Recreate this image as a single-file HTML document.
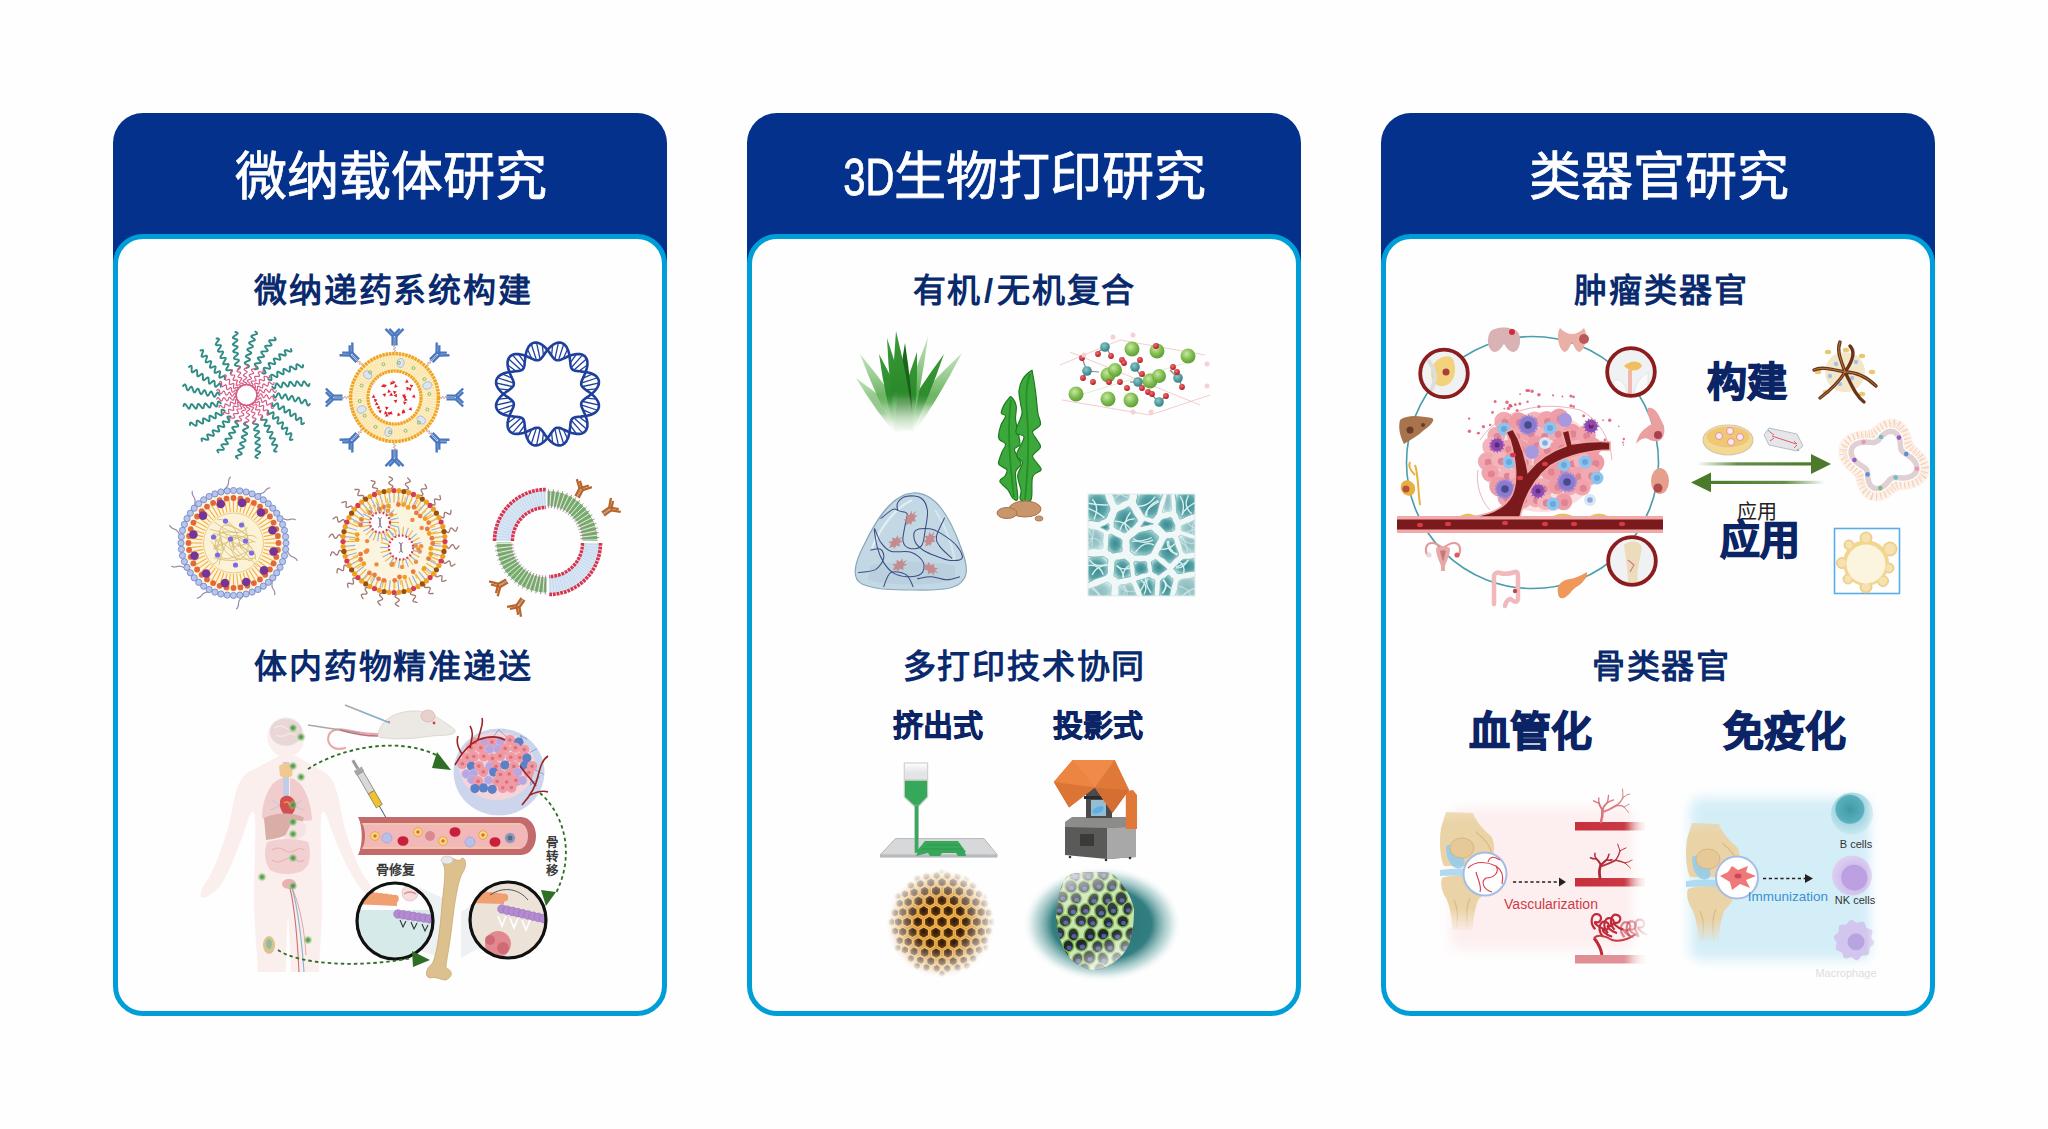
<!DOCTYPE html><html lang="zh-CN"><head><meta charset="utf-8"><style>
*{margin:0;padding:0;box-sizing:border-box}
html,body{width:2048px;height:1129px;background:#fefefe;overflow:hidden;font-family:"Liberation Sans",sans-serif}
.card{position:absolute;top:113px;width:554px;height:903px}
.hdr{position:absolute;left:0;top:0;width:554px;height:170px;background:#03318c;border-radius:30px 30px 0 0}
.panel{position:absolute;left:0;top:121px;width:554px;height:782px;background:#fefefe;border:5px solid #009ed8;border-radius:30px}
.t{position:absolute;white-space:nowrap;color:#0a2a6e;font-weight:700}
svg.ill{position:absolute;left:0;top:0}
</style></head><body><div class="card" style="left:113px"><div class="hdr"></div><div class="panel"></div></div>
<div class="card" style="left:747px"><div class="hdr"></div><div class="panel"></div></div>
<div class="card" style="left:1381px"><div class="hdr"></div><div class="panel"></div></div>
<svg class="ill" width="2048" height="1129" viewBox="0 0 2048 1129"><polyline points="273.5,395.0 274.1,396.4 274.7,397.3 275.3,397.6 275.9,397.1 276.6,396.0 277.2,394.7 277.8,393.6 278.5,393.2 279.1,393.5 279.7,394.6 280.3,396.0 280.8,397.4 281.4,398.3 282.0,398.5 282.7,398.0 283.3,396.9 284.0,395.6 284.6,394.7 285.3,394.3 285.9,394.8 286.5,395.9 287.0,397.3 287.5,398.7 288.1,399.6 288.7,399.8 289.4,399.2 290.0,398.1 290.7,396.9 291.4,396.0 292.1,395.8 292.6,396.3 293.2,397.5 293.7,399.0 294.2,400.4 294.7,401.3 295.3,401.4 296.0,400.8 296.7,399.7 297.4,398.6 298.1,397.7 298.8,397.6 299.3,398.2 299.8,399.5 300.3,401.0 300.8,402.4 301.3,403.3 301.9,403.4 302.6,402.7 303.3,401.7 304.1,400.5 304.8,399.8 305.4,399.8 306.0,400.5 306.4,401.8 306.8,403.4 307.3,404.8 307.8,405.6 308.4,405.6 309.1,405.0 309.9,403.9" fill="none" stroke="#2f8c85" stroke-width="1.9" stroke-linecap="round" stroke-linejoin="round"/>
<polyline points="272.2,403.3 272.3,404.8 272.6,405.9 273.1,406.4 273.9,406.1 274.8,405.2 275.8,404.2 276.7,403.4 277.5,403.2 277.9,403.7 278.2,404.8 278.3,406.4 278.4,407.9 278.7,408.9 279.2,409.3 280.0,409.0 280.9,408.2 282.0,407.2 282.9,406.5 283.6,406.3 284.0,406.9 284.2,408.2 284.3,409.7 284.4,411.2 284.6,412.2 285.2,412.6 286.0,412.2 286.9,411.4 288.0,410.5 288.9,409.9 289.6,409.8 290.0,410.5 290.1,411.8 290.1,413.4 290.2,414.9 290.4,415.9 291.0,416.2 291.8,415.8 292.8,415.0 293.8,414.1 294.8,413.6 295.4,413.6 295.7,414.4 295.8,415.8 295.8,417.4 295.8,418.8 296.1,419.8 296.6,420.1 297.5,419.7 298.5,418.9 299.5,418.1 300.4,417.6 301.1,417.8 301.3,418.6 301.4,420.0 301.3,421.6 301.3,423.1 301.5,424.0 302.1,424.2 303.0,423.8 304.0,423.1" fill="none" stroke="#2f8c85" stroke-width="1.9" stroke-linecap="round" stroke-linejoin="round"/>
<polyline points="268.3,410.9 268.0,412.3 268.0,413.5 268.3,414.0 269.1,414.0 270.3,413.5 271.5,412.8 272.7,412.3 273.4,412.3 273.7,413.0 273.6,414.2 273.2,415.7 272.9,417.1 272.8,418.2 273.2,418.7 274.0,418.7 275.2,418.2 276.5,417.5 277.6,417.1 278.3,417.2 278.5,418.0 278.3,419.2 277.9,420.7 277.5,422.1 277.4,423.2 277.8,423.7 278.7,423.6 279.9,423.1 281.2,422.6 282.2,422.2 282.9,422.4 283.1,423.2 282.8,424.5 282.3,426.0 281.9,427.4 281.8,428.4 282.2,428.9 283.1,428.8 284.4,428.3 285.6,427.8 286.7,427.6 287.3,427.8 287.3,428.7 287.0,430.0 286.5,431.5 286.0,432.9 286.0,433.9 286.4,434.3 287.3,434.2 288.6,433.8 289.8,433.3 290.8,433.2 291.4,433.5 291.4,434.4 291.0,435.8 290.4,437.3 289.9,438.6 289.9,439.6 290.3,440.0 291.3,439.9 292.5,439.5" fill="none" stroke="#2f8c85" stroke-width="1.9" stroke-linecap="round" stroke-linejoin="round"/>
<polyline points="262.4,416.8 261.6,418.1 261.2,419.2 261.4,419.8 262.1,420.0 263.4,419.9 264.8,419.7 266.0,419.6 266.7,419.8 266.8,420.5 266.4,421.6 265.5,422.9 264.8,424.2 264.4,425.2 264.5,425.8 265.4,426.0 266.6,425.9 268.0,425.7 269.2,425.7 269.8,426.0 269.8,426.7 269.3,427.8 268.4,429.1 267.6,430.4 267.2,431.4 267.4,432.0 268.3,432.1 269.6,432.1 271.0,431.9 272.1,431.9 272.6,432.3 272.5,433.1 271.9,434.2 271.0,435.5 270.2,436.8 269.8,437.7 270.0,438.3 270.9,438.5 272.2,438.4 273.6,438.3 274.6,438.4 275.1,438.8 274.9,439.7 274.2,440.8 273.2,442.1 272.4,443.3 272.0,444.2 272.3,444.7 273.2,444.9 274.5,444.9 275.9,444.8 276.9,445.0 277.3,445.5 277.0,446.3 276.2,447.5 275.2,448.8 274.3,449.9 274.0,450.8 274.3,451.3 275.2,451.5 276.5,451.5" fill="none" stroke="#2f8c85" stroke-width="1.9" stroke-linecap="round" stroke-linejoin="round"/>
<polyline points="254.8,420.7 253.7,421.7 253.0,422.6 253.0,423.2 253.6,423.6 254.9,423.9 256.3,424.1 257.5,424.4 258.1,424.9 258.0,425.5 257.2,426.4 256.0,427.4 254.9,428.4 254.2,429.2 254.1,429.9 254.9,430.3 256.1,430.6 257.5,430.8 258.6,431.2 259.1,431.7 258.9,432.4 258.0,433.3 256.8,434.2 255.6,435.2 255.0,436.0 255.0,436.6 255.7,437.1 257.0,437.4 258.3,437.7 259.4,438.0 259.8,438.6 259.5,439.3 258.5,440.2 257.3,441.1 256.1,442.0 255.4,442.8 255.5,443.4 256.3,443.9 257.5,444.2 258.9,444.5 259.8,445.0 260.2,445.5 259.7,446.3 258.7,447.1 257.4,448.0 256.2,448.9 255.6,449.7 255.7,450.3 256.5,450.7 257.7,451.1 259.0,451.5 259.9,451.9 260.2,452.5 259.6,453.3 258.5,454.1 257.1,455.0 256.0,455.8 255.4,456.6 255.5,457.2 256.3,457.6 257.6,458.0" fill="none" stroke="#2f8c85" stroke-width="1.9" stroke-linecap="round" stroke-linejoin="round"/>
<polyline points="246.5,422.0 245.1,422.6 244.2,423.2 243.9,423.8 244.4,424.4 245.5,425.1 246.8,425.7 247.9,426.3 248.3,427.0 248.0,427.6 246.9,428.2 245.5,428.8 244.1,429.3 243.2,429.9 243.0,430.5 243.5,431.2 244.6,431.8 245.9,432.5 246.8,433.1 247.2,433.8 246.7,434.4 245.6,435.0 244.2,435.5 242.8,436.0 241.9,436.6 241.7,437.2 242.3,437.9 243.4,438.5 244.6,439.2 245.5,439.9 245.7,440.6 245.2,441.1 244.0,441.7 242.5,442.2 241.1,442.7 240.2,443.2 240.1,443.8 240.7,444.5 241.8,445.2 242.9,445.9 243.8,446.6 243.9,447.3 243.3,447.8 242.0,448.3 240.5,448.8 239.1,449.3 238.2,449.8 238.1,450.4 238.8,451.1 239.8,451.8 241.0,452.6 241.7,453.3 241.7,453.9 241.0,454.5 239.7,454.9 238.1,455.3 236.7,455.8 235.9,456.3 235.9,456.9 236.5,457.6 237.6,458.4" fill="none" stroke="#2f8c85" stroke-width="1.9" stroke-linecap="round" stroke-linejoin="round"/>
<polyline points="238.2,420.7 236.7,420.8 235.6,421.1 235.1,421.6 235.4,422.4 236.3,423.3 237.3,424.3 238.1,425.2 238.3,426.0 237.8,426.4 236.7,426.7 235.1,426.8 233.6,426.9 232.6,427.2 232.2,427.7 232.5,428.5 233.3,429.4 234.3,430.5 235.0,431.4 235.2,432.1 234.6,432.5 233.3,432.7 231.8,432.8 230.3,432.9 229.3,433.1 228.9,433.7 229.3,434.5 230.1,435.4 231.0,436.5 231.6,437.4 231.7,438.1 231.0,438.5 229.7,438.6 228.1,438.6 226.6,438.7 225.6,438.9 225.3,439.5 225.7,440.3 226.5,441.3 227.4,442.3 227.9,443.3 227.9,443.9 227.1,444.2 225.7,444.3 224.1,444.3 222.7,444.3 221.7,444.6 221.4,445.1 221.8,446.0 222.6,447.0 223.4,448.0 223.9,448.9 223.7,449.6 222.9,449.8 221.5,449.9 219.9,449.8 218.4,449.8 217.5,450.0 217.3,450.6 217.7,451.5 218.4,452.5" fill="none" stroke="#2f8c85" stroke-width="1.9" stroke-linecap="round" stroke-linejoin="round"/>
<polyline points="230.6,416.8 229.2,416.5 228.0,416.5 227.5,416.8 227.5,417.6 228.0,418.8 228.7,420.0 229.2,421.2 229.2,421.9 228.5,422.2 227.3,422.1 225.8,421.7 224.4,421.4 223.3,421.3 222.8,421.7 222.8,422.5 223.3,423.7 224.0,425.0 224.4,426.1 224.3,426.8 223.5,427.0 222.3,426.8 220.8,426.4 219.4,426.0 218.3,425.9 217.8,426.3 217.9,427.2 218.4,428.4 218.9,429.7 219.3,430.7 219.1,431.4 218.3,431.6 217.0,431.3 215.5,430.8 214.1,430.4 213.1,430.3 212.6,430.7 212.7,431.6 213.2,432.9 213.7,434.1 213.9,435.2 213.7,435.8 212.8,435.8 211.5,435.5 210.0,435.0 208.6,434.5 207.6,434.5 207.2,434.9 207.3,435.8 207.7,437.1 208.2,438.3 208.3,439.3 208.0,439.9 207.1,439.9 205.7,439.5 204.2,438.9 202.9,438.4 201.9,438.4 201.5,438.8 201.6,439.8 202.0,441.0" fill="none" stroke="#2f8c85" stroke-width="1.9" stroke-linecap="round" stroke-linejoin="round"/>
<polyline points="224.7,410.9 223.4,410.1 222.3,409.7 221.7,409.9 221.5,410.6 221.6,411.9 221.8,413.3 221.9,414.5 221.7,415.2 221.0,415.3 219.9,414.9 218.6,414.0 217.3,413.3 216.3,412.9 215.7,413.0 215.5,413.9 215.6,415.1 215.8,416.5 215.8,417.7 215.5,418.3 214.8,418.3 213.7,417.8 212.4,416.9 211.1,416.1 210.1,415.7 209.5,415.9 209.4,416.8 209.4,418.1 209.6,419.5 209.6,420.6 209.2,421.1 208.4,421.0 207.3,420.4 206.0,419.5 204.7,418.7 203.8,418.3 203.2,418.5 203.0,419.4 203.1,420.7 203.2,422.1 203.1,423.1 202.7,423.6 201.8,423.4 200.7,422.7 199.4,421.7 198.2,420.9 197.3,420.5 196.8,420.8 196.6,421.7 196.6,423.0 196.7,424.4 196.5,425.4 196.0,425.8 195.2,425.5 194.0,424.7 192.7,423.7 191.6,422.8 190.7,422.5 190.2,422.8 190.0,423.7 190.0,425.0" fill="none" stroke="#2f8c85" stroke-width="1.9" stroke-linecap="round" stroke-linejoin="round"/>
<polyline points="220.8,403.3 219.8,402.2 218.9,401.5 218.3,401.5 217.9,402.1 217.6,403.4 217.4,404.8 217.1,406.0 216.6,406.6 216.0,406.5 215.1,405.7 214.1,404.5 213.1,403.4 212.3,402.7 211.6,402.6 211.2,403.4 210.9,404.6 210.7,406.0 210.3,407.1 209.8,407.6 209.1,407.4 208.2,406.5 207.3,405.3 206.3,404.1 205.5,403.5 204.9,403.5 204.4,404.2 204.1,405.5 203.8,406.8 203.5,407.9 202.9,408.3 202.2,408.0 201.3,407.0 200.4,405.8 199.5,404.6 198.7,403.9 198.1,404.0 197.6,404.8 197.3,406.0 197.0,407.4 196.5,408.3 196.0,408.7 195.2,408.2 194.4,407.2 193.5,405.9 192.6,404.7 191.8,404.1 191.2,404.2 190.8,405.0 190.4,406.2 190.0,407.5 189.6,408.4 189.0,408.7 188.2,408.1 187.4,407.0 186.5,405.6 185.7,404.5 184.9,403.9 184.3,404.0 183.9,404.8 183.5,406.1" fill="none" stroke="#2f8c85" stroke-width="1.9" stroke-linecap="round" stroke-linejoin="round"/>
<polyline points="219.5,395.0 218.9,393.6 218.3,392.7 217.7,392.4 217.1,392.9 216.4,394.0 215.8,395.3 215.2,396.4 214.5,396.8 213.9,396.5 213.3,395.4 212.7,394.0 212.2,392.6 211.6,391.7 211.0,391.5 210.3,392.0 209.7,393.1 209.0,394.4 208.4,395.3 207.7,395.7 207.1,395.2 206.5,394.1 206.0,392.7 205.5,391.3 204.9,390.4 204.3,390.2 203.6,390.8 203.0,391.9 202.3,393.1 201.6,394.0 200.9,394.2 200.4,393.7 199.8,392.5 199.3,391.0 198.8,389.6 198.3,388.7 197.7,388.6 197.0,389.2 196.3,390.3 195.6,391.4 194.9,392.3 194.2,392.4 193.7,391.8 193.2,390.5 192.7,389.0 192.2,387.6 191.7,386.7 191.1,386.6 190.4,387.3 189.7,388.3 188.9,389.5 188.2,390.2 187.6,390.2 187.0,389.5 186.6,388.2 186.2,386.6 185.7,385.2 185.2,384.4 184.6,384.4 183.9,385.0 183.1,386.1" fill="none" stroke="#2f8c85" stroke-width="1.9" stroke-linecap="round" stroke-linejoin="round"/>
<polyline points="220.8,386.7 220.7,385.2 220.4,384.1 219.9,383.6 219.1,383.9 218.2,384.8 217.2,385.8 216.3,386.6 215.5,386.8 215.1,386.3 214.8,385.2 214.7,383.6 214.6,382.1 214.3,381.1 213.8,380.7 213.0,381.0 212.1,381.8 211.0,382.8 210.1,383.5 209.4,383.7 209.0,383.1 208.8,381.8 208.7,380.3 208.6,378.8 208.4,377.8 207.8,377.4 207.0,377.8 206.1,378.6 205.0,379.5 204.1,380.1 203.4,380.2 203.0,379.5 202.9,378.2 202.9,376.6 202.8,375.1 202.6,374.1 202.0,373.8 201.2,374.2 200.2,375.0 199.2,375.9 198.2,376.4 197.6,376.4 197.3,375.6 197.2,374.2 197.2,372.6 197.2,371.2 196.9,370.2 196.4,369.9 195.5,370.3 194.5,371.1 193.5,371.9 192.6,372.4 191.9,372.2 191.7,371.4 191.6,370.0 191.7,368.4 191.7,366.9 191.5,366.0 190.9,365.8 190.0,366.2 189.0,366.9" fill="none" stroke="#2f8c85" stroke-width="1.9" stroke-linecap="round" stroke-linejoin="round"/>
<polyline points="224.7,379.1 225.0,377.7 225.0,376.5 224.7,376.0 223.9,376.0 222.7,376.5 221.5,377.2 220.3,377.7 219.6,377.7 219.3,377.0 219.4,375.8 219.8,374.3 220.1,372.9 220.2,371.8 219.8,371.3 219.0,371.3 217.8,371.8 216.5,372.5 215.4,372.9 214.7,372.8 214.5,372.0 214.7,370.8 215.1,369.3 215.5,367.9 215.6,366.8 215.2,366.3 214.3,366.4 213.1,366.9 211.8,367.4 210.8,367.8 210.1,367.6 209.9,366.8 210.2,365.5 210.7,364.0 211.1,362.6 211.2,361.6 210.8,361.1 209.9,361.2 208.6,361.7 207.4,362.2 206.3,362.4 205.7,362.2 205.7,361.3 206.0,360.0 206.5,358.5 207.0,357.1 207.0,356.1 206.6,355.7 205.7,355.8 204.4,356.2 203.2,356.7 202.2,356.8 201.6,356.5 201.6,355.6 202.0,354.2 202.6,352.7 203.1,351.4 203.1,350.4 202.7,350.0 201.7,350.1 200.5,350.5" fill="none" stroke="#2f8c85" stroke-width="1.9" stroke-linecap="round" stroke-linejoin="round"/>
<polyline points="230.6,373.2 231.4,371.9 231.8,370.8 231.6,370.2 230.9,370.0 229.6,370.1 228.2,370.3 227.0,370.4 226.3,370.2 226.2,369.5 226.6,368.4 227.5,367.1 228.2,365.8 228.6,364.8 228.5,364.2 227.6,364.0 226.4,364.1 225.0,364.3 223.8,364.3 223.2,364.0 223.2,363.3 223.7,362.2 224.6,360.9 225.4,359.6 225.8,358.6 225.6,358.0 224.7,357.9 223.4,357.9 222.0,358.1 220.9,358.1 220.4,357.7 220.5,356.9 221.1,355.8 222.0,354.5 222.8,353.2 223.2,352.3 223.0,351.7 222.1,351.5 220.8,351.6 219.4,351.7 218.4,351.6 217.9,351.2 218.1,350.3 218.8,349.2 219.8,347.9 220.6,346.7 221.0,345.8 220.7,345.3 219.8,345.1 218.5,345.1 217.1,345.2 216.1,345.0 215.7,344.5 216.0,343.7 216.8,342.5 217.8,341.2 218.7,340.1 219.0,339.2 218.7,338.7 217.8,338.5 216.5,338.5" fill="none" stroke="#2f8c85" stroke-width="1.9" stroke-linecap="round" stroke-linejoin="round"/>
<polyline points="238.2,369.3 239.3,368.3 240.0,367.4 240.0,366.8 239.4,366.4 238.1,366.1 236.7,365.9 235.5,365.6 234.9,365.1 235.0,364.5 235.8,363.6 237.0,362.6 238.1,361.6 238.8,360.8 238.9,360.1 238.1,359.7 236.9,359.4 235.5,359.2 234.4,358.8 233.9,358.3 234.1,357.6 235.0,356.7 236.2,355.8 237.4,354.8 238.0,354.0 238.0,353.4 237.3,352.9 236.0,352.6 234.7,352.3 233.6,352.0 233.2,351.4 233.5,350.7 234.5,349.8 235.7,348.9 236.9,348.0 237.6,347.2 237.5,346.6 236.7,346.1 235.5,345.8 234.1,345.5 233.2,345.0 232.8,344.5 233.3,343.7 234.3,342.9 235.6,342.0 236.8,341.1 237.4,340.3 237.3,339.7 236.5,339.3 235.3,338.9 234.0,338.5 233.1,338.1 232.8,337.5 233.4,336.7 234.5,335.9 235.9,335.0 237.0,334.2 237.6,333.4 237.5,332.8 236.7,332.4 235.4,332.0" fill="none" stroke="#2f8c85" stroke-width="1.9" stroke-linecap="round" stroke-linejoin="round"/>
<polyline points="246.5,368.0 247.9,367.4 248.8,366.8 249.1,366.2 248.6,365.6 247.5,364.9 246.2,364.3 245.1,363.7 244.7,363.0 245.0,362.4 246.1,361.8 247.5,361.2 248.9,360.7 249.8,360.1 250.0,359.5 249.5,358.8 248.4,358.2 247.1,357.5 246.2,356.9 245.8,356.2 246.3,355.6 247.4,355.0 248.8,354.5 250.2,354.0 251.1,353.4 251.3,352.8 250.7,352.1 249.6,351.5 248.4,350.8 247.5,350.1 247.3,349.4 247.8,348.9 249.0,348.3 250.5,347.8 251.9,347.3 252.8,346.8 252.9,346.2 252.3,345.5 251.2,344.8 250.1,344.1 249.2,343.4 249.1,342.7 249.7,342.2 251.0,341.7 252.5,341.2 253.9,340.7 254.8,340.2 254.9,339.6 254.2,338.9 253.2,338.2 252.0,337.4 251.3,336.7 251.3,336.1 252.0,335.5 253.3,335.1 254.9,334.7 256.3,334.2 257.1,333.7 257.1,333.1 256.5,332.4 255.4,331.6" fill="none" stroke="#2f8c85" stroke-width="1.9" stroke-linecap="round" stroke-linejoin="round"/>
<polyline points="254.8,369.3 256.3,369.2 257.4,368.9 257.9,368.4 257.6,367.6 256.7,366.7 255.7,365.7 254.9,364.8 254.7,364.0 255.2,363.6 256.3,363.3 257.9,363.2 259.4,363.1 260.4,362.8 260.8,362.3 260.5,361.5 259.7,360.6 258.7,359.5 258.0,358.6 257.8,357.9 258.4,357.5 259.7,357.3 261.2,357.2 262.7,357.1 263.7,356.9 264.1,356.3 263.7,355.5 262.9,354.6 262.0,353.5 261.4,352.6 261.3,351.9 262.0,351.5 263.3,351.4 264.9,351.4 266.4,351.3 267.4,351.1 267.7,350.5 267.3,349.7 266.5,348.7 265.6,347.7 265.1,346.7 265.1,346.1 265.9,345.8 267.3,345.7 268.9,345.7 270.3,345.7 271.3,345.4 271.6,344.9 271.2,344.0 270.4,343.0 269.6,342.0 269.1,341.1 269.3,340.4 270.1,340.2 271.5,340.1 273.1,340.2 274.6,340.2 275.5,340.0 275.7,339.4 275.3,338.5 274.6,337.5" fill="none" stroke="#2f8c85" stroke-width="1.9" stroke-linecap="round" stroke-linejoin="round"/>
<polyline points="262.4,373.2 263.8,373.5 265.0,373.5 265.5,373.2 265.5,372.4 265.0,371.2 264.3,370.0 263.8,368.8 263.8,368.1 264.5,367.8 265.7,367.9 267.2,368.3 268.6,368.6 269.7,368.7 270.2,368.3 270.2,367.5 269.7,366.3 269.0,365.0 268.6,363.9 268.7,363.2 269.5,363.0 270.7,363.2 272.2,363.6 273.6,364.0 274.7,364.1 275.2,363.7 275.1,362.8 274.6,361.6 274.1,360.3 273.7,359.3 273.9,358.6 274.7,358.4 276.0,358.7 277.5,359.2 278.9,359.6 279.9,359.7 280.4,359.3 280.3,358.4 279.8,357.1 279.3,355.9 279.1,354.8 279.3,354.2 280.2,354.2 281.5,354.5 283.0,355.0 284.4,355.5 285.4,355.5 285.8,355.1 285.7,354.2 285.3,352.9 284.8,351.7 284.7,350.7 285.0,350.1 285.9,350.1 287.3,350.5 288.8,351.1 290.1,351.6 291.1,351.6 291.5,351.2 291.4,350.2 291.0,349.0" fill="none" stroke="#2f8c85" stroke-width="1.9" stroke-linecap="round" stroke-linejoin="round"/>
<polyline points="268.3,379.1 269.6,379.9 270.7,380.3 271.3,380.1 271.5,379.4 271.4,378.1 271.2,376.7 271.1,375.5 271.3,374.8 272.0,374.7 273.1,375.1 274.4,376.0 275.7,376.7 276.7,377.1 277.3,377.0 277.5,376.1 277.4,374.9 277.2,373.5 277.2,372.3 277.5,371.7 278.2,371.7 279.3,372.2 280.6,373.1 281.9,373.9 282.9,374.3 283.5,374.1 283.6,373.2 283.6,371.9 283.4,370.5 283.4,369.4 283.8,368.9 284.6,369.0 285.7,369.6 287.0,370.5 288.3,371.3 289.2,371.7 289.8,371.5 290.0,370.6 289.9,369.3 289.8,367.9 289.9,366.9 290.3,366.4 291.2,366.6 292.3,367.3 293.6,368.3 294.8,369.1 295.7,369.5 296.2,369.2 296.4,368.3 296.4,367.0 296.3,365.6 296.5,364.6 297.0,364.2 297.8,364.5 299.0,365.3 300.3,366.3 301.4,367.2 302.3,367.5 302.8,367.2 303.0,366.3 303.0,365.0" fill="none" stroke="#2f8c85" stroke-width="1.9" stroke-linecap="round" stroke-linejoin="round"/>
<polyline points="272.2,386.7 273.2,387.8 274.1,388.5 274.7,388.5 275.1,387.9 275.4,386.6 275.6,385.2 275.9,384.0 276.4,383.4 277.0,383.5 277.9,384.3 278.9,385.5 279.9,386.6 280.7,387.3 281.4,387.4 281.8,386.6 282.1,385.4 282.3,384.0 282.7,382.9 283.2,382.4 283.9,382.6 284.8,383.5 285.7,384.7 286.7,385.9 287.5,386.5 288.1,386.5 288.6,385.8 288.9,384.5 289.2,383.2 289.5,382.1 290.1,381.7 290.8,382.0 291.7,383.0 292.6,384.2 293.5,385.4 294.3,386.1 294.9,386.0 295.4,385.2 295.7,384.0 296.0,382.6 296.5,381.7 297.0,381.3 297.8,381.8 298.6,382.8 299.5,384.1 300.4,385.3 301.2,385.9 301.8,385.8 302.2,385.0 302.6,383.8 303.0,382.5 303.4,381.6 304.0,381.3 304.8,381.9 305.6,383.0 306.5,384.4 307.3,385.5 308.1,386.1 308.7,386.0 309.1,385.2 309.5,383.9" fill="none" stroke="#2f8c85" stroke-width="1.9" stroke-linecap="round" stroke-linejoin="round"/>
<polyline points="256.5,395.0 256.8,395.6 257.2,396.2 257.5,396.6 257.8,396.8 258.1,396.8 258.5,396.6 258.8,396.1 259.2,395.6 259.5,395.0 259.9,394.5 260.2,394.1 260.5,393.8 260.9,393.8 261.2,394.0 261.5,394.4 261.8,394.9 262.2,395.6 262.5,396.2 262.8,396.8 263.1,397.3 263.4,397.6 263.7,397.6 264.1,397.4 264.4,397.1 264.8,396.6 265.1,396.0 265.5,395.5 265.9,395.1 266.2,394.8 266.6,394.8 266.9,395.0 267.2,395.4 267.5,396.0 267.8,396.6 268.0,397.3 268.3,398.0 268.6,398.5 268.9,398.8 269.2,398.9 269.6,398.8 269.9,398.5 270.3,398.0 270.7,397.5 271.1,397.0 271.5,396.6 271.8,396.4 272.2,396.3 272.5,396.5 272.8,396.9 273.1,397.5 273.3,398.2 273.6,398.9 273.8,399.6 274.1,400.1 274.3,400.5 274.7,400.7 275.0,400.6 275.4,400.4 275.8,400.0 276.2,399.5" fill="none" stroke="#d65a86" stroke-width="1.2" stroke-linecap="round" stroke-linejoin="round"/>
<polyline points="256.1,397.8 256.2,398.5 256.4,399.1 256.6,399.6 256.8,399.9 257.2,400.0 257.6,399.9 258.0,399.6 258.5,399.1 259.0,398.7 259.5,398.3 259.9,398.0 260.3,397.8 260.6,397.9 260.9,398.1 261.1,398.6 261.2,399.2 261.4,400.0 261.5,400.7 261.6,401.4 261.8,401.9 262.0,402.2 262.3,402.4 262.7,402.3 263.1,402.0 263.6,401.7 264.1,401.2 264.6,400.8 265.1,400.5 265.5,400.4 265.8,400.5 266.1,400.7 266.3,401.2 266.4,401.8 266.4,402.6 266.5,403.3 266.6,404.0 266.7,404.6 266.9,405.0 267.2,405.2 267.6,405.1 268.0,404.9 268.5,404.6 269.0,404.2 269.5,403.9 270.0,403.6 270.4,403.4 270.8,403.5 271.0,403.8 271.2,404.2 271.3,404.9 271.3,405.6 271.4,406.4 271.4,407.1 271.5,407.7 271.7,408.1 271.9,408.4 272.3,408.4 272.7,408.3 273.2,408.0 273.7,407.7" fill="none" stroke="#d65a86" stroke-width="1.2" stroke-linecap="round" stroke-linejoin="round"/>
<polyline points="254.9,400.4 254.8,401.1 254.8,401.8 254.9,402.3 255.0,402.6 255.3,402.8 255.7,402.8 256.2,402.6 256.8,402.4 257.4,402.1 258.0,401.8 258.5,401.6 259.0,401.6 259.3,401.7 259.4,402.1 259.5,402.6 259.5,403.2 259.4,403.9 259.3,404.7 259.2,405.3 259.2,405.9 259.3,406.3 259.6,406.5 260.0,406.5 260.4,406.4 261.0,406.2 261.6,405.9 262.2,405.7 262.7,405.6 263.2,405.5 263.5,405.7 263.7,406.0 263.7,406.5 263.6,407.2 263.5,407.9 263.4,408.6 263.3,409.3 263.2,409.9 263.3,410.3 263.5,410.6 263.9,410.7 264.3,410.6 264.9,410.4 265.5,410.2 266.1,410.0 266.6,409.9 267.1,409.8 267.4,410.0 267.6,410.3 267.6,410.8 267.5,411.4 267.3,412.2 267.2,412.9 267.0,413.6 266.9,414.2 266.9,414.7 267.1,415.0 267.4,415.1 267.9,415.1 268.4,415.0 269.0,414.8" fill="none" stroke="#d65a86" stroke-width="1.2" stroke-linecap="round" stroke-linejoin="round"/>
<polyline points="253.0,402.6 252.8,403.2 252.6,403.8 252.5,404.4 252.5,404.7 252.8,405.0 253.2,405.1 253.7,405.1 254.3,405.0 255.0,404.8 255.6,404.8 256.2,404.7 256.6,404.8 256.8,405.1 256.9,405.4 256.8,405.9 256.6,406.5 256.3,407.2 256.0,407.9 255.8,408.5 255.6,409.0 255.6,409.4 255.8,409.7 256.2,409.9 256.7,409.9 257.3,409.8 257.9,409.8 258.6,409.7 259.1,409.7 259.5,409.8 259.8,410.0 259.9,410.4 259.8,410.9 259.5,411.5 259.2,412.1 258.8,412.8 258.5,413.4 258.3,414.0 258.3,414.4 258.4,414.7 258.7,414.9 259.2,415.0 259.8,415.0 260.4,414.9 261.1,414.9 261.6,414.9 262.1,415.0 262.3,415.3 262.4,415.6 262.3,416.1 262.0,416.7 261.7,417.3 261.3,418.0 260.9,418.6 260.7,419.2 260.6,419.6 260.6,420.0 260.9,420.2 261.3,420.3 261.9,420.4 262.5,420.4" fill="none" stroke="#d65a86" stroke-width="1.2" stroke-linecap="round" stroke-linejoin="round"/>
<polyline points="250.7,404.1 250.2,404.7 249.8,405.2 249.6,405.7 249.6,406.0 249.7,406.3 250.1,406.5 250.6,406.7 251.2,406.8 251.9,406.8 252.5,406.9 253.0,407.1 253.4,407.3 253.6,407.6 253.6,408.0 253.3,408.4 252.9,408.9 252.5,409.5 252.0,410.0 251.6,410.6 251.3,411.0 251.2,411.4 251.3,411.7 251.6,412.0 252.1,412.2 252.6,412.3 253.3,412.4 253.9,412.5 254.5,412.7 254.8,412.9 255.0,413.2 255.0,413.5 254.7,414.0 254.3,414.5 253.9,415.0 253.3,415.6 252.9,416.1 252.5,416.6 252.3,417.0 252.4,417.3 252.6,417.6 253.1,417.8 253.6,417.9 254.3,418.1 254.9,418.2 255.4,418.4 255.8,418.6 256.0,418.9 255.9,419.3 255.7,419.7 255.3,420.2 254.8,420.7 254.2,421.2 253.7,421.7 253.3,422.2 253.1,422.6 253.0,423.0 253.2,423.3 253.6,423.5 254.1,423.7 254.7,423.8" fill="none" stroke="#d65a86" stroke-width="1.2" stroke-linecap="round" stroke-linejoin="round"/>
<polyline points="247.9,404.9 247.3,405.3 246.8,405.7 246.5,406.1 246.3,406.5 246.4,406.8 246.7,407.1 247.1,407.4 247.7,407.6 248.3,407.9 248.9,408.1 249.4,408.4 249.7,408.7 249.8,409.1 249.6,409.4 249.3,409.8 248.8,410.2 248.2,410.6 247.5,411.0 247.0,411.4 246.6,411.7 246.4,412.1 246.4,412.4 246.6,412.7 247.0,413.0 247.5,413.3 248.1,413.6 248.7,413.9 249.2,414.2 249.5,414.5 249.6,414.8 249.4,415.2 249.1,415.5 248.5,415.9 247.9,416.3 247.3,416.7 246.7,417.0 246.2,417.4 245.9,417.7 245.9,418.1 246.0,418.4 246.4,418.7 246.9,419.0 247.4,419.3 248.0,419.6 248.5,420.0 248.8,420.3 248.8,420.6 248.7,421.0 248.4,421.3 247.8,421.6 247.2,422.0 246.5,422.3 245.9,422.7 245.3,423.0 245.0,423.3 244.9,423.7 245.0,424.0 245.3,424.3 245.8,424.7 246.3,425.0" fill="none" stroke="#d65a86" stroke-width="1.2" stroke-linecap="round" stroke-linejoin="round"/>
<polyline points="245.1,404.9 244.4,405.1 243.8,405.4 243.4,405.6 243.1,405.9 243.1,406.3 243.3,406.6 243.6,407.0 244.1,407.4 244.6,407.9 245.1,408.3 245.5,408.7 245.7,409.1 245.7,409.4 245.4,409.7 245.0,410.0 244.4,410.2 243.7,410.4 243.0,410.6 242.4,410.8 241.9,411.1 241.6,411.4 241.5,411.7 241.6,412.0 241.9,412.4 242.3,412.9 242.8,413.3 243.3,413.7 243.7,414.2 243.8,414.6 243.8,414.9 243.6,415.2 243.2,415.4 242.6,415.6 241.9,415.8 241.1,416.0 240.5,416.2 239.9,416.4 239.5,416.6 239.4,416.9 239.5,417.3 239.7,417.7 240.1,418.1 240.6,418.6 241.0,419.1 241.3,419.5 241.5,419.9 241.5,420.2 241.3,420.5 240.9,420.8 240.3,420.9 239.5,421.1 238.8,421.2 238.1,421.4 237.5,421.5 237.1,421.8 236.9,422.1 236.9,422.4 237.1,422.8 237.4,423.3 237.8,423.7" fill="none" stroke="#d65a86" stroke-width="1.2" stroke-linecap="round" stroke-linejoin="round"/>
<polyline points="242.3,404.1 241.6,404.1 241.0,404.2 240.5,404.3 240.2,404.5 240.0,404.9 240.1,405.2 240.3,405.7 240.7,406.3 241.1,406.8 241.4,407.4 241.7,407.9 241.8,408.3 241.6,408.6 241.3,408.8 240.8,408.9 240.2,409.0 239.5,409.0 238.7,409.0 238.1,409.0 237.5,409.1 237.1,409.3 237.0,409.6 237.0,410.0 237.2,410.4 237.5,411.0 237.8,411.5 238.1,412.1 238.4,412.6 238.4,413.0 238.3,413.3 238.0,413.6 237.5,413.7 236.9,413.7 236.2,413.7 235.4,413.6 234.7,413.6 234.1,413.7 233.7,413.8 233.5,414.0 233.5,414.4 233.6,414.9 233.8,415.4 234.2,416.0 234.4,416.5 234.7,417.1 234.7,417.5 234.6,417.8 234.3,418.0 233.8,418.1 233.2,418.1 232.5,418.1 231.7,418.0 231.0,417.9 230.4,417.9 229.9,418.0 229.6,418.2 229.6,418.6 229.6,419.0 229.8,419.5 230.1,420.1" fill="none" stroke="#d65a86" stroke-width="1.2" stroke-linecap="round" stroke-linejoin="round"/>
<polyline points="240.0,402.6 239.3,402.4 238.6,402.3 238.1,402.3 237.7,402.4 237.5,402.6 237.5,403.0 237.6,403.6 237.8,404.2 238.0,404.8 238.1,405.4 238.2,406.0 238.2,406.4 238.0,406.7 237.7,406.8 237.1,406.8 236.5,406.7 235.8,406.5 235.1,406.2 234.5,406.1 233.9,406.0 233.5,406.1 233.3,406.3 233.2,406.7 233.2,407.2 233.3,407.8 233.5,408.4 233.7,409.0 233.7,409.6 233.7,410.0 233.5,410.3 233.2,410.4 232.6,410.4 232.0,410.2 231.3,410.0 230.6,409.8 230.0,409.5 229.4,409.4 229.0,409.4 228.7,409.6 228.5,410.0 228.5,410.4 228.6,411.0 228.7,411.6 228.9,412.3 228.9,412.8 228.9,413.3 228.7,413.5 228.3,413.7 227.8,413.6 227.2,413.5 226.5,413.2 225.8,412.9 225.2,412.6 224.6,412.5 224.1,412.4 223.8,412.6 223.6,412.9 223.5,413.3 223.6,413.9 223.7,414.5" fill="none" stroke="#d65a86" stroke-width="1.2" stroke-linecap="round" stroke-linejoin="round"/>
<polyline points="238.1,400.4 237.5,400.1 236.9,399.8 236.4,399.6 236.0,399.6 235.7,399.8 235.6,400.2 235.5,400.7 235.5,401.3 235.5,402.0 235.5,402.7 235.5,403.2 235.3,403.6 235.1,403.8 234.7,403.8 234.2,403.7 233.6,403.4 233.0,403.0 232.4,402.6 231.8,402.2 231.3,402.0 230.9,402.0 230.6,402.1 230.4,402.4 230.3,402.9 230.3,403.5 230.3,404.2 230.2,404.8 230.2,405.4 230.0,405.8 229.7,406.0 229.3,406.0 228.9,405.9 228.3,405.5 227.7,405.1 227.1,404.7 226.5,404.3 226.0,404.0 225.6,403.9 225.3,404.0 225.0,404.3 224.9,404.7 224.8,405.3 224.8,406.0 224.7,406.6 224.6,407.1 224.4,407.6 224.2,407.8 223.8,407.8 223.3,407.6 222.8,407.3 222.2,406.8 221.6,406.4 221.1,405.9 220.5,405.6 220.1,405.4 219.8,405.4 219.5,405.7 219.3,406.1 219.2,406.6 219.1,407.3" fill="none" stroke="#d65a86" stroke-width="1.2" stroke-linecap="round" stroke-linejoin="round"/>
<polyline points="236.9,397.8 236.4,397.3 235.9,396.9 235.5,396.6 235.1,396.5 234.8,396.6 234.6,396.9 234.4,397.4 234.2,398.0 234.0,398.6 233.8,399.3 233.6,399.8 233.4,400.1 233.0,400.2 232.7,400.1 232.3,399.8 231.8,399.4 231.3,398.9 230.8,398.3 230.4,397.8 230.0,397.5 229.6,397.3 229.2,397.3 229.0,397.6 228.7,398.1 228.5,398.6 228.3,399.3 228.1,399.9 227.9,400.4 227.6,400.7 227.3,400.8 226.9,400.8 226.5,400.5 226.1,400.0 225.6,399.4 225.2,398.8 224.7,398.3 224.3,397.9 223.9,397.7 223.6,397.7 223.3,397.9 223.0,398.3 222.8,398.8 222.6,399.4 222.3,400.0 222.1,400.5 221.8,400.8 221.5,401.0 221.1,400.9 220.7,400.6 220.3,400.1 219.9,399.5 219.4,398.9 219.0,398.3 218.6,397.8 218.2,397.6 217.9,397.5 217.6,397.6 217.3,398.0 217.0,398.5 216.8,399.1" fill="none" stroke="#d65a86" stroke-width="1.2" stroke-linecap="round" stroke-linejoin="round"/>
<polyline points="236.5,395.0 236.2,394.4 235.8,393.8 235.5,393.4 235.2,393.2 234.9,393.2 234.5,393.4 234.2,393.9 233.8,394.4 233.5,395.0 233.1,395.5 232.8,395.9 232.5,396.2 232.1,396.2 231.8,396.0 231.5,395.6 231.2,395.1 230.8,394.4 230.5,393.8 230.2,393.2 229.9,392.7 229.6,392.4 229.3,392.4 228.9,392.6 228.6,392.9 228.2,393.4 227.9,394.0 227.5,394.5 227.1,394.9 226.8,395.2 226.4,395.2 226.1,395.0 225.8,394.6 225.5,394.0 225.2,393.4 225.0,392.7 224.7,392.0 224.4,391.5 224.1,391.2 223.8,391.1 223.4,391.2 223.1,391.5 222.7,392.0 222.3,392.5 221.9,393.0 221.5,393.4 221.2,393.6 220.8,393.7 220.5,393.5 220.2,393.1 219.9,392.5 219.7,391.8 219.4,391.1 219.2,390.4 218.9,389.9 218.7,389.5 218.3,389.3 218.0,389.4 217.6,389.6 217.2,390.0 216.8,390.5" fill="none" stroke="#d65a86" stroke-width="1.2" stroke-linecap="round" stroke-linejoin="round"/>
<polyline points="236.9,392.2 236.8,391.5 236.6,390.9 236.4,390.4 236.2,390.1 235.8,390.0 235.4,390.1 235.0,390.4 234.5,390.9 234.0,391.3 233.5,391.7 233.1,392.0 232.7,392.2 232.4,392.1 232.1,391.9 231.9,391.4 231.8,390.8 231.6,390.0 231.5,389.3 231.4,388.6 231.2,388.1 231.0,387.8 230.7,387.6 230.3,387.7 229.9,388.0 229.4,388.3 228.9,388.8 228.4,389.2 227.9,389.5 227.5,389.6 227.2,389.5 226.9,389.3 226.7,388.8 226.6,388.2 226.6,387.4 226.5,386.7 226.4,386.0 226.3,385.4 226.1,385.0 225.8,384.8 225.4,384.9 225.0,385.1 224.5,385.4 224.0,385.8 223.5,386.1 223.0,386.4 222.6,386.6 222.2,386.5 222.0,386.2 221.8,385.8 221.7,385.1 221.7,384.4 221.6,383.6 221.6,382.9 221.5,382.3 221.3,381.9 221.1,381.6 220.7,381.6 220.3,381.7 219.8,382.0 219.3,382.3" fill="none" stroke="#d65a86" stroke-width="1.2" stroke-linecap="round" stroke-linejoin="round"/>
<polyline points="238.1,389.6 238.2,388.9 238.2,388.2 238.1,387.7 238.0,387.4 237.7,387.2 237.3,387.2 236.8,387.4 236.2,387.6 235.6,387.9 235.0,388.2 234.5,388.4 234.0,388.4 233.7,388.3 233.6,387.9 233.5,387.4 233.5,386.8 233.6,386.1 233.7,385.3 233.8,384.7 233.8,384.1 233.7,383.7 233.4,383.5 233.0,383.5 232.6,383.6 232.0,383.8 231.4,384.1 230.8,384.3 230.3,384.4 229.8,384.5 229.5,384.3 229.3,384.0 229.3,383.5 229.4,382.8 229.5,382.1 229.6,381.4 229.7,380.7 229.8,380.1 229.7,379.7 229.5,379.4 229.1,379.3 228.7,379.4 228.1,379.6 227.5,379.8 226.9,380.0 226.4,380.1 225.9,380.2 225.6,380.0 225.4,379.7 225.4,379.2 225.5,378.6 225.7,377.8 225.8,377.1 226.0,376.4 226.1,375.8 226.1,375.3 225.9,375.0 225.6,374.9 225.1,374.9 224.6,375.0 224.0,375.2" fill="none" stroke="#d65a86" stroke-width="1.2" stroke-linecap="round" stroke-linejoin="round"/>
<polyline points="240.0,387.4 240.2,386.8 240.4,386.2 240.5,385.6 240.5,385.3 240.2,385.0 239.8,384.9 239.3,384.9 238.7,385.0 238.0,385.2 237.4,385.2 236.8,385.3 236.4,385.2 236.2,384.9 236.1,384.6 236.2,384.1 236.4,383.5 236.7,382.8 237.0,382.1 237.2,381.5 237.4,381.0 237.4,380.6 237.2,380.3 236.8,380.1 236.3,380.1 235.7,380.2 235.1,380.2 234.4,380.3 233.9,380.3 233.5,380.2 233.2,380.0 233.1,379.6 233.2,379.1 233.5,378.5 233.8,377.9 234.2,377.2 234.5,376.6 234.7,376.0 234.7,375.6 234.6,375.3 234.3,375.1 233.8,375.0 233.2,375.0 232.6,375.1 231.9,375.1 231.4,375.1 230.9,375.0 230.7,374.7 230.6,374.4 230.7,373.9 231.0,373.3 231.3,372.7 231.7,372.0 232.1,371.4 232.3,370.8 232.4,370.4 232.4,370.0 232.1,369.8 231.7,369.7 231.1,369.6 230.5,369.6" fill="none" stroke="#d65a86" stroke-width="1.2" stroke-linecap="round" stroke-linejoin="round"/>
<polyline points="242.3,385.9 242.8,385.3 243.2,384.8 243.4,384.3 243.4,384.0 243.3,383.7 242.9,383.5 242.4,383.3 241.8,383.2 241.1,383.2 240.5,383.1 240.0,382.9 239.6,382.7 239.4,382.4 239.4,382.0 239.7,381.6 240.1,381.1 240.5,380.5 241.0,380.0 241.4,379.4 241.7,379.0 241.8,378.6 241.7,378.3 241.4,378.0 240.9,377.8 240.4,377.7 239.7,377.6 239.1,377.5 238.5,377.3 238.2,377.1 238.0,376.8 238.0,376.5 238.3,376.0 238.7,375.5 239.1,375.0 239.7,374.4 240.1,373.9 240.5,373.4 240.7,373.0 240.6,372.7 240.4,372.4 239.9,372.2 239.4,372.1 238.7,371.9 238.1,371.8 237.6,371.6 237.2,371.4 237.0,371.1 237.1,370.7 237.3,370.3 237.7,369.8 238.2,369.3 238.8,368.8 239.3,368.3 239.7,367.8 239.9,367.4 240.0,367.0 239.8,366.7 239.4,366.5 238.9,366.3 238.3,366.2" fill="none" stroke="#d65a86" stroke-width="1.2" stroke-linecap="round" stroke-linejoin="round"/>
<polyline points="245.1,385.1 245.7,384.7 246.2,384.3 246.5,383.9 246.7,383.5 246.6,383.2 246.3,382.9 245.9,382.6 245.3,382.4 244.7,382.1 244.1,381.9 243.6,381.6 243.3,381.3 243.2,380.9 243.4,380.6 243.7,380.2 244.2,379.8 244.8,379.4 245.5,379.0 246.0,378.6 246.4,378.3 246.6,377.9 246.6,377.6 246.4,377.3 246.0,377.0 245.5,376.7 244.9,376.4 244.3,376.1 243.8,375.8 243.5,375.5 243.4,375.2 243.6,374.8 243.9,374.5 244.5,374.1 245.1,373.7 245.7,373.3 246.3,373.0 246.8,372.6 247.1,372.3 247.1,371.9 247.0,371.6 246.6,371.3 246.1,371.0 245.6,370.7 245.0,370.4 244.5,370.0 244.2,369.7 244.2,369.4 244.3,369.0 244.6,368.7 245.2,368.4 245.8,368.0 246.5,367.7 247.1,367.3 247.7,367.0 248.0,366.7 248.1,366.3 248.0,366.0 247.7,365.7 247.2,365.3 246.7,365.0" fill="none" stroke="#d65a86" stroke-width="1.2" stroke-linecap="round" stroke-linejoin="round"/>
<polyline points="247.9,385.1 248.6,384.9 249.2,384.6 249.6,384.4 249.9,384.1 249.9,383.7 249.7,383.4 249.4,383.0 248.9,382.6 248.4,382.1 247.9,381.7 247.5,381.3 247.3,380.9 247.3,380.6 247.6,380.3 248.0,380.0 248.6,379.8 249.3,379.6 250.0,379.4 250.6,379.2 251.1,378.9 251.4,378.6 251.5,378.3 251.4,378.0 251.1,377.6 250.7,377.1 250.2,376.7 249.7,376.3 249.3,375.8 249.2,375.4 249.2,375.1 249.4,374.8 249.8,374.6 250.4,374.4 251.1,374.2 251.9,374.0 252.5,373.8 253.1,373.6 253.5,373.4 253.6,373.1 253.5,372.7 253.3,372.3 252.9,371.9 252.4,371.4 252.0,370.9 251.7,370.5 251.5,370.1 251.5,369.8 251.7,369.5 252.1,369.2 252.7,369.1 253.5,368.9 254.2,368.8 254.9,368.6 255.5,368.5 255.9,368.2 256.1,367.9 256.1,367.6 255.9,367.2 255.6,366.7 255.2,366.3" fill="none" stroke="#d65a86" stroke-width="1.2" stroke-linecap="round" stroke-linejoin="round"/>
<polyline points="250.7,385.9 251.4,385.9 252.0,385.8 252.5,385.7 252.8,385.5 253.0,385.1 252.9,384.8 252.7,384.3 252.3,383.7 251.9,383.2 251.6,382.6 251.3,382.1 251.2,381.7 251.4,381.4 251.7,381.2 252.2,381.1 252.8,381.0 253.5,381.0 254.3,381.0 254.9,381.0 255.5,380.9 255.9,380.7 256.0,380.4 256.0,380.0 255.8,379.6 255.5,379.0 255.2,378.5 254.9,377.9 254.6,377.4 254.6,377.0 254.7,376.7 255.0,376.4 255.5,376.3 256.1,376.3 256.8,376.3 257.6,376.4 258.3,376.4 258.9,376.3 259.3,376.2 259.5,376.0 259.5,375.6 259.4,375.1 259.2,374.6 258.8,374.0 258.6,373.5 258.3,372.9 258.3,372.5 258.4,372.2 258.7,372.0 259.2,371.9 259.8,371.9 260.5,371.9 261.3,372.0 262.0,372.1 262.6,372.1 263.1,372.0 263.4,371.8 263.4,371.4 263.4,371.0 263.2,370.5 262.9,369.9" fill="none" stroke="#d65a86" stroke-width="1.2" stroke-linecap="round" stroke-linejoin="round"/>
<polyline points="253.0,387.4 253.7,387.6 254.4,387.7 254.9,387.7 255.3,387.6 255.5,387.4 255.5,387.0 255.4,386.4 255.2,385.8 255.0,385.2 254.9,384.6 254.8,384.0 254.8,383.6 255.0,383.3 255.3,383.2 255.9,383.2 256.5,383.3 257.2,383.5 257.9,383.8 258.5,383.9 259.1,384.0 259.5,383.9 259.7,383.7 259.8,383.3 259.8,382.8 259.7,382.2 259.5,381.6 259.3,381.0 259.3,380.4 259.3,380.0 259.5,379.7 259.8,379.6 260.4,379.6 261.0,379.8 261.7,380.0 262.4,380.2 263.0,380.5 263.6,380.6 264.0,380.6 264.3,380.4 264.5,380.0 264.5,379.6 264.4,379.0 264.3,378.4 264.1,377.7 264.1,377.2 264.1,376.7 264.3,376.5 264.7,376.3 265.2,376.4 265.8,376.5 266.5,376.8 267.2,377.1 267.8,377.4 268.4,377.5 268.9,377.6 269.2,377.4 269.4,377.1 269.5,376.7 269.4,376.1 269.3,375.5" fill="none" stroke="#d65a86" stroke-width="1.2" stroke-linecap="round" stroke-linejoin="round"/>
<polyline points="254.9,389.6 255.5,389.9 256.1,390.2 256.6,390.4 257.0,390.4 257.3,390.2 257.4,389.8 257.5,389.3 257.5,388.7 257.5,388.0 257.5,387.3 257.5,386.8 257.7,386.4 257.9,386.2 258.3,386.2 258.8,386.3 259.4,386.6 260.0,387.0 260.6,387.4 261.2,387.8 261.7,388.0 262.1,388.0 262.4,387.9 262.6,387.6 262.7,387.1 262.7,386.5 262.7,385.8 262.8,385.2 262.8,384.6 263.0,384.2 263.3,384.0 263.7,384.0 264.1,384.1 264.7,384.5 265.3,384.9 265.9,385.3 266.5,385.7 267.0,386.0 267.4,386.1 267.7,386.0 268.0,385.7 268.1,385.3 268.2,384.7 268.2,384.0 268.3,383.4 268.4,382.9 268.6,382.4 268.8,382.2 269.2,382.2 269.7,382.4 270.2,382.7 270.8,383.2 271.4,383.6 271.9,384.1 272.5,384.4 272.9,384.6 273.2,384.6 273.5,384.3 273.7,383.9 273.8,383.4 273.9,382.7" fill="none" stroke="#d65a86" stroke-width="1.2" stroke-linecap="round" stroke-linejoin="round"/>
<polyline points="256.1,392.2 256.6,392.7 257.1,393.1 257.5,393.4 257.9,393.5 258.2,393.4 258.4,393.1 258.6,392.6 258.8,392.0 259.0,391.4 259.2,390.7 259.4,390.2 259.6,389.9 260.0,389.8 260.3,389.9 260.7,390.2 261.2,390.6 261.7,391.1 262.2,391.7 262.6,392.2 263.0,392.5 263.4,392.7 263.8,392.7 264.0,392.4 264.3,391.9 264.5,391.4 264.7,390.7 264.9,390.1 265.1,389.6 265.4,389.3 265.7,389.2 266.1,389.2 266.5,389.5 266.9,390.0 267.4,390.6 267.8,391.2 268.3,391.7 268.7,392.1 269.1,392.3 269.4,392.3 269.7,392.1 270.0,391.7 270.2,391.2 270.4,390.6 270.7,390.0 270.9,389.5 271.2,389.2 271.5,389.0 271.9,389.1 272.3,389.4 272.7,389.9 273.1,390.5 273.6,391.1 274.0,391.7 274.4,392.2 274.8,392.4 275.1,392.5 275.4,392.4 275.7,392.0 276.0,391.5 276.2,390.9" fill="none" stroke="#d65a86" stroke-width="1.2" stroke-linecap="round" stroke-linejoin="round"/>
<circle cx="246.5" cy="395" r="10.5" fill="none" stroke="#d65a86" stroke-width="1.6"/>
<circle cx="246.5" cy="395" r="8.5" fill="#fefefe"/>
<circle cx="394.5" cy="397.5" r="44" fill="#fbe4a8"/>
<line x1="422.5" y1="397.5" x2="436.5" y2="397.5" stroke="#fff4d8" stroke-width="0.9"/>
<line x1="422.4" y1="399.5" x2="436.4" y2="400.4" stroke="#fff4d8" stroke-width="0.9"/>
<line x1="422.2" y1="401.4" x2="436.1" y2="403.3" stroke="#fff4d8" stroke-width="0.9"/>
<line x1="421.9" y1="403.3" x2="435.6" y2="406.2" stroke="#fff4d8" stroke-width="0.9"/>
<line x1="421.4" y1="405.2" x2="434.9" y2="409.1" stroke="#fff4d8" stroke-width="0.9"/>
<line x1="420.8" y1="407.1" x2="434.0" y2="411.9" stroke="#fff4d8" stroke-width="0.9"/>
<line x1="420.1" y1="408.9" x2="432.9" y2="414.6" stroke="#fff4d8" stroke-width="0.9"/>
<line x1="419.2" y1="410.6" x2="431.6" y2="417.2" stroke="#fff4d8" stroke-width="0.9"/>
<line x1="418.2" y1="412.3" x2="430.1" y2="419.8" stroke="#fff4d8" stroke-width="0.9"/>
<line x1="417.2" y1="414.0" x2="428.5" y2="422.2" stroke="#fff4d8" stroke-width="0.9"/>
<line x1="415.9" y1="415.5" x2="426.7" y2="424.5" stroke="#fff4d8" stroke-width="0.9"/>
<line x1="414.6" y1="417.0" x2="424.7" y2="426.7" stroke="#fff4d8" stroke-width="0.9"/>
<line x1="413.2" y1="418.3" x2="422.6" y2="428.7" stroke="#fff4d8" stroke-width="0.9"/>
<line x1="411.7" y1="419.6" x2="420.4" y2="430.6" stroke="#fff4d8" stroke-width="0.9"/>
<line x1="410.2" y1="420.7" x2="418.0" y2="432.3" stroke="#fff4d8" stroke-width="0.9"/>
<line x1="408.5" y1="421.7" x2="415.5" y2="433.9" stroke="#fff4d8" stroke-width="0.9"/>
<line x1="406.8" y1="422.7" x2="412.9" y2="435.2" stroke="#fff4d8" stroke-width="0.9"/>
<line x1="405.0" y1="423.5" x2="410.2" y2="436.4" stroke="#fff4d8" stroke-width="0.9"/>
<line x1="403.2" y1="424.1" x2="407.5" y2="437.4" stroke="#fff4d8" stroke-width="0.9"/>
<line x1="401.3" y1="424.7" x2="404.7" y2="438.3" stroke="#fff4d8" stroke-width="0.9"/>
<line x1="399.4" y1="425.1" x2="401.8" y2="438.9" stroke="#fff4d8" stroke-width="0.9"/>
<line x1="397.4" y1="425.3" x2="398.9" y2="439.3" stroke="#fff4d8" stroke-width="0.9"/>
<line x1="395.5" y1="425.5" x2="396.0" y2="439.5" stroke="#fff4d8" stroke-width="0.9"/>
<line x1="393.5" y1="425.5" x2="393.0" y2="439.5" stroke="#fff4d8" stroke-width="0.9"/>
<line x1="391.6" y1="425.3" x2="390.1" y2="439.3" stroke="#fff4d8" stroke-width="0.9"/>
<line x1="389.6" y1="425.1" x2="387.2" y2="438.9" stroke="#fff4d8" stroke-width="0.9"/>
<line x1="387.7" y1="424.7" x2="384.3" y2="438.3" stroke="#fff4d8" stroke-width="0.9"/>
<line x1="385.8" y1="424.1" x2="381.5" y2="437.4" stroke="#fff4d8" stroke-width="0.9"/>
<line x1="384.0" y1="423.5" x2="378.8" y2="436.4" stroke="#fff4d8" stroke-width="0.9"/>
<line x1="382.2" y1="422.7" x2="376.1" y2="435.2" stroke="#fff4d8" stroke-width="0.9"/>
<line x1="380.5" y1="421.7" x2="373.5" y2="433.9" stroke="#fff4d8" stroke-width="0.9"/>
<line x1="378.8" y1="420.7" x2="371.0" y2="432.3" stroke="#fff4d8" stroke-width="0.9"/>
<line x1="377.3" y1="419.6" x2="368.6" y2="430.6" stroke="#fff4d8" stroke-width="0.9"/>
<line x1="375.8" y1="418.3" x2="366.4" y2="428.7" stroke="#fff4d8" stroke-width="0.9"/>
<line x1="374.4" y1="417.0" x2="364.3" y2="426.7" stroke="#fff4d8" stroke-width="0.9"/>
<line x1="373.1" y1="415.5" x2="362.3" y2="424.5" stroke="#fff4d8" stroke-width="0.9"/>
<line x1="371.8" y1="414.0" x2="360.5" y2="422.2" stroke="#fff4d8" stroke-width="0.9"/>
<line x1="370.8" y1="412.3" x2="358.9" y2="419.8" stroke="#fff4d8" stroke-width="0.9"/>
<line x1="369.8" y1="410.6" x2="357.4" y2="417.2" stroke="#fff4d8" stroke-width="0.9"/>
<line x1="368.9" y1="408.9" x2="356.1" y2="414.6" stroke="#fff4d8" stroke-width="0.9"/>
<line x1="368.2" y1="407.1" x2="355.0" y2="411.9" stroke="#fff4d8" stroke-width="0.9"/>
<line x1="367.6" y1="405.2" x2="354.1" y2="409.1" stroke="#fff4d8" stroke-width="0.9"/>
<line x1="367.1" y1="403.3" x2="353.4" y2="406.2" stroke="#fff4d8" stroke-width="0.9"/>
<line x1="366.8" y1="401.4" x2="352.9" y2="403.3" stroke="#fff4d8" stroke-width="0.9"/>
<line x1="366.6" y1="399.5" x2="352.6" y2="400.4" stroke="#fff4d8" stroke-width="0.9"/>
<line x1="366.5" y1="397.5" x2="352.5" y2="397.5" stroke="#fff4d8" stroke-width="0.9"/>
<line x1="366.6" y1="395.5" x2="352.6" y2="394.6" stroke="#fff4d8" stroke-width="0.9"/>
<line x1="366.8" y1="393.6" x2="352.9" y2="391.7" stroke="#fff4d8" stroke-width="0.9"/>
<line x1="367.1" y1="391.7" x2="353.4" y2="388.8" stroke="#fff4d8" stroke-width="0.9"/>
<line x1="367.6" y1="389.8" x2="354.1" y2="385.9" stroke="#fff4d8" stroke-width="0.9"/>
<line x1="368.2" y1="387.9" x2="355.0" y2="383.1" stroke="#fff4d8" stroke-width="0.9"/>
<line x1="368.9" y1="386.1" x2="356.1" y2="380.4" stroke="#fff4d8" stroke-width="0.9"/>
<line x1="369.8" y1="384.4" x2="357.4" y2="377.8" stroke="#fff4d8" stroke-width="0.9"/>
<line x1="370.8" y1="382.7" x2="358.9" y2="375.2" stroke="#fff4d8" stroke-width="0.9"/>
<line x1="371.8" y1="381.0" x2="360.5" y2="372.8" stroke="#fff4d8" stroke-width="0.9"/>
<line x1="373.1" y1="379.5" x2="362.3" y2="370.5" stroke="#fff4d8" stroke-width="0.9"/>
<line x1="374.4" y1="378.0" x2="364.3" y2="368.3" stroke="#fff4d8" stroke-width="0.9"/>
<line x1="375.8" y1="376.7" x2="366.4" y2="366.3" stroke="#fff4d8" stroke-width="0.9"/>
<line x1="377.3" y1="375.4" x2="368.6" y2="364.4" stroke="#fff4d8" stroke-width="0.9"/>
<line x1="378.8" y1="374.3" x2="371.0" y2="362.7" stroke="#fff4d8" stroke-width="0.9"/>
<line x1="380.5" y1="373.3" x2="373.5" y2="361.1" stroke="#fff4d8" stroke-width="0.9"/>
<line x1="382.2" y1="372.3" x2="376.1" y2="359.8" stroke="#fff4d8" stroke-width="0.9"/>
<line x1="384.0" y1="371.5" x2="378.8" y2="358.6" stroke="#fff4d8" stroke-width="0.9"/>
<line x1="385.8" y1="370.9" x2="381.5" y2="357.6" stroke="#fff4d8" stroke-width="0.9"/>
<line x1="387.7" y1="370.3" x2="384.3" y2="356.7" stroke="#fff4d8" stroke-width="0.9"/>
<line x1="389.6" y1="369.9" x2="387.2" y2="356.1" stroke="#fff4d8" stroke-width="0.9"/>
<line x1="391.6" y1="369.7" x2="390.1" y2="355.7" stroke="#fff4d8" stroke-width="0.9"/>
<line x1="393.5" y1="369.5" x2="393.0" y2="355.5" stroke="#fff4d8" stroke-width="0.9"/>
<line x1="395.5" y1="369.5" x2="396.0" y2="355.5" stroke="#fff4d8" stroke-width="0.9"/>
<line x1="397.4" y1="369.7" x2="398.9" y2="355.7" stroke="#fff4d8" stroke-width="0.9"/>
<line x1="399.4" y1="369.9" x2="401.8" y2="356.1" stroke="#fff4d8" stroke-width="0.9"/>
<line x1="401.3" y1="370.3" x2="404.7" y2="356.7" stroke="#fff4d8" stroke-width="0.9"/>
<line x1="403.2" y1="370.9" x2="407.5" y2="357.6" stroke="#fff4d8" stroke-width="0.9"/>
<line x1="405.0" y1="371.5" x2="410.2" y2="358.6" stroke="#fff4d8" stroke-width="0.9"/>
<line x1="406.8" y1="372.3" x2="412.9" y2="359.8" stroke="#fff4d8" stroke-width="0.9"/>
<line x1="408.5" y1="373.3" x2="415.5" y2="361.1" stroke="#fff4d8" stroke-width="0.9"/>
<line x1="410.2" y1="374.3" x2="418.0" y2="362.7" stroke="#fff4d8" stroke-width="0.9"/>
<line x1="411.7" y1="375.4" x2="420.4" y2="364.4" stroke="#fff4d8" stroke-width="0.9"/>
<line x1="413.2" y1="376.7" x2="422.6" y2="366.3" stroke="#fff4d8" stroke-width="0.9"/>
<line x1="414.6" y1="378.0" x2="424.7" y2="368.3" stroke="#fff4d8" stroke-width="0.9"/>
<line x1="415.9" y1="379.5" x2="426.7" y2="370.5" stroke="#fff4d8" stroke-width="0.9"/>
<line x1="417.2" y1="381.0" x2="428.5" y2="372.8" stroke="#fff4d8" stroke-width="0.9"/>
<line x1="418.2" y1="382.7" x2="430.1" y2="375.2" stroke="#fff4d8" stroke-width="0.9"/>
<line x1="419.2" y1="384.4" x2="431.6" y2="377.8" stroke="#fff4d8" stroke-width="0.9"/>
<line x1="420.1" y1="386.1" x2="432.9" y2="380.4" stroke="#fff4d8" stroke-width="0.9"/>
<line x1="420.8" y1="387.9" x2="434.0" y2="383.1" stroke="#fff4d8" stroke-width="0.9"/>
<line x1="421.4" y1="389.8" x2="434.9" y2="385.9" stroke="#fff4d8" stroke-width="0.9"/>
<line x1="421.9" y1="391.7" x2="435.6" y2="388.8" stroke="#fff4d8" stroke-width="0.9"/>
<line x1="422.2" y1="393.6" x2="436.1" y2="391.7" stroke="#fff4d8" stroke-width="0.9"/>
<line x1="422.4" y1="395.5" x2="436.4" y2="394.6" stroke="#fff4d8" stroke-width="0.9"/>
<circle cx="394.5" cy="397.5" r="44" fill="none" stroke="#f0a424" stroke-width="3.4" stroke-dasharray="2.6 0.7"/>
<circle cx="394.5" cy="397.5" r="26.5" fill="#fefefe" stroke="#f0a424" stroke-width="3.2" stroke-dasharray="2.4 0.6"/>
<path d="M384.6,392.7 l1.9,3.2 l-3.8,0 z" fill="#e0202a" transform="rotate(44.4 384.6 394.7)"/>
<path d="M383.0,383.9 l1.9,3.2 l-3.8,0 z" fill="#e0202a" transform="rotate(7.9 383.0 385.9)"/>
<path d="M395.8,393.4 l1.9,3.2 l-3.8,0 z" fill="#e0202a" transform="rotate(31.1 395.8 395.4)"/>
<path d="M404.7,395.2 l1.9,3.2 l-3.8,0 z" fill="#e0202a" transform="rotate(56.4 404.7 397.2)"/>
<path d="M375.5,398.3 l1.9,3.2 l-3.8,0 z" fill="#e0202a" transform="rotate(76.7 375.5 400.3)"/>
<path d="M389.1,389.4 l1.9,3.2 l-3.8,0 z" fill="#e0202a" transform="rotate(104.2 389.1 391.4)"/>
<path d="M393.7,380.3 l1.9,3.2 l-3.8,0 z" fill="#e0202a" transform="rotate(80.6 393.7 382.3)"/>
<path d="M394.8,390.2 l1.9,3.2 l-3.8,0 z" fill="#e0202a" transform="rotate(70.9 394.8 392.2)"/>
<path d="M405.8,397.7 l1.9,3.2 l-3.8,0 z" fill="#e0202a" transform="rotate(103.9 405.8 399.7)"/>
<path d="M391.7,381.3 l1.9,3.2 l-3.8,0 z" fill="#e0202a" transform="rotate(105.5 391.7 383.3)"/>
<path d="M410.1,387.1 l1.9,3.2 l-3.8,0 z" fill="#e0202a" transform="rotate(47.4 410.1 389.1)"/>
<path d="M376.8,401.9 l1.9,3.2 l-3.8,0 z" fill="#e0202a" transform="rotate(112.3 376.8 403.9)"/>
<path d="M410.6,406.8 l1.9,3.2 l-3.8,0 z" fill="#e0202a" transform="rotate(16.3 410.6 408.8)"/>
<path d="M404.1,393.4 l1.9,3.2 l-3.8,0 z" fill="#e0202a" transform="rotate(52.3 404.1 395.4)"/>
<path d="M389.3,411.3 l1.9,3.2 l-3.8,0 z" fill="#e0202a" transform="rotate(60.9 389.3 413.3)"/>
<path d="M386.8,406.0 l1.9,3.2 l-3.8,0 z" fill="#e0202a" transform="rotate(70.2 386.8 408.0)"/>
<path d="M407.7,386.4 l1.9,3.2 l-3.8,0 z" fill="#e0202a" transform="rotate(81.8 407.7 388.4)"/>
<path d="M407.0,379.6 l1.9,3.2 l-3.8,0 z" fill="#e0202a" transform="rotate(118.9 407.0 381.6)"/>
<path d="M403.4,410.2 l1.9,3.2 l-3.8,0 z" fill="#e0202a" transform="rotate(103.3 403.4 412.2)"/>
<path d="M411.5,383.9 l1.9,3.2 l-3.8,0 z" fill="#e0202a" transform="rotate(68.3 411.5 385.9)"/>
<path d="M398.8,412.7 l1.9,3.2 l-3.8,0 z" fill="#e0202a" transform="rotate(99.8 398.8 414.7)"/>
<path d="M391.0,411.0 l1.9,3.2 l-3.8,0 z" fill="#e0202a" transform="rotate(7.6 391.0 413.0)"/>
<path d="M413.9,394.3 l1.9,3.2 l-3.8,0 z" fill="#e0202a" transform="rotate(10.6 413.9 396.3)"/>
<path d="M378.6,405.5 l1.9,3.2 l-3.8,0 z" fill="#e0202a" transform="rotate(18.1 378.6 407.5)"/>
<path d="M395.8,384.2 l1.9,3.2 l-3.8,0 z" fill="#e0202a" transform="rotate(104.7 395.8 386.2)"/>
<path d="M391.2,392.6 l1.9,3.2 l-3.8,0 z" fill="#e0202a" transform="rotate(5.4 391.2 394.6)"/>
<path d="M385.8,411.0 l1.9,3.2 l-3.8,0 z" fill="#e0202a" transform="rotate(105.7 385.8 413.0)"/>
<path d="M373.7,394.8 l1.9,3.2 l-3.8,0 z" fill="#e0202a" transform="rotate(119.8 373.7 396.8)"/>
<path d="M404.8,400.9 l1.9,3.2 l-3.8,0 z" fill="#e0202a" transform="rotate(72.0 404.8 402.9)"/>
<path d="M395.7,399.0 l1.9,3.2 l-3.8,0 z" fill="#e0202a" transform="rotate(49.0 395.7 401.0)"/>
<path d="M403.6,409.1 l1.9,3.2 l-3.8,0 z" fill="#e0202a" transform="rotate(5.1 403.6 411.1)"/>
<path d="M386.9,413.5 l1.9,3.2 l-3.8,0 z" fill="#e0202a" transform="rotate(115.0 386.9 415.5)"/>
<path d="M380.2,409.3 l1.9,3.2 l-3.8,0 z" fill="#e0202a" transform="rotate(55.2 380.2 411.3)"/>
<path d="M385.1,383.6 l1.9,3.2 l-3.8,0 z" fill="#e0202a" transform="rotate(71.5 385.1 385.6)"/>
<ellipse cx="400.6" cy="363.0" rx="3.6" ry="4.6" fill="#dde4f2" stroke="#9aa8c8" stroke-width="0.6" transform="rotate(10.0 400.6 363.0)"/>
<ellipse cx="427.4" cy="385.5" rx="3.6" ry="4.6" fill="#dde4f2" stroke="#9aa8c8" stroke-width="0.6" transform="rotate(70.0 427.4 385.5)"/>
<ellipse cx="421.3" cy="420.0" rx="3.6" ry="4.6" fill="#dde4f2" stroke="#9aa8c8" stroke-width="0.6" transform="rotate(130.0 421.3 420.0)"/>
<ellipse cx="388.4" cy="432.0" rx="3.6" ry="4.6" fill="#dde4f2" stroke="#9aa8c8" stroke-width="0.6" transform="rotate(190.0 388.4 432.0)"/>
<ellipse cx="361.6" cy="409.5" rx="3.6" ry="4.6" fill="#dde4f2" stroke="#9aa8c8" stroke-width="0.6" transform="rotate(250.0 361.6 409.5)"/>
<ellipse cx="367.7" cy="375.0" rx="3.6" ry="4.6" fill="#dde4f2" stroke="#9aa8c8" stroke-width="0.6" transform="rotate(310.0 367.7 375.0)"/>
<circle cx="427.4" cy="409.5" r="1.5" fill="none" stroke="#7ab86a" stroke-width="0.9"/>
<circle cx="418.9" cy="422.6" r="1.5" fill="none" stroke="#7ab86a" stroke-width="0.9"/>
<circle cx="405.6" cy="430.7" r="1.5" fill="none" stroke="#7ab86a" stroke-width="0.9"/>
<circle cx="390.1" cy="432.2" r="1.5" fill="none" stroke="#7ab86a" stroke-width="0.9"/>
<circle cx="375.5" cy="426.9" r="1.5" fill="none" stroke="#7ab86a" stroke-width="0.9"/>
<circle cx="364.6" cy="415.8" r="1.5" fill="none" stroke="#7ab86a" stroke-width="0.9"/>
<circle cx="359.7" cy="401.0" r="1.5" fill="none" stroke="#7ab86a" stroke-width="0.9"/>
<circle cx="361.6" cy="385.5" r="1.5" fill="none" stroke="#7ab86a" stroke-width="0.9"/>
<circle cx="370.1" cy="372.4" r="1.5" fill="none" stroke="#7ab86a" stroke-width="0.9"/>
<circle cx="383.4" cy="364.3" r="1.5" fill="none" stroke="#7ab86a" stroke-width="0.9"/>
<circle cx="398.9" cy="362.8" r="1.5" fill="none" stroke="#7ab86a" stroke-width="0.9"/>
<circle cx="413.5" cy="368.1" r="1.5" fill="none" stroke="#7ab86a" stroke-width="0.9"/>
<circle cx="424.4" cy="379.2" r="1.5" fill="none" stroke="#7ab86a" stroke-width="0.9"/>
<circle cx="429.3" cy="394.0" r="1.5" fill="none" stroke="#7ab86a" stroke-width="0.9"/>
<polyline points="394.5,351.5 394.7,351.4 395.0,351.3 395.2,351.2 395.4,351.1 395.5,351.0 395.6,350.9 395.7,350.8 395.7,350.7 395.6,350.6 395.5,350.5 395.4,350.4 395.2,350.3 395.0,350.2 394.7,350.1 394.5,350.0 394.3,349.9 394.0,349.8 393.8,349.7 393.6,349.6 393.5,349.5 393.4,349.4 393.3,349.3 393.3,349.2 393.4,349.1 393.5,349.0 393.6,348.9 393.8,348.8 394.0,348.7 394.3,348.6 394.5,348.5 394.7,348.4 395.0,348.3 395.2,348.2 395.4,348.1 395.5,348.0 395.6,347.9 395.7,347.8 395.7,347.7 395.6,347.6 395.5,347.5 395.4,347.4 395.2,347.3 395.0,347.2 394.7,347.1 394.5,347.0 394.3,346.9 394.0,346.8 393.8,346.7 393.6,346.6 393.5,346.5 393.4,346.4 393.3,346.3 393.3,346.2 393.4,346.1 393.5,346.0 393.6,345.9 393.8,345.8 394.0,345.7 394.3,345.6 394.5,345.5" fill="none" stroke="#b08070" stroke-width="0.8" stroke-linecap="round" stroke-linejoin="round"/>
<g transform="translate(394.5,345.5) rotate(0.0)"><path d="M-1.9,0 L-1.9,-9.350000000000001 L-9.0,-16.66" stroke="#4a78c0" stroke-width="2.4" fill="none"/><path d="M-1.9,-9.350000000000001 L5.3,-16.66" stroke="#4a78c0" stroke-width="2.4" fill="none"/><path d="M1.9,0 L1.9,-9.350000000000001 L-5.3,-16.66" stroke="#4a78c0" stroke-width="2.4" fill="none"/><path d="M1.9,-9.350000000000001 L9.0,-16.66" stroke="#4a78c0" stroke-width="2.4" fill="none"/><path d="M0,0 L0,-8.5" stroke="#2a4a90" stroke-width="0.6" fill="none"/></g>
<polyline points="427.0,365.0 427.3,365.1 427.5,365.2 427.7,365.3 427.9,365.3 428.1,365.4 428.3,365.4 428.4,365.3 428.4,365.3 428.5,365.1 428.5,365.0 428.4,364.8 428.4,364.6 428.3,364.4 428.2,364.2 428.1,363.9 428.0,363.7 427.9,363.4 427.8,363.2 427.7,363.0 427.7,362.8 427.7,362.7 427.7,362.6 427.8,362.5 427.9,362.5 428.1,362.5 428.2,362.5 428.4,362.6 428.7,362.6 428.9,362.7 429.1,362.9 429.4,363.0 429.6,363.1 429.9,363.1 430.1,363.2 430.2,363.2 430.4,363.2 430.5,363.2 430.6,363.1 430.6,363.0 430.6,362.9 430.6,362.7 430.5,362.5 430.4,362.3 430.3,362.0 430.2,361.8 430.1,361.5 430.0,361.3 429.9,361.1 429.9,360.9 429.8,360.7 429.8,360.6 429.9,360.5 429.9,360.4 430.0,360.3 430.2,360.3 430.4,360.4 430.6,360.4 430.8,360.5 431.0,360.6 431.3,360.7" fill="none" stroke="#b08070" stroke-width="0.8" stroke-linecap="round" stroke-linejoin="round"/>
<g transform="translate(431.3,360.7) rotate(45.0)"><path d="M-1.9,0 L-1.9,-9.350000000000001 L-9.0,-16.66" stroke="#4a78c0" stroke-width="2.4" fill="none"/><path d="M-1.9,-9.350000000000001 L5.3,-16.66" stroke="#4a78c0" stroke-width="2.4" fill="none"/><path d="M1.9,0 L1.9,-9.350000000000001 L-5.3,-16.66" stroke="#4a78c0" stroke-width="2.4" fill="none"/><path d="M1.9,-9.350000000000001 L9.0,-16.66" stroke="#4a78c0" stroke-width="2.4" fill="none"/><path d="M0,0 L0,-8.5" stroke="#2a4a90" stroke-width="0.6" fill="none"/></g>
<polyline points="440.5,397.5 440.6,397.7 440.7,398.0 440.8,398.2 440.9,398.4 441.0,398.5 441.1,398.6 441.2,398.7 441.3,398.7 441.4,398.6 441.5,398.5 441.6,398.4 441.7,398.2 441.8,398.0 441.9,397.7 442.0,397.5 442.1,397.3 442.2,397.0 442.3,396.8 442.4,396.6 442.5,396.5 442.6,396.4 442.7,396.3 442.8,396.3 442.9,396.4 443.0,396.5 443.1,396.6 443.2,396.8 443.3,397.0 443.4,397.3 443.5,397.5 443.6,397.7 443.7,398.0 443.8,398.2 443.9,398.4 444.0,398.5 444.1,398.6 444.2,398.7 444.3,398.7 444.4,398.6 444.5,398.5 444.6,398.4 444.7,398.2 444.8,398.0 444.9,397.7 445.0,397.5 445.1,397.3 445.2,397.0 445.3,396.8 445.4,396.6 445.5,396.5 445.6,396.4 445.7,396.3 445.8,396.3 445.9,396.4 446.0,396.5 446.1,396.6 446.2,396.8 446.3,397.0 446.4,397.3 446.5,397.5" fill="none" stroke="#b08070" stroke-width="0.8" stroke-linecap="round" stroke-linejoin="round"/>
<g transform="translate(446.5,397.5) rotate(90.0)"><path d="M-1.9,0 L-1.9,-9.350000000000001 L-9.0,-16.66" stroke="#4a78c0" stroke-width="2.4" fill="none"/><path d="M-1.9,-9.350000000000001 L5.3,-16.66" stroke="#4a78c0" stroke-width="2.4" fill="none"/><path d="M1.9,0 L1.9,-9.350000000000001 L-5.3,-16.66" stroke="#4a78c0" stroke-width="2.4" fill="none"/><path d="M1.9,-9.350000000000001 L9.0,-16.66" stroke="#4a78c0" stroke-width="2.4" fill="none"/><path d="M0,0 L0,-8.5" stroke="#2a4a90" stroke-width="0.6" fill="none"/></g>
<polyline points="427.0,430.0 426.9,430.3 426.8,430.5 426.7,430.7 426.7,430.9 426.6,431.1 426.6,431.3 426.7,431.4 426.7,431.4 426.9,431.5 427.0,431.5 427.2,431.4 427.4,431.4 427.6,431.3 427.8,431.2 428.1,431.1 428.3,431.0 428.6,430.9 428.8,430.8 429.0,430.7 429.2,430.7 429.3,430.7 429.4,430.7 429.5,430.8 429.5,430.9 429.5,431.1 429.5,431.2 429.4,431.4 429.4,431.7 429.3,431.9 429.1,432.1 429.0,432.4 428.9,432.6 428.9,432.9 428.8,433.1 428.8,433.2 428.8,433.4 428.8,433.5 428.9,433.6 429.0,433.6 429.1,433.6 429.3,433.6 429.5,433.5 429.7,433.4 430.0,433.3 430.2,433.2 430.5,433.1 430.7,433.0 430.9,432.9 431.1,432.9 431.3,432.8 431.4,432.8 431.5,432.9 431.6,432.9 431.7,433.0 431.7,433.2 431.6,433.4 431.6,433.6 431.5,433.8 431.4,434.0 431.3,434.3" fill="none" stroke="#b08070" stroke-width="0.8" stroke-linecap="round" stroke-linejoin="round"/>
<g transform="translate(431.3,434.3) rotate(135.0)"><path d="M-1.9,0 L-1.9,-9.350000000000001 L-9.0,-16.66" stroke="#4a78c0" stroke-width="2.4" fill="none"/><path d="M-1.9,-9.350000000000001 L5.3,-16.66" stroke="#4a78c0" stroke-width="2.4" fill="none"/><path d="M1.9,0 L1.9,-9.350000000000001 L-5.3,-16.66" stroke="#4a78c0" stroke-width="2.4" fill="none"/><path d="M1.9,-9.350000000000001 L9.0,-16.66" stroke="#4a78c0" stroke-width="2.4" fill="none"/><path d="M0,0 L0,-8.5" stroke="#2a4a90" stroke-width="0.6" fill="none"/></g>
<polyline points="394.5,443.5 394.3,443.6 394.0,443.7 393.8,443.8 393.6,443.9 393.5,444.0 393.4,444.1 393.3,444.2 393.3,444.3 393.4,444.4 393.5,444.5 393.6,444.6 393.8,444.7 394.0,444.8 394.3,444.9 394.5,445.0 394.7,445.1 395.0,445.2 395.2,445.3 395.4,445.4 395.5,445.5 395.6,445.6 395.7,445.7 395.7,445.8 395.6,445.9 395.5,446.0 395.4,446.1 395.2,446.2 395.0,446.3 394.7,446.4 394.5,446.5 394.3,446.6 394.0,446.7 393.8,446.8 393.6,446.9 393.5,447.0 393.4,447.1 393.3,447.2 393.3,447.3 393.4,447.4 393.5,447.5 393.6,447.6 393.8,447.7 394.0,447.8 394.3,447.9 394.5,448.0 394.7,448.1 395.0,448.2 395.2,448.3 395.4,448.4 395.5,448.5 395.6,448.6 395.7,448.7 395.7,448.8 395.6,448.9 395.5,449.0 395.4,449.1 395.2,449.2 395.0,449.3 394.7,449.4 394.5,449.5" fill="none" stroke="#b08070" stroke-width="0.8" stroke-linecap="round" stroke-linejoin="round"/>
<g transform="translate(394.5,449.5) rotate(180.0)"><path d="M-1.9,0 L-1.9,-9.350000000000001 L-9.0,-16.66" stroke="#4a78c0" stroke-width="2.4" fill="none"/><path d="M-1.9,-9.350000000000001 L5.3,-16.66" stroke="#4a78c0" stroke-width="2.4" fill="none"/><path d="M1.9,0 L1.9,-9.350000000000001 L-5.3,-16.66" stroke="#4a78c0" stroke-width="2.4" fill="none"/><path d="M1.9,-9.350000000000001 L9.0,-16.66" stroke="#4a78c0" stroke-width="2.4" fill="none"/><path d="M0,0 L0,-8.5" stroke="#2a4a90" stroke-width="0.6" fill="none"/></g>
<polyline points="362.0,430.0 361.7,429.9 361.5,429.8 361.3,429.7 361.1,429.7 360.9,429.6 360.7,429.6 360.6,429.7 360.6,429.7 360.5,429.9 360.5,430.0 360.6,430.2 360.6,430.4 360.7,430.6 360.8,430.8 360.9,431.1 361.0,431.3 361.1,431.6 361.2,431.8 361.3,432.0 361.3,432.2 361.3,432.3 361.3,432.4 361.2,432.5 361.1,432.5 360.9,432.5 360.8,432.5 360.6,432.4 360.3,432.4 360.1,432.3 359.9,432.1 359.6,432.0 359.4,431.9 359.1,431.9 358.9,431.8 358.8,431.8 358.6,431.8 358.5,431.8 358.4,431.9 358.4,432.0 358.4,432.1 358.4,432.3 358.5,432.5 358.6,432.7 358.7,433.0 358.8,433.2 358.9,433.5 359.0,433.7 359.1,433.9 359.1,434.1 359.2,434.3 359.2,434.4 359.1,434.5 359.1,434.6 359.0,434.7 358.8,434.7 358.6,434.6 358.4,434.6 358.2,434.5 358.0,434.4 357.7,434.3" fill="none" stroke="#b08070" stroke-width="0.8" stroke-linecap="round" stroke-linejoin="round"/>
<g transform="translate(357.7,434.3) rotate(225.0)"><path d="M-1.9,0 L-1.9,-9.350000000000001 L-9.0,-16.66" stroke="#4a78c0" stroke-width="2.4" fill="none"/><path d="M-1.9,-9.350000000000001 L5.3,-16.66" stroke="#4a78c0" stroke-width="2.4" fill="none"/><path d="M1.9,0 L1.9,-9.350000000000001 L-5.3,-16.66" stroke="#4a78c0" stroke-width="2.4" fill="none"/><path d="M1.9,-9.350000000000001 L9.0,-16.66" stroke="#4a78c0" stroke-width="2.4" fill="none"/><path d="M0,0 L0,-8.5" stroke="#2a4a90" stroke-width="0.6" fill="none"/></g>
<polyline points="348.5,397.5 348.4,397.3 348.3,397.0 348.2,396.8 348.1,396.6 348.0,396.5 347.9,396.4 347.8,396.3 347.7,396.3 347.6,396.4 347.5,396.5 347.4,396.6 347.3,396.8 347.2,397.0 347.1,397.3 347.0,397.5 346.9,397.7 346.8,398.0 346.7,398.2 346.6,398.4 346.5,398.5 346.4,398.6 346.3,398.7 346.2,398.7 346.1,398.6 346.0,398.5 345.9,398.4 345.8,398.2 345.7,398.0 345.6,397.7 345.5,397.5 345.4,397.3 345.3,397.0 345.2,396.8 345.1,396.6 345.0,396.5 344.9,396.4 344.8,396.3 344.7,396.3 344.6,396.4 344.5,396.5 344.4,396.6 344.3,396.8 344.2,397.0 344.1,397.3 344.0,397.5 343.9,397.7 343.8,398.0 343.7,398.2 343.6,398.4 343.5,398.5 343.4,398.6 343.3,398.7 343.2,398.7 343.1,398.6 343.0,398.5 342.9,398.4 342.8,398.2 342.7,398.0 342.6,397.7 342.5,397.5" fill="none" stroke="#b08070" stroke-width="0.8" stroke-linecap="round" stroke-linejoin="round"/>
<g transform="translate(342.5,397.5) rotate(270.0)"><path d="M-1.9,0 L-1.9,-9.350000000000001 L-9.0,-16.66" stroke="#4a78c0" stroke-width="2.4" fill="none"/><path d="M-1.9,-9.350000000000001 L5.3,-16.66" stroke="#4a78c0" stroke-width="2.4" fill="none"/><path d="M1.9,0 L1.9,-9.350000000000001 L-5.3,-16.66" stroke="#4a78c0" stroke-width="2.4" fill="none"/><path d="M1.9,-9.350000000000001 L9.0,-16.66" stroke="#4a78c0" stroke-width="2.4" fill="none"/><path d="M0,0 L0,-8.5" stroke="#2a4a90" stroke-width="0.6" fill="none"/></g>
<polyline points="362.0,365.0 362.1,364.7 362.2,364.5 362.3,364.3 362.3,364.1 362.4,363.9 362.4,363.7 362.3,363.6 362.3,363.6 362.1,363.5 362.0,363.5 361.8,363.6 361.6,363.6 361.4,363.7 361.2,363.8 360.9,363.9 360.7,364.0 360.4,364.1 360.2,364.2 360.0,364.3 359.8,364.3 359.7,364.3 359.6,364.3 359.5,364.2 359.5,364.1 359.5,363.9 359.5,363.8 359.6,363.6 359.6,363.3 359.7,363.1 359.9,362.9 360.0,362.6 360.1,362.4 360.1,362.1 360.2,361.9 360.2,361.8 360.2,361.6 360.2,361.5 360.1,361.4 360.0,361.4 359.9,361.4 359.7,361.4 359.5,361.5 359.3,361.6 359.0,361.7 358.8,361.8 358.5,361.9 358.3,362.0 358.1,362.1 357.9,362.1 357.7,362.2 357.6,362.2 357.5,362.1 357.4,362.1 357.3,362.0 357.3,361.8 357.4,361.6 357.4,361.4 357.5,361.2 357.6,361.0 357.7,360.7" fill="none" stroke="#b08070" stroke-width="0.8" stroke-linecap="round" stroke-linejoin="round"/>
<g transform="translate(357.7,360.7) rotate(315.0)"><path d="M-1.9,0 L-1.9,-9.350000000000001 L-9.0,-16.66" stroke="#4a78c0" stroke-width="2.4" fill="none"/><path d="M-1.9,-9.350000000000001 L5.3,-16.66" stroke="#4a78c0" stroke-width="2.4" fill="none"/><path d="M1.9,0 L1.9,-9.350000000000001 L-5.3,-16.66" stroke="#4a78c0" stroke-width="2.4" fill="none"/><path d="M1.9,-9.350000000000001 L9.0,-16.66" stroke="#4a78c0" stroke-width="2.4" fill="none"/><path d="M0,0 L0,-8.5" stroke="#2a4a90" stroke-width="0.6" fill="none"/></g>
<polygon points="591.5,394.0 592.4,394.8 593.3,395.6 594.2,396.4 595.0,397.3 595.8,398.2 596.5,399.2 597.1,400.1 597.7,401.1 598.1,402.0 598.5,403.0 598.8,404.0 598.9,404.9 598.9,405.9 598.9,406.8 598.7,407.7 598.4,408.6 598.0,409.4 597.5,410.2 596.9,411.0 596.2,411.7 595.4,412.4 594.5,413.0 593.5,413.5 592.5,414.0 591.5,414.5 590.3,414.9 589.2,415.2 588.0,415.5 586.8,415.8 585.6,416.0 584.4,416.2 583.2,416.3 582.1,416.4 580.9,416.6 579.9,416.7 578.8,416.8 577.8,416.9 576.9,417.0 576.0,417.1 575.2,417.3 574.5,417.5 573.8,417.7 573.2,418.0 572.7,418.3 572.2,418.7 571.8,419.2 571.5,419.7 571.2,420.3 571.0,421.0 570.8,421.7 570.6,422.5 570.5,423.4 570.4,424.3 570.3,425.3 570.2,426.4 570.1,427.4 569.9,428.6 569.8,429.7 569.7,430.9 569.5,432.1 569.3,433.3 569.0,434.5 568.7,435.7 568.4,436.8 568.0,438.0 567.5,439.0 567.0,440.0 566.5,441.0 565.9,441.9 565.2,442.7 564.5,443.4 563.7,444.0 562.9,444.5 562.1,444.9 561.2,445.2 560.3,445.4 559.4,445.4 558.4,445.4 557.5,445.3 556.5,445.0 555.5,444.6 554.6,444.2 553.6,443.6 552.7,443.0 551.7,442.3 550.8,441.5 549.9,440.7 549.1,439.8 548.3,438.9 547.5,438.0 546.7,437.1 546.0,436.1 545.3,435.2 544.7,434.2 544.1,433.3 543.5,432.5 542.9,431.7 542.3,430.9 541.8,430.3 541.2,429.7 540.7,429.1 540.1,428.7 539.6,428.3 539.0,428.0 538.4,427.8 537.8,427.7 537.2,427.7 536.5,427.7 535.9,427.8 535.1,428.0 534.3,428.3 533.5,428.6 532.7,429.0 531.8,429.4 530.8,429.8 529.8,430.3 528.8,430.7 527.7,431.2 526.6,431.7 525.5,432.1 524.4,432.5 523.2,432.9 522.0,433.2 520.8,433.5 519.7,433.7 518.5,433.9 517.4,433.9 516.3,433.9 515.2,433.9 514.2,433.7 513.2,433.4 512.3,433.1 511.5,432.6 510.7,432.1 510.0,431.5 509.4,430.8 508.9,430.0 508.4,429.2 508.1,428.3 507.8,427.3 507.6,426.3 507.6,425.2 507.6,424.1 507.6,423.0 507.8,421.8 508.0,420.7 508.3,419.5 508.6,418.3 509.0,417.1 509.4,416.0 509.8,414.9 510.3,413.8 510.8,412.7 511.2,411.7 511.7,410.7 512.1,409.7 512.5,408.8 512.9,408.0 513.2,407.2 513.5,406.4 513.7,405.6 513.8,405.0 513.8,404.3 513.8,403.7 513.7,403.1 513.5,402.5 513.2,401.9 512.8,401.4 512.4,400.8 511.8,400.3 511.2,399.7 510.6,399.2 509.8,398.6 509.0,398.0 508.2,397.4 507.3,396.8 506.3,396.2 505.4,395.5 504.4,394.8 503.5,394.0 502.6,393.2 501.7,392.4 500.8,391.6 500.0,390.7 499.2,389.8 498.5,388.8 497.9,387.9 497.3,386.9 496.9,386.0 496.5,385.0 496.2,384.0 496.1,383.1 496.1,382.1 496.1,381.2 496.3,380.3 496.6,379.4 497.0,378.6 497.5,377.8 498.1,377.0 498.8,376.3 499.6,375.6 500.5,375.0 501.5,374.5 502.5,374.0 503.5,373.5 504.7,373.1 505.8,372.8 507.0,372.5 508.2,372.2 509.4,372.0 510.6,371.8 511.8,371.7 512.9,371.6 514.1,371.4 515.1,371.3 516.2,371.2 517.2,371.1 518.1,371.0 519.0,370.9 519.8,370.7 520.5,370.5 521.2,370.3 521.8,370.0 522.3,369.7 522.8,369.3 523.2,368.8 523.5,368.3 523.8,367.7 524.0,367.0 524.2,366.3 524.4,365.5 524.5,364.6 524.6,363.7 524.7,362.7 524.8,361.6 524.9,360.6 525.1,359.4 525.2,358.3 525.3,357.1 525.5,355.9 525.7,354.7 526.0,353.5 526.3,352.3 526.6,351.2 527.0,350.0 527.5,349.0 528.0,348.0 528.5,347.0 529.1,346.1 529.8,345.3 530.5,344.6 531.3,344.0 532.1,343.5 532.9,343.1 533.8,342.8 534.7,342.6 535.6,342.6 536.6,342.6 537.5,342.7 538.5,343.0 539.5,343.4 540.4,343.8 541.4,344.4 542.3,345.0 543.3,345.7 544.2,346.5 545.1,347.3 545.9,348.2 546.7,349.1 547.5,350.0 548.3,350.9 549.0,351.9 549.7,352.8 550.3,353.8 550.9,354.7 551.5,355.5 552.1,356.3 552.7,357.1 553.2,357.7 553.8,358.3 554.3,358.9 554.9,359.3 555.4,359.7 556.0,360.0 556.6,360.2 557.2,360.3 557.8,360.3 558.5,360.3 559.1,360.2 559.9,360.0 560.7,359.7 561.5,359.4 562.3,359.0 563.2,358.6 564.2,358.2 565.2,357.7 566.2,357.3 567.3,356.8 568.4,356.3 569.5,355.9 570.6,355.5 571.8,355.1 573.0,354.8 574.2,354.5 575.3,354.3 576.5,354.1 577.6,354.1 578.7,354.1 579.8,354.1 580.8,354.3 581.8,354.6 582.7,354.9 583.5,355.4 584.3,355.9 585.0,356.5 585.6,357.2 586.1,358.0 586.6,358.8 586.9,359.7 587.2,360.7 587.4,361.7 587.4,362.8 587.4,363.9 587.4,365.0 587.2,366.2 587.0,367.3 586.7,368.5 586.4,369.7 586.0,370.9 585.6,372.0 585.2,373.1 584.7,374.2 584.2,375.3 583.8,376.3 583.3,377.3 582.9,378.3 582.5,379.2 582.1,380.0 581.8,380.8 581.5,381.6 581.3,382.4 581.2,383.0 581.2,383.7 581.2,384.3 581.3,384.9 581.5,385.5 581.8,386.1 582.2,386.6 582.6,387.2 583.2,387.7 583.8,388.3 584.4,388.8 585.2,389.4 586.0,390.0 586.8,390.6 587.7,391.2 588.7,391.8 589.6,392.5 590.6,393.2 591.5,394.0" fill="none" stroke="#1f3f9c" stroke-width="2.6"/>
<polygon points="591.5,394.0 590.6,394.8 589.6,395.5 588.7,396.2 587.7,396.8 586.8,397.4 586.0,398.0 585.2,398.6 584.4,399.2 583.8,399.7 583.2,400.3 582.6,400.8 582.2,401.4 581.8,401.9 581.5,402.5 581.3,403.1 581.2,403.7 581.2,404.3 581.2,405.0 581.3,405.6 581.5,406.4 581.8,407.2 582.1,408.0 582.5,408.8 582.9,409.7 583.3,410.7 583.8,411.7 584.2,412.7 584.7,413.8 585.2,414.9 585.6,416.0 586.0,417.1 586.4,418.3 586.7,419.5 587.0,420.7 587.2,421.8 587.4,423.0 587.4,424.1 587.4,425.2 587.4,426.3 587.2,427.3 586.9,428.3 586.6,429.2 586.1,430.0 585.6,430.8 585.0,431.5 584.3,432.1 583.5,432.6 582.7,433.1 581.8,433.4 580.8,433.7 579.8,433.9 578.7,433.9 577.6,433.9 576.5,433.9 575.3,433.7 574.2,433.5 573.0,433.2 571.8,432.9 570.6,432.5 569.5,432.1 568.4,431.7 567.3,431.2 566.2,430.7 565.2,430.3 564.2,429.8 563.2,429.4 562.3,429.0 561.5,428.6 560.7,428.3 559.9,428.0 559.1,427.8 558.5,427.7 557.8,427.7 557.2,427.7 556.6,427.8 556.0,428.0 555.4,428.3 554.9,428.7 554.3,429.1 553.8,429.7 553.2,430.3 552.7,430.9 552.1,431.7 551.5,432.5 550.9,433.3 550.3,434.2 549.7,435.2 549.0,436.1 548.3,437.1 547.5,438.0 546.7,438.9 545.9,439.8 545.1,440.7 544.2,441.5 543.3,442.3 542.3,443.0 541.4,443.6 540.4,444.2 539.5,444.6 538.5,445.0 537.5,445.3 536.6,445.4 535.6,445.4 534.7,445.4 533.8,445.2 532.9,444.9 532.1,444.5 531.3,444.0 530.5,443.4 529.8,442.7 529.1,441.9 528.5,441.0 528.0,440.0 527.5,439.0 527.0,438.0 526.6,436.8 526.3,435.7 526.0,434.5 525.7,433.3 525.5,432.1 525.3,430.9 525.2,429.7 525.1,428.6 524.9,427.4 524.8,426.4 524.7,425.3 524.6,424.3 524.5,423.4 524.4,422.5 524.2,421.7 524.0,421.0 523.8,420.3 523.5,419.7 523.2,419.2 522.8,418.7 522.3,418.3 521.8,418.0 521.2,417.7 520.5,417.5 519.8,417.3 519.0,417.1 518.1,417.0 517.2,416.9 516.2,416.8 515.1,416.7 514.1,416.6 512.9,416.4 511.8,416.3 510.6,416.2 509.4,416.0 508.2,415.8 507.0,415.5 505.8,415.2 504.7,414.9 503.5,414.5 502.5,414.0 501.5,413.5 500.5,413.0 499.6,412.4 498.8,411.7 498.1,411.0 497.5,410.2 497.0,409.4 496.6,408.6 496.3,407.7 496.1,406.8 496.1,405.9 496.1,404.9 496.2,404.0 496.5,403.0 496.9,402.0 497.3,401.1 497.9,400.1 498.5,399.2 499.2,398.2 500.0,397.3 500.8,396.4 501.7,395.6 502.6,394.8 503.5,394.0 504.4,393.2 505.4,392.5 506.3,391.8 507.3,391.2 508.2,390.6 509.0,390.0 509.8,389.4 510.6,388.8 511.2,388.3 511.8,387.7 512.4,387.2 512.8,386.6 513.2,386.1 513.5,385.5 513.7,384.9 513.8,384.3 513.8,383.7 513.8,383.0 513.7,382.4 513.5,381.6 513.2,380.8 512.9,380.0 512.5,379.2 512.1,378.3 511.7,377.3 511.2,376.3 510.8,375.3 510.3,374.2 509.8,373.1 509.4,372.0 509.0,370.9 508.6,369.7 508.3,368.5 508.0,367.3 507.8,366.2 507.6,365.0 507.6,363.9 507.6,362.8 507.6,361.7 507.8,360.7 508.1,359.7 508.4,358.8 508.9,358.0 509.4,357.2 510.0,356.5 510.7,355.9 511.5,355.4 512.3,354.9 513.2,354.6 514.2,354.3 515.2,354.1 516.3,354.1 517.4,354.1 518.5,354.1 519.7,354.3 520.8,354.5 522.0,354.8 523.2,355.1 524.4,355.5 525.5,355.9 526.6,356.3 527.7,356.8 528.8,357.3 529.8,357.7 530.8,358.2 531.8,358.6 532.7,359.0 533.5,359.4 534.3,359.7 535.1,360.0 535.9,360.2 536.5,360.3 537.2,360.3 537.8,360.3 538.4,360.2 539.0,360.0 539.6,359.7 540.1,359.3 540.7,358.9 541.2,358.3 541.8,357.7 542.3,357.1 542.9,356.3 543.5,355.5 544.1,354.7 544.7,353.8 545.3,352.8 546.0,351.9 546.7,350.9 547.5,350.0 548.3,349.1 549.1,348.2 549.9,347.3 550.8,346.5 551.7,345.7 552.7,345.0 553.6,344.4 554.6,343.8 555.5,343.4 556.5,343.0 557.5,342.7 558.4,342.6 559.4,342.6 560.3,342.6 561.2,342.8 562.1,343.1 562.9,343.5 563.7,344.0 564.5,344.6 565.2,345.3 565.9,346.1 566.5,347.0 567.0,348.0 567.5,349.0 568.0,350.0 568.4,351.2 568.7,352.3 569.0,353.5 569.3,354.7 569.5,355.9 569.7,357.1 569.8,358.3 569.9,359.4 570.1,360.6 570.2,361.6 570.3,362.7 570.4,363.7 570.5,364.6 570.6,365.5 570.8,366.3 571.0,367.0 571.2,367.7 571.5,368.3 571.8,368.8 572.2,369.3 572.7,369.7 573.2,370.0 573.8,370.3 574.5,370.5 575.2,370.7 576.0,370.9 576.9,371.0 577.8,371.1 578.8,371.2 579.9,371.3 580.9,371.4 582.1,371.6 583.2,371.7 584.4,371.8 585.6,372.0 586.8,372.2 588.0,372.5 589.2,372.8 590.3,373.1 591.5,373.5 592.5,374.0 593.5,374.5 594.5,375.0 595.4,375.6 596.2,376.3 596.9,377.0 597.5,377.8 598.0,378.6 598.4,379.4 598.7,380.3 598.9,381.2 598.9,382.1 598.9,383.1 598.8,384.0 598.5,385.0 598.1,386.0 597.7,386.9 597.1,387.9 596.5,388.8 595.8,389.8 595.0,390.7 594.2,391.6 593.3,392.4 592.4,393.2 591.5,394.0" fill="none" stroke="#1f3f9c" stroke-width="2.6"/>
<line x1="596.1" y1="399.1" x2="586.4" y2="398.1" stroke="#1f3f9c" stroke-width="1.3"/>
<line x1="598.2" y1="404.8" x2="582.8" y2="401.5" stroke="#1f3f9c" stroke-width="1.3"/>
<line x1="596.8" y1="410.0" x2="581.9" y2="405.2" stroke="#1f3f9c" stroke-width="1.3"/>
<line x1="592.1" y1="413.9" x2="583.2" y2="409.9" stroke="#1f3f9c" stroke-width="1.3"/>
<line x1="579.2" y1="417.0" x2="587.0" y2="422.7" stroke="#1f3f9c" stroke-width="1.3"/>
<line x1="574.3" y1="418.2" x2="586.1" y2="428.7" stroke="#1f3f9c" stroke-width="1.3"/>
<line x1="571.7" y1="420.8" x2="582.2" y2="432.6" stroke="#1f3f9c" stroke-width="1.3"/>
<line x1="570.5" y1="425.7" x2="576.2" y2="433.5" stroke="#1f3f9c" stroke-width="1.3"/>
<line x1="567.4" y1="438.6" x2="563.4" y2="429.7" stroke="#1f3f9c" stroke-width="1.3"/>
<line x1="563.5" y1="443.3" x2="558.7" y2="428.4" stroke="#1f3f9c" stroke-width="1.3"/>
<line x1="558.3" y1="444.7" x2="555.0" y2="429.3" stroke="#1f3f9c" stroke-width="1.3"/>
<line x1="552.6" y1="442.6" x2="551.6" y2="432.9" stroke="#1f3f9c" stroke-width="1.3"/>
<line x1="543.4" y1="432.9" x2="542.4" y2="442.6" stroke="#1f3f9c" stroke-width="1.3"/>
<line x1="540.0" y1="429.3" x2="536.7" y2="444.7" stroke="#1f3f9c" stroke-width="1.3"/>
<line x1="536.3" y1="428.4" x2="531.5" y2="443.3" stroke="#1f3f9c" stroke-width="1.3"/>
<line x1="531.6" y1="429.7" x2="527.6" y2="438.6" stroke="#1f3f9c" stroke-width="1.3"/>
<line x1="518.8" y1="433.5" x2="524.5" y2="425.7" stroke="#1f3f9c" stroke-width="1.3"/>
<line x1="512.8" y1="432.6" x2="523.3" y2="420.8" stroke="#1f3f9c" stroke-width="1.3"/>
<line x1="508.9" y1="428.7" x2="520.7" y2="418.2" stroke="#1f3f9c" stroke-width="1.3"/>
<line x1="508.0" y1="422.7" x2="515.8" y2="417.0" stroke="#1f3f9c" stroke-width="1.3"/>
<line x1="511.8" y1="409.9" x2="502.9" y2="413.9" stroke="#1f3f9c" stroke-width="1.3"/>
<line x1="513.1" y1="405.2" x2="498.2" y2="410.0" stroke="#1f3f9c" stroke-width="1.3"/>
<line x1="512.2" y1="401.5" x2="496.8" y2="404.8" stroke="#1f3f9c" stroke-width="1.3"/>
<line x1="508.6" y1="398.1" x2="498.9" y2="399.1" stroke="#1f3f9c" stroke-width="1.3"/>
<line x1="498.9" y1="388.9" x2="508.6" y2="389.9" stroke="#1f3f9c" stroke-width="1.3"/>
<line x1="496.8" y1="383.2" x2="512.2" y2="386.5" stroke="#1f3f9c" stroke-width="1.3"/>
<line x1="498.2" y1="378.0" x2="513.1" y2="382.8" stroke="#1f3f9c" stroke-width="1.3"/>
<line x1="502.9" y1="374.1" x2="511.8" y2="378.1" stroke="#1f3f9c" stroke-width="1.3"/>
<line x1="515.8" y1="371.0" x2="508.0" y2="365.3" stroke="#1f3f9c" stroke-width="1.3"/>
<line x1="520.7" y1="369.8" x2="508.9" y2="359.3" stroke="#1f3f9c" stroke-width="1.3"/>
<line x1="523.3" y1="367.2" x2="512.8" y2="355.4" stroke="#1f3f9c" stroke-width="1.3"/>
<line x1="524.5" y1="362.3" x2="518.8" y2="354.5" stroke="#1f3f9c" stroke-width="1.3"/>
<line x1="527.6" y1="349.4" x2="531.6" y2="358.3" stroke="#1f3f9c" stroke-width="1.3"/>
<line x1="531.5" y1="344.7" x2="536.3" y2="359.6" stroke="#1f3f9c" stroke-width="1.3"/>
<line x1="536.7" y1="343.3" x2="540.0" y2="358.7" stroke="#1f3f9c" stroke-width="1.3"/>
<line x1="542.4" y1="345.4" x2="543.4" y2="355.1" stroke="#1f3f9c" stroke-width="1.3"/>
<line x1="551.6" y1="355.1" x2="552.6" y2="345.4" stroke="#1f3f9c" stroke-width="1.3"/>
<line x1="555.0" y1="358.7" x2="558.3" y2="343.3" stroke="#1f3f9c" stroke-width="1.3"/>
<line x1="558.7" y1="359.6" x2="563.5" y2="344.7" stroke="#1f3f9c" stroke-width="1.3"/>
<line x1="563.4" y1="358.3" x2="567.4" y2="349.4" stroke="#1f3f9c" stroke-width="1.3"/>
<line x1="576.2" y1="354.5" x2="570.5" y2="362.3" stroke="#1f3f9c" stroke-width="1.3"/>
<line x1="582.2" y1="355.4" x2="571.7" y2="367.2" stroke="#1f3f9c" stroke-width="1.3"/>
<line x1="586.1" y1="359.3" x2="574.3" y2="369.8" stroke="#1f3f9c" stroke-width="1.3"/>
<line x1="587.0" y1="365.3" x2="579.2" y2="371.0" stroke="#1f3f9c" stroke-width="1.3"/>
<line x1="583.2" y1="378.1" x2="592.1" y2="374.1" stroke="#1f3f9c" stroke-width="1.3"/>
<line x1="581.9" y1="382.8" x2="596.8" y2="378.0" stroke="#1f3f9c" stroke-width="1.3"/>
<line x1="582.8" y1="386.5" x2="598.2" y2="383.2" stroke="#1f3f9c" stroke-width="1.3"/>
<line x1="586.4" y1="389.9" x2="596.1" y2="388.9" stroke="#1f3f9c" stroke-width="1.3"/>
<polyline points="287.0,550.5 287.1,550.8 287.3,551.1 287.5,551.4 287.6,551.7 287.8,551.9 287.9,552.2 288.1,552.5 288.2,552.8 288.4,553.0 288.6,553.3 288.7,553.5 288.9,553.8 289.0,554.0 289.2,554.2 289.4,554.4 289.5,554.7 289.7,554.9 289.8,555.0 290.0,555.2 290.2,555.4 290.3,555.6 290.5,555.7 290.7,555.9 290.9,556.0 291.0,556.1 291.2,556.2 291.4,556.3 291.6,556.5 291.8,556.5 291.9,556.6 292.1,556.7 292.3,556.8 292.5,556.9 292.7,557.0 292.9,557.0 293.1,557.1 293.2,557.2 293.4,557.3 293.6,557.3 293.8,557.4 294.0,557.5 294.2,557.6 294.4,557.7 294.5,557.8 294.7,557.9 294.9,558.0 295.1,558.1 295.3,558.2 295.4,558.3 295.6,558.5 295.8,558.6 295.9,558.8 296.1,559.0 296.3,559.2 296.4,559.3 296.6,559.6 296.7,559.8 296.9,560.0 297.0,560.2 297.2,560.5" fill="none" stroke="#9a8aa8" stroke-width="1.2" stroke-linecap="round" stroke-linejoin="round"/>
<polyline points="272.3,580.5 272.3,580.8 272.3,581.2 272.2,581.5 272.2,581.8 272.2,582.1 272.1,582.4 272.1,582.8 272.1,583.1 272.0,583.4 272.0,583.7 272.0,584.0 272.0,584.3 272.0,584.5 272.0,584.8 272.0,585.1 272.0,585.4 272.0,585.6 272.0,585.9 272.0,586.1 272.1,586.3 272.1,586.6 272.2,586.8 272.2,587.0 272.3,587.2 272.3,587.4 272.4,587.6 272.5,587.8 272.6,588.0 272.7,588.2 272.8,588.4 272.9,588.6 273.0,588.7 273.1,588.9 273.2,589.1 273.3,589.3 273.4,589.4 273.5,589.6 273.6,589.8 273.7,589.9 273.8,590.1 273.9,590.3 274.0,590.5 274.1,590.6 274.2,590.8 274.3,591.0 274.4,591.2 274.5,591.4 274.5,591.6 274.6,591.8 274.6,592.0 274.7,592.3 274.7,592.5 274.8,592.7 274.8,593.0 274.8,593.2 274.8,593.5 274.8,593.7 274.8,594.0 274.8,594.3 274.7,594.6" fill="none" stroke="#9a8aa8" stroke-width="1.2" stroke-linecap="round" stroke-linejoin="round"/>
<polyline points="242.9,596.2 242.7,596.4 242.4,596.7 242.2,596.9 242.0,597.1 241.8,597.4 241.6,597.6 241.3,597.8 241.1,598.1 240.9,598.3 240.7,598.5 240.6,598.8 240.4,599.0 240.2,599.2 240.0,599.4 239.9,599.7 239.7,599.9 239.6,600.1 239.5,600.3 239.3,600.5 239.2,600.7 239.1,600.9 239.0,601.2 238.9,601.4 238.9,601.6 238.8,601.8 238.7,602.0 238.7,602.2 238.7,602.4 238.6,602.6 238.6,602.8 238.6,603.0 238.5,603.2 238.5,603.4 238.5,603.6 238.5,603.8 238.5,604.0 238.5,604.2 238.5,604.4 238.4,604.6 238.4,604.8 238.4,605.0 238.4,605.2 238.4,605.4 238.3,605.6 238.3,605.8 238.2,606.0 238.2,606.2 238.1,606.4 238.0,606.6 238.0,606.9 237.9,607.1 237.8,607.3 237.7,607.5 237.5,607.7 237.4,607.9 237.2,608.1 237.1,608.3 236.9,608.5 236.7,608.7 236.5,608.9" fill="none" stroke="#9a8aa8" stroke-width="1.2" stroke-linecap="round" stroke-linejoin="round"/>
<polyline points="209.8,591.5 209.5,591.6 209.2,591.7 208.9,591.7 208.5,591.8 208.2,591.9 207.9,591.9 207.6,592.0 207.3,592.1 207.0,592.1 206.7,592.2 206.4,592.3 206.1,592.3 205.9,592.4 205.6,592.5 205.4,592.6 205.1,592.7 204.9,592.8 204.6,592.9 204.4,593.0 204.2,593.1 204.0,593.2 203.8,593.3 203.6,593.4 203.4,593.5 203.2,593.7 203.1,593.8 202.9,593.9 202.8,594.1 202.6,594.2 202.5,594.4 202.3,594.5 202.2,594.7 202.1,594.8 201.9,595.0 201.8,595.1 201.7,595.3 201.5,595.4 201.4,595.6 201.3,595.7 201.2,595.9 201.0,596.1 200.9,596.2 200.7,596.4 200.6,596.5 200.4,596.6 200.3,596.8 200.1,596.9 199.9,597.0 199.8,597.2 199.6,597.3 199.4,597.4 199.2,597.5 199.0,597.6 198.7,597.7 198.5,597.8 198.3,597.9 198.0,598.0 197.8,598.0 197.5,598.1 197.2,598.1" fill="none" stroke="#9a8aa8" stroke-width="1.2" stroke-linecap="round" stroke-linejoin="round"/>
<polyline points="185.8,568.4 185.5,568.2 185.2,568.1 184.9,567.9 184.6,567.8 184.3,567.7 184.0,567.5 183.8,567.4 183.5,567.3 183.2,567.2 182.9,567.0 182.6,566.9 182.4,566.8 182.1,566.7 181.8,566.7 181.6,566.6 181.3,566.5 181.1,566.4 180.8,566.4 180.6,566.3 180.4,566.3 180.1,566.3 179.9,566.2 179.7,566.2 179.5,566.2 179.2,566.2 179.0,566.2 178.8,566.2 178.6,566.3 178.4,566.3 178.2,566.3 178.0,566.3 177.8,566.4 177.6,566.4 177.4,566.5 177.2,566.5 177.0,566.6 176.8,566.6 176.6,566.7 176.4,566.7 176.2,566.8 176.0,566.8 175.8,566.9 175.6,566.9 175.4,566.9 175.2,567.0 175.0,567.0 174.8,567.0 174.6,567.0 174.4,567.0 174.1,567.0 173.9,567.0 173.7,566.9 173.5,566.9 173.2,566.8 173.0,566.8 172.7,566.7 172.5,566.6 172.2,566.5 172.0,566.4 171.7,566.3" fill="none" stroke="#9a8aa8" stroke-width="1.2" stroke-linecap="round" stroke-linejoin="round"/>
<polyline points="180.0,535.5 179.9,535.2 179.7,534.9 179.5,534.6 179.4,534.3 179.2,534.1 179.1,533.8 178.9,533.5 178.8,533.2 178.6,533.0 178.4,532.7 178.3,532.5 178.1,532.2 178.0,532.0 177.8,531.8 177.6,531.6 177.5,531.3 177.3,531.1 177.2,531.0 177.0,530.8 176.8,530.6 176.7,530.4 176.5,530.3 176.3,530.1 176.1,530.0 176.0,529.9 175.8,529.8 175.6,529.7 175.4,529.5 175.2,529.5 175.1,529.4 174.9,529.3 174.7,529.2 174.5,529.1 174.3,529.0 174.1,529.0 173.9,528.9 173.8,528.8 173.6,528.7 173.4,528.7 173.2,528.6 173.0,528.5 172.8,528.4 172.6,528.3 172.5,528.2 172.3,528.1 172.1,528.0 171.9,527.9 171.7,527.8 171.6,527.7 171.4,527.5 171.2,527.4 171.1,527.2 170.9,527.0 170.7,526.8 170.6,526.7 170.4,526.4 170.3,526.2 170.1,526.0 170.0,525.8 169.8,525.5" fill="none" stroke="#9a8aa8" stroke-width="1.2" stroke-linecap="round" stroke-linejoin="round"/>
<polyline points="194.7,505.5 194.7,505.2 194.7,504.8 194.8,504.5 194.8,504.2 194.8,503.9 194.9,503.6 194.9,503.2 194.9,502.9 195.0,502.6 195.0,502.3 195.0,502.0 195.0,501.7 195.0,501.5 195.0,501.2 195.0,500.9 195.0,500.6 195.0,500.4 195.0,500.1 195.0,499.9 194.9,499.7 194.9,499.4 194.8,499.2 194.8,499.0 194.7,498.8 194.7,498.6 194.6,498.4 194.5,498.2 194.4,498.0 194.3,497.8 194.2,497.6 194.1,497.4 194.0,497.3 193.9,497.1 193.8,496.9 193.7,496.7 193.6,496.6 193.5,496.4 193.4,496.2 193.3,496.1 193.2,495.9 193.1,495.7 193.0,495.5 192.9,495.4 192.8,495.2 192.7,495.0 192.6,494.8 192.5,494.6 192.5,494.4 192.4,494.2 192.4,494.0 192.3,493.7 192.3,493.5 192.2,493.3 192.2,493.0 192.2,492.8 192.2,492.5 192.2,492.3 192.2,492.0 192.2,491.7 192.3,491.4" fill="none" stroke="#9a8aa8" stroke-width="1.2" stroke-linecap="round" stroke-linejoin="round"/>
<polyline points="224.1,489.8 224.3,489.6 224.6,489.3 224.8,489.1 225.0,488.9 225.2,488.6 225.4,488.4 225.7,488.2 225.9,487.9 226.1,487.7 226.3,487.5 226.4,487.2 226.6,487.0 226.8,486.8 227.0,486.6 227.1,486.3 227.3,486.1 227.4,485.9 227.5,485.7 227.7,485.5 227.8,485.3 227.9,485.1 228.0,484.8 228.1,484.6 228.1,484.4 228.2,484.2 228.3,484.0 228.3,483.8 228.3,483.6 228.4,483.4 228.4,483.2 228.4,483.0 228.5,482.8 228.5,482.6 228.5,482.4 228.5,482.2 228.5,482.0 228.5,481.8 228.5,481.6 228.6,481.4 228.6,481.2 228.6,481.0 228.6,480.8 228.6,480.6 228.7,480.4 228.7,480.2 228.8,480.0 228.8,479.8 228.9,479.6 229.0,479.4 229.0,479.1 229.1,478.9 229.2,478.7 229.3,478.5 229.5,478.3 229.6,478.1 229.8,477.9 229.9,477.7 230.1,477.5 230.3,477.3 230.5,477.1" fill="none" stroke="#9a8aa8" stroke-width="1.2" stroke-linecap="round" stroke-linejoin="round"/>
<polyline points="257.2,494.5 257.5,494.4 257.8,494.3 258.1,494.3 258.5,494.2 258.8,494.1 259.1,494.1 259.4,494.0 259.7,493.9 260.0,493.9 260.3,493.8 260.6,493.7 260.9,493.7 261.1,493.6 261.4,493.5 261.6,493.4 261.9,493.3 262.1,493.2 262.4,493.1 262.6,493.0 262.8,492.9 263.0,492.8 263.2,492.7 263.4,492.6 263.6,492.5 263.8,492.3 263.9,492.2 264.1,492.1 264.2,491.9 264.4,491.8 264.5,491.6 264.7,491.5 264.8,491.3 264.9,491.2 265.1,491.0 265.2,490.9 265.3,490.7 265.5,490.6 265.6,490.4 265.7,490.3 265.8,490.1 266.0,489.9 266.1,489.8 266.3,489.6 266.4,489.5 266.6,489.4 266.7,489.2 266.9,489.1 267.1,489.0 267.2,488.8 267.4,488.7 267.6,488.6 267.8,488.5 268.0,488.4 268.3,488.3 268.5,488.2 268.7,488.1 269.0,488.0 269.2,488.0 269.5,487.9 269.8,487.9" fill="none" stroke="#9a8aa8" stroke-width="1.2" stroke-linecap="round" stroke-linejoin="round"/>
<polyline points="281.2,517.6 281.5,517.8 281.8,517.9 282.1,518.1 282.4,518.2 282.7,518.3 283.0,518.5 283.2,518.6 283.5,518.7 283.8,518.8 284.1,519.0 284.4,519.1 284.6,519.2 284.9,519.3 285.2,519.3 285.4,519.4 285.7,519.5 285.9,519.6 286.2,519.6 286.4,519.7 286.6,519.7 286.9,519.7 287.1,519.8 287.3,519.8 287.5,519.8 287.8,519.8 288.0,519.8 288.2,519.8 288.4,519.7 288.6,519.7 288.8,519.7 289.0,519.7 289.2,519.6 289.4,519.6 289.6,519.5 289.8,519.5 290.0,519.4 290.2,519.4 290.4,519.3 290.6,519.3 290.8,519.2 291.0,519.2 291.2,519.1 291.4,519.1 291.6,519.1 291.8,519.0 292.0,519.0 292.2,519.0 292.4,519.0 292.6,519.0 292.9,519.0 293.1,519.0 293.3,519.1 293.5,519.1 293.8,519.2 294.0,519.2 294.3,519.3 294.5,519.4 294.8,519.5 295.0,519.6 295.3,519.7" fill="none" stroke="#9a8aa8" stroke-width="1.2" stroke-linecap="round" stroke-linejoin="round"/>
<circle cx="233.5" cy="543" r="50" fill="#fff4dc"/>
<line x1="264.5" y1="543.0" x2="277.5" y2="543.0" stroke="#f4b040" stroke-width="1.1"/>
<line x1="264.3" y1="546.2" x2="277.3" y2="547.6" stroke="#f4b040" stroke-width="1.1"/>
<line x1="263.8" y1="549.4" x2="276.5" y2="552.1" stroke="#f4b040" stroke-width="1.1"/>
<line x1="263.0" y1="552.6" x2="275.3" y2="556.6" stroke="#f4b040" stroke-width="1.1"/>
<line x1="261.8" y1="555.6" x2="273.7" y2="560.9" stroke="#f4b040" stroke-width="1.1"/>
<line x1="260.3" y1="558.5" x2="271.6" y2="565.0" stroke="#f4b040" stroke-width="1.1"/>
<line x1="258.6" y1="561.2" x2="269.1" y2="568.9" stroke="#f4b040" stroke-width="1.1"/>
<line x1="256.5" y1="563.7" x2="266.2" y2="572.4" stroke="#f4b040" stroke-width="1.1"/>
<line x1="254.2" y1="566.0" x2="262.9" y2="575.7" stroke="#f4b040" stroke-width="1.1"/>
<line x1="251.7" y1="568.1" x2="259.4" y2="578.6" stroke="#f4b040" stroke-width="1.1"/>
<line x1="249.0" y1="569.8" x2="255.5" y2="581.1" stroke="#f4b040" stroke-width="1.1"/>
<line x1="246.1" y1="571.3" x2="251.4" y2="583.2" stroke="#f4b040" stroke-width="1.1"/>
<line x1="243.1" y1="572.5" x2="247.1" y2="584.8" stroke="#f4b040" stroke-width="1.1"/>
<line x1="239.9" y1="573.3" x2="242.6" y2="586.0" stroke="#f4b040" stroke-width="1.1"/>
<line x1="236.7" y1="573.8" x2="238.1" y2="586.8" stroke="#f4b040" stroke-width="1.1"/>
<line x1="233.5" y1="574.0" x2="233.5" y2="587.0" stroke="#f4b040" stroke-width="1.1"/>
<line x1="230.3" y1="573.8" x2="228.9" y2="586.8" stroke="#f4b040" stroke-width="1.1"/>
<line x1="227.1" y1="573.3" x2="224.4" y2="586.0" stroke="#f4b040" stroke-width="1.1"/>
<line x1="223.9" y1="572.5" x2="219.9" y2="584.8" stroke="#f4b040" stroke-width="1.1"/>
<line x1="220.9" y1="571.3" x2="215.6" y2="583.2" stroke="#f4b040" stroke-width="1.1"/>
<line x1="218.0" y1="569.8" x2="211.5" y2="581.1" stroke="#f4b040" stroke-width="1.1"/>
<line x1="215.3" y1="568.1" x2="207.6" y2="578.6" stroke="#f4b040" stroke-width="1.1"/>
<line x1="212.8" y1="566.0" x2="204.1" y2="575.7" stroke="#f4b040" stroke-width="1.1"/>
<line x1="210.5" y1="563.7" x2="200.8" y2="572.4" stroke="#f4b040" stroke-width="1.1"/>
<line x1="208.4" y1="561.2" x2="197.9" y2="568.9" stroke="#f4b040" stroke-width="1.1"/>
<line x1="206.7" y1="558.5" x2="195.4" y2="565.0" stroke="#f4b040" stroke-width="1.1"/>
<line x1="205.2" y1="555.6" x2="193.3" y2="560.9" stroke="#f4b040" stroke-width="1.1"/>
<line x1="204.0" y1="552.6" x2="191.7" y2="556.6" stroke="#f4b040" stroke-width="1.1"/>
<line x1="203.2" y1="549.4" x2="190.5" y2="552.1" stroke="#f4b040" stroke-width="1.1"/>
<line x1="202.7" y1="546.2" x2="189.7" y2="547.6" stroke="#f4b040" stroke-width="1.1"/>
<line x1="202.5" y1="543.0" x2="189.5" y2="543.0" stroke="#f4b040" stroke-width="1.1"/>
<line x1="202.7" y1="539.8" x2="189.7" y2="538.4" stroke="#f4b040" stroke-width="1.1"/>
<line x1="203.2" y1="536.6" x2="190.5" y2="533.9" stroke="#f4b040" stroke-width="1.1"/>
<line x1="204.0" y1="533.4" x2="191.7" y2="529.4" stroke="#f4b040" stroke-width="1.1"/>
<line x1="205.2" y1="530.4" x2="193.3" y2="525.1" stroke="#f4b040" stroke-width="1.1"/>
<line x1="206.7" y1="527.5" x2="195.4" y2="521.0" stroke="#f4b040" stroke-width="1.1"/>
<line x1="208.4" y1="524.8" x2="197.9" y2="517.1" stroke="#f4b040" stroke-width="1.1"/>
<line x1="210.5" y1="522.3" x2="200.8" y2="513.6" stroke="#f4b040" stroke-width="1.1"/>
<line x1="212.8" y1="520.0" x2="204.1" y2="510.3" stroke="#f4b040" stroke-width="1.1"/>
<line x1="215.3" y1="517.9" x2="207.6" y2="507.4" stroke="#f4b040" stroke-width="1.1"/>
<line x1="218.0" y1="516.2" x2="211.5" y2="504.9" stroke="#f4b040" stroke-width="1.1"/>
<line x1="220.9" y1="514.7" x2="215.6" y2="502.8" stroke="#f4b040" stroke-width="1.1"/>
<line x1="223.9" y1="513.5" x2="219.9" y2="501.2" stroke="#f4b040" stroke-width="1.1"/>
<line x1="227.1" y1="512.7" x2="224.4" y2="500.0" stroke="#f4b040" stroke-width="1.1"/>
<line x1="230.3" y1="512.2" x2="228.9" y2="499.2" stroke="#f4b040" stroke-width="1.1"/>
<line x1="233.5" y1="512.0" x2="233.5" y2="499.0" stroke="#f4b040" stroke-width="1.1"/>
<line x1="236.7" y1="512.2" x2="238.1" y2="499.2" stroke="#f4b040" stroke-width="1.1"/>
<line x1="239.9" y1="512.7" x2="242.6" y2="500.0" stroke="#f4b040" stroke-width="1.1"/>
<line x1="243.1" y1="513.5" x2="247.1" y2="501.2" stroke="#f4b040" stroke-width="1.1"/>
<line x1="246.1" y1="514.7" x2="251.4" y2="502.8" stroke="#f4b040" stroke-width="1.1"/>
<line x1="249.0" y1="516.2" x2="255.5" y2="504.9" stroke="#f4b040" stroke-width="1.1"/>
<line x1="251.7" y1="517.9" x2="259.4" y2="507.4" stroke="#f4b040" stroke-width="1.1"/>
<line x1="254.2" y1="520.0" x2="262.9" y2="510.3" stroke="#f4b040" stroke-width="1.1"/>
<line x1="256.5" y1="522.3" x2="266.2" y2="513.6" stroke="#f4b040" stroke-width="1.1"/>
<line x1="258.6" y1="524.8" x2="269.1" y2="517.1" stroke="#f4b040" stroke-width="1.1"/>
<line x1="260.3" y1="527.5" x2="271.6" y2="521.0" stroke="#f4b040" stroke-width="1.1"/>
<line x1="261.8" y1="530.4" x2="273.7" y2="525.1" stroke="#f4b040" stroke-width="1.1"/>
<line x1="263.0" y1="533.4" x2="275.3" y2="529.4" stroke="#f4b040" stroke-width="1.1"/>
<line x1="263.8" y1="536.6" x2="276.5" y2="533.9" stroke="#f4b040" stroke-width="1.1"/>
<line x1="264.3" y1="539.8" x2="277.3" y2="538.4" stroke="#f4b040" stroke-width="1.1"/>
<circle cx="233.5" cy="543" r="30" fill="#fcf3d6" stroke="#e4cf90" stroke-width="1"/>
<path d="M231.2,545.9 Q234.0,548.2 253.9,541.4" fill="none" stroke="#d8bf78" stroke-width="0.9"/>
<path d="M218.4,543.6 Q209.1,531.2 239.7,557.1" fill="none" stroke="#d8bf78" stroke-width="0.9"/>
<path d="M213.9,557.9 Q262.4,570.9 242.8,521.0" fill="none" stroke="#d8bf78" stroke-width="0.9"/>
<path d="M240.9,548.5 Q235.2,516.6 217.1,519.7" fill="none" stroke="#d8bf78" stroke-width="0.9"/>
<path d="M218.6,530.6 Q229.9,563.5 210.9,541.3" fill="none" stroke="#d8bf78" stroke-width="0.9"/>
<path d="M234.4,549.7 Q230.9,529.7 233.5,550.8" fill="none" stroke="#d8bf78" stroke-width="0.9"/>
<path d="M257.4,566.8 Q222.4,526.8 249.8,553.0" fill="none" stroke="#d8bf78" stroke-width="0.9"/>
<path d="M223.4,522.4 Q254.3,536.2 246.3,538.2" fill="none" stroke="#d8bf78" stroke-width="0.9"/>
<path d="M255.5,559.7 Q258.1,541.2 209.5,529.1" fill="none" stroke="#d8bf78" stroke-width="0.9"/>
<path d="M256.6,538.1 Q250.2,529.2 213.0,549.2" fill="none" stroke="#d8bf78" stroke-width="0.9"/>
<path d="M213.7,535.0 Q210.6,527.8 255.8,555.4" fill="none" stroke="#d8bf78" stroke-width="0.9"/>
<path d="M214.4,521.9 Q237.1,539.8 247.8,527.5" fill="none" stroke="#d8bf78" stroke-width="0.9"/>
<path d="M218.7,554.1 Q210.5,538.2 215.8,549.9" fill="none" stroke="#d8bf78" stroke-width="0.9"/>
<path d="M219.7,532.0 Q221.7,566.1 256.1,557.6" fill="none" stroke="#d8bf78" stroke-width="0.9"/>
<path d="M219.6,537.9 Q209.5,572.4 250.5,549.8" fill="none" stroke="#d8bf78" stroke-width="0.9"/>
<path d="M219.7,531.4 Q221.3,517.4 246.6,534.8" fill="none" stroke="#d8bf78" stroke-width="0.9"/>
<path d="M213.8,547.0 Q225.8,540.2 221.2,547.9" fill="none" stroke="#d8bf78" stroke-width="0.9"/>
<path d="M255.5,542.2 Q214.5,522.2 237.1,560.6" fill="none" stroke="#d8bf78" stroke-width="0.9"/>
<path d="M253.1,558.3 Q247.9,569.4 221.5,528.1" fill="none" stroke="#d8bf78" stroke-width="0.9"/>
<path d="M218.9,564.6 Q228.8,519.2 251.8,548.0" fill="none" stroke="#d8bf78" stroke-width="0.9"/>
<path d="M211.4,565.2 Q218.9,562.4 220.9,552.8" fill="none" stroke="#d8bf78" stroke-width="0.9"/>
<path d="M238.1,533.1 Q207.6,526.7 217.9,553.6" fill="none" stroke="#d8bf78" stroke-width="0.9"/>
<circle cx="225.5" cy="521.0" r="2.6" fill="#7a6ae8"/>
<circle cx="241.5" cy="525.0" r="2.6" fill="#7a6ae8"/>
<circle cx="213.5" cy="537.0" r="2.6" fill="#7a6ae8"/>
<circle cx="230.5" cy="539.0" r="2.6" fill="#7a6ae8"/>
<circle cx="245.5" cy="541.0" r="2.6" fill="#7a6ae8"/>
<circle cx="251.5" cy="553.0" r="2.6" fill="#7a6ae8"/>
<circle cx="217.5" cy="555.0" r="2.6" fill="#7a6ae8"/>
<circle cx="235.5" cy="565.0" r="2.6" fill="#7a6ae8"/>
<circle cx="278.5" cy="543.0" r="2.9" fill="#e0683a"/>
<circle cx="277.9" cy="550.0" r="2.9" fill="#e0683a"/>
<circle cx="276.3" cy="556.9" r="2.9" fill="#e0683a"/>
<circle cx="273.6" cy="563.4" r="2.9" fill="#e0683a"/>
<circle cx="269.9" cy="569.5" r="2.9" fill="#e0683a"/>
<circle cx="265.3" cy="574.8" r="2.9" fill="#e0683a"/>
<circle cx="260.0" cy="579.4" r="2.9" fill="#e0683a"/>
<circle cx="253.9" cy="583.1" r="2.9" fill="#e0683a"/>
<circle cx="247.4" cy="585.8" r="2.9" fill="#e0683a"/>
<circle cx="240.5" cy="587.4" r="2.9" fill="#e0683a"/>
<circle cx="233.5" cy="588.0" r="2.9" fill="#e0683a"/>
<circle cx="226.5" cy="587.4" r="2.9" fill="#e0683a"/>
<circle cx="219.6" cy="585.8" r="2.9" fill="#e0683a"/>
<circle cx="213.1" cy="583.1" r="2.9" fill="#e0683a"/>
<circle cx="207.0" cy="579.4" r="2.9" fill="#e0683a"/>
<circle cx="201.7" cy="574.8" r="2.9" fill="#e0683a"/>
<circle cx="197.1" cy="569.5" r="2.9" fill="#e0683a"/>
<circle cx="193.4" cy="563.4" r="2.9" fill="#e0683a"/>
<circle cx="190.7" cy="556.9" r="2.9" fill="#e0683a"/>
<circle cx="189.1" cy="550.0" r="2.9" fill="#e0683a"/>
<circle cx="188.5" cy="543.0" r="2.9" fill="#e0683a"/>
<circle cx="189.1" cy="536.0" r="2.9" fill="#e0683a"/>
<circle cx="190.7" cy="529.1" r="2.9" fill="#e0683a"/>
<circle cx="193.4" cy="522.6" r="2.9" fill="#e0683a"/>
<circle cx="197.1" cy="516.5" r="2.9" fill="#e0683a"/>
<circle cx="201.7" cy="511.2" r="2.9" fill="#e0683a"/>
<circle cx="207.0" cy="506.6" r="2.9" fill="#e0683a"/>
<circle cx="213.1" cy="502.9" r="2.9" fill="#e0683a"/>
<circle cx="219.6" cy="500.2" r="2.9" fill="#e0683a"/>
<circle cx="226.5" cy="498.6" r="2.9" fill="#e0683a"/>
<circle cx="233.5" cy="498.0" r="2.9" fill="#e0683a"/>
<circle cx="240.5" cy="498.6" r="2.9" fill="#e0683a"/>
<circle cx="247.4" cy="500.2" r="2.9" fill="#e0683a"/>
<circle cx="253.9" cy="502.9" r="2.9" fill="#e0683a"/>
<circle cx="260.0" cy="506.6" r="2.9" fill="#e0683a"/>
<circle cx="265.3" cy="511.2" r="2.9" fill="#e0683a"/>
<circle cx="269.9" cy="516.5" r="2.9" fill="#e0683a"/>
<circle cx="273.6" cy="522.6" r="2.9" fill="#e0683a"/>
<circle cx="276.3" cy="529.1" r="2.9" fill="#e0683a"/>
<circle cx="277.9" cy="536.0" r="2.9" fill="#e0683a"/>
<circle cx="273.6" cy="551.5" r="4.3" fill="#74349a"/>
<circle cx="264.0" cy="570.4" r="4.3" fill="#74349a"/>
<circle cx="246.2" cy="582.0" r="4.3" fill="#74349a"/>
<circle cx="225.0" cy="583.1" r="4.3" fill="#74349a"/>
<circle cx="206.1" cy="573.5" r="4.3" fill="#74349a"/>
<circle cx="194.5" cy="555.7" r="4.3" fill="#74349a"/>
<circle cx="193.4" cy="534.5" r="4.3" fill="#74349a"/>
<circle cx="203.0" cy="515.6" r="4.3" fill="#74349a"/>
<circle cx="220.8" cy="504.0" r="4.3" fill="#74349a"/>
<circle cx="242.0" cy="502.9" r="4.3" fill="#74349a"/>
<circle cx="260.9" cy="512.5" r="4.3" fill="#74349a"/>
<circle cx="272.5" cy="530.3" r="4.3" fill="#74349a"/>
<circle cx="286.0" cy="543.0" r="3.1" fill="#b8c6ec" stroke="#6a82c8" stroke-width="0.8"/>
<circle cx="285.6" cy="549.3" r="3.1" fill="#b8c6ec" stroke="#6a82c8" stroke-width="0.8"/>
<circle cx="284.5" cy="555.6" r="3.1" fill="#b8c6ec" stroke="#6a82c8" stroke-width="0.8"/>
<circle cx="282.6" cy="561.6" r="3.1" fill="#b8c6ec" stroke="#6a82c8" stroke-width="0.8"/>
<circle cx="280.0" cy="567.4" r="3.1" fill="#b8c6ec" stroke="#6a82c8" stroke-width="0.8"/>
<circle cx="276.7" cy="572.8" r="3.1" fill="#b8c6ec" stroke="#6a82c8" stroke-width="0.8"/>
<circle cx="272.8" cy="577.8" r="3.1" fill="#b8c6ec" stroke="#6a82c8" stroke-width="0.8"/>
<circle cx="268.3" cy="582.3" r="3.1" fill="#b8c6ec" stroke="#6a82c8" stroke-width="0.8"/>
<circle cx="263.3" cy="586.2" r="3.1" fill="#b8c6ec" stroke="#6a82c8" stroke-width="0.8"/>
<circle cx="257.9" cy="589.5" r="3.1" fill="#b8c6ec" stroke="#6a82c8" stroke-width="0.8"/>
<circle cx="252.1" cy="592.1" r="3.1" fill="#b8c6ec" stroke="#6a82c8" stroke-width="0.8"/>
<circle cx="246.1" cy="594.0" r="3.1" fill="#b8c6ec" stroke="#6a82c8" stroke-width="0.8"/>
<circle cx="239.8" cy="595.1" r="3.1" fill="#b8c6ec" stroke="#6a82c8" stroke-width="0.8"/>
<circle cx="233.5" cy="595.5" r="3.1" fill="#b8c6ec" stroke="#6a82c8" stroke-width="0.8"/>
<circle cx="227.2" cy="595.1" r="3.1" fill="#b8c6ec" stroke="#6a82c8" stroke-width="0.8"/>
<circle cx="220.9" cy="594.0" r="3.1" fill="#b8c6ec" stroke="#6a82c8" stroke-width="0.8"/>
<circle cx="214.9" cy="592.1" r="3.1" fill="#b8c6ec" stroke="#6a82c8" stroke-width="0.8"/>
<circle cx="209.1" cy="589.5" r="3.1" fill="#b8c6ec" stroke="#6a82c8" stroke-width="0.8"/>
<circle cx="203.7" cy="586.2" r="3.1" fill="#b8c6ec" stroke="#6a82c8" stroke-width="0.8"/>
<circle cx="198.7" cy="582.3" r="3.1" fill="#b8c6ec" stroke="#6a82c8" stroke-width="0.8"/>
<circle cx="194.2" cy="577.8" r="3.1" fill="#b8c6ec" stroke="#6a82c8" stroke-width="0.8"/>
<circle cx="190.3" cy="572.8" r="3.1" fill="#b8c6ec" stroke="#6a82c8" stroke-width="0.8"/>
<circle cx="187.0" cy="567.4" r="3.1" fill="#b8c6ec" stroke="#6a82c8" stroke-width="0.8"/>
<circle cx="184.4" cy="561.6" r="3.1" fill="#b8c6ec" stroke="#6a82c8" stroke-width="0.8"/>
<circle cx="182.5" cy="555.6" r="3.1" fill="#b8c6ec" stroke="#6a82c8" stroke-width="0.8"/>
<circle cx="181.4" cy="549.3" r="3.1" fill="#b8c6ec" stroke="#6a82c8" stroke-width="0.8"/>
<circle cx="181.0" cy="543.0" r="3.1" fill="#b8c6ec" stroke="#6a82c8" stroke-width="0.8"/>
<circle cx="181.4" cy="536.7" r="3.1" fill="#b8c6ec" stroke="#6a82c8" stroke-width="0.8"/>
<circle cx="182.5" cy="530.4" r="3.1" fill="#b8c6ec" stroke="#6a82c8" stroke-width="0.8"/>
<circle cx="184.4" cy="524.4" r="3.1" fill="#b8c6ec" stroke="#6a82c8" stroke-width="0.8"/>
<circle cx="187.0" cy="518.6" r="3.1" fill="#b8c6ec" stroke="#6a82c8" stroke-width="0.8"/>
<circle cx="190.3" cy="513.2" r="3.1" fill="#b8c6ec" stroke="#6a82c8" stroke-width="0.8"/>
<circle cx="194.2" cy="508.2" r="3.1" fill="#b8c6ec" stroke="#6a82c8" stroke-width="0.8"/>
<circle cx="198.7" cy="503.7" r="3.1" fill="#b8c6ec" stroke="#6a82c8" stroke-width="0.8"/>
<circle cx="203.7" cy="499.8" r="3.1" fill="#b8c6ec" stroke="#6a82c8" stroke-width="0.8"/>
<circle cx="209.1" cy="496.5" r="3.1" fill="#b8c6ec" stroke="#6a82c8" stroke-width="0.8"/>
<circle cx="214.9" cy="493.9" r="3.1" fill="#b8c6ec" stroke="#6a82c8" stroke-width="0.8"/>
<circle cx="220.9" cy="492.0" r="3.1" fill="#b8c6ec" stroke="#6a82c8" stroke-width="0.8"/>
<circle cx="227.2" cy="490.9" r="3.1" fill="#b8c6ec" stroke="#6a82c8" stroke-width="0.8"/>
<circle cx="233.5" cy="490.5" r="3.1" fill="#b8c6ec" stroke="#6a82c8" stroke-width="0.8"/>
<circle cx="239.8" cy="490.9" r="3.1" fill="#b8c6ec" stroke="#6a82c8" stroke-width="0.8"/>
<circle cx="246.1" cy="492.0" r="3.1" fill="#b8c6ec" stroke="#6a82c8" stroke-width="0.8"/>
<circle cx="252.1" cy="493.9" r="3.1" fill="#b8c6ec" stroke="#6a82c8" stroke-width="0.8"/>
<circle cx="257.9" cy="496.5" r="3.1" fill="#b8c6ec" stroke="#6a82c8" stroke-width="0.8"/>
<circle cx="263.3" cy="499.8" r="3.1" fill="#b8c6ec" stroke="#6a82c8" stroke-width="0.8"/>
<circle cx="268.3" cy="503.7" r="3.1" fill="#b8c6ec" stroke="#6a82c8" stroke-width="0.8"/>
<circle cx="272.8" cy="508.2" r="3.1" fill="#b8c6ec" stroke="#6a82c8" stroke-width="0.8"/>
<circle cx="276.7" cy="513.2" r="3.1" fill="#b8c6ec" stroke="#6a82c8" stroke-width="0.8"/>
<circle cx="280.0" cy="518.6" r="3.1" fill="#b8c6ec" stroke="#6a82c8" stroke-width="0.8"/>
<circle cx="282.6" cy="524.4" r="3.1" fill="#b8c6ec" stroke="#6a82c8" stroke-width="0.8"/>
<circle cx="284.5" cy="530.4" r="3.1" fill="#b8c6ec" stroke="#6a82c8" stroke-width="0.8"/>
<circle cx="285.6" cy="536.7" r="3.1" fill="#b8c6ec" stroke="#6a82c8" stroke-width="0.8"/>
<polyline points="446.8,546.1 447.0,546.5 447.1,546.8 447.3,547.1 447.5,547.4 447.7,547.7 447.8,547.9 448.0,548.1 448.2,548.2 448.4,548.3 448.6,548.3 448.8,548.2 449.0,548.1 449.2,548.0 449.5,547.8 449.7,547.6 449.9,547.3 450.1,547.0 450.4,546.7 450.6,546.4 450.8,546.1 451.0,545.8 451.3,545.5 451.5,545.2 451.7,545.0 451.9,544.8 452.1,544.7 452.3,544.6 452.6,544.6 452.7,544.7 452.9,544.7 453.1,544.9 453.3,545.1 453.5,545.3 453.7,545.6 453.8,545.9 454.0,546.3 454.2,546.6 454.4,546.9 454.5,547.3 454.7,547.6 454.9,547.9 455.0,548.2 455.2,548.5 455.4,548.7 455.6,548.8 455.8,548.9 456.0,548.9 456.2,548.9 456.4,548.8 456.6,548.7 456.8,548.5 457.0,548.3 457.3,548.1 457.5,547.8 457.7,547.5 457.9,547.2 458.2,546.9 458.4,546.6 458.6,546.3 458.9,546.0" fill="none" stroke="#a07870" stroke-width="1.3" stroke-linecap="round" stroke-linejoin="round"/>
<polyline points="443.4,560.8 443.4,561.2 443.5,561.6 443.6,561.9 443.7,562.3 443.7,562.6 443.9,562.8 444.0,563.0 444.1,563.2 444.3,563.3 444.5,563.4 444.7,563.4 444.9,563.4 445.2,563.3 445.4,563.2 445.7,563.0 446.0,562.8 446.3,562.6 446.6,562.4 446.9,562.1 447.2,561.9 447.5,561.7 447.8,561.4 448.1,561.3 448.4,561.1 448.6,561.0 448.9,561.0 449.1,560.9 449.3,561.0 449.5,561.1 449.6,561.2 449.8,561.4 449.9,561.7 450.0,561.9 450.1,562.3 450.2,562.6 450.2,563.0 450.3,563.3 450.4,563.7 450.4,564.1 450.5,564.5 450.6,564.8 450.7,565.1 450.8,565.4 450.9,565.7 451.0,565.9 451.2,566.0 451.4,566.1 451.6,566.1 451.8,566.1 452.0,566.1 452.3,566.0 452.6,565.8 452.9,565.6 453.1,565.4 453.5,565.2 453.8,565.0 454.1,564.7 454.4,564.5 454.7,564.3 455.0,564.1" fill="none" stroke="#a07870" stroke-width="1.3" stroke-linecap="round" stroke-linejoin="round"/>
<polyline points="435.9,573.9 435.9,574.3 435.8,574.7 435.8,575.1 435.8,575.4 435.8,575.7 435.8,576.0 435.9,576.2 436.0,576.5 436.1,576.6 436.3,576.7 436.5,576.8 436.7,576.8 437.0,576.8 437.3,576.8 437.6,576.7 437.9,576.6 438.3,576.5 438.6,576.3 439.0,576.2 439.3,576.0 439.7,575.9 440.0,575.8 440.4,575.7 440.7,575.6 440.9,575.6 441.2,575.6 441.4,575.7 441.6,575.8 441.7,575.9 441.8,576.1 441.9,576.3 442.0,576.6 442.0,576.9 442.0,577.2 442.0,577.6 441.9,577.9 441.9,578.3 441.8,578.7 441.8,579.1 441.7,579.5 441.7,579.8 441.7,580.2 441.7,580.5 441.8,580.7 441.9,580.9 442.0,581.1 442.1,581.3 442.3,581.4 442.5,581.4 442.8,581.4 443.0,581.4 443.3,581.3 443.7,581.2 444.0,581.1 444.4,581.0 444.7,580.9 445.1,580.7 445.4,580.6 445.8,580.4 446.1,580.3" fill="none" stroke="#a07870" stroke-width="1.3" stroke-linecap="round" stroke-linejoin="round"/>
<polyline points="425.1,584.4 424.9,584.8 424.8,585.1 424.7,585.5 424.5,585.8 424.5,586.1 424.4,586.4 424.4,586.6 424.4,586.9 424.5,587.1 424.6,587.2 424.8,587.3 425.0,587.4 425.3,587.5 425.6,587.5 425.9,587.5 426.2,587.5 426.6,587.5 427.0,587.5 427.4,587.5 427.8,587.4 428.1,587.4 428.5,587.4 428.8,587.4 429.1,587.4 429.4,587.5 429.7,587.5 429.8,587.6 430.0,587.8 430.1,588.0 430.1,588.2 430.2,588.4 430.1,588.7 430.1,589.0 430.0,589.3 429.8,589.6 429.7,590.0 429.6,590.3 429.4,590.7 429.3,591.0 429.1,591.4 429.0,591.7 428.9,592.0 428.8,592.3 428.8,592.6 428.8,592.8 428.9,593.0 429.0,593.2 429.1,593.4 429.3,593.5 429.5,593.5 429.8,593.6 430.1,593.6 430.5,593.6 430.8,593.6 431.2,593.6 431.6,593.5 432.0,593.5 432.4,593.5 432.7,593.5 433.1,593.5" fill="none" stroke="#a07870" stroke-width="1.3" stroke-linecap="round" stroke-linejoin="round"/>
<polyline points="411.7,591.4 411.5,591.7 411.2,592.0 411.0,592.3 410.8,592.6 410.7,592.9 410.5,593.1 410.5,593.4 410.4,593.6 410.5,593.8 410.5,594.0 410.7,594.2 410.8,594.3 411.1,594.4 411.3,594.6 411.6,594.7 412.0,594.8 412.3,594.8 412.7,594.9 413.1,595.0 413.5,595.1 413.8,595.2 414.2,595.2 414.5,595.3 414.8,595.5 415.0,595.6 415.2,595.7 415.4,595.9 415.5,596.1 415.5,596.2 415.5,596.5 415.5,596.7 415.4,596.9 415.2,597.2 415.0,597.5 414.8,597.8 414.6,598.1 414.4,598.4 414.1,598.7 413.9,599.0 413.6,599.3 413.4,599.5 413.3,599.8 413.1,600.1 413.0,600.3 412.9,600.6 412.9,600.8 413.0,601.0 413.1,601.2 413.2,601.3 413.4,601.4 413.7,601.6 414.0,601.7 414.3,601.8 414.7,601.9 415.0,602.0 415.4,602.0 415.8,602.1 416.2,602.2 416.5,602.3 416.9,602.4" fill="none" stroke="#a07870" stroke-width="1.3" stroke-linecap="round" stroke-linejoin="round"/>
<polyline points="396.9,594.4 396.6,594.6 396.3,594.9 396.0,595.1 395.7,595.3 395.5,595.5 395.3,595.7 395.2,595.9 395.1,596.1 395.0,596.3 395.1,596.5 395.1,596.7 395.3,596.9 395.4,597.1 395.7,597.3 395.9,597.5 396.2,597.7 396.6,597.8 396.9,598.0 397.2,598.2 397.6,598.4 397.9,598.6 398.2,598.8 398.5,598.9 398.7,599.1 398.9,599.3 399.1,599.5 399.2,599.7 399.2,599.9 399.2,600.1 399.2,600.3 399.1,600.5 398.9,600.7 398.7,600.9 398.4,601.1 398.1,601.4 397.8,601.6 397.5,601.8 397.2,602.0 396.9,602.2 396.6,602.5 396.3,602.7 396.0,602.9 395.8,603.1 395.7,603.3 395.5,603.5 395.5,603.7 395.5,603.9 395.5,604.1 395.6,604.3 395.8,604.5 396.0,604.7 396.2,604.9 396.5,605.1 396.8,605.2 397.1,605.4 397.5,605.6 397.8,605.8 398.2,606.0 398.5,606.2 398.8,606.3" fill="none" stroke="#a07870" stroke-width="1.3" stroke-linecap="round" stroke-linejoin="round"/>
<polyline points="381.9,593.1 381.5,593.2 381.2,593.3 380.8,593.5 380.5,593.6 380.2,593.7 380.0,593.9 379.8,594.0 379.7,594.2 379.6,594.4 379.5,594.6 379.5,594.8 379.6,595.0 379.7,595.3 379.9,595.5 380.1,595.8 380.3,596.0 380.6,596.3 380.8,596.6 381.1,596.8 381.4,597.1 381.7,597.4 381.9,597.6 382.1,597.9 382.3,598.1 382.5,598.4 382.6,598.6 382.6,598.8 382.6,599.0 382.5,599.2 382.4,599.4 382.2,599.5 382.0,599.7 381.7,599.8 381.4,600.0 381.1,600.1 380.8,600.2 380.4,600.3 380.0,600.5 379.7,600.6 379.3,600.7 379.0,600.8 378.7,601.0 378.4,601.1 378.2,601.3 378.0,601.4 377.9,601.6 377.8,601.8 377.8,602.0 377.9,602.2 377.9,602.4 378.1,602.7 378.3,602.9 378.5,603.2 378.7,603.5 379.0,603.7 379.3,604.0 379.6,604.3 379.8,604.5 380.1,604.8 380.3,605.1" fill="none" stroke="#a07870" stroke-width="1.3" stroke-linecap="round" stroke-linejoin="round"/>
<polyline points="367.9,587.6 367.5,587.6 367.1,587.6 366.7,587.7 366.4,587.7 366.1,587.7 365.8,587.8 365.6,587.9 365.4,588.0 365.2,588.2 365.1,588.4 365.1,588.6 365.1,588.8 365.2,589.1 365.2,589.3 365.4,589.6 365.5,590.0 365.7,590.3 365.9,590.6 366.1,591.0 366.3,591.3 366.4,591.6 366.6,591.9 366.7,592.3 366.8,592.5 366.9,592.8 366.9,593.1 366.9,593.3 366.8,593.5 366.7,593.6 366.6,593.8 366.3,593.9 366.1,594.0 365.8,594.0 365.5,594.1 365.1,594.1 364.7,594.1 364.4,594.1 364.0,594.1 363.6,594.1 363.2,594.2 362.9,594.2 362.5,594.2 362.2,594.3 362.0,594.4 361.8,594.5 361.6,594.6 361.5,594.8 361.4,595.0 361.4,595.2 361.4,595.5 361.5,595.7 361.6,596.0 361.7,596.3 361.9,596.6 362.1,597.0 362.3,597.3 362.5,597.6 362.6,598.0 362.8,598.3 363.0,598.6" fill="none" stroke="#a07870" stroke-width="1.3" stroke-linecap="round" stroke-linejoin="round"/>
<polyline points="355.9,578.4 355.6,578.3 355.2,578.2 354.8,578.1 354.5,578.0 354.2,578.0 353.9,578.0 353.6,578.0 353.4,578.1 353.3,578.2 353.1,578.3 353.0,578.5 353.0,578.7 352.9,579.0 352.9,579.3 353.0,579.6 353.0,580.0 353.1,580.3 353.2,580.7 353.3,581.1 353.3,581.5 353.4,581.8 353.5,582.2 353.5,582.5 353.6,582.8 353.5,583.1 353.5,583.3 353.4,583.5 353.3,583.7 353.1,583.8 352.9,583.9 352.7,584.0 352.4,584.0 352.1,584.0 351.8,583.9 351.5,583.8 351.1,583.7 350.7,583.6 350.4,583.5 350.0,583.4 349.6,583.4 349.3,583.3 348.9,583.2 348.6,583.2 348.4,583.2 348.1,583.3 347.9,583.4 347.8,583.5 347.7,583.6 347.6,583.8 347.5,584.1 347.5,584.4 347.6,584.7 347.6,585.0 347.7,585.4 347.7,585.7 347.8,586.1 347.9,586.5 348.0,586.9 348.1,587.2 348.1,587.6" fill="none" stroke="#a07870" stroke-width="1.3" stroke-linecap="round" stroke-linejoin="round"/>
<polyline points="347.1,566.2 346.8,566.0 346.4,565.8 346.1,565.6 345.8,565.4 345.5,565.3 345.2,565.2 345.0,565.2 344.8,565.2 344.6,565.2 344.4,565.3 344.2,565.5 344.1,565.7 344.0,565.9 343.9,566.2 343.9,566.5 343.8,566.9 343.8,567.2 343.8,567.6 343.8,568.0 343.7,568.4 343.7,568.8 343.7,569.1 343.6,569.5 343.6,569.8 343.5,570.0 343.4,570.2 343.2,570.4 343.1,570.5 342.9,570.6 342.7,570.6 342.4,570.6 342.2,570.5 341.9,570.4 341.6,570.3 341.3,570.1 340.9,569.9 340.6,569.8 340.3,569.5 340.0,569.3 339.6,569.2 339.3,569.0 339.0,568.9 338.7,568.8 338.5,568.7 338.2,568.7 338.0,568.7 337.8,568.8 337.7,568.9 337.5,569.1 337.4,569.3 337.3,569.5 337.3,569.8 337.2,570.2 337.2,570.5 337.2,570.9 337.1,571.3 337.1,571.7 337.1,572.1 337.1,572.4 337.0,572.8" fill="none" stroke="#a07870" stroke-width="1.3" stroke-linecap="round" stroke-linejoin="round"/>
<polyline points="342.0,551.9 341.8,551.7 341.5,551.4 341.3,551.1 341.0,550.9 340.8,550.7 340.5,550.5 340.3,550.4 340.1,550.3 339.9,550.3 339.7,550.4 339.5,550.5 339.3,550.6 339.2,550.8 339.0,551.1 338.9,551.4 338.7,551.7 338.6,552.0 338.5,552.4 338.3,552.8 338.2,553.1 338.1,553.5 337.9,553.8 337.8,554.1 337.6,554.4 337.5,554.6 337.3,554.8 337.1,554.9 336.9,555.0 336.7,555.0 336.5,555.0 336.3,554.9 336.1,554.8 335.8,554.6 335.6,554.4 335.3,554.1 335.1,553.8 334.8,553.6 334.6,553.3 334.3,553.0 334.0,552.7 333.8,552.5 333.5,552.3 333.3,552.1 333.1,551.9 332.8,551.9 332.6,551.8 332.4,551.8 332.2,551.9 332.1,552.0 331.9,552.2 331.7,552.4 331.6,552.7 331.4,553.0 331.3,553.3 331.2,553.7 331.0,554.1 330.9,554.4 330.8,554.8 330.6,555.1 330.5,555.5" fill="none" stroke="#a07870" stroke-width="1.3" stroke-linecap="round" stroke-linejoin="round"/>
<polyline points="341.2,536.9 341.0,536.5 340.9,536.2 340.7,535.9 340.5,535.6 340.3,535.3 340.2,535.1 340.0,534.9 339.8,534.8 339.6,534.7 339.4,534.7 339.2,534.8 339.0,534.9 338.8,535.0 338.5,535.2 338.3,535.4 338.1,535.7 337.9,536.0 337.6,536.3 337.4,536.6 337.2,536.9 337.0,537.2 336.7,537.5 336.5,537.8 336.3,538.0 336.1,538.2 335.9,538.3 335.7,538.4 335.4,538.4 335.3,538.3 335.1,538.3 334.9,538.1 334.7,537.9 334.5,537.7 334.3,537.4 334.2,537.1 334.0,536.7 333.8,536.4 333.6,536.1 333.5,535.7 333.3,535.4 333.1,535.1 333.0,534.8 332.8,534.5 332.6,534.3 332.4,534.2 332.2,534.1 332.0,534.1 331.8,534.1 331.6,534.2 331.4,534.3 331.2,534.5 331.0,534.7 330.7,534.9 330.5,535.2 330.3,535.5 330.1,535.8 329.8,536.1 329.6,536.4 329.4,536.7 329.1,537.0" fill="none" stroke="#a07870" stroke-width="1.3" stroke-linecap="round" stroke-linejoin="round"/>
<polyline points="344.6,522.2 344.6,521.8 344.5,521.4 344.4,521.1 344.3,520.7 344.3,520.4 344.1,520.2 344.0,520.0 343.9,519.8 343.7,519.7 343.5,519.6 343.3,519.6 343.1,519.6 342.8,519.7 342.6,519.8 342.3,520.0 342.0,520.2 341.7,520.4 341.4,520.6 341.1,520.9 340.8,521.1 340.5,521.3 340.2,521.6 339.9,521.7 339.6,521.9 339.4,522.0 339.1,522.0 338.9,522.1 338.7,522.0 338.5,521.9 338.4,521.8 338.2,521.6 338.1,521.3 338.0,521.1 337.9,520.7 337.8,520.4 337.8,520.0 337.7,519.7 337.6,519.3 337.6,518.9 337.5,518.5 337.4,518.2 337.3,517.9 337.2,517.6 337.1,517.3 337.0,517.1 336.8,517.0 336.6,516.9 336.4,516.9 336.2,516.9 336.0,516.9 335.7,517.0 335.4,517.2 335.1,517.4 334.9,517.6 334.5,517.8 334.2,518.0 333.9,518.3 333.6,518.5 333.3,518.7 333.0,518.9" fill="none" stroke="#a07870" stroke-width="1.3" stroke-linecap="round" stroke-linejoin="round"/>
<polyline points="352.1,509.1 352.1,508.7 352.2,508.3 352.2,507.9 352.2,507.6 352.2,507.3 352.2,507.0 352.1,506.8 352.0,506.5 351.9,506.4 351.7,506.3 351.5,506.2 351.3,506.2 351.0,506.2 350.7,506.2 350.4,506.3 350.1,506.4 349.7,506.5 349.4,506.7 349.0,506.8 348.7,507.0 348.3,507.1 348.0,507.2 347.6,507.3 347.3,507.4 347.1,507.4 346.8,507.4 346.6,507.3 346.4,507.2 346.3,507.1 346.2,506.9 346.1,506.7 346.0,506.4 346.0,506.1 346.0,505.8 346.0,505.4 346.1,505.1 346.1,504.7 346.2,504.3 346.2,503.9 346.3,503.5 346.3,503.2 346.3,502.8 346.3,502.5 346.2,502.3 346.1,502.1 346.0,501.9 345.9,501.7 345.7,501.6 345.5,501.6 345.2,501.6 345.0,501.6 344.7,501.7 344.3,501.8 344.0,501.9 343.6,502.0 343.3,502.1 342.9,502.3 342.6,502.4 342.2,502.6 341.9,502.7" fill="none" stroke="#a07870" stroke-width="1.3" stroke-linecap="round" stroke-linejoin="round"/>
<polyline points="362.9,498.6 363.1,498.2 363.2,497.9 363.3,497.5 363.5,497.2 363.5,496.9 363.6,496.6 363.6,496.4 363.6,496.1 363.5,495.9 363.4,495.8 363.2,495.7 363.0,495.6 362.7,495.5 362.4,495.5 362.1,495.5 361.8,495.5 361.4,495.5 361.0,495.5 360.6,495.5 360.2,495.6 359.9,495.6 359.5,495.6 359.2,495.6 358.9,495.6 358.6,495.5 358.3,495.5 358.2,495.4 358.0,495.2 357.9,495.0 357.9,494.8 357.8,494.6 357.9,494.3 357.9,494.0 358.0,493.7 358.2,493.4 358.3,493.0 358.4,492.7 358.6,492.3 358.7,492.0 358.9,491.6 359.0,491.3 359.1,491.0 359.2,490.7 359.2,490.4 359.2,490.2 359.1,490.0 359.0,489.8 358.9,489.6 358.7,489.5 358.5,489.5 358.2,489.4 357.9,489.4 357.5,489.4 357.2,489.4 356.8,489.4 356.4,489.5 356.0,489.5 355.6,489.5 355.3,489.5 354.9,489.5" fill="none" stroke="#a07870" stroke-width="1.3" stroke-linecap="round" stroke-linejoin="round"/>
<polyline points="376.3,491.6 376.5,491.3 376.8,491.0 377.0,490.7 377.2,490.4 377.3,490.1 377.5,489.9 377.5,489.6 377.6,489.4 377.5,489.2 377.5,489.0 377.3,488.8 377.2,488.7 376.9,488.6 376.7,488.4 376.4,488.3 376.0,488.2 375.7,488.2 375.3,488.1 374.9,488.0 374.5,487.9 374.2,487.8 373.8,487.8 373.5,487.7 373.2,487.5 373.0,487.4 372.8,487.3 372.6,487.1 372.5,486.9 372.5,486.8 372.5,486.5 372.5,486.3 372.6,486.1 372.8,485.8 373.0,485.5 373.2,485.2 373.4,484.9 373.6,484.6 373.9,484.3 374.1,484.0 374.4,483.7 374.6,483.5 374.7,483.2 374.9,482.9 375.0,482.7 375.1,482.4 375.1,482.2 375.0,482.0 374.9,481.8 374.8,481.7 374.6,481.6 374.3,481.4 374.0,481.3 373.7,481.2 373.3,481.1 373.0,481.0 372.6,481.0 372.2,480.9 371.8,480.8 371.5,480.7 371.1,480.6" fill="none" stroke="#a07870" stroke-width="1.3" stroke-linecap="round" stroke-linejoin="round"/>
<polyline points="391.1,488.6 391.4,488.4 391.7,488.1 392.0,487.9 392.3,487.7 392.5,487.5 392.7,487.3 392.8,487.1 392.9,486.9 393.0,486.7 392.9,486.5 392.9,486.3 392.7,486.1 392.6,485.9 392.3,485.7 392.1,485.5 391.8,485.3 391.4,485.2 391.1,485.0 390.8,484.8 390.4,484.6 390.1,484.4 389.8,484.2 389.5,484.1 389.3,483.9 389.1,483.7 388.9,483.5 388.8,483.3 388.8,483.1 388.8,482.9 388.8,482.7 388.9,482.5 389.1,482.3 389.3,482.1 389.6,481.9 389.9,481.6 390.2,481.4 390.5,481.2 390.8,481.0 391.1,480.8 391.4,480.5 391.7,480.3 392.0,480.1 392.2,479.9 392.3,479.7 392.5,479.5 392.5,479.3 392.5,479.1 392.5,478.9 392.4,478.7 392.2,478.5 392.0,478.3 391.8,478.1 391.5,477.9 391.2,477.8 390.9,477.6 390.5,477.4 390.2,477.2 389.8,477.0 389.5,476.8 389.2,476.7" fill="none" stroke="#a07870" stroke-width="1.3" stroke-linecap="round" stroke-linejoin="round"/>
<polyline points="406.1,489.9 406.5,489.8 406.8,489.7 407.2,489.5 407.5,489.4 407.8,489.3 408.0,489.1 408.2,489.0 408.3,488.8 408.4,488.6 408.5,488.4 408.5,488.2 408.4,488.0 408.3,487.7 408.1,487.5 407.9,487.2 407.7,487.0 407.4,486.7 407.2,486.4 406.9,486.2 406.6,485.9 406.3,485.6 406.1,485.4 405.9,485.1 405.7,484.9 405.5,484.6 405.4,484.4 405.4,484.2 405.4,484.0 405.5,483.8 405.6,483.6 405.8,483.5 406.0,483.3 406.3,483.2 406.6,483.0 406.9,482.9 407.2,482.8 407.6,482.7 408.0,482.5 408.3,482.4 408.7,482.3 409.0,482.2 409.3,482.0 409.6,481.9 409.8,481.7 410.0,481.6 410.1,481.4 410.2,481.2 410.2,481.0 410.1,480.8 410.1,480.6 409.9,480.3 409.7,480.1 409.5,479.8 409.3,479.5 409.0,479.3 408.7,479.0 408.4,478.7 408.2,478.5 407.9,478.2 407.7,477.9" fill="none" stroke="#a07870" stroke-width="1.3" stroke-linecap="round" stroke-linejoin="round"/>
<polyline points="420.1,495.4 420.5,495.4 420.9,495.4 421.3,495.3 421.6,495.3 421.9,495.3 422.2,495.2 422.4,495.1 422.6,495.0 422.8,494.8 422.9,494.6 422.9,494.4 422.9,494.2 422.8,493.9 422.8,493.7 422.6,493.4 422.5,493.0 422.3,492.7 422.1,492.4 421.9,492.0 421.7,491.7 421.6,491.4 421.4,491.1 421.3,490.7 421.2,490.5 421.1,490.2 421.1,489.9 421.1,489.7 421.2,489.5 421.3,489.4 421.4,489.2 421.7,489.1 421.9,489.0 422.2,489.0 422.5,488.9 422.9,488.9 423.3,488.9 423.6,488.9 424.0,488.9 424.4,488.9 424.8,488.8 425.1,488.8 425.5,488.8 425.8,488.7 426.0,488.6 426.2,488.5 426.4,488.4 426.5,488.2 426.6,488.0 426.6,487.8 426.6,487.5 426.5,487.3 426.4,487.0 426.3,486.7 426.1,486.4 425.9,486.0 425.7,485.7 425.5,485.4 425.4,485.0 425.2,484.7 425.0,484.4" fill="none" stroke="#a07870" stroke-width="1.3" stroke-linecap="round" stroke-linejoin="round"/>
<polyline points="432.1,504.6 432.4,504.7 432.8,504.8 433.2,504.9 433.5,505.0 433.8,505.0 434.1,505.0 434.4,505.0 434.6,504.9 434.7,504.8 434.9,504.7 435.0,504.5 435.0,504.3 435.1,504.0 435.1,503.7 435.0,503.4 435.0,503.0 434.9,502.7 434.8,502.3 434.7,501.9 434.7,501.5 434.6,501.2 434.5,500.8 434.5,500.5 434.4,500.2 434.5,499.9 434.5,499.7 434.6,499.5 434.7,499.3 434.9,499.2 435.1,499.1 435.3,499.0 435.6,499.0 435.9,499.0 436.2,499.1 436.5,499.2 436.9,499.3 437.3,499.4 437.6,499.5 438.0,499.6 438.4,499.6 438.7,499.7 439.1,499.8 439.4,499.8 439.6,499.8 439.9,499.7 440.1,499.6 440.2,499.5 440.3,499.4 440.4,499.2 440.5,498.9 440.5,498.6 440.4,498.3 440.4,498.0 440.3,497.6 440.3,497.3 440.2,496.9 440.1,496.5 440.0,496.1 439.9,495.8 439.9,495.4" fill="none" stroke="#a07870" stroke-width="1.3" stroke-linecap="round" stroke-linejoin="round"/>
<polyline points="440.9,516.8 441.2,517.0 441.6,517.2 441.9,517.4 442.2,517.6 442.5,517.7 442.8,517.8 443.0,517.8 443.2,517.8 443.4,517.8 443.6,517.7 443.8,517.5 443.9,517.3 444.0,517.1 444.1,516.8 444.1,516.5 444.2,516.1 444.2,515.8 444.2,515.4 444.2,515.0 444.3,514.6 444.3,514.2 444.3,513.9 444.4,513.5 444.4,513.2 444.5,513.0 444.6,512.8 444.8,512.6 444.9,512.5 445.1,512.4 445.3,512.4 445.6,512.4 445.8,512.5 446.1,512.6 446.4,512.7 446.7,512.9 447.1,513.1 447.4,513.2 447.7,513.5 448.0,513.7 448.4,513.8 448.7,514.0 449.0,514.1 449.3,514.2 449.5,514.3 449.8,514.3 450.0,514.3 450.2,514.2 450.3,514.1 450.5,513.9 450.6,513.7 450.7,513.5 450.7,513.2 450.8,512.8 450.8,512.5 450.8,512.1 450.9,511.7 450.9,511.3 450.9,510.9 450.9,510.6 451.0,510.2" fill="none" stroke="#a07870" stroke-width="1.3" stroke-linecap="round" stroke-linejoin="round"/>
<polyline points="446.0,531.1 446.2,531.3 446.5,531.6 446.7,531.9 447.0,532.1 447.2,532.3 447.5,532.5 447.7,532.6 447.9,532.7 448.1,532.7 448.3,532.6 448.5,532.5 448.7,532.4 448.8,532.2 449.0,531.9 449.1,531.6 449.3,531.3 449.4,531.0 449.5,530.6 449.7,530.2 449.8,529.9 449.9,529.5 450.1,529.2 450.2,528.9 450.4,528.6 450.5,528.4 450.7,528.2 450.9,528.1 451.1,528.0 451.3,528.0 451.5,528.0 451.7,528.1 451.9,528.2 452.2,528.4 452.4,528.6 452.7,528.9 452.9,529.2 453.2,529.4 453.4,529.7 453.7,530.0 454.0,530.3 454.2,530.5 454.5,530.7 454.7,530.9 454.9,531.1 455.2,531.1 455.4,531.2 455.6,531.2 455.8,531.1 455.9,531.0 456.1,530.8 456.3,530.6 456.4,530.3 456.6,530.0 456.7,529.7 456.8,529.3 457.0,528.9 457.1,528.6 457.2,528.2 457.4,527.9 457.5,527.5" fill="none" stroke="#a07870" stroke-width="1.3" stroke-linecap="round" stroke-linejoin="round"/>
<circle cx="394" cy="541.5" r="51" fill="#fbf5df"/>
<line x1="445.0" y1="541.5" x2="433.0" y2="541.5" stroke="#f0b040" stroke-width="1.2"/>
<circle cx="445.0" cy="541.5" r="2.6" fill="#d43a5a"/>
<line x1="444.8" y1="546.5" x2="432.8" y2="545.3" stroke="#9ab0d8" stroke-width="1.2"/>
<circle cx="444.8" cy="546.5" r="2.6" fill="#f0a020"/>
<line x1="444.0" y1="551.4" x2="432.3" y2="549.1" stroke="#f0b040" stroke-width="1.2"/>
<circle cx="444.0" cy="551.4" r="2.6" fill="#9a5010"/>
<line x1="442.8" y1="556.3" x2="431.3" y2="552.8" stroke="#9ab0d8" stroke-width="1.2"/>
<circle cx="442.8" cy="556.3" r="2.6" fill="#f0a020"/>
<line x1="441.1" y1="561.0" x2="430.0" y2="556.4" stroke="#f0b040" stroke-width="1.2"/>
<circle cx="441.1" cy="561.0" r="2.6" fill="#d43a5a"/>
<line x1="439.0" y1="565.5" x2="428.4" y2="559.9" stroke="#9ab0d8" stroke-width="1.2"/>
<circle cx="439.0" cy="565.5" r="2.6" fill="#f0a020"/>
<line x1="436.4" y1="569.8" x2="426.4" y2="563.2" stroke="#f0b040" stroke-width="1.2"/>
<circle cx="436.4" cy="569.8" r="2.6" fill="#9a5010"/>
<line x1="433.4" y1="573.9" x2="424.1" y2="566.2" stroke="#9ab0d8" stroke-width="1.2"/>
<circle cx="433.4" cy="573.9" r="2.6" fill="#f0a020"/>
<line x1="430.1" y1="577.6" x2="421.6" y2="569.1" stroke="#f0b040" stroke-width="1.2"/>
<circle cx="430.1" cy="577.6" r="2.6" fill="#d43a5a"/>
<line x1="426.4" y1="580.9" x2="418.7" y2="571.6" stroke="#9ab0d8" stroke-width="1.2"/>
<circle cx="426.4" cy="580.9" r="2.6" fill="#f0a020"/>
<line x1="422.3" y1="583.9" x2="415.7" y2="573.9" stroke="#f0b040" stroke-width="1.2"/>
<circle cx="422.3" cy="583.9" r="2.6" fill="#9a5010"/>
<line x1="418.0" y1="586.5" x2="412.4" y2="575.9" stroke="#9ab0d8" stroke-width="1.2"/>
<circle cx="418.0" cy="586.5" r="2.6" fill="#f0a020"/>
<line x1="413.5" y1="588.6" x2="408.9" y2="577.5" stroke="#f0b040" stroke-width="1.2"/>
<circle cx="413.5" cy="588.6" r="2.6" fill="#d43a5a"/>
<line x1="408.8" y1="590.3" x2="405.3" y2="578.8" stroke="#9ab0d8" stroke-width="1.2"/>
<circle cx="408.8" cy="590.3" r="2.6" fill="#f0a020"/>
<line x1="403.9" y1="591.5" x2="401.6" y2="579.8" stroke="#f0b040" stroke-width="1.2"/>
<circle cx="403.9" cy="591.5" r="2.6" fill="#9a5010"/>
<line x1="399.0" y1="592.3" x2="397.8" y2="580.3" stroke="#9ab0d8" stroke-width="1.2"/>
<circle cx="399.0" cy="592.3" r="2.6" fill="#f0a020"/>
<line x1="394.0" y1="592.5" x2="394.0" y2="580.5" stroke="#f0b040" stroke-width="1.2"/>
<circle cx="394.0" cy="592.5" r="2.6" fill="#d43a5a"/>
<line x1="389.0" y1="592.3" x2="390.2" y2="580.3" stroke="#9ab0d8" stroke-width="1.2"/>
<circle cx="389.0" cy="592.3" r="2.6" fill="#f0a020"/>
<line x1="384.1" y1="591.5" x2="386.4" y2="579.8" stroke="#f0b040" stroke-width="1.2"/>
<circle cx="384.1" cy="591.5" r="2.6" fill="#9a5010"/>
<line x1="379.2" y1="590.3" x2="382.7" y2="578.8" stroke="#9ab0d8" stroke-width="1.2"/>
<circle cx="379.2" cy="590.3" r="2.6" fill="#f0a020"/>
<line x1="374.5" y1="588.6" x2="379.1" y2="577.5" stroke="#f0b040" stroke-width="1.2"/>
<circle cx="374.5" cy="588.6" r="2.6" fill="#d43a5a"/>
<line x1="370.0" y1="586.5" x2="375.6" y2="575.9" stroke="#9ab0d8" stroke-width="1.2"/>
<circle cx="370.0" cy="586.5" r="2.6" fill="#f0a020"/>
<line x1="365.7" y1="583.9" x2="372.3" y2="573.9" stroke="#f0b040" stroke-width="1.2"/>
<circle cx="365.7" cy="583.9" r="2.6" fill="#9a5010"/>
<line x1="361.6" y1="580.9" x2="369.3" y2="571.6" stroke="#9ab0d8" stroke-width="1.2"/>
<circle cx="361.6" cy="580.9" r="2.6" fill="#f0a020"/>
<line x1="357.9" y1="577.6" x2="366.4" y2="569.1" stroke="#f0b040" stroke-width="1.2"/>
<circle cx="357.9" cy="577.6" r="2.6" fill="#d43a5a"/>
<line x1="354.6" y1="573.9" x2="363.9" y2="566.2" stroke="#9ab0d8" stroke-width="1.2"/>
<circle cx="354.6" cy="573.9" r="2.6" fill="#f0a020"/>
<line x1="351.6" y1="569.8" x2="361.6" y2="563.2" stroke="#f0b040" stroke-width="1.2"/>
<circle cx="351.6" cy="569.8" r="2.6" fill="#9a5010"/>
<line x1="349.0" y1="565.5" x2="359.6" y2="559.9" stroke="#9ab0d8" stroke-width="1.2"/>
<circle cx="349.0" cy="565.5" r="2.6" fill="#f0a020"/>
<line x1="346.9" y1="561.0" x2="358.0" y2="556.4" stroke="#f0b040" stroke-width="1.2"/>
<circle cx="346.9" cy="561.0" r="2.6" fill="#d43a5a"/>
<line x1="345.2" y1="556.3" x2="356.7" y2="552.8" stroke="#9ab0d8" stroke-width="1.2"/>
<circle cx="345.2" cy="556.3" r="2.6" fill="#f0a020"/>
<line x1="344.0" y1="551.4" x2="355.7" y2="549.1" stroke="#f0b040" stroke-width="1.2"/>
<circle cx="344.0" cy="551.4" r="2.6" fill="#9a5010"/>
<line x1="343.2" y1="546.5" x2="355.2" y2="545.3" stroke="#9ab0d8" stroke-width="1.2"/>
<circle cx="343.2" cy="546.5" r="2.6" fill="#f0a020"/>
<line x1="343.0" y1="541.5" x2="355.0" y2="541.5" stroke="#f0b040" stroke-width="1.2"/>
<circle cx="343.0" cy="541.5" r="2.6" fill="#d43a5a"/>
<line x1="343.2" y1="536.5" x2="355.2" y2="537.7" stroke="#9ab0d8" stroke-width="1.2"/>
<circle cx="343.2" cy="536.5" r="2.6" fill="#f0a020"/>
<line x1="344.0" y1="531.6" x2="355.7" y2="533.9" stroke="#f0b040" stroke-width="1.2"/>
<circle cx="344.0" cy="531.6" r="2.6" fill="#9a5010"/>
<line x1="345.2" y1="526.7" x2="356.7" y2="530.2" stroke="#9ab0d8" stroke-width="1.2"/>
<circle cx="345.2" cy="526.7" r="2.6" fill="#f0a020"/>
<line x1="346.9" y1="522.0" x2="358.0" y2="526.6" stroke="#f0b040" stroke-width="1.2"/>
<circle cx="346.9" cy="522.0" r="2.6" fill="#d43a5a"/>
<line x1="349.0" y1="517.5" x2="359.6" y2="523.1" stroke="#9ab0d8" stroke-width="1.2"/>
<circle cx="349.0" cy="517.5" r="2.6" fill="#f0a020"/>
<line x1="351.6" y1="513.2" x2="361.6" y2="519.8" stroke="#f0b040" stroke-width="1.2"/>
<circle cx="351.6" cy="513.2" r="2.6" fill="#9a5010"/>
<line x1="354.6" y1="509.1" x2="363.9" y2="516.8" stroke="#9ab0d8" stroke-width="1.2"/>
<circle cx="354.6" cy="509.1" r="2.6" fill="#f0a020"/>
<line x1="357.9" y1="505.4" x2="366.4" y2="513.9" stroke="#f0b040" stroke-width="1.2"/>
<circle cx="357.9" cy="505.4" r="2.6" fill="#d43a5a"/>
<line x1="361.6" y1="502.1" x2="369.3" y2="511.4" stroke="#9ab0d8" stroke-width="1.2"/>
<circle cx="361.6" cy="502.1" r="2.6" fill="#f0a020"/>
<line x1="365.7" y1="499.1" x2="372.3" y2="509.1" stroke="#f0b040" stroke-width="1.2"/>
<circle cx="365.7" cy="499.1" r="2.6" fill="#9a5010"/>
<line x1="370.0" y1="496.5" x2="375.6" y2="507.1" stroke="#9ab0d8" stroke-width="1.2"/>
<circle cx="370.0" cy="496.5" r="2.6" fill="#f0a020"/>
<line x1="374.5" y1="494.4" x2="379.1" y2="505.5" stroke="#f0b040" stroke-width="1.2"/>
<circle cx="374.5" cy="494.4" r="2.6" fill="#d43a5a"/>
<line x1="379.2" y1="492.7" x2="382.7" y2="504.2" stroke="#9ab0d8" stroke-width="1.2"/>
<circle cx="379.2" cy="492.7" r="2.6" fill="#f0a020"/>
<line x1="384.1" y1="491.5" x2="386.4" y2="503.2" stroke="#f0b040" stroke-width="1.2"/>
<circle cx="384.1" cy="491.5" r="2.6" fill="#9a5010"/>
<line x1="389.0" y1="490.7" x2="390.2" y2="502.7" stroke="#9ab0d8" stroke-width="1.2"/>
<circle cx="389.0" cy="490.7" r="2.6" fill="#f0a020"/>
<line x1="394.0" y1="490.5" x2="394.0" y2="502.5" stroke="#f0b040" stroke-width="1.2"/>
<circle cx="394.0" cy="490.5" r="2.6" fill="#d43a5a"/>
<line x1="399.0" y1="490.7" x2="397.8" y2="502.7" stroke="#9ab0d8" stroke-width="1.2"/>
<circle cx="399.0" cy="490.7" r="2.6" fill="#f0a020"/>
<line x1="403.9" y1="491.5" x2="401.6" y2="503.2" stroke="#f0b040" stroke-width="1.2"/>
<circle cx="403.9" cy="491.5" r="2.6" fill="#9a5010"/>
<line x1="408.8" y1="492.7" x2="405.3" y2="504.2" stroke="#9ab0d8" stroke-width="1.2"/>
<circle cx="408.8" cy="492.7" r="2.6" fill="#f0a020"/>
<line x1="413.5" y1="494.4" x2="408.9" y2="505.5" stroke="#f0b040" stroke-width="1.2"/>
<circle cx="413.5" cy="494.4" r="2.6" fill="#d43a5a"/>
<line x1="418.0" y1="496.5" x2="412.4" y2="507.1" stroke="#9ab0d8" stroke-width="1.2"/>
<circle cx="418.0" cy="496.5" r="2.6" fill="#f0a020"/>
<line x1="422.3" y1="499.1" x2="415.7" y2="509.1" stroke="#f0b040" stroke-width="1.2"/>
<circle cx="422.3" cy="499.1" r="2.6" fill="#9a5010"/>
<line x1="426.4" y1="502.1" x2="418.7" y2="511.4" stroke="#9ab0d8" stroke-width="1.2"/>
<circle cx="426.4" cy="502.1" r="2.6" fill="#f0a020"/>
<line x1="430.1" y1="505.4" x2="421.6" y2="513.9" stroke="#f0b040" stroke-width="1.2"/>
<circle cx="430.1" cy="505.4" r="2.6" fill="#d43a5a"/>
<line x1="433.4" y1="509.1" x2="424.1" y2="516.8" stroke="#9ab0d8" stroke-width="1.2"/>
<circle cx="433.4" cy="509.1" r="2.6" fill="#f0a020"/>
<line x1="436.4" y1="513.2" x2="426.4" y2="519.8" stroke="#f0b040" stroke-width="1.2"/>
<circle cx="436.4" cy="513.2" r="2.6" fill="#9a5010"/>
<line x1="439.0" y1="517.5" x2="428.4" y2="523.1" stroke="#9ab0d8" stroke-width="1.2"/>
<circle cx="439.0" cy="517.5" r="2.6" fill="#f0a020"/>
<line x1="441.1" y1="522.0" x2="430.0" y2="526.6" stroke="#f0b040" stroke-width="1.2"/>
<circle cx="441.1" cy="522.0" r="2.6" fill="#d43a5a"/>
<line x1="442.8" y1="526.7" x2="431.3" y2="530.2" stroke="#9ab0d8" stroke-width="1.2"/>
<circle cx="442.8" cy="526.7" r="2.6" fill="#f0a020"/>
<line x1="444.0" y1="531.6" x2="432.3" y2="533.9" stroke="#f0b040" stroke-width="1.2"/>
<circle cx="444.0" cy="531.6" r="2.6" fill="#9a5010"/>
<line x1="444.8" y1="536.5" x2="432.8" y2="537.7" stroke="#9ab0d8" stroke-width="1.2"/>
<circle cx="444.8" cy="536.5" r="2.6" fill="#f0a020"/>
<line x1="432.7" y1="543.4" x2="440.7" y2="543.8" stroke="#f4c050" stroke-width="1.2"/>
<circle cx="432.7" cy="543.4" r="2.4" fill="#ec7a40"/>
<line x1="430.8" y1="548.4" x2="438.6" y2="549.9" stroke="#f4c050" stroke-width="1.2"/>
<circle cx="430.8" cy="548.4" r="2.4" fill="#f0a020"/>
<line x1="430.7" y1="553.8" x2="438.3" y2="556.3" stroke="#f4c050" stroke-width="1.2"/>
<circle cx="430.7" cy="553.8" r="2.4" fill="#f0a020"/>
<line x1="428.5" y1="558.6" x2="435.7" y2="562.1" stroke="#f4c050" stroke-width="1.2"/>
<circle cx="428.5" cy="558.6" r="2.4" fill="#ec7a40"/>
<line x1="424.0" y1="568.5" x2="430.0" y2="573.9" stroke="#f4c050" stroke-width="1.2"/>
<circle cx="424.0" cy="568.5" r="2.4" fill="#f0a020"/>
<line x1="413.2" y1="571.7" x2="417.4" y2="578.5" stroke="#f4c050" stroke-width="1.2"/>
<circle cx="413.2" cy="571.7" r="2.4" fill="#ec7a40"/>
<line x1="404.7" y1="577.1" x2="407.0" y2="584.8" stroke="#f4c050" stroke-width="1.2"/>
<circle cx="404.7" cy="577.1" r="2.4" fill="#f0a020"/>
<line x1="399.5" y1="577.0" x2="400.8" y2="584.9" stroke="#f4c050" stroke-width="1.2"/>
<circle cx="399.5" cy="577.0" r="2.4" fill="#ec7a40"/>
<line x1="394.7" y1="580.3" x2="394.9" y2="588.3" stroke="#f4c050" stroke-width="1.2"/>
<circle cx="394.7" cy="580.3" r="2.4" fill="#ec7a40"/>
<line x1="383.9" y1="580.4" x2="381.8" y2="588.2" stroke="#f4c050" stroke-width="1.2"/>
<circle cx="383.9" cy="580.4" r="2.4" fill="#ec7a40"/>
<line x1="378.6" y1="578.8" x2="375.5" y2="586.2" stroke="#f4c050" stroke-width="1.2"/>
<circle cx="378.6" cy="578.8" r="2.4" fill="#ec7a40"/>
<line x1="374.5" y1="574.8" x2="370.5" y2="581.8" stroke="#f4c050" stroke-width="1.2"/>
<circle cx="374.5" cy="574.8" r="2.4" fill="#ec7a40"/>
<line x1="369.4" y1="572.9" x2="364.4" y2="579.2" stroke="#f4c050" stroke-width="1.2"/>
<circle cx="369.4" cy="572.9" r="2.4" fill="#ec7a40"/>
<line x1="363.8" y1="563.7" x2="357.3" y2="568.4" stroke="#f4c050" stroke-width="1.2"/>
<circle cx="363.8" cy="563.7" r="2.4" fill="#f0a020"/>
<line x1="360.7" y1="559.5" x2="353.7" y2="563.3" stroke="#f4c050" stroke-width="1.2"/>
<circle cx="360.7" cy="559.5" r="2.4" fill="#ec7a40"/>
<line x1="360.6" y1="554.1" x2="353.1" y2="556.9" stroke="#f4c050" stroke-width="1.2"/>
<circle cx="360.6" cy="554.1" r="2.4" fill="#ec7a40"/>
<line x1="357.2" y1="539.7" x2="349.2" y2="539.3" stroke="#f4c050" stroke-width="1.2"/>
<circle cx="357.2" cy="539.7" r="2.4" fill="#f0a020"/>
<line x1="357.2" y1="534.6" x2="349.4" y2="533.1" stroke="#f4c050" stroke-width="1.2"/>
<circle cx="357.2" cy="534.6" r="2.4" fill="#f0a020"/>
<line x1="360.6" y1="524.9" x2="353.4" y2="521.4" stroke="#f4c050" stroke-width="1.2"/>
<circle cx="360.6" cy="524.9" r="2.4" fill="#ec7a40"/>
<line x1="361.5" y1="519.4" x2="354.8" y2="514.9" stroke="#f4c050" stroke-width="1.2"/>
<circle cx="361.5" cy="519.4" r="2.4" fill="#ec7a40"/>
<line x1="369.7" y1="512.7" x2="364.5" y2="506.6" stroke="#f4c050" stroke-width="1.2"/>
<circle cx="369.7" cy="512.7" r="2.4" fill="#ec7a40"/>
<line x1="379.2" y1="509.0" x2="375.9" y2="501.7" stroke="#f4c050" stroke-width="1.2"/>
<circle cx="379.2" cy="509.0" r="2.4" fill="#ec7a40"/>
<line x1="383.7" y1="507.0" x2="381.4" y2="499.3" stroke="#f4c050" stroke-width="1.2"/>
<circle cx="383.7" cy="507.0" r="2.4" fill="#ec7a40"/>
<line x1="388.5" y1="506.0" x2="387.2" y2="498.1" stroke="#f4c050" stroke-width="1.2"/>
<circle cx="388.5" cy="506.0" r="2.4" fill="#f0a020"/>
<line x1="398.4" y1="504.5" x2="399.3" y2="496.6" stroke="#f4c050" stroke-width="1.2"/>
<circle cx="398.4" cy="504.5" r="2.4" fill="#ec7a40"/>
<line x1="403.6" y1="504.7" x2="405.6" y2="496.9" stroke="#f4c050" stroke-width="1.2"/>
<circle cx="403.6" cy="504.7" r="2.4" fill="#f0a020"/>
<line x1="408.1" y1="507.4" x2="411.1" y2="500.0" stroke="#f4c050" stroke-width="1.2"/>
<circle cx="408.1" cy="507.4" r="2.4" fill="#f0a020"/>
<line x1="414.0" y1="507.1" x2="418.1" y2="500.2" stroke="#f4c050" stroke-width="1.2"/>
<circle cx="414.0" cy="507.1" r="2.4" fill="#ec7a40"/>
<line x1="416.4" y1="512.9" x2="421.3" y2="506.6" stroke="#f4c050" stroke-width="1.2"/>
<circle cx="416.4" cy="512.9" r="2.4" fill="#ec7a40"/>
<line x1="420.2" y1="516.1" x2="425.9" y2="510.6" stroke="#f4c050" stroke-width="1.2"/>
<circle cx="420.2" cy="516.1" r="2.4" fill="#ec7a40"/>
<line x1="425.1" y1="518.7" x2="431.5" y2="514.0" stroke="#f4c050" stroke-width="1.2"/>
<circle cx="425.1" cy="518.7" r="2.4" fill="#f0a020"/>
<line x1="428.7" y1="522.7" x2="435.8" y2="518.9" stroke="#f4c050" stroke-width="1.2"/>
<circle cx="428.7" cy="522.7" r="2.4" fill="#ec7a40"/>
<line x1="427.3" y1="529.0" x2="434.8" y2="526.2" stroke="#f4c050" stroke-width="1.2"/>
<circle cx="427.3" cy="529.0" r="2.4" fill="#ec7a40"/>
<line x1="429.2" y1="533.5" x2="437.0" y2="531.7" stroke="#f4c050" stroke-width="1.2"/>
<circle cx="429.2" cy="533.5" r="2.4" fill="#f0a020"/>
<line x1="431.9" y1="538.2" x2="439.8" y2="537.5" stroke="#f4c050" stroke-width="1.2"/>
<circle cx="431.9" cy="538.2" r="2.4" fill="#ec7a40"/>
<circle cx="421.7" cy="527.9" r="2.2" fill="#ec8a40"/>
<circle cx="381.9" cy="519.9" r="2.2" fill="#ec8a40"/>
<circle cx="416.0" cy="561.7" r="2.2" fill="#ec8a40"/>
<circle cx="367.1" cy="541.1" r="2.2" fill="#ec8a40"/>
<circle cx="376.5" cy="564.4" r="2.2" fill="#ec8a40"/>
<circle cx="366.4" cy="551.5" r="2.2" fill="#ec8a40"/>
<circle cx="367.3" cy="550.4" r="2.2" fill="#ec8a40"/>
<circle cx="418.3" cy="548.7" r="2.2" fill="#ec8a40"/>
<circle cx="412.4" cy="519.9" r="2.2" fill="#ec8a40"/>
<circle cx="365.8" cy="551.6" r="2.2" fill="#ec8a40"/>
<circle cx="391.3" cy="514.4" r="2.2" fill="#ec8a40"/>
<circle cx="415.7" cy="545.4" r="2.2" fill="#ec8a40"/>
<circle cx="421.2" cy="546.2" r="2.2" fill="#ec8a40"/>
<circle cx="391.7" cy="564.8" r="2.2" fill="#ec8a40"/>
<circle cx="402.2" cy="566.9" r="2.2" fill="#ec8a40"/>
<circle cx="419.8" cy="551.5" r="2.2" fill="#ec8a40"/>
<circle cx="387.9" cy="510.7" r="2.2" fill="#ec8a40"/>
<circle cx="392.9" cy="563.9" r="2.2" fill="#ec8a40"/>
<line x1="390.0" y1="522.5" x2="399.0" y2="522.5" stroke="#f0b040" stroke-width="1.1"/>
<line x1="389.7" y1="524.9" x2="398.4" y2="527.0" stroke="#9ab0d8" stroke-width="1.1"/>
<line x1="388.9" y1="527.1" x2="396.8" y2="531.3" stroke="#f0b040" stroke-width="1.1"/>
<line x1="387.5" y1="529.1" x2="394.2" y2="535.1" stroke="#9ab0d8" stroke-width="1.1"/>
<line x1="385.7" y1="530.7" x2="390.8" y2="538.1" stroke="#f0b040" stroke-width="1.1"/>
<line x1="383.5" y1="531.9" x2="386.7" y2="540.3" stroke="#9ab0d8" stroke-width="1.1"/>
<line x1="381.2" y1="532.4" x2="382.3" y2="541.4" stroke="#f0b040" stroke-width="1.1"/>
<line x1="378.8" y1="532.4" x2="377.7" y2="541.4" stroke="#9ab0d8" stroke-width="1.1"/>
<line x1="376.5" y1="531.9" x2="373.3" y2="540.3" stroke="#f0b040" stroke-width="1.1"/>
<line x1="374.3" y1="530.7" x2="369.2" y2="538.1" stroke="#9ab0d8" stroke-width="1.1"/>
<line x1="372.5" y1="529.1" x2="365.8" y2="535.1" stroke="#f0b040" stroke-width="1.1"/>
<line x1="371.1" y1="527.1" x2="363.2" y2="531.3" stroke="#9ab0d8" stroke-width="1.1"/>
<line x1="370.3" y1="524.9" x2="361.6" y2="527.0" stroke="#f0b040" stroke-width="1.1"/>
<line x1="370.0" y1="522.5" x2="361.0" y2="522.5" stroke="#9ab0d8" stroke-width="1.1"/>
<line x1="370.3" y1="520.1" x2="361.6" y2="518.0" stroke="#f0b040" stroke-width="1.1"/>
<line x1="371.1" y1="517.9" x2="363.2" y2="513.7" stroke="#9ab0d8" stroke-width="1.1"/>
<line x1="372.5" y1="515.9" x2="365.8" y2="509.9" stroke="#f0b040" stroke-width="1.1"/>
<line x1="374.3" y1="514.3" x2="369.2" y2="506.9" stroke="#9ab0d8" stroke-width="1.1"/>
<line x1="376.5" y1="513.1" x2="373.3" y2="504.7" stroke="#f0b040" stroke-width="1.1"/>
<line x1="378.8" y1="512.6" x2="377.7" y2="503.6" stroke="#9ab0d8" stroke-width="1.1"/>
<line x1="381.2" y1="512.6" x2="382.3" y2="503.6" stroke="#f0b040" stroke-width="1.1"/>
<line x1="383.5" y1="513.1" x2="386.7" y2="504.7" stroke="#9ab0d8" stroke-width="1.1"/>
<line x1="385.7" y1="514.3" x2="390.8" y2="506.9" stroke="#f0b040" stroke-width="1.1"/>
<line x1="387.5" y1="515.9" x2="394.2" y2="509.9" stroke="#9ab0d8" stroke-width="1.1"/>
<line x1="388.9" y1="517.9" x2="396.8" y2="513.7" stroke="#f0b040" stroke-width="1.1"/>
<line x1="389.7" y1="520.1" x2="398.4" y2="518.0" stroke="#9ab0d8" stroke-width="1.1"/>
<circle cx="380.0" cy="522.5" r="10" fill="#fefefe" stroke="#d43a5a" stroke-width="2.2" stroke-dasharray="1.8 2"/>
<path d="M378.0,517.5 C384.0,520.5 376.0,524.5 382.0,527.5" fill="none" stroke="#4a9ab8" stroke-width="1.2"/>
<path d="M382.0,517.5 C376.0,520.5 384.0,524.5 378.0,527.5" fill="none" stroke="#d05a6a" stroke-width="1.0"/>
<line x1="413.0" y1="547.5" x2="422.0" y2="547.5" stroke="#f0b040" stroke-width="1.1"/>
<line x1="412.7" y1="550.4" x2="421.4" y2="552.5" stroke="#9ab0d8" stroke-width="1.1"/>
<line x1="411.6" y1="553.1" x2="419.6" y2="557.3" stroke="#f0b040" stroke-width="1.1"/>
<line x1="410.0" y1="555.5" x2="416.7" y2="561.4" stroke="#9ab0d8" stroke-width="1.1"/>
<line x1="407.8" y1="557.4" x2="412.9" y2="564.8" stroke="#f0b040" stroke-width="1.1"/>
<line x1="405.3" y1="558.7" x2="408.4" y2="567.1" stroke="#9ab0d8" stroke-width="1.1"/>
<line x1="402.4" y1="559.4" x2="403.5" y2="568.3" stroke="#f0b040" stroke-width="1.1"/>
<line x1="399.6" y1="559.4" x2="398.5" y2="568.3" stroke="#9ab0d8" stroke-width="1.1"/>
<line x1="396.7" y1="558.7" x2="393.6" y2="567.1" stroke="#f0b040" stroke-width="1.1"/>
<line x1="394.2" y1="557.4" x2="389.1" y2="564.8" stroke="#9ab0d8" stroke-width="1.1"/>
<line x1="392.0" y1="555.5" x2="385.3" y2="561.4" stroke="#f0b040" stroke-width="1.1"/>
<line x1="390.4" y1="553.1" x2="382.4" y2="557.3" stroke="#9ab0d8" stroke-width="1.1"/>
<line x1="389.3" y1="550.4" x2="380.6" y2="552.5" stroke="#f0b040" stroke-width="1.1"/>
<line x1="389.0" y1="547.5" x2="380.0" y2="547.5" stroke="#9ab0d8" stroke-width="1.1"/>
<line x1="389.3" y1="544.6" x2="380.6" y2="542.5" stroke="#f0b040" stroke-width="1.1"/>
<line x1="390.4" y1="541.9" x2="382.4" y2="537.7" stroke="#9ab0d8" stroke-width="1.1"/>
<line x1="392.0" y1="539.5" x2="385.3" y2="533.6" stroke="#f0b040" stroke-width="1.1"/>
<line x1="394.2" y1="537.6" x2="389.1" y2="530.2" stroke="#9ab0d8" stroke-width="1.1"/>
<line x1="396.7" y1="536.3" x2="393.6" y2="527.9" stroke="#f0b040" stroke-width="1.1"/>
<line x1="399.6" y1="535.6" x2="398.5" y2="526.7" stroke="#9ab0d8" stroke-width="1.1"/>
<line x1="402.4" y1="535.6" x2="403.5" y2="526.7" stroke="#f0b040" stroke-width="1.1"/>
<line x1="405.3" y1="536.3" x2="408.4" y2="527.9" stroke="#9ab0d8" stroke-width="1.1"/>
<line x1="407.8" y1="537.6" x2="412.9" y2="530.2" stroke="#f0b040" stroke-width="1.1"/>
<line x1="410.0" y1="539.5" x2="416.7" y2="533.6" stroke="#9ab0d8" stroke-width="1.1"/>
<line x1="411.6" y1="541.9" x2="419.6" y2="537.7" stroke="#f0b040" stroke-width="1.1"/>
<line x1="412.7" y1="544.6" x2="421.4" y2="542.5" stroke="#9ab0d8" stroke-width="1.1"/>
<circle cx="401.0" cy="547.5" r="12" fill="#fefefe" stroke="#d43a5a" stroke-width="2.2" stroke-dasharray="1.8 2"/>
<path d="M399.0,542.5 C405.0,545.5 397.0,549.5 403.0,552.5" fill="none" stroke="#4a9ab8" stroke-width="1.2"/>
<path d="M403.0,542.5 C397.0,545.5 405.0,549.5 399.0,552.5" fill="none" stroke="#d05a6a" stroke-width="1.0"/>
<path d="M503.5,541.0 A42.5,42.5 0 0 1 546.0,498.5" fill="none" stroke="#d8e6f4" stroke-width="17"/>
<line x1="511.0" y1="539.9" x2="496.0" y2="539.4" stroke="#c2d6f0" stroke-width="0.8"/>
<line x1="511.2" y1="537.6" x2="496.2" y2="536.1" stroke="#c2d6f0" stroke-width="0.8"/>
<line x1="511.5" y1="535.3" x2="496.7" y2="532.9" stroke="#c2d6f0" stroke-width="0.8"/>
<line x1="511.9" y1="533.1" x2="497.3" y2="529.6" stroke="#c2d6f0" stroke-width="0.8"/>
<line x1="512.5" y1="530.8" x2="498.2" y2="526.5" stroke="#c2d6f0" stroke-width="0.8"/>
<line x1="513.2" y1="528.7" x2="499.2" y2="523.4" stroke="#c2d6f0" stroke-width="0.8"/>
<line x1="514.1" y1="526.6" x2="500.5" y2="520.4" stroke="#c2d6f0" stroke-width="0.8"/>
<line x1="515.1" y1="524.5" x2="501.9" y2="517.4" stroke="#c2d6f0" stroke-width="0.8"/>
<line x1="516.3" y1="522.5" x2="503.5" y2="514.6" stroke="#c2d6f0" stroke-width="0.8"/>
<line x1="517.6" y1="520.6" x2="505.4" y2="511.9" stroke="#c2d6f0" stroke-width="0.8"/>
<line x1="518.9" y1="518.8" x2="507.3" y2="509.3" stroke="#c2d6f0" stroke-width="0.8"/>
<line x1="520.5" y1="517.1" x2="509.5" y2="506.8" stroke="#c2d6f0" stroke-width="0.8"/>
<line x1="522.1" y1="515.5" x2="511.8" y2="504.5" stroke="#c2d6f0" stroke-width="0.8"/>
<line x1="523.8" y1="513.9" x2="514.3" y2="502.3" stroke="#c2d6f0" stroke-width="0.8"/>
<line x1="525.6" y1="512.6" x2="516.9" y2="500.4" stroke="#c2d6f0" stroke-width="0.8"/>
<line x1="527.5" y1="511.3" x2="519.6" y2="498.5" stroke="#c2d6f0" stroke-width="0.8"/>
<line x1="529.5" y1="510.1" x2="522.4" y2="496.9" stroke="#c2d6f0" stroke-width="0.8"/>
<line x1="531.6" y1="509.1" x2="525.4" y2="495.5" stroke="#c2d6f0" stroke-width="0.8"/>
<line x1="533.7" y1="508.2" x2="528.4" y2="494.2" stroke="#c2d6f0" stroke-width="0.8"/>
<line x1="535.8" y1="507.5" x2="531.5" y2="493.2" stroke="#c2d6f0" stroke-width="0.8"/>
<line x1="538.1" y1="506.9" x2="534.6" y2="492.3" stroke="#c2d6f0" stroke-width="0.8"/>
<line x1="540.3" y1="506.5" x2="537.9" y2="491.7" stroke="#c2d6f0" stroke-width="0.8"/>
<line x1="542.6" y1="506.2" x2="541.1" y2="491.2" stroke="#c2d6f0" stroke-width="0.8"/>
<line x1="544.9" y1="506.0" x2="544.4" y2="491.0" stroke="#c2d6f0" stroke-width="0.8"/>
<path d="M494.5,541.0 A51.5,51.5 0 0 1 546.0,489.5" fill="none" stroke="#d8344e" stroke-width="3.6" stroke-dasharray="2.8 0.9"/>
<path d="M512.5,541.0 A33.5,33.5 0 0 1 546.0,507.5" fill="none" stroke="#d8344e" stroke-width="3.4" stroke-dasharray="2.8 0.9"/>
<path d="M547.5,498.5 A42.5,42.5 0 0 1 590.0,541.0" fill="none" stroke="#6cba62" stroke-width="15"/>
<line x1="548.3" y1="508.0" x2="548.7" y2="489.0" stroke="#a87aa0" stroke-width="0.9"/>
<line x1="549.8" y1="508.1" x2="551.1" y2="489.1" stroke="#eaf4e6" stroke-width="0.9"/>
<line x1="551.3" y1="508.2" x2="553.5" y2="489.3" stroke="#a87aa0" stroke-width="0.9"/>
<line x1="552.8" y1="508.4" x2="555.9" y2="489.7" stroke="#eaf4e6" stroke-width="0.9"/>
<line x1="554.3" y1="508.7" x2="558.2" y2="490.1" stroke="#a87aa0" stroke-width="0.9"/>
<line x1="555.8" y1="509.1" x2="560.6" y2="490.7" stroke="#eaf4e6" stroke-width="0.9"/>
<line x1="557.3" y1="509.5" x2="562.9" y2="491.3" stroke="#a87aa0" stroke-width="0.9"/>
<line x1="558.7" y1="510.0" x2="565.2" y2="492.1" stroke="#eaf4e6" stroke-width="0.9"/>
<line x1="560.1" y1="510.5" x2="567.4" y2="493.0" stroke="#a87aa0" stroke-width="0.9"/>
<line x1="561.5" y1="511.1" x2="569.6" y2="493.9" stroke="#eaf4e6" stroke-width="0.9"/>
<line x1="562.9" y1="511.8" x2="571.7" y2="495.0" stroke="#a87aa0" stroke-width="0.9"/>
<line x1="564.2" y1="512.5" x2="573.8" y2="496.2" stroke="#eaf4e6" stroke-width="0.9"/>
<line x1="565.5" y1="513.4" x2="575.9" y2="497.4" stroke="#a87aa0" stroke-width="0.9"/>
<line x1="566.8" y1="514.2" x2="577.9" y2="498.8" stroke="#eaf4e6" stroke-width="0.9"/>
<line x1="568.0" y1="515.1" x2="579.8" y2="500.2" stroke="#a87aa0" stroke-width="0.9"/>
<line x1="569.2" y1="516.1" x2="581.6" y2="501.8" stroke="#eaf4e6" stroke-width="0.9"/>
<line x1="570.3" y1="517.1" x2="583.4" y2="503.4" stroke="#a87aa0" stroke-width="0.9"/>
<line x1="571.4" y1="518.2" x2="585.1" y2="505.1" stroke="#eaf4e6" stroke-width="0.9"/>
<line x1="572.4" y1="519.3" x2="586.7" y2="506.9" stroke="#a87aa0" stroke-width="0.9"/>
<line x1="573.4" y1="520.5" x2="588.3" y2="508.7" stroke="#eaf4e6" stroke-width="0.9"/>
<line x1="574.3" y1="521.7" x2="589.7" y2="510.6" stroke="#a87aa0" stroke-width="0.9"/>
<line x1="575.1" y1="523.0" x2="591.1" y2="512.6" stroke="#eaf4e6" stroke-width="0.9"/>
<line x1="576.0" y1="524.3" x2="592.3" y2="514.7" stroke="#a87aa0" stroke-width="0.9"/>
<line x1="576.7" y1="525.6" x2="593.5" y2="516.8" stroke="#eaf4e6" stroke-width="0.9"/>
<line x1="577.4" y1="527.0" x2="594.6" y2="518.9" stroke="#a87aa0" stroke-width="0.9"/>
<line x1="578.0" y1="528.4" x2="595.5" y2="521.1" stroke="#eaf4e6" stroke-width="0.9"/>
<line x1="578.5" y1="529.8" x2="596.4" y2="523.3" stroke="#a87aa0" stroke-width="0.9"/>
<line x1="579.0" y1="531.2" x2="597.2" y2="525.6" stroke="#eaf4e6" stroke-width="0.9"/>
<line x1="579.4" y1="532.7" x2="597.8" y2="527.9" stroke="#a87aa0" stroke-width="0.9"/>
<line x1="579.8" y1="534.2" x2="598.4" y2="530.3" stroke="#eaf4e6" stroke-width="0.9"/>
<line x1="580.1" y1="535.7" x2="598.8" y2="532.6" stroke="#a87aa0" stroke-width="0.9"/>
<line x1="580.3" y1="537.2" x2="599.2" y2="535.0" stroke="#eaf4e6" stroke-width="0.9"/>
<line x1="580.4" y1="538.7" x2="599.4" y2="537.4" stroke="#a87aa0" stroke-width="0.9"/>
<line x1="580.5" y1="540.2" x2="599.5" y2="539.8" stroke="#eaf4e6" stroke-width="0.9"/>
<path d="M591.5,543.0 A42.5,42.5 0 0 1 549.0,585.5" fill="none" stroke="#d8e6f4" stroke-width="17"/>
<line x1="584.0" y1="544.1" x2="599.0" y2="544.6" stroke="#c2d6f0" stroke-width="0.8"/>
<line x1="583.8" y1="546.4" x2="598.8" y2="547.9" stroke="#c2d6f0" stroke-width="0.8"/>
<line x1="583.5" y1="548.7" x2="598.3" y2="551.1" stroke="#c2d6f0" stroke-width="0.8"/>
<line x1="583.1" y1="550.9" x2="597.7" y2="554.4" stroke="#c2d6f0" stroke-width="0.8"/>
<line x1="582.5" y1="553.2" x2="596.8" y2="557.5" stroke="#c2d6f0" stroke-width="0.8"/>
<line x1="581.8" y1="555.3" x2="595.8" y2="560.6" stroke="#c2d6f0" stroke-width="0.8"/>
<line x1="580.9" y1="557.4" x2="594.5" y2="563.6" stroke="#c2d6f0" stroke-width="0.8"/>
<line x1="579.9" y1="559.5" x2="593.1" y2="566.6" stroke="#c2d6f0" stroke-width="0.8"/>
<line x1="578.7" y1="561.5" x2="591.5" y2="569.4" stroke="#c2d6f0" stroke-width="0.8"/>
<line x1="577.4" y1="563.4" x2="589.6" y2="572.1" stroke="#c2d6f0" stroke-width="0.8"/>
<line x1="576.1" y1="565.2" x2="587.7" y2="574.7" stroke="#c2d6f0" stroke-width="0.8"/>
<line x1="574.5" y1="566.9" x2="585.5" y2="577.2" stroke="#c2d6f0" stroke-width="0.8"/>
<line x1="572.9" y1="568.5" x2="583.2" y2="579.5" stroke="#c2d6f0" stroke-width="0.8"/>
<line x1="571.2" y1="570.1" x2="580.7" y2="581.7" stroke="#c2d6f0" stroke-width="0.8"/>
<line x1="569.4" y1="571.4" x2="578.1" y2="583.6" stroke="#c2d6f0" stroke-width="0.8"/>
<line x1="567.5" y1="572.7" x2="575.4" y2="585.5" stroke="#c2d6f0" stroke-width="0.8"/>
<line x1="565.5" y1="573.9" x2="572.6" y2="587.1" stroke="#c2d6f0" stroke-width="0.8"/>
<line x1="563.4" y1="574.9" x2="569.6" y2="588.5" stroke="#c2d6f0" stroke-width="0.8"/>
<line x1="561.3" y1="575.8" x2="566.6" y2="589.8" stroke="#c2d6f0" stroke-width="0.8"/>
<line x1="559.2" y1="576.5" x2="563.5" y2="590.8" stroke="#c2d6f0" stroke-width="0.8"/>
<line x1="556.9" y1="577.1" x2="560.4" y2="591.7" stroke="#c2d6f0" stroke-width="0.8"/>
<line x1="554.7" y1="577.5" x2="557.1" y2="592.3" stroke="#c2d6f0" stroke-width="0.8"/>
<line x1="552.4" y1="577.8" x2="553.9" y2="592.8" stroke="#c2d6f0" stroke-width="0.8"/>
<line x1="550.1" y1="578.0" x2="550.6" y2="593.0" stroke="#c2d6f0" stroke-width="0.8"/>
<path d="M600.5,543.0 A51.5,51.5 0 0 1 549.0,594.5" fill="none" stroke="#d8344e" stroke-width="3.6" stroke-dasharray="2.8 0.9"/>
<path d="M582.5,543.0 A33.5,33.5 0 0 1 549.0,576.5" fill="none" stroke="#d8344e" stroke-width="3.4" stroke-dasharray="2.8 0.9"/>
<path d="M546.5,585.0 A42.5,42.5 0 0 1 504.0,542.5" fill="none" stroke="#6cba62" stroke-width="15"/>
<line x1="545.7" y1="575.5" x2="545.3" y2="594.5" stroke="#a87aa0" stroke-width="0.9"/>
<line x1="544.2" y1="575.4" x2="542.9" y2="594.4" stroke="#eaf4e6" stroke-width="0.9"/>
<line x1="542.7" y1="575.3" x2="540.5" y2="594.2" stroke="#a87aa0" stroke-width="0.9"/>
<line x1="541.2" y1="575.1" x2="538.1" y2="593.8" stroke="#eaf4e6" stroke-width="0.9"/>
<line x1="539.7" y1="574.8" x2="535.8" y2="593.4" stroke="#a87aa0" stroke-width="0.9"/>
<line x1="538.2" y1="574.4" x2="533.4" y2="592.8" stroke="#eaf4e6" stroke-width="0.9"/>
<line x1="536.7" y1="574.0" x2="531.1" y2="592.2" stroke="#a87aa0" stroke-width="0.9"/>
<line x1="535.3" y1="573.5" x2="528.8" y2="591.4" stroke="#eaf4e6" stroke-width="0.9"/>
<line x1="533.9" y1="573.0" x2="526.6" y2="590.5" stroke="#a87aa0" stroke-width="0.9"/>
<line x1="532.5" y1="572.4" x2="524.4" y2="589.6" stroke="#eaf4e6" stroke-width="0.9"/>
<line x1="531.1" y1="571.7" x2="522.3" y2="588.5" stroke="#a87aa0" stroke-width="0.9"/>
<line x1="529.8" y1="571.0" x2="520.2" y2="587.3" stroke="#eaf4e6" stroke-width="0.9"/>
<line x1="528.5" y1="570.1" x2="518.1" y2="586.1" stroke="#a87aa0" stroke-width="0.9"/>
<line x1="527.2" y1="569.3" x2="516.1" y2="584.7" stroke="#eaf4e6" stroke-width="0.9"/>
<line x1="526.0" y1="568.4" x2="514.2" y2="583.3" stroke="#a87aa0" stroke-width="0.9"/>
<line x1="524.8" y1="567.4" x2="512.4" y2="581.7" stroke="#eaf4e6" stroke-width="0.9"/>
<line x1="523.7" y1="566.4" x2="510.6" y2="580.1" stroke="#a87aa0" stroke-width="0.9"/>
<line x1="522.6" y1="565.3" x2="508.9" y2="578.4" stroke="#eaf4e6" stroke-width="0.9"/>
<line x1="521.6" y1="564.2" x2="507.3" y2="576.6" stroke="#a87aa0" stroke-width="0.9"/>
<line x1="520.6" y1="563.0" x2="505.7" y2="574.8" stroke="#eaf4e6" stroke-width="0.9"/>
<line x1="519.7" y1="561.8" x2="504.3" y2="572.9" stroke="#a87aa0" stroke-width="0.9"/>
<line x1="518.9" y1="560.5" x2="502.9" y2="570.9" stroke="#eaf4e6" stroke-width="0.9"/>
<line x1="518.0" y1="559.2" x2="501.7" y2="568.8" stroke="#a87aa0" stroke-width="0.9"/>
<line x1="517.3" y1="557.9" x2="500.5" y2="566.7" stroke="#eaf4e6" stroke-width="0.9"/>
<line x1="516.6" y1="556.5" x2="499.4" y2="564.6" stroke="#a87aa0" stroke-width="0.9"/>
<line x1="516.0" y1="555.1" x2="498.5" y2="562.4" stroke="#eaf4e6" stroke-width="0.9"/>
<line x1="515.5" y1="553.7" x2="497.6" y2="560.2" stroke="#a87aa0" stroke-width="0.9"/>
<line x1="515.0" y1="552.3" x2="496.8" y2="557.9" stroke="#eaf4e6" stroke-width="0.9"/>
<line x1="514.6" y1="550.8" x2="496.2" y2="555.6" stroke="#a87aa0" stroke-width="0.9"/>
<line x1="514.2" y1="549.3" x2="495.6" y2="553.2" stroke="#eaf4e6" stroke-width="0.9"/>
<line x1="513.9" y1="547.8" x2="495.2" y2="550.9" stroke="#a87aa0" stroke-width="0.9"/>
<line x1="513.7" y1="546.3" x2="494.8" y2="548.5" stroke="#eaf4e6" stroke-width="0.9"/>
<line x1="513.6" y1="544.8" x2="494.6" y2="546.1" stroke="#a87aa0" stroke-width="0.9"/>
<line x1="513.5" y1="543.3" x2="494.5" y2="543.7" stroke="#eaf4e6" stroke-width="0.9"/>
<g transform="translate(577.0,497.0) rotate(28.0)"><path d="M-1.8,0 L-1.8,-8.8 L-8.5,-15.68" stroke="#b8642a" stroke-width="2.3" fill="none"/><path d="M-1.8,-8.8 L5.0,-15.68" stroke="#b8642a" stroke-width="2.3" fill="none"/><path d="M1.8,0 L1.8,-8.8 L-5.0,-15.68" stroke="#b8642a" stroke-width="2.3" fill="none"/><path d="M1.8,-8.8 L8.5,-15.68" stroke="#b8642a" stroke-width="2.3" fill="none"/><path d="M0,0 L0,-8.0" stroke="#7a3a10" stroke-width="0.6" fill="none"/></g>
<g transform="translate(603.0,514.0) rotate(55.0)"><path d="M-1.8,0 L-1.8,-8.8 L-8.5,-15.68" stroke="#b8642a" stroke-width="2.3" fill="none"/><path d="M-1.8,-8.8 L5.0,-15.68" stroke="#b8642a" stroke-width="2.3" fill="none"/><path d="M1.8,0 L1.8,-8.8 L-5.0,-15.68" stroke="#b8642a" stroke-width="2.3" fill="none"/><path d="M1.8,-8.8 L8.5,-15.68" stroke="#b8642a" stroke-width="2.3" fill="none"/><path d="M0,0 L0,-8.0" stroke="#7a3a10" stroke-width="0.6" fill="none"/></g>
<g transform="translate(507.0,581.0) rotate(240.0)"><path d="M-1.8,0 L-1.8,-8.8 L-8.5,-15.68" stroke="#b8642a" stroke-width="2.3" fill="none"/><path d="M-1.8,-8.8 L5.0,-15.68" stroke="#b8642a" stroke-width="2.3" fill="none"/><path d="M1.8,0 L1.8,-8.8 L-5.0,-15.68" stroke="#b8642a" stroke-width="2.3" fill="none"/><path d="M1.8,-8.8 L8.5,-15.68" stroke="#b8642a" stroke-width="2.3" fill="none"/><path d="M0,0 L0,-8.0" stroke="#7a3a10" stroke-width="0.6" fill="none"/></g>
<g transform="translate(523.0,599.0) rotate(215.0)"><path d="M-1.8,0 L-1.8,-8.8 L-8.5,-15.68" stroke="#b8642a" stroke-width="2.3" fill="none"/><path d="M-1.8,-8.8 L5.0,-15.68" stroke="#b8642a" stroke-width="2.3" fill="none"/><path d="M1.8,0 L1.8,-8.8 L-5.0,-15.68" stroke="#b8642a" stroke-width="2.3" fill="none"/><path d="M1.8,-8.8 L8.5,-15.68" stroke="#b8642a" stroke-width="2.3" fill="none"/><path d="M0,0 L0,-8.0" stroke="#7a3a10" stroke-width="0.6" fill="none"/></g>
<defs><radialGradient id="gspot"><stop offset="0" stop-color="#3a8a3a"/><stop offset="0.45" stop-color="#6aaa5a" stop-opacity="0.8"/><stop offset="1" stop-color="#c8e6c0" stop-opacity="0"/></radialGradient><marker id="ahead" viewBox="0 0 10 10" refX="6" refY="5" markerWidth="5" markerHeight="5" orient="auto"><path d="M0,0 L10,5 L0,10 z" fill="#2f6e25"/></marker><clipPath id="clipL"><circle cx="395" cy="921" r="37"/></clipPath><clipPath id="clipR"><circle cx="508" cy="920" r="37"/></clipPath><clipPath id="clipT"><ellipse cx="499" cy="772" rx="45" ry="43"/></clipPath></defs>
<path d="M279,756 C270,760 262,766 250,771 C240,776 236,790 233,805 C229,830 220,855 210,876 C205,884 199,890 201,897 C205,900 214,893 221,885 C230,870 240,845 248,820 C250,812 253,808 255,815 C256,840 254,870 254,900 C254,925 257,950 258,972 L286,972 C286,950 287,925 288,915 C289,925 290,950 291,972 L319,972 C320,950 322,925 322,900 C322,870 320,840 321,815 C323,808 326,812 328,820 C336,845 348,870 358,885 C364,893 372,900 374,896 C375,890 368,882 364,876 C352,855 344,830 340,805 C337,790 333,776 323,771 C312,766 304,760 295,756 Z" fill="#faefec"/>
<ellipse cx="286" cy="737" rx="18.5" ry="20" fill="#faefec"/>
<ellipse cx="286" cy="732" rx="15.5" ry="13" fill="#ebd6d6" stroke="#e0d8e0" stroke-width="1.2"/>
<path d="M274,728 q6,-4 12,0 q6,4 12,0 M276,735 q5,3 10,0 q5,-3 10,0" fill="none" stroke="#f4e4e4" stroke-width="1.5"/>
<rect x="283" y="762" width="6" height="48" fill="#c0cce8"/>
<path d="M279,766 q7,-6 14,0 l-1,10 q-6,3 -12,0 z" fill="#f0c890"/>
<path d="M283,778 C270,780 262,800 262,818 C268,822 278,820 284,815 Z" fill="#f0cccc"/>
<path d="M290,778 C303,780 311,800 312,820 C306,822 296,820 290,815 Z" fill="#f0cccc"/>
<path d="M272,800 l8,6 M270,810 l10,-4 M302,800 l-8,6 M304,810 l-10,-4" stroke="#b8c4dc" stroke-width="0.8"/>
<path d="M280,802 C280,795 290,793 294,800 C298,806 294,815 287,818 C282,812 279,808 280,802 Z" fill="#d05050"/>
<path d="M284,803 q4,-3 6,2" stroke="#f0a040" stroke-width="1.4" fill="none"/>
<path d="M264,818 C275,812 295,812 304,818 C300,830 285,838 266,840 Z" fill="#d9aea6"/>
<path d="M292,822 C300,818 308,822 306,832 C302,840 290,842 284,838 Z" fill="#f6e2e2"/>
<path d="M267,842 C280,838 296,838 308,842 C312,855 310,868 300,872 C290,875 278,875 270,870 C264,862 264,850 267,842 Z" fill="#f2cfd0"/>
<path d="M272,850 q6,-4 12,0 q6,4 12,0 q4,-3 8,0 M272,860 q6,4 12,0 q6,-4 12,0 q4,3 8,0" fill="none" stroke="#e6b4b8" stroke-width="1.1"/>
<ellipse cx="289" cy="884" rx="7" ry="5" fill="#e8b0b0"/>
<path d="M290,888 C294,905 297,930 299,972" stroke="#d07070" stroke-width="1.1" fill="none"/>
<path d="M292,888 C297,905 301,930 304,972" stroke="#8ab0d8" stroke-width="1.1" fill="none"/>
<path d="M293,890 C299,905 304,925 306,955" stroke="#e09090" stroke-width="0.8" fill="none"/>
<ellipse cx="269" cy="945" rx="6" ry="9" fill="#d8c490"/>
<ellipse cx="269" cy="944" rx="3" ry="5" fill="#7ab8a0" opacity="0.7"/>
<circle cx="293" cy="728" r="5" fill="url(#gspot)"/>
<circle cx="301" cy="737" r="5" fill="url(#gspot)"/>
<circle cx="293" cy="766" r="5" fill="url(#gspot)"/>
<circle cx="301" cy="777" r="5" fill="url(#gspot)"/>
<circle cx="293" cy="805" r="5" fill="url(#gspot)"/>
<circle cx="293" cy="822" r="5" fill="url(#gspot)"/>
<circle cx="293" cy="834" r="5" fill="url(#gspot)"/>
<circle cx="293" cy="858" r="5" fill="url(#gspot)"/>
<circle cx="262" cy="877" r="5" fill="url(#gspot)"/>
<circle cx="293" cy="886" r="5" fill="url(#gspot)"/>
<circle cx="308" cy="940" r="5" fill="url(#gspot)"/>
<path d="M345,748 C330,752 325,740 330,733 C336,727 345,730 356,732 C368,734 378,735 386,733" fill="none" stroke="#e7a8a8" stroke-width="2.2" stroke-linecap="round"/>
<path d="M378,735 C380,722 392,712 412,711 C425,710 436,716 444,722 C450,726 456,729 455,732 C452,736 442,735 432,736 C418,738 400,740 386,738 C380,738 378,737 378,735 Z" fill="#ece8e4" stroke="#d8d0cc" stroke-width="0.8"/>
<ellipse cx="428" cy="716" rx="7" ry="6" fill="#e8d0cc" stroke="#d8b8b8" stroke-width="0.8"/>
<circle cx="434" cy="723" r="1.4" fill="#d04050"/>
<circle cx="389" cy="722" r="1.1" fill="#e05060"/>
<line x1="345" y1="705" x2="390" y2="723" stroke="#a8a8a8" stroke-width="1.6"/>
<line x1="360" y1="711" x2="388" y2="722" stroke="#7ab8d8" stroke-width="1.2"/>
<line x1="308" y1="725" x2="360" y2="733" stroke="#a8a8a8" stroke-width="1.6"/>
<path d="M340,730 C350,733 365,736 378,736" stroke="#c07080" stroke-width="1.6" fill="none"/>
<ellipse cx="499" cy="772" rx="45.5" ry="43.5" fill="#cdd5ec"/>
<g clip-path="url(#clipT)">
<ellipse cx="497" cy="766" rx="38" ry="34" fill="#f4d6da"/>
<path d="M493.6,736.5 l5.1,-6.8 l9.0,8.3" stroke="#6a8ed0" stroke-width="0.9" fill="none" opacity="0.8"/>
<path d="M529.8,752.6 l9.2,-5.1 l2.1,-3.1" stroke="#6a8ed0" stroke-width="0.9" fill="none" opacity="0.8"/>
<path d="M516.0,780.0 l-7.9,5.1 l5.3,-9.9" stroke="#6a8ed0" stroke-width="0.9" fill="none" opacity="0.8"/>
<path d="M543.6,751.7 l1.2,-4.0 l1.1,11.0" stroke="#6a8ed0" stroke-width="0.9" fill="none" opacity="0.8"/>
<path d="M508.2,767.3 l8.0,7.4 l3.8,-1.6" stroke="#6a8ed0" stroke-width="0.9" fill="none" opacity="0.8"/>
<path d="M507.6,748.1 l-3.5,7.7 l6.6,-6.9" stroke="#6a8ed0" stroke-width="0.9" fill="none" opacity="0.8"/>
<path d="M503.6,729.4 l12.1,-8.8 l-2.2,-7.6" stroke="#6a8ed0" stroke-width="0.9" fill="none" opacity="0.8"/>
<path d="M499.8,778.8 l-1.8,2.7 l6.6,0.6" stroke="#6a8ed0" stroke-width="0.9" fill="none" opacity="0.8"/>
<path d="M534.1,769.4 l2.9,1.3 l7.7,4.2" stroke="#6a8ed0" stroke-width="0.9" fill="none" opacity="0.8"/>
<path d="M507.8,776.5 l9.0,9.0 l3.3,-1.3" stroke="#6a8ed0" stroke-width="0.9" fill="none" opacity="0.8"/>
<path d="M508.4,761.3 l-9.0,4.6 l4.2,9.1" stroke="#6a8ed0" stroke-width="0.9" fill="none" opacity="0.8"/>
<path d="M501.0,758.9 l1.4,2.0 l-1.8,-11.8" stroke="#6a8ed0" stroke-width="0.9" fill="none" opacity="0.8"/>
<path d="M540.0,776.7 l-9.5,8.3 l1.9,-11.8" stroke="#6a8ed0" stroke-width="0.9" fill="none" opacity="0.8"/>
<path d="M524.0,743.5 l-3.6,-7.9 l6.7,3.6" stroke="#6a8ed0" stroke-width="0.9" fill="none" opacity="0.8"/>
<circle cx="474.8" cy="742.5" r="5.2" fill="#f09aa4"/><circle cx="474.8" cy="742.5" r="1.8" fill="#d8707e"/>
<circle cx="484.4" cy="741.9" r="4.4" fill="#b8a6e0" stroke="#c8b8ea" stroke-width="1.2" stroke-dasharray="1 1"/>
<circle cx="491.9" cy="742.1" r="5.2" fill="#f09aa4"/><circle cx="491.9" cy="742.1" r="1.8" fill="#d8707e"/>
<circle cx="500.4" cy="741.4" r="4.4" fill="#b8a6e0" stroke="#c8b8ea" stroke-width="1.2" stroke-dasharray="1 1"/>
<circle cx="509.9" cy="740.0" r="5.2" fill="#f09aa4"/><circle cx="509.9" cy="740.0" r="1.8" fill="#d8707e"/>
<circle cx="518.7" cy="742.1" r="4.6" fill="#5a80c8"/>
<circle cx="471.1" cy="747.7" r="5.2" fill="#f09aa4"/><circle cx="471.1" cy="747.7" r="1.8" fill="#d8707e"/>
<circle cx="480.8" cy="747.7" r="5.2" fill="#f09aa4"/><circle cx="480.8" cy="747.7" r="1.8" fill="#d8707e"/>
<circle cx="489.6" cy="749.1" r="4.4" fill="#b8a6e0" stroke="#c8b8ea" stroke-width="1.2" stroke-dasharray="1 1"/>
<circle cx="498.0" cy="748.9" r="4.4" fill="#b8a6e0" stroke="#c8b8ea" stroke-width="1.2" stroke-dasharray="1 1"/>
<circle cx="505.1" cy="748.4" r="5.2" fill="#f09aa4"/><circle cx="505.1" cy="748.4" r="1.8" fill="#d8707e"/>
<circle cx="515.4" cy="747.8" r="5.2" fill="#f09aa4"/><circle cx="515.4" cy="747.8" r="1.8" fill="#d8707e"/>
<circle cx="524.2" cy="749.6" r="5.2" fill="#f09aa4"/><circle cx="524.2" cy="749.6" r="1.8" fill="#d8707e"/>
<circle cx="467.2" cy="757.4" r="5.2" fill="#f09aa4"/><circle cx="467.2" cy="757.4" r="1.8" fill="#d8707e"/>
<circle cx="473.8" cy="756.5" r="5.2" fill="#f09aa4"/><circle cx="473.8" cy="756.5" r="1.8" fill="#d8707e"/>
<circle cx="483.8" cy="756.3" r="5.2" fill="#f09aa4"/><circle cx="483.8" cy="756.3" r="1.8" fill="#d8707e"/>
<circle cx="492.5" cy="758.4" r="5.2" fill="#f09aa4"/><circle cx="492.5" cy="758.4" r="1.8" fill="#d8707e"/>
<circle cx="500.0" cy="755.9" r="5.2" fill="#f09aa4"/><circle cx="500.0" cy="755.9" r="1.8" fill="#d8707e"/>
<circle cx="510.8" cy="757.2" r="5.2" fill="#f09aa4"/><circle cx="510.8" cy="757.2" r="1.8" fill="#d8707e"/>
<circle cx="519.7" cy="757.6" r="5.2" fill="#f09aa4"/><circle cx="519.7" cy="757.6" r="1.8" fill="#d8707e"/>
<circle cx="526.9" cy="758.1" r="4.6" fill="#5a80c8"/>
<circle cx="462.4" cy="763.8" r="5.2" fill="#f09aa4"/><circle cx="462.4" cy="763.8" r="1.8" fill="#d8707e"/>
<circle cx="471.4" cy="766.0" r="4.6" fill="#5a80c8"/>
<circle cx="478.9" cy="766.1" r="5.2" fill="#f09aa4"/><circle cx="478.9" cy="766.1" r="1.8" fill="#d8707e"/>
<circle cx="489.7" cy="766.4" r="4.4" fill="#b8a6e0" stroke="#c8b8ea" stroke-width="1.2" stroke-dasharray="1 1"/>
<circle cx="496.1" cy="766.3" r="5.2" fill="#f09aa4"/><circle cx="496.1" cy="766.3" r="1.8" fill="#d8707e"/>
<circle cx="504.9" cy="765.1" r="4.6" fill="#5a80c8"/>
<circle cx="513.9" cy="766.4" r="5.2" fill="#f09aa4"/><circle cx="513.9" cy="766.4" r="1.8" fill="#d8707e"/>
<circle cx="524.4" cy="765.7" r="4.6" fill="#5a80c8"/>
<circle cx="532.1" cy="766.2" r="5.2" fill="#f09aa4"/><circle cx="532.1" cy="766.2" r="1.8" fill="#d8707e"/>
<circle cx="466.2" cy="774.0" r="4.4" fill="#b8a6e0" stroke="#c8b8ea" stroke-width="1.2" stroke-dasharray="1 1"/>
<circle cx="473.7" cy="773.3" r="4.4" fill="#b8a6e0" stroke="#c8b8ea" stroke-width="1.2" stroke-dasharray="1 1"/>
<circle cx="483.3" cy="771.9" r="5.2" fill="#f09aa4"/><circle cx="483.3" cy="771.9" r="1.8" fill="#d8707e"/>
<circle cx="493.6" cy="772.1" r="4.6" fill="#5a80c8"/>
<circle cx="500.4" cy="774.5" r="5.2" fill="#f09aa4"/><circle cx="500.4" cy="774.5" r="1.8" fill="#d8707e"/>
<circle cx="509.1" cy="774.0" r="5.2" fill="#f09aa4"/><circle cx="509.1" cy="774.0" r="1.8" fill="#d8707e"/>
<circle cx="517.7" cy="772.3" r="4.4" fill="#b8a6e0" stroke="#c8b8ea" stroke-width="1.2" stroke-dasharray="1 1"/>
<circle cx="528.9" cy="772.5" r="5.2" fill="#f09aa4"/><circle cx="528.9" cy="772.5" r="1.8" fill="#d8707e"/>
<circle cx="471.8" cy="779.7" r="4.4" fill="#b8a6e0" stroke="#c8b8ea" stroke-width="1.2" stroke-dasharray="1 1"/>
<circle cx="478.1" cy="781.3" r="5.2" fill="#f09aa4"/><circle cx="478.1" cy="781.3" r="1.8" fill="#d8707e"/>
<circle cx="488.4" cy="780.2" r="4.4" fill="#b8a6e0" stroke="#c8b8ea" stroke-width="1.2" stroke-dasharray="1 1"/>
<circle cx="497.1" cy="781.5" r="5.2" fill="#f09aa4"/><circle cx="497.1" cy="781.5" r="1.8" fill="#d8707e"/>
<circle cx="506.6" cy="782.1" r="5.2" fill="#f09aa4"/><circle cx="506.6" cy="782.1" r="1.8" fill="#d8707e"/>
<circle cx="516.0" cy="780.3" r="5.2" fill="#f09aa4"/><circle cx="516.0" cy="780.3" r="1.8" fill="#d8707e"/>
<circle cx="522.5" cy="780.5" r="4.4" fill="#b8a6e0" stroke="#c8b8ea" stroke-width="1.2" stroke-dasharray="1 1"/>
<circle cx="474.9" cy="788.6" r="4.6" fill="#5a80c8"/>
<circle cx="483.5" cy="787.9" r="4.6" fill="#5a80c8"/>
<circle cx="492.2" cy="789.3" r="4.6" fill="#5a80c8"/>
<circle cx="502.8" cy="787.8" r="5.2" fill="#f09aa4"/><circle cx="502.8" cy="787.8" r="1.8" fill="#d8707e"/>
<circle cx="511.4" cy="787.6" r="5.2" fill="#f09aa4"/><circle cx="511.4" cy="787.6" r="1.8" fill="#d8707e"/>
</g>
<path d="M455,765 C462,752 470,744 478,740 C488,736 498,736 505,740 M470,748 C472,738 474,732 470,726 M478,740 C480,730 484,724 482,718 M462,754 C458,748 456,742 458,736" stroke="#9a2424" stroke-width="1.6" fill="none"/>
<path d="M522,805 C530,796 536,786 538,776 C540,768 542,760 548,756 M530,795 C536,792 542,790 548,792 M536,786 C530,778 524,772 520,766" stroke="#9a2424" stroke-width="1.6" fill="none"/>
<g transform="rotate(60 370 793)">
<rect x="333" y="790" width="10" height="3" fill="#9a9a9a"/>
<rect x="343" y="787" width="5" height="9" fill="#a8a8a8"/>
<rect x="348" y="788" width="22" height="7" fill="#d8d8d8" stroke="#888" stroke-width="0.8"/>
<rect x="370" y="788" width="16" height="7" fill="#f0c030" stroke="#885" stroke-width="0.8"/>
<line x1="386" y1="791.5" x2="408" y2="791.5" stroke="#4a6a7a" stroke-width="1"/>
</g>
<path d="M358,817 L521,817 C530,817 536,826 536,836 C536,846 530,855 521,855 L358,855 C363,845 363,827 358,817 Z" fill="#c26a6c"/>
<path d="M362,823 L519,823 C525,823 528,830 528,836 C528,842 525,849 519,849 L362,849 C366,841 366,831 362,823 Z" fill="#f2b8b8"/>
<path d="M362,824 L520,824 M362,848 L520,848" stroke="#f4d89a" stroke-width="0.8"/>
<circle cx="375" cy="836" r="4.3" fill="#f6e070" stroke="#e8a050" stroke-width="1"/><circle cx="375" cy="836" r="1.8" fill="#e86060"/>
<circle cx="387" cy="838" r="5" fill="#b8c0ea" stroke="#9aa6dc" stroke-width="0.8"/>
<ellipse cx="403" cy="841" rx="5.5" ry="4.8" fill="#c8203a"/>
<circle cx="418" cy="832" r="4.3" fill="#f6e070" stroke="#e8a050" stroke-width="1"/><circle cx="418" cy="832" r="1.8" fill="#e86060"/>
<circle cx="430" cy="836" r="5" fill="#d88a90"/>
<circle cx="443" cy="841" r="4.3" fill="#f6e070" stroke="#e8a050" stroke-width="1"/><circle cx="443" cy="841" r="1.8" fill="#e86060"/>
<ellipse cx="455" cy="832" rx="5.5" ry="4.8" fill="#c8203a"/>
<circle cx="470" cy="842" r="5" fill="#b8c0ea" stroke="#9aa6dc" stroke-width="0.8"/>
<circle cx="483" cy="835" r="4.3" fill="#f6e070" stroke="#e8a050" stroke-width="1"/><circle cx="483" cy="835" r="1.8" fill="#e86060"/>
<ellipse cx="495" cy="842" rx="5.5" ry="4.8" fill="#c8203a"/>
<circle cx="510" cy="838" r="5.2" fill="#8a9ab8"/><circle cx="510" cy="838" r="2.5" fill="#5a6a88"/>
<path d="M419,887 L447,900 L442,958 L418,950 Z" fill="#eceff2" opacity="0.9"/>
<path d="M461,912 L485,895 L486,944 L461,958 Z" fill="#eceff2" opacity="0.9"/>
<path d="M444,866 C440,860 446,856 452,858 C456,860 460,862 462,858 C466,858 467,866 463,872 C458,880 455,900 452,925 C449,950 446,962 446,968 C452,970 454,976 446,980 C440,980 436,976 430,978 C424,977 426,968 432,964 C437,955 440,930 442,905 C444,885 446,872 444,866 Z" fill="#dcc08e" stroke="#c8a870" stroke-width="0.8"/>
<ellipse cx="447" cy="860" rx="6" ry="4" fill="#e8e8e8" stroke="#bbb" stroke-width="0.6"/>
<circle cx="395" cy="921" r="38" fill="#d6eaea"/>
<g clip-path="url(#clipL)">
<rect x="355" y="880" width="80" height="30" fill="#fefefe"/>
<circle cx="358.0" cy="894.0" r="4" fill="#f0a070"/>
<circle cx="362.6" cy="894.6" r="4" fill="#f0a070"/>
<circle cx="367.2" cy="895.2" r="4" fill="#f0a070"/>
<circle cx="371.8" cy="895.8" r="4" fill="#f0a070"/>
<circle cx="376.4" cy="896.4" r="4" fill="#f0a070"/>
<circle cx="381.0" cy="897.0" r="4" fill="#f0a070"/>
<circle cx="385.6" cy="897.6" r="4" fill="#f0a070"/>
<circle cx="390.2" cy="898.2" r="4" fill="#f0a070"/>
<circle cx="394.8" cy="898.8" r="4" fill="#f0a070"/>
<path d="M355,897 L397,902 L397,906 L355,904 Z" fill="#f0a070"/>
<circle cx="398.0" cy="914.0" r="4.3" fill="#b48ad0" stroke="#9a70c0" stroke-width="0.6"/>
<circle cx="403.2" cy="914.8" r="4.3" fill="#b48ad0" stroke="#9a70c0" stroke-width="0.6"/>
<circle cx="408.4" cy="915.6" r="4.3" fill="#b48ad0" stroke="#9a70c0" stroke-width="0.6"/>
<circle cx="413.6" cy="916.4" r="4.3" fill="#b48ad0" stroke="#9a70c0" stroke-width="0.6"/>
<circle cx="418.8" cy="917.2" r="4.3" fill="#b48ad0" stroke="#9a70c0" stroke-width="0.6"/>
<circle cx="424.0" cy="918.0" r="4.3" fill="#b48ad0" stroke="#9a70c0" stroke-width="0.6"/>
<circle cx="429.2" cy="918.8" r="4.3" fill="#b48ad0" stroke="#9a70c0" stroke-width="0.6"/>
<circle cx="434.4" cy="919.6" r="4.3" fill="#b48ad0" stroke="#9a70c0" stroke-width="0.6"/>
<path d="M400,920 l3,7 l3,-6 M411,922 l3,7 l3,-6 M422,924 l3,7 l3,-6" stroke="#333" stroke-width="1.1" fill="none"/>
<circle cx="410" cy="893" r="8" fill="#f4dede" stroke="#e8c8c8" stroke-width="1"/>
<path d="M404,894 q6,-4 12,0" stroke="#e09090" stroke-width="1.5" fill="none"/>
</g>
<circle cx="395" cy="921" r="38" fill="none" stroke="#111" stroke-width="3.2"/>
<circle cx="508" cy="920" r="38" fill="#ece2d8"/>
<g clip-path="url(#clipR)">
<circle cx="472.0" cy="894.0" r="4" fill="#f0a070"/>
<circle cx="476.6" cy="894.5" r="4" fill="#f0a070"/>
<circle cx="481.2" cy="895.0" r="4" fill="#f0a070"/>
<circle cx="485.8" cy="895.5" r="4" fill="#f0a070"/>
<circle cx="490.4" cy="896.0" r="4" fill="#f0a070"/>
<circle cx="495.0" cy="896.5" r="4" fill="#f0a070"/>
<circle cx="499.6" cy="897.0" r="4" fill="#f0a070"/>
<circle cx="504.2" cy="897.5" r="4" fill="#f0a070"/>
<path d="M468,896 L504,900 L504,904 L468,903 Z" fill="#f0a070"/>
<circle cx="502.0" cy="909.0" r="4.3" fill="#b48ad0" stroke="#9a70c0" stroke-width="0.6"/>
<circle cx="507.2" cy="910.2" r="4.3" fill="#b48ad0" stroke="#9a70c0" stroke-width="0.6"/>
<circle cx="512.4" cy="911.4" r="4.3" fill="#b48ad0" stroke="#9a70c0" stroke-width="0.6"/>
<circle cx="517.6" cy="912.6" r="4.3" fill="#b48ad0" stroke="#9a70c0" stroke-width="0.6"/>
<circle cx="522.8" cy="913.8" r="4.3" fill="#b48ad0" stroke="#9a70c0" stroke-width="0.6"/>
<circle cx="528.0" cy="915.0" r="4.3" fill="#b48ad0" stroke="#9a70c0" stroke-width="0.6"/>
<circle cx="533.2" cy="916.2" r="4.3" fill="#b48ad0" stroke="#9a70c0" stroke-width="0.6"/>
<circle cx="538.4" cy="917.4" r="4.3" fill="#b48ad0" stroke="#9a70c0" stroke-width="0.6"/>
<circle cx="543.6" cy="918.6" r="4.3" fill="#b48ad0" stroke="#9a70c0" stroke-width="0.6"/>
<circle cx="548.8" cy="919.8" r="4.3" fill="#b48ad0" stroke="#9a70c0" stroke-width="0.6"/>
<path d="M498,916 l4,10 l4,-10 M510,918 l4,10 l4,-10 M522,920 l4,10 l4,-10" stroke="#fff" stroke-width="1.6" fill="none"/>
<circle cx="498" cy="944" r="13" fill="#e08a90"/><circle cx="490" cy="940" r="5" fill="#d06a74"/><circle cx="503" cy="948" r="6" fill="#d06a74"/>
<path d="M490,895 C505,885 520,890 528,900" stroke="#333" stroke-width="0.8" fill="none"/>
</g>
<circle cx="508" cy="920" r="38" fill="none" stroke="#111" stroke-width="3.2"/>
<path d="M308,769 C340,748 400,735 440,757" fill="none" stroke="#2f6e25" stroke-width="1.9" stroke-dasharray="3.5 3"/>
<path d="M437,752 L451,770 L432,768 Z" fill="#2f6e25"/>
<path d="M540,793 C565,815 575,855 556,893" fill="none" stroke="#2f6e25" stroke-width="1.8" stroke-dasharray="3.5 3"/>
<path d="M556,892 L546,906 L541,890 Z" fill="#2f6e25"/>
<path d="M278,950 C300,965 360,968 412,958" fill="none" stroke="#2f6e25" stroke-width="1.8" stroke-dasharray="3.5 3"/>
<path d="M412,951 L430,960 L413,967 Z" fill="#2f6e25"/>
<defs><linearGradient id="aloeG" x1="0" y1="0" x2="0" y2="1"><stop offset="0" stop-color="#3a9a3a"/><stop offset="0.6" stop-color="#2a8a2a"/><stop offset="1" stop-color="#a8d898" stop-opacity="0.2"/></linearGradient><linearGradient id="aloeD" x1="0" y1="0" x2="0" y2="1"><stop offset="0" stop-color="#1a6a1a"/><stop offset="0.7" stop-color="#1a5a1a"/><stop offset="1" stop-color="#9ac890" stop-opacity="0.2"/></linearGradient><linearGradient id="aloeL" x1="0" y1="0" x2="0" y2="1"><stop offset="0" stop-color="#9ad090" stop-opacity="0.6"/><stop offset="0.6" stop-color="#5aaa50"/><stop offset="1" stop-color="#c8e8c0" stop-opacity="0.1"/></linearGradient><linearGradient id="fadeB" x1="0" y1="0" x2="0" y2="1"><stop offset="0" stop-color="#fefefe" stop-opacity="0"/><stop offset="1" stop-color="#fefefe" stop-opacity="1"/></linearGradient><radialGradient id="sphG" cx="0.4" cy="0.35" r="0.7"><stop offset="0" stop-color="#c8e8a0"/><stop offset="0.6" stop-color="#7ab848"/><stop offset="1" stop-color="#5a9a38"/></radialGradient><radialGradient id="sphT" cx="0.4" cy="0.35" r="0.7"><stop offset="0" stop-color="#8ac8c8"/><stop offset="1" stop-color="#2a7a80"/></radialGradient><radialGradient id="sphR" cx="0.4" cy="0.35" r="0.7"><stop offset="0" stop-color="#f07070"/><stop offset="1" stop-color="#b0101a"/></radialGradient></defs>
<path d="M910.6,423.9 Q888.4,401.1 856,378 Q876.4,412.1 897.4,436.1 Z" fill="url(#aloeL)"/>
<path d="M911.8,425.5 Q891.2,391.7 860,354 Q877.2,399.9 896.2,434.5 Z" fill="url(#aloeL)"/>
<path d="M912.0,436.0 Q937.3,400.8 962,353 Q922.9,389.9 896.0,424.0 Z" fill="url(#aloeL)"/>
<path d="M911.1,433.7 Q928.4,399.2 944,354 Q915.6,392.4 896.9,426.3 Z" fill="url(#aloeG)"/>
<path d="M912.5,427.2 Q900.4,393.3 879,354 Q885.1,398.3 895.5,432.8 Z" fill="url(#aloeG)"/>
<path d="M910.8,431.7 Q920.9,389.7 928,337 Q908.7,386.6 897.2,428.3 Z" fill="url(#aloeL)"/>
<path d="M911.9,428.5 Q903.4,387.3 887,338 Q889.3,389.9 896.1,431.5 Z" fill="url(#aloeG)"/>
<path d="M912.9,431.5 Q917.8,396.2 917,352 Q901.9,393.6 895.1,428.5 Z" fill="url(#aloeG)"/>
<path d="M913.0,430.1 Q912.5,390.9 905,343 Q896.4,390.8 895.0,429.9 Z" fill="url(#aloeD)"/>
<path d="M914.0,429.2 Q909.4,384.7 896,331 Q891.4,386.2 894.0,430.8 Z" fill="url(#aloeG)"/>
<rect x="850" y="395" width="120" height="42" fill="url(#fadeB)"/>
<path d="M1011.3,396.9 C1012.6,398.1 1015.5,402.3 1016.2,406.0 C1016.9,409.7 1015.2,414.7 1015.5,419.0 C1015.8,423.3 1017.3,427.8 1018.0,432.0 C1018.7,436.2 1020.4,441.6 1019.8,444.4 C1019.2,447.2 1015.0,447.1 1014.5,449.0 C1014.0,450.9 1015.9,453.4 1017.0,456.0 C1018.1,458.6 1021.2,461.5 1021.0,464.3 C1020.8,467.1 1016.0,467.1 1015.5,472.8 C1015.0,478.5 1018.2,494.1 1017.7,498.3 C1017.2,502.5 1014.3,499.4 1012.7,498.0 C1011.1,496.6 1010.1,492.8 1008.0,490.0 C1005.9,487.2 1000.4,483.6 999.9,481.3 C999.4,479.0 1003.8,477.9 1005.0,476.0 C1006.2,474.1 1007.7,471.7 1007.0,470.0 C1006.3,468.3 1002.4,467.2 1001.0,466.0 C999.6,464.8 998.3,465.2 998.5,462.9 C998.7,460.6 1000.8,455.1 1002.0,452.0 C1003.2,448.9 1005.9,446.4 1005.6,444.4 C1005.3,442.4 1001.2,441.4 1000.0,440.0 C998.8,438.6 998.3,438.4 998.5,435.9 C998.7,433.4 999.8,428.3 1001.0,425.0 C1002.2,421.7 1005.6,418.0 1005.6,416.0 C1005.6,414.0 1001.6,415.0 1001.3,413.2 C1001.0,411.4 1002.8,407.4 1004.0,405.0 C1005.2,402.6 1007.2,400.4 1008.4,399.0 C1009.6,397.6 1010.0,395.7 1011.3,396.9 Z" fill="#3ca83c" stroke="#1f7a1f" stroke-width="1.2"/>
<path d="M1011,400 C1008,420 1008,450 1014,497" fill="none" stroke="#258f25" stroke-width="1.8"/>
<path d="M1031.1,370.7 C1032.8,369.8 1031.9,370.2 1032.6,373.5 C1033.3,376.8 1034.7,385.5 1035.4,390.5 C1036.1,395.5 1036.4,399.4 1036.8,403.3 C1037.2,407.2 1037.4,410.4 1038.0,414.0 C1038.6,417.6 1041.3,421.7 1040.4,424.6 C1039.5,427.6 1033.2,429.1 1032.6,431.7 C1032.0,434.3 1035.7,437.4 1037.0,440.0 C1038.3,442.6 1041.1,444.7 1040.4,447.3 C1039.7,449.9 1033.2,453.2 1032.6,455.8 C1032.0,458.4 1035.6,460.6 1037.0,463.0 C1038.4,465.4 1041.7,467.7 1041.0,470.0 C1040.3,472.3 1034.3,472.0 1032.6,477.0 C1030.9,482.0 1033.0,496.0 1031.0,499.8 C1029.0,503.6 1022.2,501.4 1020.5,499.8 C1018.8,498.2 1021.5,494.0 1021.0,490.0 C1020.5,486.0 1017.4,480.1 1017.7,475.6 C1018.0,471.1 1022.6,465.8 1022.6,462.9 C1022.6,460.0 1018.9,459.6 1018.0,458.0 C1017.1,456.4 1016.0,456.4 1017.0,453.0 C1018.0,449.6 1024.0,440.5 1024.0,437.3 C1024.0,434.1 1018.3,435.3 1017.0,434.0 C1015.7,432.7 1015.4,432.9 1016.2,429.5 C1017.0,426.1 1021.2,418.3 1021.9,413.9 C1022.6,409.5 1021.0,407.2 1020.5,403.3 C1020.0,399.4 1018.6,394.5 1019.0,390.5 C1019.4,386.5 1020.6,382.5 1022.6,379.2 C1024.6,375.9 1029.4,371.6 1031.1,370.7 Z" fill="#3ca83c" stroke="#1f7a1f" stroke-width="1.2"/>
<path d="M1030,374 C1024,390 1027,410 1028,430 C1029,460 1027,480 1025,500" fill="none" stroke="#258f25" stroke-width="1.8"/>
<ellipse cx="1025" cy="509" rx="16" ry="8" fill="#c9956a" stroke="#a87450" stroke-width="1"/>
<ellipse cx="1007" cy="513" rx="10" ry="5.5" fill="#c9956a" stroke="#a87450" stroke-width="1"/>
<ellipse cx="1039" cy="518.5" rx="4" ry="2.6" fill="#c9956a" stroke="#a87450" stroke-width="0.8"/>
<path d="M1060,365 L1120,340 L1205,355 M1062,400 L1150,415 L1210,395 M1070,352 L1200,405" stroke="#f0c0c0" stroke-width="0.8" fill="none"/>
<path d="M1080,395 L1195,360" stroke="#d8e8c0" stroke-width="0.8" fill="none"/>
<line x1="1105" y1="347" x2="1098" y2="352" stroke="#888" stroke-width="1.2"/>
<line x1="1105" y1="347" x2="1111" y2="355" stroke="#888" stroke-width="1.2"/>
<line x1="1087" y1="371" x2="1082" y2="358" stroke="#888" stroke-width="1.2"/>
<line x1="1087" y1="371" x2="1099" y2="372" stroke="#888" stroke-width="1.2"/>
<line x1="1087" y1="371" x2="1083" y2="378" stroke="#888" stroke-width="1.2"/>
<line x1="1135" y1="367" x2="1140" y2="360" stroke="#888" stroke-width="1.2"/>
<line x1="1135" y1="367" x2="1140" y2="375" stroke="#888" stroke-width="1.2"/>
<line x1="1138" y1="382" x2="1130" y2="382" stroke="#888" stroke-width="1.2"/>
<line x1="1138" y1="382" x2="1142" y2="388" stroke="#888" stroke-width="1.2"/>
<line x1="1178" y1="378" x2="1170" y2="370" stroke="#888" stroke-width="1.2"/>
<line x1="1178" y1="378" x2="1182" y2="386" stroke="#888" stroke-width="1.2"/>
<line x1="1159" y1="402" x2="1152" y2="395" stroke="#888" stroke-width="1.2"/>
<line x1="1159" y1="402" x2="1166" y2="396" stroke="#888" stroke-width="1.2"/>
<circle cx="1132" cy="349" r="7.5" fill="url(#sphG)"/>
<circle cx="1157" cy="351" r="7.5" fill="url(#sphG)"/>
<circle cx="1188" cy="356" r="7.5" fill="url(#sphG)"/>
<circle cx="1076" cy="394" r="7.5" fill="url(#sphG)"/>
<circle cx="1108" cy="399" r="7.5" fill="url(#sphG)"/>
<circle cx="1131" cy="400" r="7.5" fill="url(#sphG)"/>
<circle cx="1108" cy="375" r="7.5" fill="url(#sphG)"/>
<circle cx="1115" cy="370" r="7" fill="url(#sphG)"/>
<circle cx="1150" cy="381" r="7.5" fill="url(#sphG)"/>
<circle cx="1159" cy="376" r="7" fill="url(#sphG)"/>
<circle cx="1105" cy="347" r="4.8" fill="url(#sphT)"/>
<circle cx="1087" cy="371" r="4.8" fill="url(#sphT)"/>
<circle cx="1135" cy="367" r="4.8" fill="url(#sphT)"/>
<circle cx="1138" cy="382" r="4.8" fill="url(#sphT)"/>
<circle cx="1178" cy="378" r="4.8" fill="url(#sphT)"/>
<circle cx="1159" cy="402" r="4.8" fill="url(#sphT)"/>
<circle cx="1098" cy="354" r="2.9" fill="url(#sphR)"/>
<circle cx="1111" cy="356" r="2.9" fill="url(#sphR)"/>
<circle cx="1082" cy="358" r="2.9" fill="url(#sphR)"/>
<circle cx="1083" cy="378" r="2.9" fill="url(#sphR)"/>
<circle cx="1093" cy="382" r="2.9" fill="url(#sphR)"/>
<circle cx="1122" cy="360" r="2.9" fill="url(#sphR)"/>
<circle cx="1124" cy="363" r="2.9" fill="url(#sphR)"/>
<circle cx="1140" cy="360" r="2.9" fill="url(#sphR)"/>
<circle cx="1142" cy="374" r="2.9" fill="url(#sphR)"/>
<circle cx="1120" cy="382" r="2.9" fill="url(#sphR)"/>
<circle cx="1127" cy="388" r="2.9" fill="url(#sphR)"/>
<circle cx="1142" cy="388" r="2.9" fill="url(#sphR)"/>
<circle cx="1148" cy="392" r="2.9" fill="url(#sphR)"/>
<circle cx="1173" cy="367" r="2.9" fill="url(#sphR)"/>
<circle cx="1182" cy="387" r="2.9" fill="url(#sphR)"/>
<circle cx="1152" cy="394" r="2.9" fill="url(#sphR)"/>
<circle cx="1166" cy="396" r="2.9" fill="url(#sphR)"/>
<circle cx="1177" cy="372" r="2.9" fill="url(#sphR)"/>
<circle cx="1156" cy="346" r="2.9" fill="url(#sphR)"/>
<circle cx="1109" cy="382" r="2.9" fill="url(#sphR)"/>
<circle cx="1113" cy="337" r="2.5" fill="#f6d0d4"/>
<circle cx="1133" cy="335" r="2.5" fill="#f6d0d4"/>
<circle cx="1084" cy="355" r="2.5" fill="#f6d0d4"/>
<circle cx="1133" cy="412" r="2.5" fill="#f6d0d4"/>
<circle cx="1151" cy="412" r="2.5" fill="#f6d0d4"/>
<circle cx="1207" cy="364" r="2.5" fill="#f6d0d4"/>
<circle cx="1207" cy="386" r="2.5" fill="#f6d0d4"/>
<path d="M913,493 C936,492 950,518 960,545 C968,565 972,582 950,588 C935,591 925,590 913,590 C895,590 875,590 862,584 C850,578 856,560 864,545 C876,520 892,494 913,493 Z" fill="#c2d8e4" stroke="#8aa6ba" stroke-width="1.2"/>
<path d="M872,548 C880,528 895,508 912,500" stroke="#e8f2f6" stroke-width="2.2" fill="none" opacity="0.85"/>
<path d="M935,510 C945,525 952,545 955,560" stroke="#e0eef4" stroke-width="2" fill="none" opacity="0.7"/>
<path d="M870,566 C890,560 930,560 955,566 L955,580 C930,586 890,586 868,580 Z" fill="#b4ccda" opacity="0.6"/>
<path d="M898.4,510.5 C899.9,512.3 905.9,511.0 907.0,513.5 C908.2,516.1 905.7,521.2 905.0,525.7 C904.3,530.3 902.3,537.3 903.0,541.0 C903.7,544.8 906.0,547.3 909.1,548.2 C912.1,549.0 918.6,549.4 921.3,546.1 C924.0,542.9 924.4,534.7 925.4,528.8 C926.4,522.9 928.1,515.6 927.4,510.5 C926.7,505.4 924.7,500.6 921.3,498.2 C917.9,495.9 911.0,495.5 907.0,496.2 C903.1,496.9 899.3,499.9 897.9,502.3 C896.4,504.7 896.9,508.6 898.4,510.5 Z" fill="none" stroke="#3e4c80" stroke-width="1.05"/>
<path d="M874.4,528.8 C875.0,527.8 877.8,538.3 880.6,542.0 C883.3,545.8 885.7,549.5 890.7,551.2 C895.8,552.9 905.7,550.4 911.1,552.2 C916.6,554.1 921.7,558.9 923.3,562.4 C925.0,566.0 924.0,571.3 921.3,573.6 C918.6,576.0 911.8,576.9 907.0,576.7 C902.3,576.5 896.7,575.0 892.8,572.6 C888.9,570.2 886.2,566.5 883.6,562.4 C881.1,558.3 879.0,553.8 877.5,548.2 C876.0,542.6 873.9,529.8 874.4,528.8 Z" fill="none" stroke="#3e4c80" stroke-width="1.05"/>
<path d="M915.2,530.8 C917.6,528.6 925.0,528.3 929.5,528.8 C933.9,529.3 937.1,531.0 941.7,533.9 C946.3,536.8 953.6,542.0 957.0,546.1 C960.4,550.2 963.3,556.0 962.1,558.3 C960.9,560.7 954.1,560.7 949.8,560.4 C945.6,560.0 941.0,558.0 936.6,556.3 C932.2,554.6 926.9,552.6 923.3,550.2 C919.8,547.8 916.6,545.3 915.2,542.0 C913.8,538.8 912.8,533.1 915.2,530.8 Z" fill="none" stroke="#3e4c80" stroke-width="1.05"/>
<path d="M858.1,572.6 C861.0,572.1 871.2,571.9 875.5,569.6 C879.7,567.2 882.8,561.7 883.6,558.3 C884.5,555.0 882.8,550.5 880.6,549.2 C878.4,547.8 872.1,550.0 870.4,550.2 " fill="none" stroke="#3e4c80" stroke-width="1.05"/>
<path d="M883.6,586.9 C884.8,584.5 887.0,574.6 890.7,572.6 C894.5,570.6 902.3,572.3 906.0,574.6 C909.8,577.0 912.0,584.8 913.2,586.9 " fill="none" stroke="#3e4c80" stroke-width="1.05"/>
<path d="M917.2,578.7 C919.6,578.4 926.6,576.5 931.5,576.7 C936.4,576.9 942.0,579.7 946.8,579.7 C951.5,579.7 957.8,577.2 960.0,576.7 " fill="none" stroke="#3e4c80" stroke-width="1.05"/>
<path d="M944.7,517.6 C943.4,520.7 937.4,531.2 936.6,535.9 C935.7,540.7 937.1,542.4 939.6,546.1 C942.2,549.9 949.8,556.3 951.9,558.3 " fill="none" stroke="#3e4c80" stroke-width="1.05"/>
<path d="M880.6,518.6 C882.6,517.1 889.9,510.8 892.8,509.4 C895.7,508.1 897.0,510.3 897.9,510.5 " fill="none" stroke="#3e4c80" stroke-width="1.05"/>
<g transform="translate(911,518) rotate(-55)"><path d="M-9,0 L-5,-2 L-6,-5 L-2,-3 L0,-6 L2,-3 L6,-4 L4,-1 L9,0 L4,1 L6,4 L2,3 L0,6 L-2,3 L-6,4 L-5,2 Z" fill="#c48486" opacity="0.9"/></g>
<g transform="translate(896,542) rotate(-40)"><path d="M-9,0 L-5,-2 L-6,-5 L-2,-3 L0,-6 L2,-3 L6,-4 L4,-1 L9,0 L4,1 L6,4 L2,3 L0,6 L-2,3 L-6,4 L-5,2 Z" fill="#c48486" opacity="0.9"/></g>
<g transform="translate(930,539) rotate(-60)"><path d="M-9,0 L-5,-2 L-6,-5 L-2,-3 L0,-6 L2,-3 L6,-4 L4,-1 L9,0 L4,1 L6,4 L2,3 L0,6 L-2,3 L-6,4 L-5,2 Z" fill="#c48486" opacity="0.9"/></g>
<g transform="translate(900,565) rotate(-35)"><path d="M-9,0 L-5,-2 L-6,-5 L-2,-3 L0,-6 L2,-3 L6,-4 L4,-1 L9,0 L4,1 L6,4 L2,3 L0,6 L-2,3 L-6,4 L-5,2 Z" fill="#c48486" opacity="0.9"/></g>
<g transform="translate(931,569) rotate(30)"><path d="M-9,0 L-5,-2 L-6,-5 L-2,-3 L0,-6 L2,-3 L6,-4 L4,-1 L9,0 L4,1 L6,4 L2,3 L0,6 L-2,3 L-6,4 L-5,2 Z" fill="#c48486" opacity="0.9"/></g>
<defs><clipPath id="clipSq"><rect x="1088" y="494" width="107" height="102"/></clipPath><radialGradient id="holeG" cx="0.5" cy="0.5" r="0.55"><stop offset="0" stop-color="#3a8a90"/><stop offset="0.6" stop-color="#5aa4a8"/><stop offset="0.92" stop-color="#9ccccc"/><stop offset="1" stop-color="#d0e8e8"/></radialGradient></defs>
<rect x="1088" y="494" width="107" height="102" fill="#f0f7f7"/>
<g clip-path="url(#clipSq)">
<path d="M1085.4,492.9 C1086.9,490.7 1091.2,492.9 1094.1,492.9 C1097.0,492.9 1100.8,491.6 1102.9,492.9 C1104.9,494.2 1105.2,498.1 1106.4,500.7 C1107.6,503.3 1109.6,506.5 1109.9,508.5 C1110.2,510.6 1108.7,511.7 1108.1,513.3 C1107.4,514.9 1107.2,516.9 1106.2,518.0 C1105.2,519.1 1103.5,519.2 1102.2,519.8 C1100.9,520.4 1100.0,521.5 1098.2,521.6 C1096.5,521.7 1094.0,520.9 1091.8,520.6 C1089.7,520.2 1086.5,521.9 1085.4,519.5 C1084.3,517.1 1085.4,510.6 1085.4,506.2 C1085.4,501.7 1083.9,495.1 1085.4,492.9 Z" fill="url(#holeG)" stroke="#7ab8bc" stroke-width="1" opacity="1.0"/>
<path d="M1086.8,508.1 Q1097.7,511.5 1104.4,518.1" stroke="#d8eeee" stroke-width="1.4" fill="none" opacity="1.0"/>
<path d="M1092.3,499.2 Q1100.0,507.2 1094.0,519.4" stroke="#d8eeee" stroke-width="1.4" fill="none" opacity="1.0"/>
<path d="M1108.5,504.9 Q1097.2,505.3 1088.3,503.2" stroke="#d8eeee" stroke-width="1.4" fill="none" opacity="1.0"/>
<path d="M1109.9,488.8 C1111.0,487.5 1116.7,488.8 1120.1,488.8 C1123.5,488.8 1128.8,487.9 1130.3,488.8 C1131.8,489.7 1129.6,492.3 1129.3,494.1 C1129.0,495.8 1129.4,498.0 1128.3,499.3 C1127.2,500.6 1124.5,501.0 1122.6,501.9 C1120.7,502.8 1118.4,505.4 1116.9,504.5 C1115.4,503.6 1114.6,499.3 1113.4,496.6 C1112.2,494.0 1108.8,490.1 1109.9,488.8 Z" fill="url(#holeG)" stroke="#7ab8bc" stroke-width="1" opacity="0.55"/>
<path d="M1127.2,490.5 Q1121.5,496.3 1113.9,493.8" stroke="#d8eeee" stroke-width="1.4" fill="none" opacity="0.55"/>
<path d="M1128.7,497.2 Q1118.7,496.2 1118.2,488.5" stroke="#d8eeee" stroke-width="1.4" fill="none" opacity="0.55"/>
<path d="M1123.2,488.0 Q1124.5,492.1 1114.4,498.4" stroke="#d8eeee" stroke-width="1.4" fill="none" opacity="0.55"/>
<path d="M1138.5,491.9 C1140.6,491.0 1146.5,491.9 1150.5,491.9 C1154.5,491.9 1160.9,490.1 1162.4,491.9 C1164.0,493.7 1160.5,499.1 1159.5,502.8 C1158.5,506.4 1157.4,511.4 1156.6,513.6 C1155.8,515.8 1155.4,515.2 1154.8,515.9 C1154.2,516.7 1153.9,518.0 1153.0,518.2 C1152.0,518.4 1150.2,517.4 1148.8,517.0 C1147.4,516.6 1146.1,517.2 1144.7,515.9 C1143.3,514.6 1142.0,511.4 1140.6,509.1 C1139.2,506.9 1137.0,504.4 1136.5,502.4 C1136.0,500.4 1137.1,498.9 1137.5,497.2 C1137.8,495.4 1136.3,492.8 1138.5,491.9 Z" fill="url(#holeG)" stroke="#7ab8bc" stroke-width="1" opacity="1.0"/>
<path d="M1146.8,516.6 Q1145.3,506.2 1158.3,500.3" stroke="#d8eeee" stroke-width="1.4" fill="none" opacity="1.0"/>
<path d="M1155.2,496.7 Q1148.3,507.1 1137.6,506.1" stroke="#d8eeee" stroke-width="1.4" fill="none" opacity="1.0"/>
<path d="M1145.3,516.2 Q1144.6,508.7 1158.9,501.6" stroke="#d8eeee" stroke-width="1.4" fill="none" opacity="1.0"/>
<path d="M1168.3,490.4 C1169.0,488.6 1169.1,490.4 1169.5,490.4 C1169.9,490.4 1170.4,488.8 1170.7,490.4 C1170.9,492.1 1170.9,497.0 1171.0,500.4 C1171.1,503.7 1172.0,508.4 1171.3,510.3 C1170.7,512.1 1168.4,510.9 1166.9,511.2 C1165.4,511.5 1162.7,513.8 1162.5,512.2 C1162.2,510.5 1164.4,504.9 1165.4,501.3 C1166.4,497.7 1167.6,492.3 1168.3,490.4 Z" fill="url(#holeG)" stroke="#7ab8bc" stroke-width="1" opacity="0.55"/>
<path d="M1175.9,491.7 C1177.7,490.1 1183.2,491.7 1186.9,491.7 C1190.5,491.7 1196.0,490.1 1197.8,491.7 C1199.6,493.4 1197.8,498.4 1197.8,501.7 C1197.8,505.0 1199.3,509.4 1197.8,511.6 C1196.3,513.9 1192.0,514.1 1189.0,515.3 C1186.1,516.6 1182.0,519.0 1180.3,519.0 C1178.5,519.0 1179.0,516.5 1178.4,515.3 C1177.8,514.0 1176.9,513.8 1176.6,511.5 C1176.2,509.3 1176.4,504.9 1176.2,501.6 C1176.1,498.3 1174.1,493.4 1175.9,491.7 Z" fill="url(#holeG)" stroke="#7ab8bc" stroke-width="1" opacity="1.0"/>
<path d="M1191.7,513.6 Q1182.5,506.7 1188.5,495.2" stroke="#d8eeee" stroke-width="1.4" fill="none" opacity="1.0"/>
<path d="M1181.9,514.8 Q1184.7,508.2 1195.6,502.1" stroke="#d8eeee" stroke-width="1.4" fill="none" opacity="1.0"/>
<path d="M1180.2,496.3 Q1185.3,503.1 1182.2,514.9" stroke="#d8eeee" stroke-width="1.4" fill="none" opacity="1.0"/>
<path d="M1100.7,527.2 C1100.9,526.7 1103.4,526.1 1104.7,525.5 C1106.0,524.9 1108.0,523.5 1108.7,523.7 C1109.4,523.8 1108.8,525.6 1108.8,526.5 C1108.9,527.5 1109.2,528.9 1109.0,529.4 C1108.8,530.0 1108.3,529.7 1107.9,529.9 C1107.5,530.1 1107.5,530.6 1106.8,530.4 C1106.1,530.2 1104.8,529.3 1103.8,528.8 C1102.7,528.3 1100.6,527.8 1100.7,527.2 Z" fill="url(#holeG)" stroke="#7ab8bc" stroke-width="1" opacity="1.0"/>
<path d="M1114.5,527.4 C1113.6,526.5 1114.4,525.5 1114.3,524.5 C1114.3,523.6 1113.9,522.9 1114.2,521.7 C1114.5,520.4 1115.4,518.5 1116.0,516.9 C1116.6,515.3 1116.6,513.4 1117.9,512.2 C1119.1,511.0 1121.7,510.5 1123.6,509.6 C1125.5,508.8 1127.6,506.3 1129.3,507.0 C1130.9,507.7 1132.0,511.5 1133.4,513.8 C1134.7,516.0 1137.1,518.9 1137.5,520.5 C1137.9,522.0 1136.3,522.2 1135.8,523.1 C1135.2,523.9 1135.1,524.6 1134.0,525.6 C1133.0,526.7 1130.9,528.0 1129.4,529.2 C1127.8,530.4 1126.4,532.7 1124.7,532.8 C1123.1,533.0 1121.3,531.0 1119.6,530.1 C1117.9,529.2 1115.4,528.4 1114.5,527.4 Z" fill="url(#holeG)" stroke="#7ab8bc" stroke-width="1" opacity="1.0"/>
<path d="M1120.0,530.3 Q1123.0,519.0 1134.7,518.9" stroke="#d8eeee" stroke-width="1.4" fill="none" opacity="1.0"/>
<path d="M1114.2,521.1 Q1123.9,520.8 1131.1,529.1" stroke="#d8eeee" stroke-width="1.4" fill="none" opacity="1.0"/>
<path d="M1127.7,530.9 Q1122.0,523.5 1130.4,512.4" stroke="#d8eeee" stroke-width="1.4" fill="none" opacity="1.0"/>
<path d="M1141.0,526.5 C1140.3,526.3 1142.1,524.8 1142.7,523.9 C1143.3,523.1 1143.5,521.6 1144.4,521.3 C1145.4,521.1 1147.2,522.1 1148.6,522.5 C1149.9,522.9 1152.0,523.5 1152.7,523.7 C1153.4,523.9 1152.8,523.8 1152.8,523.9 C1152.8,524.0 1153.8,523.9 1152.9,524.1 C1151.9,524.4 1148.9,524.9 1146.9,525.3 C1145.0,525.7 1141.7,526.7 1141.0,526.5 Z" fill="url(#holeG)" stroke="#7ab8bc" stroke-width="1" opacity="1.0"/>
<path d="M1158.7,524.6 C1158.1,524.0 1158.7,524.5 1158.6,524.4 C1158.6,524.3 1158.3,524.6 1158.6,524.2 C1158.8,523.7 1159.8,522.6 1160.4,521.9 C1161.0,521.1 1161.1,520.1 1162.2,519.6 C1163.2,519.0 1165.1,518.9 1166.6,518.6 C1168.1,518.3 1170.0,517.2 1171.1,517.6 C1172.1,518.1 1172.3,520.1 1172.9,521.4 C1173.5,522.6 1174.5,524.1 1174.8,525.1 C1175.1,526.2 1174.7,526.7 1174.7,527.5 C1174.7,528.3 1174.9,529.4 1174.7,529.9 C1174.5,530.4 1173.9,530.4 1173.5,530.6 C1173.1,530.8 1173.1,531.1 1172.3,531.3 C1171.6,531.4 1170.2,531.4 1169.2,531.5 C1168.1,531.5 1167.1,532.2 1166.0,531.7 C1164.8,531.1 1163.6,529.3 1162.4,528.1 C1161.1,527.0 1159.4,525.2 1158.7,524.6 Z" fill="url(#holeG)" stroke="#7ab8bc" stroke-width="1" opacity="1.0"/>
<path d="M1199.2,518.4 C1200.7,519.3 1199.2,524.4 1199.2,527.3 C1199.2,530.3 1200.7,535.2 1199.2,536.3 C1197.8,537.3 1193.4,534.4 1190.4,533.4 C1187.5,532.5 1183.1,531.5 1181.6,530.6 C1180.2,529.7 1181.7,529.0 1181.7,528.2 C1181.7,527.4 1180.2,526.8 1181.7,525.8 C1183.2,524.8 1187.6,523.4 1190.5,522.1 C1193.4,520.9 1197.8,517.6 1199.2,518.4 Z" fill="url(#holeG)" stroke="#7ab8bc" stroke-width="1" opacity="0.55"/>
<path d="M1193.2,534.7 Q1190.4,530.2 1194.2,521.3" stroke="#d8eeee" stroke-width="1.4" fill="none" opacity="0.55"/>
<path d="M1185.1,533.0 Q1187.2,531.5 1197.9,528.7" stroke="#d8eeee" stroke-width="1.4" fill="none" opacity="0.55"/>
<path d="M1197.9,528.8 Q1192.7,529.2 1186.6,521.3" stroke="#d8eeee" stroke-width="1.4" fill="none" opacity="0.55"/>
<path d="M1084.3,549.1 C1082.8,547.4 1084.3,542.1 1084.3,538.6 C1084.3,535.1 1083.2,529.7 1084.3,528.2 C1085.3,526.6 1088.5,528.9 1090.7,529.2 C1092.8,529.6 1095.5,529.9 1097.1,530.3 C1098.7,530.7 1099.1,531.3 1100.1,531.9 C1101.1,532.4 1102.7,531.9 1103.2,533.4 C1103.6,534.9 1102.9,538.3 1102.7,540.8 C1102.6,543.2 1103.8,546.9 1102.3,548.2 C1100.7,549.5 1096.3,548.5 1093.3,548.6 C1090.3,548.8 1085.8,550.7 1084.3,549.1 Z" fill="url(#holeG)" stroke="#7ab8bc" stroke-width="1" opacity="0.55"/>
<path d="M1086.0,539.8 Q1096.3,535.8 1100.8,543.0" stroke="#d8eeee" stroke-width="1.4" fill="none" opacity="0.55"/>
<path d="M1089.1,531.2 Q1093.4,535.9 1092.2,546.0" stroke="#d8eeee" stroke-width="1.4" fill="none" opacity="0.55"/>
<path d="M1093.1,529.5 Q1094.6,537.8 1088.4,543.9" stroke="#d8eeee" stroke-width="1.4" fill="none" opacity="0.55"/>
<path d="M1108.3,550.0 C1108.0,548.5 1108.5,545.1 1108.7,542.6 C1108.8,540.2 1108.9,536.6 1109.1,535.3 C1109.4,534.0 1109.9,534.9 1110.2,534.8 C1110.6,534.6 1110.3,533.9 1111.4,534.3 C1112.4,534.7 1114.8,536.1 1116.5,537.0 C1118.2,537.9 1120.7,538.3 1121.6,539.7 C1122.5,541.1 1121.7,543.6 1121.7,545.5 C1121.7,547.4 1122.5,550.2 1121.8,551.3 C1121.0,552.4 1118.7,551.9 1117.2,552.2 C1115.7,552.5 1113.8,553.2 1112.7,553.1 C1111.6,553.0 1111.2,552.1 1110.5,551.5 C1109.7,551.0 1108.5,551.5 1108.3,550.0 Z" fill="url(#holeG)" stroke="#7ab8bc" stroke-width="1" opacity="1.0"/>
<path d="M1130.4,551.4 C1130.0,550.1 1130.3,547.5 1130.3,545.6 C1130.3,543.6 1129.4,541.4 1130.2,539.8 C1131.0,538.2 1133.3,537.4 1134.9,536.2 C1136.4,535.0 1137.7,533.4 1139.5,532.6 C1141.3,531.8 1143.5,531.8 1145.5,531.4 C1147.4,531.0 1149.8,529.8 1151.4,530.2 C1153.0,530.6 1153.8,532.6 1155.0,533.7 C1156.2,534.9 1158.7,535.4 1158.6,537.3 C1158.6,539.1 1156.1,542.4 1154.8,545.0 C1153.5,547.5 1151.9,551.2 1150.9,552.7 C1149.9,554.1 1149.5,553.4 1148.8,553.8 C1148.1,554.1 1148.0,554.7 1146.7,554.9 C1145.3,555.1 1142.7,554.9 1140.7,554.9 C1138.7,554.9 1136.1,555.2 1134.7,554.9 C1133.4,554.6 1133.3,553.7 1132.6,553.1 C1131.8,552.5 1130.8,552.6 1130.4,551.4 Z" fill="url(#holeG)" stroke="#7ab8bc" stroke-width="1" opacity="1.0"/>
<path d="M1151.8,537.5 Q1144.9,541.4 1132.0,541.4" stroke="#d8eeee" stroke-width="1.4" fill="none" opacity="1.0"/>
<path d="M1153.2,540.1 Q1142.3,545.1 1133.1,538.5" stroke="#d8eeee" stroke-width="1.4" fill="none" opacity="1.0"/>
<path d="M1135.3,552.5 Q1143.5,540.2 1154.0,545.0" stroke="#d8eeee" stroke-width="1.4" fill="none" opacity="1.0"/>
<path d="M1158.9,554.4 C1158.6,552.4 1161.5,549.3 1162.7,546.7 C1164.0,544.1 1165.4,540.3 1166.6,539.0 C1167.8,537.7 1168.7,538.9 1169.8,538.8 C1170.8,538.7 1172.0,537.3 1172.9,538.6 C1173.9,539.9 1174.8,544.0 1175.7,546.7 C1176.6,549.4 1178.7,552.7 1178.5,554.8 C1178.2,556.8 1175.6,557.6 1174.1,558.9 C1172.7,560.3 1171.4,563.1 1169.8,563.1 C1168.1,563.1 1166.1,560.2 1164.3,558.7 C1162.5,557.3 1159.2,556.4 1158.9,554.4 Z" fill="url(#holeG)" stroke="#7ab8bc" stroke-width="1" opacity="1.0"/>
<path d="M1177.0,555.2 Q1168.2,549.3 1168.6,540.7" stroke="#d8eeee" stroke-width="1.4" fill="none" opacity="1.0"/>
<path d="M1177.7,554.0 Q1167.1,552.3 1167.3,540.9" stroke="#d8eeee" stroke-width="1.4" fill="none" opacity="1.0"/>
<path d="M1175.7,543.2 Q1168.3,550.3 1160.1,549.2" stroke="#d8eeee" stroke-width="1.4" fill="none" opacity="1.0"/>
<path d="M1198.5,541.0 C1200.0,542.3 1198.5,544.6 1198.5,546.4 C1198.5,548.2 1199.7,550.8 1198.5,551.7 C1197.3,552.7 1193.7,552.1 1191.3,552.3 C1188.9,552.5 1185.8,554.1 1184.1,552.8 C1182.4,551.6 1182.3,547.5 1181.4,544.8 C1180.4,542.1 1178.9,538.1 1178.6,536.7 C1178.3,535.2 1179.4,536.2 1179.8,536.0 C1180.2,535.8 1179.3,535.0 1181.0,535.3 C1182.6,535.7 1186.8,537.2 1189.7,538.1 C1192.7,539.1 1197.1,539.6 1198.5,541.0 Z" fill="url(#holeG)" stroke="#7ab8bc" stroke-width="1" opacity="0.55"/>
<path d="M1180.6,541.0 Q1186.7,547.4 1190.8,550.9" stroke="#d8eeee" stroke-width="1.4" fill="none" opacity="0.55"/>
<path d="M1182.4,538.1 Q1187.3,545.7 1187.5,551.4" stroke="#d8eeee" stroke-width="1.4" fill="none" opacity="0.55"/>
<path d="M1196.0,542.2 Q1189.1,546.3 1182.3,538.2" stroke="#d8eeee" stroke-width="1.4" fill="none" opacity="0.55"/>
<path d="M1085.3,582.8 C1083.5,581.4 1085.3,574.4 1085.3,570.2 C1085.3,566.0 1083.8,559.8 1085.3,557.6 C1086.8,555.4 1091.3,557.3 1094.3,557.1 C1097.3,557.0 1101.4,556.5 1103.3,556.7 C1105.2,556.9 1104.8,557.7 1105.5,558.2 C1106.3,558.8 1107.5,558.3 1107.7,559.8 C1108.0,561.3 1107.3,564.7 1107.1,567.1 C1106.8,569.6 1108.3,572.5 1106.4,574.5 C1104.5,576.4 1099.4,577.3 1095.8,578.7 C1092.3,580.0 1087.0,584.2 1085.3,582.8 Z" fill="url(#holeG)" stroke="#7ab8bc" stroke-width="1" opacity="1.0"/>
<path d="M1092.0,574.9 Q1097.0,565.1 1107.8,565.3" stroke="#d8eeee" stroke-width="1.4" fill="none" opacity="1.0"/>
<path d="M1087.4,565.5 Q1099.5,563.4 1103.4,574.7" stroke="#d8eeee" stroke-width="1.4" fill="none" opacity="1.0"/>
<path d="M1107.6,564.1 Q1094.6,568.3 1089.6,559.8" stroke="#d8eeee" stroke-width="1.4" fill="none" opacity="1.0"/>
<path d="M1114.0,575.6 C1113.8,574.1 1114.5,570.7 1114.7,568.2 C1114.9,565.8 1114.5,562.3 1115.4,560.9 C1116.2,559.5 1118.4,560.3 1119.9,560.0 C1121.4,559.7 1123.3,558.9 1124.5,559.1 C1125.6,559.2 1125.9,560.2 1126.6,560.8 C1127.4,561.4 1128.3,561.2 1128.8,562.6 C1129.3,564.0 1129.4,567.0 1129.6,569.2 C1129.9,571.5 1130.3,574.7 1130.5,575.9 C1130.6,577.1 1130.3,576.2 1130.3,576.3 C1130.2,576.4 1131.1,576.4 1130.1,576.7 C1129.1,576.9 1126.2,577.4 1124.2,577.7 C1122.2,578.1 1119.6,578.9 1118.3,578.8 C1116.9,578.7 1116.9,577.7 1116.2,577.2 C1115.5,576.6 1114.3,577.1 1114.0,575.6 Z" fill="url(#holeG)" stroke="#7ab8bc" stroke-width="1" opacity="1.0"/>
<path d="M1130.4,568.0 Q1120.0,570.6 1117.0,565.4" stroke="#d8eeee" stroke-width="1.4" fill="none" opacity="1.0"/>
<path d="M1116.6,565.9 Q1121.9,568.2 1123.9,577.5" stroke="#d8eeee" stroke-width="1.4" fill="none" opacity="1.0"/>
<path d="M1122.6,577.5 Q1123.9,567.6 1129.3,565.6" stroke="#d8eeee" stroke-width="1.4" fill="none" opacity="1.0"/>
<path d="M1135.8,575.3 C1134.7,574.4 1135.3,570.8 1135.0,568.6 C1134.7,566.4 1133.3,563.0 1134.2,561.9 C1135.0,560.8 1138.2,561.9 1140.1,562.0 C1142.1,562.0 1145.0,561.1 1146.1,562.0 C1147.2,562.8 1146.6,565.3 1146.9,567.0 C1147.1,568.6 1148.5,570.9 1147.6,572.0 C1146.8,573.1 1143.7,573.1 1141.7,573.6 C1139.8,574.2 1136.9,576.1 1135.8,575.3 Z" fill="url(#holeG)" stroke="#7ab8bc" stroke-width="1" opacity="1.0"/>
<path d="M1152.9,572.0 C1152.3,570.9 1152.4,568.6 1152.2,567.0 C1151.9,565.3 1151.2,563.0 1151.4,562.0 C1151.6,560.9 1152.8,561.2 1153.5,560.8 C1154.2,560.5 1154.4,559.2 1155.7,559.7 C1156.9,560.3 1159.3,562.6 1161.1,564.1 C1162.9,565.5 1165.6,567.6 1166.5,568.5 C1167.4,569.3 1166.5,568.8 1166.4,569.0 C1166.4,569.2 1167.0,569.1 1166.4,569.6 C1165.7,570.2 1163.7,571.4 1162.4,572.3 C1161.1,573.2 1159.6,574.9 1158.5,575.0 C1157.4,575.2 1156.6,574.0 1155.7,573.5 C1154.8,573.0 1153.5,573.1 1152.9,572.0 Z" fill="url(#holeG)" stroke="#7ab8bc" stroke-width="1" opacity="1.0"/>
<path d="M1197.3,558.7 C1198.5,559.5 1197.3,562.4 1197.3,564.3 C1197.3,566.2 1198.9,568.8 1197.3,570.0 C1195.7,571.3 1191.0,571.3 1187.8,571.9 C1184.7,572.5 1180.3,573.8 1178.3,573.7 C1176.4,573.7 1176.9,572.3 1176.2,571.5 C1175.4,570.8 1174.3,569.7 1174.0,569.3 C1173.6,568.8 1174.0,568.9 1174.1,568.7 C1174.1,568.5 1173.4,568.9 1174.2,568.1 C1174.9,567.3 1177.1,565.3 1178.5,563.9 C1180.0,562.5 1180.9,560.6 1182.9,559.8 C1184.8,559.0 1187.7,559.4 1190.1,559.2 C1192.5,559.0 1196.1,557.8 1197.3,558.7 Z" fill="url(#holeG)" stroke="#7ab8bc" stroke-width="1" opacity="1.0"/>
<path d="M1188.0,559.8 Q1183.6,569.2 1176.1,567.7" stroke="#d8eeee" stroke-width="1.4" fill="none" opacity="1.0"/>
<path d="M1188.6,560.1 Q1186.0,563.2 1176.1,567.0" stroke="#d8eeee" stroke-width="1.4" fill="none" opacity="1.0"/>
<path d="M1178.2,561.2 Q1186.2,565.5 1183.4,574.5" stroke="#d8eeee" stroke-width="1.4" fill="none" opacity="1.0"/>
<path d="M1110.5,600.3 C1108.4,601.6 1102.3,600.3 1098.3,600.3 C1094.2,600.3 1088.1,601.1 1086.1,600.3 C1084.0,599.5 1086.1,597.0 1086.1,595.4 C1086.1,593.7 1084.3,592.0 1086.1,590.5 C1087.8,588.9 1093.1,587.7 1096.6,586.3 C1100.2,584.9 1105.1,582.5 1107.2,582.1 C1109.3,581.7 1108.6,583.2 1109.3,583.7 C1110.0,584.3 1111.2,583.8 1111.4,585.4 C1111.7,586.9 1111.1,590.3 1110.9,592.8 C1110.8,595.3 1112.6,599.1 1110.5,600.3 Z" fill="url(#holeG)" stroke="#7ab8bc" stroke-width="1" opacity="0.55"/>
<path d="M1091.5,589.2 Q1097.9,591.1 1103.7,600.1" stroke="#d8eeee" stroke-width="1.4" fill="none" opacity="0.55"/>
<path d="M1092.5,586.9 Q1099.2,595.7 1101.3,600.7" stroke="#d8eeee" stroke-width="1.4" fill="none" opacity="0.55"/>
<path d="M1092.1,587.6 Q1099.1,590.3 1102.1,600.6" stroke="#d8eeee" stroke-width="1.4" fill="none" opacity="0.55"/>
<path d="M1138.7,600.6 C1137.6,602.0 1131.9,600.6 1128.6,600.6 C1125.2,600.6 1120.1,601.8 1118.5,600.6 C1116.9,599.3 1118.8,595.6 1119.0,593.1 C1119.1,590.6 1118.4,587.0 1119.4,585.6 C1120.5,584.2 1123.4,584.9 1125.4,584.5 C1127.4,584.2 1129.7,582.2 1131.3,583.5 C1132.9,584.7 1133.8,589.2 1135.0,592.0 C1136.2,594.9 1139.7,599.1 1138.7,600.6 Z" fill="url(#holeG)" stroke="#7ab8bc" stroke-width="1" opacity="0.55"/>
<path d="M1122.4,586.1 Q1130.5,590.8 1124.8,600.1" stroke="#d8eeee" stroke-width="1.4" fill="none" opacity="0.55"/>
<path d="M1124.3,585.2 Q1126.5,589.1 1122.8,599.2" stroke="#d8eeee" stroke-width="1.4" fill="none" opacity="0.55"/>
<path d="M1134.7,591.2 Q1124.4,592.5 1121.1,587.3" stroke="#d8eeee" stroke-width="1.4" fill="none" opacity="0.55"/>
<path d="M1153.6,598.7 C1152.7,600.2 1150.5,598.7 1149.0,598.7 C1147.4,598.7 1145.8,600.1 1144.4,598.7 C1143.0,597.3 1141.9,593.0 1140.7,590.1 C1139.5,587.3 1137.6,583.1 1137.0,581.6 C1136.4,580.1 1137.1,581.3 1137.2,581.2 C1137.2,581.1 1136.3,581.2 1137.3,580.8 C1138.4,580.5 1141.3,579.7 1143.3,579.2 C1145.2,578.6 1147.7,577.5 1149.2,577.5 C1150.6,577.5 1151.0,578.5 1151.9,579.1 C1152.9,579.6 1154.4,578.8 1154.7,580.6 C1155.1,582.4 1154.4,586.6 1154.2,589.7 C1154.0,592.7 1154.5,597.2 1153.6,598.7 Z" fill="url(#holeG)" stroke="#7ab8bc" stroke-width="1" opacity="1.0"/>
<path d="M1141.0,579.9 Q1149.0,586.4 1144.1,594.3" stroke="#d8eeee" stroke-width="1.4" fill="none" opacity="1.0"/>
<path d="M1151.0,592.8 Q1143.8,582.7 1148.0,578.4" stroke="#d8eeee" stroke-width="1.4" fill="none" opacity="1.0"/>
<path d="M1145.6,578.1 Q1146.1,582.3 1139.9,591.7" stroke="#d8eeee" stroke-width="1.4" fill="none" opacity="1.0"/>
<path d="M1168.4,598.8 C1167.3,600.4 1165.4,598.8 1164.0,598.8 C1162.5,598.8 1160.2,600.3 1159.6,598.8 C1159.0,597.3 1160.0,592.8 1160.2,589.8 C1160.4,586.7 1160.0,582.7 1160.7,580.7 C1161.5,578.8 1163.4,578.9 1164.7,578.0 C1166.0,577.1 1167.6,575.4 1168.6,575.3 C1169.6,575.2 1170.1,576.8 1170.8,577.5 C1171.5,578.3 1173.0,577.8 1173.0,579.8 C1172.9,581.7 1171.4,586.1 1170.7,589.3 C1169.9,592.5 1169.5,597.2 1168.4,598.8 Z" fill="url(#holeG)" stroke="#7ab8bc" stroke-width="1" opacity="1.0"/>
<path d="M1163.1,579.8 Q1169.5,585.0 1162.5,593.3" stroke="#d8eeee" stroke-width="1.4" fill="none" opacity="1.0"/>
<path d="M1163.1,579.8 Q1168.5,585.0 1162.5,593.3" stroke="#d8eeee" stroke-width="1.4" fill="none" opacity="1.0"/>
<path d="M1173.1,589.2 Q1166.2,586.6 1163.6,579.6" stroke="#d8eeee" stroke-width="1.4" fill="none" opacity="1.0"/>
<path d="M1198.4,576.8 C1200.0,578.3 1198.4,584.3 1198.4,588.1 C1198.4,591.9 1200.4,597.6 1198.4,599.5 C1196.5,601.4 1190.6,599.5 1186.7,599.5 C1182.7,599.5 1176.5,601.1 1174.9,599.5 C1173.3,597.9 1176.4,593.2 1177.2,590.0 C1178.0,586.8 1177.5,582.4 1179.5,580.5 C1181.4,578.6 1185.8,579.2 1189.0,578.6 C1192.1,578.0 1196.9,575.2 1198.4,576.8 Z" fill="url(#holeG)" stroke="#7ab8bc" stroke-width="1" opacity="0.55"/>
<path d="M1178.4,586.3 Q1189.3,587.7 1191.5,598.2" stroke="#d8eeee" stroke-width="1.4" fill="none" opacity="0.55"/>
<path d="M1181.7,596.7 Q1191.6,588.0 1197.6,589.2" stroke="#d8eeee" stroke-width="1.4" fill="none" opacity="0.55"/>
<path d="M1181.7,596.7 Q1191.4,586.5 1197.6,589.2" stroke="#d8eeee" stroke-width="1.4" fill="none" opacity="0.55"/>
</g>
<rect x="1088" y="494" width="107" height="102" fill="none" stroke="#e0eaea" stroke-width="1"/>
<defs><linearGradient id="tubeG" x1="0" y1="0" x2="0" y2="1"><stop offset="0" stop-color="#fefefe"/><stop offset="0.5" stop-color="#e2e4e6"/></linearGradient><radialGradient id="honeyBg" cx="0.5" cy="0.5" r="0.5"><stop offset="0" stop-color="#e8a040"/><stop offset="0.55" stop-color="#d89040"/><stop offset="0.8" stop-color="#c8a078" stop-opacity="0.6"/><stop offset="1" stop-color="#fefefe" stop-opacity="0"/></radialGradient><radialGradient id="honeyFade" cx="0.5" cy="0.5" r="0.5"><stop offset="0.4" stop-color="#fefefe" stop-opacity="0"/><stop offset="0.75" stop-color="#fefefe" stop-opacity="0.6"/><stop offset="0.92" stop-color="#fefefe" stop-opacity="1"/></radialGradient><radialGradient id="tealBg" cx="0.5" cy="0.5" r="0.5"><stop offset="0" stop-color="#1e6a6a"/><stop offset="0.45" stop-color="#2f7f80"/><stop offset="0.75" stop-color="#9cc6c8" stop-opacity="0.6"/><stop offset="1" stop-color="#fefefe" stop-opacity="0"/></radialGradient><clipPath id="clipHoney"><circle cx="940" cy="924" r="56"/></clipPath><clipPath id="clipGreen"><ellipse cx="1096" cy="915" rx="34" ry="48"/></clipPath></defs>
<path d="M895.5,838.6 L984,838.6 L997.4,855 L880,855 Z" fill="#d6d8da" stroke="#a8aaac" stroke-width="0.8"/>
<rect x="880" y="855" width="117.4" height="2.6" fill="#b8babc"/>
<rect x="904.3" y="763" width="23.3" height="20" fill="url(#tubeG)"/>
<path d="M904.3,780 L927.6,780 L927.6,797 L919,806 L914,806 L904.3,797 Z" fill="#36a85a" stroke="#c8caca" stroke-width="1.2"/>
<rect x="904.3" y="763" width="23.3" height="17" fill="none" stroke="#d0d2d2" stroke-width="1.2"/>
<rect x="914.8" y="805" width="3.6" height="48" fill="#36a85a" stroke="#9ab8a0" stroke-width="0.6"/>
<path d="M918,852 L965,852 L966,856 L958,856 L956,853 L942,853 L940,856 L930,856 L928,853 L916,856 Z" fill="#36a85a"/>
<path d="M925,841 L958,841 L966,852 L916,852 Z" fill="#36a85a"/>
<path d="M927,845 L960,845 M922,849 L963,849" stroke="#2a8a48" stroke-width="0.6"/>
<defs><radialGradient id="holeBr" cx="0.5" cy="0.4" r="0.6"><stop offset="0" stop-color="#2a1608"/><stop offset="0.7" stop-color="#5a3414"/><stop offset="1" stop-color="#9a6a30"/></radialGradient><radialGradient id="honeyBg2" cx="0.5" cy="0.5" r="0.5"><stop offset="0" stop-color="#f0a838"/><stop offset="0.6" stop-color="#c89050"/><stop offset="0.85" stop-color="#d8c0a0" stop-opacity="0.7"/><stop offset="1" stop-color="#fefefe" stop-opacity="0"/></radialGradient></defs>
<circle cx="940" cy="924" r="58" fill="url(#honeyBg2)"/>
<g clip-path="url(#clipHoney)">
<polygon points="945.0,872.3 942.0,874.0 939.0,872.3 939.0,868.8 942.0,867.0 945.0,868.8" fill="url(#holeBr)" stroke="#f4b84a" stroke-width="1.1"/>
<polygon points="920.3,880.0 917.1,881.8 913.9,880.0 913.9,876.3 917.1,874.4 920.3,876.3" fill="url(#holeBr)" stroke="#f4b84a" stroke-width="1.1"/>
<polygon points="929.9,878.4 926.4,880.4 923.0,878.4 923.0,874.4 926.4,872.4 929.9,874.4" fill="url(#holeBr)" stroke="#f4b84a" stroke-width="1.1"/>
<polygon points="940.3,877.6 936.7,879.7 933.1,877.6 933.1,873.4 936.7,871.3 940.3,873.4" fill="url(#holeBr)" stroke="#f4b84a" stroke-width="1.1"/>
<polygon points="950.9,877.6 947.3,879.7 943.7,877.6 943.7,873.4 947.3,871.3 950.9,873.4" fill="url(#holeBr)" stroke="#f4b84a" stroke-width="1.1"/>
<polygon points="961.0,878.4 957.6,880.4 954.1,878.4 954.1,874.4 957.6,872.4 961.0,874.4" fill="url(#holeBr)" stroke="#f4b84a" stroke-width="1.1"/>
<polygon points="970.1,880.0 966.9,881.8 963.7,880.0 963.7,876.3 966.9,874.4 970.1,876.3" fill="url(#holeBr)" stroke="#f4b84a" stroke-width="1.1"/>
<polygon points="914.3,887.4 910.8,889.5 907.3,887.4 907.3,883.4 910.8,881.4 914.3,883.4" fill="url(#holeBr)" stroke="#f4b84a" stroke-width="1.1"/>
<polygon points="924.1,885.9 920.2,888.1 916.4,885.9 916.4,881.5 920.2,879.2 924.1,881.5" fill="url(#holeBr)" stroke="#f4b84a" stroke-width="1.1"/>
<polygon points="934.9,885.0 930.8,887.4 926.7,885.0 926.7,880.3 930.8,877.9 934.9,880.3" fill="url(#holeBr)" stroke="#f4b84a" stroke-width="1.1"/>
<polygon points="946.2,884.7 942.0,887.1 937.8,884.7 937.8,879.9 942.0,877.5 946.2,879.9" fill="url(#holeBr)" stroke="#f4b84a" stroke-width="1.1"/>
<polygon points="957.3,885.0 953.2,887.4 949.1,885.0 949.1,880.3 953.2,877.9 957.3,880.3" fill="url(#holeBr)" stroke="#f4b84a" stroke-width="1.1"/>
<polygon points="967.6,885.9 963.8,888.1 959.9,885.9 959.9,881.5 963.8,879.2 967.6,881.5" fill="url(#holeBr)" stroke="#f4b84a" stroke-width="1.1"/>
<polygon points="976.7,887.4 973.2,889.5 969.7,887.4 969.7,883.4 973.2,881.4 976.7,883.4" fill="url(#holeBr)" stroke="#f4b84a" stroke-width="1.1"/>
<polygon points="900.9,897.9 897.8,899.6 894.7,897.9 894.7,894.3 897.8,892.5 900.9,894.3" fill="url(#holeBr)" stroke="#f4b84a" stroke-width="1.1"/>
<polygon points="908.5,896.1 904.9,898.2 901.2,896.1 901.2,891.9 904.9,889.8 908.5,891.9" fill="url(#holeBr)" stroke="#f4b84a" stroke-width="1.1"/>
<polygon points="918.1,894.8 914.0,897.2 909.9,894.8 909.9,890.1 914.0,887.7 918.1,890.1" fill="url(#holeBr)" stroke="#f4b84a" stroke-width="1.1"/>
<polygon points="929.0,894.0 924.6,896.5 920.2,894.0 920.2,888.8 924.6,886.3 929.0,888.8" fill="url(#holeBr)" stroke="#f4b84a" stroke-width="1.1"/>
<polygon points="940.7,893.5 936.1,896.2 931.5,893.5 931.5,888.2 936.1,885.6 940.7,888.2" fill="url(#holeBr)" stroke="#f4b84a" stroke-width="1.1"/>
<polygon points="952.5,893.5 947.9,896.2 943.3,893.5 943.3,888.2 947.9,885.6 952.5,888.2" fill="url(#holeBr)" stroke="#f4b84a" stroke-width="1.1"/>
<polygon points="963.8,894.0 959.4,896.5 955.0,894.0 955.0,888.8 959.4,886.3 963.8,888.8" fill="url(#holeBr)" stroke="#f4b84a" stroke-width="1.1"/>
<polygon points="974.1,894.8 970.0,897.2 965.9,894.8 965.9,890.1 970.0,887.7 974.1,890.1" fill="url(#holeBr)" stroke="#f4b84a" stroke-width="1.1"/>
<polygon points="982.8,896.1 979.1,898.2 975.5,896.1 975.5,891.9 979.1,889.8 982.8,891.9" fill="url(#holeBr)" stroke="#f4b84a" stroke-width="1.1"/>
<polygon points="989.3,897.9 986.2,899.6 983.1,897.9 983.1,894.3 986.2,892.5 989.3,894.3" fill="url(#holeBr)" stroke="#f4b84a" stroke-width="1.1"/>
<polygon points="903.2,905.4 899.5,907.5 895.9,905.4 895.9,901.2 899.5,899.1 903.2,901.2" fill="url(#holeBr)" stroke="#f4b84a" stroke-width="1.1"/>
<polygon points="912.3,904.5 908.1,906.9 903.9,904.5 903.9,899.7 908.1,897.3 912.3,899.7" fill="url(#holeBr)" stroke="#f4b84a" stroke-width="1.1"/>
<polygon points="923.0,903.9 918.4,906.5 913.8,903.9 913.8,898.6 918.4,895.9 923.0,898.6" fill="url(#holeBr)" stroke="#f4b84a" stroke-width="1.1"/>
<polygon points="934.7,903.5 929.9,906.3 925.1,903.5 925.1,897.9 929.9,895.1 934.7,897.9" fill="url(#holeBr)" stroke="#f4b84a" stroke-width="1.1"/>
<polygon points="946.9,903.4 942.0,906.2 937.1,903.4 937.1,897.7 942.0,894.8 946.9,897.7" fill="url(#holeBr)" stroke="#f4b84a" stroke-width="1.1"/>
<polygon points="958.9,903.5 954.1,906.3 949.3,903.5 949.3,897.9 954.1,895.1 958.9,897.9" fill="url(#holeBr)" stroke="#f4b84a" stroke-width="1.1"/>
<polygon points="970.2,903.9 965.6,906.5 961.0,903.9 961.0,898.6 965.6,895.9 970.2,898.6" fill="url(#holeBr)" stroke="#f4b84a" stroke-width="1.1"/>
<polygon points="980.1,904.5 975.9,906.9 971.7,904.5 971.7,899.7 975.9,897.3 980.1,899.7" fill="url(#holeBr)" stroke="#f4b84a" stroke-width="1.1"/>
<polygon points="988.1,905.4 984.5,907.5 980.8,905.4 980.8,901.2 984.5,899.1 988.1,901.2" fill="url(#holeBr)" stroke="#f4b84a" stroke-width="1.1"/>
<polygon points="898.6,914.9 895.1,916.9 891.6,914.9 891.6,910.8 895.1,908.8 898.6,910.8" fill="url(#holeBr)" stroke="#f4b84a" stroke-width="1.1"/>
<polygon points="906.9,914.5 902.7,916.9 898.6,914.5 898.6,909.8 902.7,907.4 906.9,909.8" fill="url(#holeBr)" stroke="#f4b84a" stroke-width="1.1"/>
<polygon points="917.1,914.3 912.5,916.9 907.9,914.3 907.9,909.0 912.5,906.3 917.1,909.0" fill="url(#holeBr)" stroke="#f4b84a" stroke-width="1.1"/>
<polygon points="928.6,914.1 923.7,917.0 918.8,914.1 918.8,908.4 923.7,905.6 928.6,908.4" fill="url(#holeBr)" stroke="#f4b84a" stroke-width="1.1"/>
<polygon points="940.9,914.0 935.8,917.0 930.7,914.0 930.7,908.1 935.8,905.2 940.9,908.1" fill="url(#holeBr)" stroke="#f4b84a" stroke-width="1.1"/>
<polygon points="953.3,914.0 948.2,917.0 943.1,914.0 943.1,908.1 948.2,905.2 953.3,908.1" fill="url(#holeBr)" stroke="#f4b84a" stroke-width="1.1"/>
<polygon points="965.2,914.1 960.3,917.0 955.4,914.1 955.4,908.4 960.3,905.6 965.2,908.4" fill="url(#holeBr)" stroke="#f4b84a" stroke-width="1.1"/>
<polygon points="976.1,914.3 971.5,916.9 966.9,914.3 966.9,909.0 971.5,906.3 976.1,909.0" fill="url(#holeBr)" stroke="#f4b84a" stroke-width="1.1"/>
<polygon points="985.4,914.5 981.3,916.9 977.1,914.5 977.1,909.8 981.3,907.4 985.4,909.8" fill="url(#holeBr)" stroke="#f4b84a" stroke-width="1.1"/>
<polygon points="992.4,914.9 988.9,916.9 985.4,914.9 985.4,910.8 988.9,908.8 992.4,910.8" fill="url(#holeBr)" stroke="#f4b84a" stroke-width="1.1"/>
<polygon points="895.1,923.9 891.8,925.7 888.6,923.9 888.6,920.1 891.8,918.3 895.1,920.1" fill="url(#holeBr)" stroke="#f4b84a" stroke-width="1.1"/>
<polygon points="902.2,924.2 898.3,926.5 894.4,924.2 894.4,919.8 898.3,917.5 902.2,919.8" fill="url(#holeBr)" stroke="#f4b84a" stroke-width="1.1"/>
<polygon points="911.6,924.6 907.2,927.1 902.7,924.6 902.7,919.4 907.2,916.9 911.6,919.4" fill="url(#holeBr)" stroke="#f4b84a" stroke-width="1.1"/>
<polygon points="922.6,924.8 917.8,927.6 912.9,924.8 912.9,919.2 917.8,916.4 922.6,919.2" fill="url(#holeBr)" stroke="#f4b84a" stroke-width="1.1"/>
<polygon points="934.7,924.9 929.6,927.9 924.5,924.9 924.5,919.1 929.6,916.1 934.7,919.1" fill="url(#holeBr)" stroke="#f4b84a" stroke-width="1.1"/>
<polygon points="947.2,925.0 942.0,928.0 936.8,925.0 936.8,919.0 942.0,916.0 947.2,919.0" fill="url(#holeBr)" stroke="#f4b84a" stroke-width="1.1"/>
<polygon points="959.5,924.9 954.4,927.9 949.3,924.9 949.3,919.1 954.4,916.1 959.5,919.1" fill="url(#holeBr)" stroke="#f4b84a" stroke-width="1.1"/>
<polygon points="971.1,924.8 966.2,927.6 961.4,924.8 961.4,919.2 966.2,916.4 971.1,919.2" fill="url(#holeBr)" stroke="#f4b84a" stroke-width="1.1"/>
<polygon points="981.3,924.6 976.8,927.1 972.4,924.6 972.4,919.4 976.8,916.9 981.3,919.4" fill="url(#holeBr)" stroke="#f4b84a" stroke-width="1.1"/>
<polygon points="989.6,924.2 985.7,926.5 981.8,924.2 981.8,919.8 985.7,917.5 989.6,919.8" fill="url(#holeBr)" stroke="#f4b84a" stroke-width="1.1"/>
<polygon points="995.4,923.9 992.2,925.7 988.9,923.9 988.9,920.1 992.2,918.3 995.4,920.1" fill="url(#holeBr)" stroke="#f4b84a" stroke-width="1.1"/>
<polygon points="898.6,933.2 895.1,935.2 891.6,933.2 891.6,929.1 895.1,927.1 898.6,929.1" fill="url(#holeBr)" stroke="#f4b84a" stroke-width="1.1"/>
<polygon points="906.9,934.2 902.7,936.6 898.6,934.2 898.6,929.5 902.7,927.1 906.9,929.5" fill="url(#holeBr)" stroke="#f4b84a" stroke-width="1.1"/>
<polygon points="917.1,935.0 912.5,937.7 907.9,935.0 907.9,929.7 912.5,927.1 917.1,929.7" fill="url(#holeBr)" stroke="#f4b84a" stroke-width="1.1"/>
<polygon points="928.6,935.6 923.7,938.4 918.8,935.6 918.8,929.9 923.7,927.0 928.6,929.9" fill="url(#holeBr)" stroke="#f4b84a" stroke-width="1.1"/>
<polygon points="940.9,935.9 935.8,938.8 930.7,935.9 930.7,930.0 935.8,927.0 940.9,930.0" fill="url(#holeBr)" stroke="#f4b84a" stroke-width="1.1"/>
<polygon points="953.3,935.9 948.2,938.8 943.1,935.9 943.1,930.0 948.2,927.0 953.3,930.0" fill="url(#holeBr)" stroke="#f4b84a" stroke-width="1.1"/>
<polygon points="965.2,935.6 960.3,938.4 955.4,935.6 955.4,929.9 960.3,927.0 965.2,929.9" fill="url(#holeBr)" stroke="#f4b84a" stroke-width="1.1"/>
<polygon points="976.1,935.0 971.5,937.7 966.9,935.0 966.9,929.7 971.5,927.1 976.1,929.7" fill="url(#holeBr)" stroke="#f4b84a" stroke-width="1.1"/>
<polygon points="985.4,934.2 981.3,936.6 977.1,934.2 977.1,929.5 981.3,927.1 985.4,929.5" fill="url(#holeBr)" stroke="#f4b84a" stroke-width="1.1"/>
<polygon points="992.4,933.2 988.9,935.2 985.4,933.2 985.4,929.1 988.9,927.1 992.4,929.1" fill="url(#holeBr)" stroke="#f4b84a" stroke-width="1.1"/>
<polygon points="903.2,942.8 899.5,944.9 895.9,942.8 895.9,938.6 899.5,936.5 903.2,938.6" fill="url(#holeBr)" stroke="#f4b84a" stroke-width="1.1"/>
<polygon points="912.3,944.3 908.1,946.7 903.9,944.3 903.9,939.5 908.1,937.1 912.3,939.5" fill="url(#holeBr)" stroke="#f4b84a" stroke-width="1.1"/>
<polygon points="923.0,945.4 918.4,948.1 913.8,945.4 913.8,940.1 918.4,937.5 923.0,940.1" fill="url(#holeBr)" stroke="#f4b84a" stroke-width="1.1"/>
<polygon points="934.7,946.1 929.9,948.9 925.1,946.1 925.1,940.5 929.9,937.7 934.7,940.5" fill="url(#holeBr)" stroke="#f4b84a" stroke-width="1.1"/>
<polygon points="946.9,946.3 942.0,949.2 937.1,946.3 937.1,940.6 942.0,937.8 946.9,940.6" fill="url(#holeBr)" stroke="#f4b84a" stroke-width="1.1"/>
<polygon points="958.9,946.1 954.1,948.9 949.3,946.1 949.3,940.5 954.1,937.7 958.9,940.5" fill="url(#holeBr)" stroke="#f4b84a" stroke-width="1.1"/>
<polygon points="970.2,945.4 965.6,948.1 961.0,945.4 961.0,940.1 965.6,937.5 970.2,940.1" fill="url(#holeBr)" stroke="#f4b84a" stroke-width="1.1"/>
<polygon points="980.1,944.3 975.9,946.7 971.7,944.3 971.7,939.5 975.9,937.1 980.1,939.5" fill="url(#holeBr)" stroke="#f4b84a" stroke-width="1.1"/>
<polygon points="988.1,942.8 984.5,944.9 980.8,942.8 980.8,938.6 984.5,936.5 988.1,938.6" fill="url(#holeBr)" stroke="#f4b84a" stroke-width="1.1"/>
<polygon points="900.9,949.7 897.8,951.5 894.7,949.7 894.7,946.1 897.8,944.4 900.9,946.1" fill="url(#holeBr)" stroke="#f4b84a" stroke-width="1.1"/>
<polygon points="908.5,952.1 904.9,954.2 901.2,952.1 901.2,947.9 904.9,945.8 908.5,947.9" fill="url(#holeBr)" stroke="#f4b84a" stroke-width="1.1"/>
<polygon points="918.1,953.9 914.0,956.3 909.9,953.9 909.9,949.2 914.0,946.8 918.1,949.2" fill="url(#holeBr)" stroke="#f4b84a" stroke-width="1.1"/>
<polygon points="929.0,955.2 924.6,957.7 920.2,955.2 920.2,950.0 924.6,947.5 929.0,950.0" fill="url(#holeBr)" stroke="#f4b84a" stroke-width="1.1"/>
<polygon points="940.7,955.8 936.1,958.4 931.5,955.8 931.5,950.5 936.1,947.8 940.7,950.5" fill="url(#holeBr)" stroke="#f4b84a" stroke-width="1.1"/>
<polygon points="952.5,955.8 947.9,958.4 943.3,955.8 943.3,950.5 947.9,947.8 952.5,950.5" fill="url(#holeBr)" stroke="#f4b84a" stroke-width="1.1"/>
<polygon points="963.8,955.2 959.4,957.7 955.0,955.2 955.0,950.0 959.4,947.5 963.8,950.0" fill="url(#holeBr)" stroke="#f4b84a" stroke-width="1.1"/>
<polygon points="974.1,953.9 970.0,956.3 965.9,953.9 965.9,949.2 970.0,946.8 974.1,949.2" fill="url(#holeBr)" stroke="#f4b84a" stroke-width="1.1"/>
<polygon points="982.8,952.1 979.1,954.2 975.5,952.1 975.5,947.9 979.1,945.8 982.8,947.9" fill="url(#holeBr)" stroke="#f4b84a" stroke-width="1.1"/>
<polygon points="989.3,949.7 986.2,951.5 983.1,949.7 983.1,946.1 986.2,944.4 989.3,946.1" fill="url(#holeBr)" stroke="#f4b84a" stroke-width="1.1"/>
<polygon points="914.3,960.6 910.8,962.6 907.3,960.6 907.3,956.6 910.8,954.5 914.3,956.6" fill="url(#holeBr)" stroke="#f4b84a" stroke-width="1.1"/>
<polygon points="924.1,962.5 920.2,964.8 916.4,962.5 916.4,958.1 920.2,955.9 924.1,958.1" fill="url(#holeBr)" stroke="#f4b84a" stroke-width="1.1"/>
<polygon points="934.9,963.7 930.8,966.1 926.7,963.7 926.7,959.0 930.8,956.6 934.9,959.0" fill="url(#holeBr)" stroke="#f4b84a" stroke-width="1.1"/>
<polygon points="946.2,964.1 942.0,966.5 937.8,964.1 937.8,959.3 942.0,956.9 946.2,959.3" fill="url(#holeBr)" stroke="#f4b84a" stroke-width="1.1"/>
<polygon points="957.3,963.7 953.2,966.1 949.1,963.7 949.1,959.0 953.2,956.6 957.3,959.0" fill="url(#holeBr)" stroke="#f4b84a" stroke-width="1.1"/>
<polygon points="967.6,962.5 963.8,964.8 959.9,962.5 959.9,958.1 963.8,955.9 967.6,958.1" fill="url(#holeBr)" stroke="#f4b84a" stroke-width="1.1"/>
<polygon points="976.7,960.6 973.2,962.6 969.7,960.6 969.7,956.6 973.2,954.5 976.7,956.6" fill="url(#holeBr)" stroke="#f4b84a" stroke-width="1.1"/>
<polygon points="920.3,967.7 917.1,969.6 913.9,967.7 913.9,964.0 917.1,962.2 920.3,964.0" fill="url(#holeBr)" stroke="#f4b84a" stroke-width="1.1"/>
<polygon points="929.9,969.6 926.4,971.6 923.0,969.6 923.0,965.6 926.4,963.6 929.9,965.6" fill="url(#holeBr)" stroke="#f4b84a" stroke-width="1.1"/>
<polygon points="940.3,970.6 936.7,972.7 933.1,970.6 933.1,966.4 936.7,964.3 940.3,966.4" fill="url(#holeBr)" stroke="#f4b84a" stroke-width="1.1"/>
<polygon points="950.9,970.6 947.3,972.7 943.7,970.6 943.7,966.4 947.3,964.3 950.9,966.4" fill="url(#holeBr)" stroke="#f4b84a" stroke-width="1.1"/>
<polygon points="961.0,969.6 957.6,971.6 954.1,969.6 954.1,965.6 957.6,963.6 961.0,965.6" fill="url(#holeBr)" stroke="#f4b84a" stroke-width="1.1"/>
<polygon points="970.1,967.7 966.9,969.6 963.7,967.7 963.7,964.0 966.9,962.2 970.1,964.0" fill="url(#holeBr)" stroke="#f4b84a" stroke-width="1.1"/>
<polygon points="945.0,975.2 942.0,977.0 939.0,975.2 939.0,971.7 942.0,970.0 945.0,971.7" fill="url(#holeBr)" stroke="#f4b84a" stroke-width="1.1"/>
</g>
<circle cx="940" cy="924" r="60" fill="url(#honeyFade)"/>
<path d="M1065,822 L1136,822 L1136,857 L1107,859 L1065,855 Z" fill="#5a5a58"/>
<path d="M1107,828 L1136,826 L1136,857 L1107,859 Z" fill="#a8a8a8"/>
<path d="M1065,822 L1072,817 L1131,817 L1136,822 L1136,827 L1107,828 L1065,827 Z" fill="#8c8c8a"/>
<rect x="1080" y="834" width="14" height="12" fill="#3a3a3a"/>
<circle cx="1070" cy="857" r="1.3" fill="#333"/><circle cx="1106" cy="860" r="1.3" fill="#333"/><circle cx="1130" cy="858" r="1.3" fill="#333"/>
<path d="M1086,784 L1112,784 L1112,818 L1086,818 Z" fill="#4a4a4a"/>
<rect x="1084" y="796" width="22" height="3" fill="#2a2a2a"/>
<rect x="1091" y="800" width="15" height="16" fill="#a8d8f0" opacity="0.8"/>
<ellipse cx="1098" cy="810" rx="6" ry="3" fill="#5ab0e8" transform="rotate(-25 1098 810)"/>
<path d="M1125.8,791 L1133,790 L1137,795 L1137,829 L1125.8,829 Z" fill="#e27838"/>
<path d="M1072.6,760 L1114.7,760 L1129,790 L1112.5,813 L1094.8,787.6 L1069,807.6 L1053.8,782 Z" fill="#e8803e"/>
<path d="M1072.6,760 L1114.7,760 L1094.8,787.6 Z" fill="#f08a48"/>
<path d="M1053.8,782 L1094.8,787.6 L1072.6,760 Z" fill="#ec8442"/>
<path d="M1094.8,787.6 L1114.7,760 L1129,790 Z" fill="#e07838"/>
<path d="M1069,807.6 L1094.8,787.6 L1053.8,782 Z" fill="#dc7436"/>
<path d="M1112.5,813 L1094.8,787.6 L1129,790 Z" fill="#d46e32"/>
<defs><radialGradient id="tealBg2" cx="0.5" cy="0.5" r="0.5"><stop offset="0" stop-color="#2a7070"/><stop offset="0.62" stop-color="#327e80"/><stop offset="0.85" stop-color="#a8cccc" stop-opacity="0.6"/><stop offset="1" stop-color="#fefefe" stop-opacity="0"/></radialGradient><linearGradient id="scafFade" x1="0.2" y1="0" x2="0.5" y2="1"><stop offset="0" stop-color="#fefefe" stop-opacity="0.85"/><stop offset="0.35" stop-color="#fefefe" stop-opacity="0.15"/><stop offset="0.7" stop-color="#fefefe" stop-opacity="0"/><stop offset="1" stop-color="#fefefe" stop-opacity="0.75"/></linearGradient><clipPath id="clipGreen2"><path d="M1059,895 C1062,882 1066,876 1072,874 C1085,872 1100,872 1111,873 C1122,882 1132,896 1134,910 C1134,928 1131,942 1126,950 C1118,962 1105,970 1093,970 C1080,968 1070,960 1066,953 C1060,942 1056,928 1056,915 Z"/></clipPath></defs>
<ellipse cx="1102" cy="924" rx="80" ry="58" fill="url(#tealBg2)"/>
<path d="M1059,895 C1062,882 1066,876 1072,874 C1085,872 1100,872 1111,873 C1122,882 1132,896 1134,910 C1134,928 1131,942 1126,950 C1118,962 1105,970 1093,970 C1080,968 1070,960 1066,953 C1060,942 1056,928 1056,915 Z" fill="#c4e2a8"/>
<g clip-path="url(#clipGreen2)">
<ellipse cx="1045.4" cy="874.6" rx="5.0" ry="6.3" transform="rotate(10 1045.4 874.6)" fill="#1e2626" stroke="#78b048" stroke-width="1.4"/>
<ellipse cx="1046.2" cy="876.4" rx="2.6" ry="2.2" fill="#4a5aa0"/>
<ellipse cx="1062.4" cy="873.9" rx="5.6" ry="5.6" transform="rotate(-4 1062.4 873.9)" fill="#1e2626" stroke="#78b048" stroke-width="1.4"/>
<ellipse cx="1063.2" cy="875.7" rx="2.6" ry="2.2" fill="#4a5aa0"/>
<ellipse cx="1074.7" cy="875.1" rx="5.7" ry="6.8" transform="rotate(-4 1074.7 875.1)" fill="#1e2626" stroke="#78b048" stroke-width="1.4"/>
<ellipse cx="1075.5" cy="876.9" rx="2.6" ry="2.2" fill="#4a5aa0"/>
<ellipse cx="1087.9" cy="875.1" rx="6.1" ry="6.2" transform="rotate(-24 1087.9 875.1)" fill="#1e2626" stroke="#78b048" stroke-width="1.4"/>
<ellipse cx="1088.7" cy="876.9" rx="2.6" ry="2.2" fill="#4a5aa0"/>
<ellipse cx="1103.2" cy="874.0" rx="6.0" ry="6.6" transform="rotate(0 1103.2 874.0)" fill="#1e2626" stroke="#78b048" stroke-width="1.4"/>
<ellipse cx="1104.0" cy="875.8" rx="2.6" ry="2.2" fill="#4a5aa0"/>
<ellipse cx="1117.5" cy="873.6" rx="4.9" ry="5.7" transform="rotate(27 1117.5 873.6)" fill="#1e2626" stroke="#78b048" stroke-width="1.4"/>
<ellipse cx="1118.3" cy="875.4" rx="2.6" ry="2.2" fill="#4a5aa0"/>
<ellipse cx="1056.8" cy="885.4" rx="6.2" ry="6.4" transform="rotate(-24 1056.8 885.4)" fill="#1e2626" stroke="#78b048" stroke-width="1.4"/>
<ellipse cx="1057.6" cy="887.2" rx="2.6" ry="2.2" fill="#4a5aa0"/>
<ellipse cx="1070.8" cy="886.3" rx="6.3" ry="6.7" transform="rotate(-24 1070.8 886.3)" fill="#1e2626" stroke="#78b048" stroke-width="1.4"/>
<ellipse cx="1071.6" cy="888.1" rx="2.6" ry="2.2" fill="#4a5aa0"/>
<ellipse cx="1083.9" cy="886.9" rx="6.2" ry="6.1" transform="rotate(2 1083.9 886.9)" fill="#1e2626" stroke="#78b048" stroke-width="1.4"/>
<ellipse cx="1084.7" cy="888.7" rx="2.6" ry="2.2" fill="#4a5aa0"/>
<ellipse cx="1098.2" cy="885.0" rx="6.2" ry="6.8" transform="rotate(-27 1098.2 885.0)" fill="#1e2626" stroke="#78b048" stroke-width="1.4"/>
<ellipse cx="1099.0" cy="886.8" rx="2.6" ry="2.2" fill="#4a5aa0"/>
<ellipse cx="1111.8" cy="885.6" rx="5.1" ry="6.6" transform="rotate(28 1111.8 885.6)" fill="#1e2626" stroke="#78b048" stroke-width="1.4"/>
<ellipse cx="1112.6" cy="887.4" rx="2.6" ry="2.2" fill="#4a5aa0"/>
<ellipse cx="1125.6" cy="884.8" rx="5.6" ry="6.8" transform="rotate(27 1125.6 884.8)" fill="#1e2626" stroke="#78b048" stroke-width="1.4"/>
<ellipse cx="1126.4" cy="886.6" rx="2.6" ry="2.2" fill="#4a5aa0"/>
<ellipse cx="1050.5" cy="896.6" rx="6.3" ry="6.6" transform="rotate(-25 1050.5 896.6)" fill="#1e2626" stroke="#78b048" stroke-width="1.4"/>
<ellipse cx="1051.3" cy="898.4" rx="2.6" ry="2.2" fill="#4a5aa0"/>
<ellipse cx="1062.1" cy="896.8" rx="5.9" ry="5.8" transform="rotate(18 1062.1 896.8)" fill="#1e2626" stroke="#78b048" stroke-width="1.4"/>
<ellipse cx="1062.9" cy="898.6" rx="2.6" ry="2.2" fill="#4a5aa0"/>
<ellipse cx="1076.0" cy="898.1" rx="5.5" ry="5.7" transform="rotate(-30 1076.0 898.1)" fill="#1e2626" stroke="#78b048" stroke-width="1.4"/>
<ellipse cx="1076.8" cy="899.9" rx="2.6" ry="2.2" fill="#4a5aa0"/>
<ellipse cx="1093.2" cy="899.4" rx="5.0" ry="6.8" transform="rotate(29 1093.2 899.4)" fill="#1e2626" stroke="#78b048" stroke-width="1.4"/>
<ellipse cx="1094.0" cy="901.2" rx="2.6" ry="2.2" fill="#4a5aa0"/>
<ellipse cx="1107.2" cy="899.2" rx="5.3" ry="6.7" transform="rotate(-0 1107.2 899.2)" fill="#1e2626" stroke="#78b048" stroke-width="1.4"/>
<ellipse cx="1108.0" cy="901.0" rx="2.6" ry="2.2" fill="#4a5aa0"/>
<ellipse cx="1121.3" cy="898.6" rx="6.1" ry="7.0" transform="rotate(-7 1121.3 898.6)" fill="#1e2626" stroke="#78b048" stroke-width="1.4"/>
<ellipse cx="1122.1" cy="900.4" rx="2.6" ry="2.2" fill="#4a5aa0"/>
<ellipse cx="1058.6" cy="908.8" rx="5.1" ry="7.1" transform="rotate(-6 1058.6 908.8)" fill="#1e2626" stroke="#78b048" stroke-width="1.4"/>
<ellipse cx="1059.4" cy="910.6" rx="2.6" ry="2.2" fill="#4a5aa0"/>
<ellipse cx="1072.5" cy="910.2" rx="5.2" ry="6.5" transform="rotate(25 1072.5 910.2)" fill="#1e2626" stroke="#78b048" stroke-width="1.4"/>
<ellipse cx="1073.3" cy="912.0" rx="2.6" ry="2.2" fill="#4a5aa0"/>
<ellipse cx="1085.1" cy="909.5" rx="5.1" ry="5.9" transform="rotate(20 1085.1 909.5)" fill="#1e2626" stroke="#78b048" stroke-width="1.4"/>
<ellipse cx="1085.9" cy="911.3" rx="2.6" ry="2.2" fill="#4a5aa0"/>
<ellipse cx="1100.6" cy="911.4" rx="5.9" ry="7.1" transform="rotate(-17 1100.6 911.4)" fill="#1e2626" stroke="#78b048" stroke-width="1.4"/>
<ellipse cx="1101.4" cy="913.2" rx="2.6" ry="2.2" fill="#4a5aa0"/>
<ellipse cx="1112.6" cy="909.1" rx="5.4" ry="7.2" transform="rotate(-17 1112.6 909.1)" fill="#1e2626" stroke="#78b048" stroke-width="1.4"/>
<ellipse cx="1113.4" cy="910.9" rx="2.6" ry="2.2" fill="#4a5aa0"/>
<ellipse cx="1127.6" cy="908.7" rx="4.8" ry="6.5" transform="rotate(7 1127.6 908.7)" fill="#1e2626" stroke="#78b048" stroke-width="1.4"/>
<ellipse cx="1128.4" cy="910.5" rx="2.6" ry="2.2" fill="#4a5aa0"/>
<ellipse cx="1052.0" cy="923.2" rx="6.2" ry="7.1" transform="rotate(5 1052.0 923.2)" fill="#1e2626" stroke="#78b048" stroke-width="1.4"/>
<ellipse cx="1052.8" cy="925.0" rx="2.6" ry="2.2" fill="#4a5aa0"/>
<ellipse cx="1065.1" cy="920.9" rx="6.0" ry="5.8" transform="rotate(-30 1065.1 920.9)" fill="#1e2626" stroke="#78b048" stroke-width="1.4"/>
<ellipse cx="1065.9" cy="922.7" rx="2.6" ry="2.2" fill="#4a5aa0"/>
<ellipse cx="1080.8" cy="920.9" rx="5.8" ry="5.9" transform="rotate(-4 1080.8 920.9)" fill="#1e2626" stroke="#78b048" stroke-width="1.4"/>
<ellipse cx="1081.6" cy="922.7" rx="2.6" ry="2.2" fill="#4a5aa0"/>
<ellipse cx="1092.1" cy="921.6" rx="5.3" ry="6.0" transform="rotate(-22 1092.1 921.6)" fill="#1e2626" stroke="#78b048" stroke-width="1.4"/>
<ellipse cx="1092.9" cy="923.4" rx="2.6" ry="2.2" fill="#4a5aa0"/>
<ellipse cx="1108.3" cy="922.6" rx="5.1" ry="5.7" transform="rotate(-14 1108.3 922.6)" fill="#1e2626" stroke="#78b048" stroke-width="1.4"/>
<ellipse cx="1109.1" cy="924.4" rx="2.6" ry="2.2" fill="#4a5aa0"/>
<ellipse cx="1122.8" cy="921.3" rx="5.8" ry="5.7" transform="rotate(12 1122.8 921.3)" fill="#1e2626" stroke="#78b048" stroke-width="1.4"/>
<ellipse cx="1123.6" cy="923.1" rx="2.6" ry="2.2" fill="#4a5aa0"/>
<ellipse cx="1058.8" cy="933.2" rx="6.0" ry="6.4" transform="rotate(8 1058.8 933.2)" fill="#1e2626" stroke="#78b048" stroke-width="1.4"/>
<ellipse cx="1059.6" cy="935.0" rx="2.6" ry="2.2" fill="#4a5aa0"/>
<ellipse cx="1073.3" cy="934.5" rx="5.3" ry="6.4" transform="rotate(-3 1073.3 934.5)" fill="#1e2626" stroke="#78b048" stroke-width="1.4"/>
<ellipse cx="1074.1" cy="936.3" rx="2.6" ry="2.2" fill="#4a5aa0"/>
<ellipse cx="1089.8" cy="934.8" rx="5.7" ry="7.0" transform="rotate(7 1089.8 934.8)" fill="#1e2626" stroke="#78b048" stroke-width="1.4"/>
<ellipse cx="1090.6" cy="936.6" rx="2.6" ry="2.2" fill="#4a5aa0"/>
<ellipse cx="1103.1" cy="934.1" rx="5.7" ry="5.9" transform="rotate(26 1103.1 934.1)" fill="#1e2626" stroke="#78b048" stroke-width="1.4"/>
<ellipse cx="1103.9" cy="935.9" rx="2.6" ry="2.2" fill="#4a5aa0"/>
<ellipse cx="1116.8" cy="935.0" rx="5.8" ry="5.6" transform="rotate(-24 1116.8 935.0)" fill="#1e2626" stroke="#78b048" stroke-width="1.4"/>
<ellipse cx="1117.6" cy="936.8" rx="2.6" ry="2.2" fill="#4a5aa0"/>
<ellipse cx="1131.7" cy="934.6" rx="6.2" ry="7.0" transform="rotate(-16 1131.7 934.6)" fill="#1e2626" stroke="#78b048" stroke-width="1.4"/>
<ellipse cx="1132.5" cy="936.4" rx="2.6" ry="2.2" fill="#4a5aa0"/>
<ellipse cx="1056.3" cy="946.3" rx="6.0" ry="6.4" transform="rotate(-15 1056.3 946.3)" fill="#1e2626" stroke="#78b048" stroke-width="1.4"/>
<ellipse cx="1057.1" cy="948.1" rx="2.6" ry="2.2" fill="#4a5aa0"/>
<ellipse cx="1068.3" cy="945.9" rx="5.3" ry="6.1" transform="rotate(-3 1068.3 945.9)" fill="#1e2626" stroke="#78b048" stroke-width="1.4"/>
<ellipse cx="1069.1" cy="947.7" rx="2.6" ry="2.2" fill="#4a5aa0"/>
<ellipse cx="1081.5" cy="944.9" rx="6.1" ry="6.2" transform="rotate(-8 1081.5 944.9)" fill="#1e2626" stroke="#78b048" stroke-width="1.4"/>
<ellipse cx="1082.3" cy="946.7" rx="2.6" ry="2.2" fill="#4a5aa0"/>
<ellipse cx="1097.5" cy="946.6" rx="5.5" ry="6.1" transform="rotate(18 1097.5 946.6)" fill="#1e2626" stroke="#78b048" stroke-width="1.4"/>
<ellipse cx="1098.3" cy="948.4" rx="2.6" ry="2.2" fill="#4a5aa0"/>
<ellipse cx="1109.3" cy="945.9" rx="5.4" ry="7.2" transform="rotate(-16 1109.3 945.9)" fill="#1e2626" stroke="#78b048" stroke-width="1.4"/>
<ellipse cx="1110.1" cy="947.7" rx="2.6" ry="2.2" fill="#4a5aa0"/>
<ellipse cx="1124.8" cy="946.1" rx="4.9" ry="5.9" transform="rotate(23 1124.8 946.1)" fill="#1e2626" stroke="#78b048" stroke-width="1.4"/>
<ellipse cx="1125.6" cy="947.9" rx="2.6" ry="2.2" fill="#4a5aa0"/>
<ellipse cx="1063.8" cy="957.1" rx="5.1" ry="7.1" transform="rotate(5 1063.8 957.1)" fill="#1e2626" stroke="#78b048" stroke-width="1.4"/>
<ellipse cx="1064.6" cy="958.9" rx="2.6" ry="2.2" fill="#4a5aa0"/>
<ellipse cx="1077.5" cy="959.2" rx="5.2" ry="6.4" transform="rotate(25 1077.5 959.2)" fill="#1e2626" stroke="#78b048" stroke-width="1.4"/>
<ellipse cx="1078.3" cy="961.0" rx="2.6" ry="2.2" fill="#4a5aa0"/>
<ellipse cx="1089.3" cy="957.3" rx="6.2" ry="6.9" transform="rotate(1 1089.3 957.3)" fill="#1e2626" stroke="#78b048" stroke-width="1.4"/>
<ellipse cx="1090.1" cy="959.1" rx="2.6" ry="2.2" fill="#4a5aa0"/>
<ellipse cx="1103.1" cy="959.0" rx="5.3" ry="6.8" transform="rotate(-15 1103.1 959.0)" fill="#1e2626" stroke="#78b048" stroke-width="1.4"/>
<ellipse cx="1103.9" cy="960.8" rx="2.6" ry="2.2" fill="#4a5aa0"/>
<ellipse cx="1117.2" cy="958.6" rx="5.4" ry="6.2" transform="rotate(-4 1117.2 958.6)" fill="#1e2626" stroke="#78b048" stroke-width="1.4"/>
<ellipse cx="1118.0" cy="960.4" rx="2.6" ry="2.2" fill="#4a5aa0"/>
<ellipse cx="1132.4" cy="957.9" rx="5.8" ry="5.8" transform="rotate(11 1132.4 957.9)" fill="#1e2626" stroke="#78b048" stroke-width="1.4"/>
<ellipse cx="1133.2" cy="959.7" rx="2.6" ry="2.2" fill="#4a5aa0"/>
<ellipse cx="1056.7" cy="971.0" rx="5.3" ry="6.7" transform="rotate(-18 1056.7 971.0)" fill="#1e2626" stroke="#78b048" stroke-width="1.4"/>
<ellipse cx="1057.5" cy="972.8" rx="2.6" ry="2.2" fill="#4a5aa0"/>
<ellipse cx="1071.6" cy="970.5" rx="5.7" ry="6.4" transform="rotate(27 1071.6 970.5)" fill="#1e2626" stroke="#78b048" stroke-width="1.4"/>
<ellipse cx="1072.4" cy="972.3" rx="2.6" ry="2.2" fill="#4a5aa0"/>
<ellipse cx="1084.2" cy="968.7" rx="5.3" ry="5.7" transform="rotate(23 1084.2 968.7)" fill="#1e2626" stroke="#78b048" stroke-width="1.4"/>
<ellipse cx="1085.0" cy="970.5" rx="2.6" ry="2.2" fill="#4a5aa0"/>
<ellipse cx="1100.1" cy="969.1" rx="5.8" ry="5.9" transform="rotate(21 1100.1 969.1)" fill="#1e2626" stroke="#78b048" stroke-width="1.4"/>
<ellipse cx="1100.9" cy="970.9" rx="2.6" ry="2.2" fill="#4a5aa0"/>
<ellipse cx="1112.5" cy="968.7" rx="5.8" ry="5.7" transform="rotate(24 1112.5 968.7)" fill="#1e2626" stroke="#78b048" stroke-width="1.4"/>
<ellipse cx="1113.3" cy="970.5" rx="2.6" ry="2.2" fill="#4a5aa0"/>
<ellipse cx="1128.5" cy="970.3" rx="5.2" ry="6.8" transform="rotate(-28 1128.5 970.3)" fill="#1e2626" stroke="#78b048" stroke-width="1.4"/>
<ellipse cx="1129.3" cy="972.1" rx="2.6" ry="2.2" fill="#4a5aa0"/>
</g>
<path d="M1059,895 C1062,882 1066,876 1072,874 C1085,872 1100,872 1111,873 C1122,882 1132,896 1134,910 C1134,928 1131,942 1126,950 C1118,962 1105,970 1093,970 C1080,968 1070,960 1066,953 C1060,942 1056,928 1056,915 Z" fill="url(#scafFade)"/>
<defs><linearGradient id="arrR" x1="0" y1="0" x2="1" y2="0"><stop offset="0" stop-color="#4a7a2a" stop-opacity="0"/><stop offset="0.35" stop-color="#4a7a2a" stop-opacity="0.85"/><stop offset="1" stop-color="#4a7a2a"/></linearGradient><linearGradient id="arrL" x1="1" y1="0" x2="0" y2="0"><stop offset="0" stop-color="#4a7a2a" stop-opacity="0"/><stop offset="0.35" stop-color="#4a7a2a" stop-opacity="0.85"/><stop offset="1" stop-color="#4a7a2a"/></linearGradient><clipPath id="cRC1"><circle cx="1444" cy="373.4" r="23"/></clipPath><clipPath id="cRC2"><circle cx="1631" cy="372" r="23"/></clipPath><clipPath id="cRC3"><circle cx="1632" cy="561" r="23"/></clipPath></defs>
<circle cx="1532.5" cy="462.5" r="126" fill="none" stroke="#4a9eac" stroke-width="1.6"/>
<path d="M1490,332 C1495,326 1512,326 1518,332 C1522,340 1520,350 1514,352 C1508,352 1506,346 1504,344 C1502,346 1500,352 1494,352 C1488,350 1486,340 1490,332 Z" fill="#d9b2b4"/>
<circle cx="1512" cy="332" r="3" fill="#d02a3a"/>
<path d="M1560,328 C1556,334 1558,348 1564,352 C1568,352 1570,346 1572,342 C1574,346 1576,352 1580,352 C1586,348 1588,334 1584,328 C1580,332 1576,334 1572,334 C1568,334 1564,332 1560,328 Z" fill="#eab0a8"/>
<circle cx="1584" cy="339" r="5" fill="#b85a5a"/>
<path d="M1400,420 C1408,414 1420,416 1432,418 C1436,420 1430,426 1424,430 C1418,436 1410,440 1404,444 C1400,436 1398,428 1400,420 Z" fill="#a8744e"/>
<circle cx="1410" cy="430" r="3.5" fill="#6a3a28"/><circle cx="1423" cy="425" r="2" fill="#6a3a28"/>
<path d="M1415,465 C1418,472 1418,490 1420,505 M1415,475 C1410,470 1408,466 1410,462" stroke="#e8b040" stroke-width="2" fill="none"/>
<ellipse cx="1408" cy="488" rx="7" ry="8" fill="#e8b040" transform="rotate(-30 1408 488)"/>
<circle cx="1406" cy="489" r="3.5" fill="#b8503a"/>
<path d="M1428,556 C1424,550 1426,543 1432,543 C1438,543 1442,548 1446,550 M1458,556 C1462,550 1460,543 1454,543 C1448,543 1444,548 1440,550" stroke="#e49a9a" stroke-width="2.2" fill="none"/>
<path d="M1436,548 C1440,546 1446,546 1450,548 C1450,556 1446,562 1445,566 L1445,571 L1441,571 L1441,566 C1440,562 1436,556 1436,548 Z" fill="#e8a8a8"/>
<path d="M1440,551 C1442,550 1444,550 1446,551 L1443,562 Z" fill="#c87878"/>
<circle cx="1429" cy="555" r="2.6" fill="#f0d8d8"/><circle cx="1457" cy="555" r="2.6" fill="#e05a5a"/>
<path d="M1494,604 L1494,577 C1494,573 1497,572 1500,573 C1506,575 1512,573 1515,572 C1518,571 1518,574 1518,578 L1518,598 C1518,602 1515,603 1512,600 C1510,598 1506,600 1505,606" stroke="#f2b8bc" stroke-width="4.5" fill="none" stroke-linecap="round"/>
<circle cx="1515" cy="591" r="2.2" fill="#c04848"/>
<path d="M1558,593 C1556,585 1562,580 1570,579 C1576,578 1582,575 1587,572 C1588,576 1584,582 1578,586 C1572,589 1570,595 1564,598 C1560,599 1558,597 1558,593 Z" fill="#f0985a"/>
<path d="M1648,408 C1656,406 1660,418 1664,426 C1666,438 1660,444 1650,440 C1644,436 1640,440 1636,444 C1638,434 1644,428 1652,424 C1650,418 1646,414 1648,408 Z" fill="#ec9fa0"/>
<circle cx="1658" cy="435" r="4" fill="#a84050"/>
<ellipse cx="1660" cy="481" rx="9" ry="13" fill="#e4a08c"/>
<circle cx="1658" cy="488" r="4.5" fill="#b04a4a"/>
<ellipse cx="1541" cy="462" rx="58" ry="50" fill="#f6c8cc" opacity="0.6"/>
<g>
<circle cx="1504.0" cy="421.4" r="9.7" fill="#f0aab2"/>
<circle cx="1505.0" cy="422.4" r="3.6" fill="#e08494"/>
<circle cx="1518.5" cy="421.7" r="9.5" fill="#ee9ca6"/>
<circle cx="1519.5" cy="422.7" r="3.6" fill="#e08494"/>
<circle cx="1534.3" cy="420.3" r="8.8" fill="#f4b4bb"/>
<circle cx="1535.3" cy="421.3" r="3.6" fill="#e08494"/>
<circle cx="1546.7" cy="420.7" r="9.7" fill="#f2a4ac"/>
<circle cx="1547.7" cy="421.7" r="3.6" fill="#e08494"/>
<circle cx="1559.2" cy="418.0" r="9.4" fill="#ee9ca6"/>
<circle cx="1560.2" cy="419.0" r="3.6" fill="#e08494"/>
<circle cx="1496.2" cy="435.7" r="8.9" fill="#f0aab2"/>
<circle cx="1497.2" cy="436.7" r="3.6" fill="#e08494"/>
<circle cx="1515.4" cy="435.9" r="8.3" fill="#f2a4ac"/>
<circle cx="1516.4" cy="436.9" r="3.6" fill="#e08494"/>
<circle cx="1529.9" cy="432.8" r="9.4" fill="#f2a4ac"/>
<circle cx="1530.9" cy="433.8" r="3.6" fill="#e08494"/>
<circle cx="1543.6" cy="435.5" r="8.2" fill="#f4b4bb"/>
<circle cx="1544.6" cy="436.5" r="3.6" fill="#e08494"/>
<circle cx="1557.4" cy="433.3" r="9.2" fill="#f0aab2"/>
<circle cx="1558.4" cy="434.3" r="3.6" fill="#e08494"/>
<circle cx="1571.9" cy="433.0" r="9.3" fill="#ee9ca6"/>
<circle cx="1572.9" cy="434.0" r="3.6" fill="#e08494"/>
<circle cx="1585.9" cy="435.0" r="10.0" fill="#f2a4ac"/>
<circle cx="1586.9" cy="436.0" r="3.6" fill="#e08494"/>
<circle cx="1492.2" cy="446.6" r="9.9" fill="#f4b4bb"/>
<circle cx="1493.2" cy="447.6" r="3.6" fill="#e08494"/>
<circle cx="1508.0" cy="448.5" r="8.7" fill="#f2a4ac"/>
<circle cx="1509.0" cy="449.5" r="3.6" fill="#e08494"/>
<circle cx="1520.2" cy="448.8" r="9.1" fill="#ee9ca6"/>
<circle cx="1521.2" cy="449.8" r="3.6" fill="#e08494"/>
<circle cx="1536.1" cy="444.8" r="9.2" fill="#ee9ca6"/>
<circle cx="1537.1" cy="445.8" r="3.6" fill="#e08494"/>
<circle cx="1546.3" cy="449.4" r="8.6" fill="#f2a4ac"/>
<circle cx="1547.3" cy="450.4" r="3.6" fill="#e08494"/>
<circle cx="1560.8" cy="447.5" r="10.0" fill="#ee9ca6"/>
<circle cx="1561.8" cy="448.5" r="3.6" fill="#e08494"/>
<circle cx="1576.3" cy="448.8" r="8.5" fill="#f4b4bb"/>
<circle cx="1577.3" cy="449.8" r="3.6" fill="#e08494"/>
<circle cx="1591.7" cy="446.8" r="9.8" fill="#ee9ca6"/>
<circle cx="1592.7" cy="447.8" r="3.6" fill="#e08494"/>
<circle cx="1487.3" cy="461.4" r="9.4" fill="#f0aab2"/>
<circle cx="1488.3" cy="462.4" r="3.6" fill="#e08494"/>
<circle cx="1500.4" cy="460.3" r="9.2" fill="#f4b4bb"/>
<circle cx="1501.4" cy="461.3" r="3.6" fill="#e08494"/>
<circle cx="1513.6" cy="459.6" r="9.0" fill="#ee9ca6"/>
<circle cx="1514.6" cy="460.6" r="3.6" fill="#e08494"/>
<circle cx="1524.1" cy="461.7" r="8.3" fill="#f4b4bb"/>
<circle cx="1525.1" cy="462.7" r="3.6" fill="#e08494"/>
<circle cx="1542.1" cy="462.8" r="8.8" fill="#ee9ca6"/>
<circle cx="1543.1" cy="463.8" r="3.6" fill="#e08494"/>
<circle cx="1557.1" cy="459.3" r="8.8" fill="#f4b4bb"/>
<circle cx="1558.1" cy="460.3" r="3.6" fill="#e08494"/>
<circle cx="1571.9" cy="462.8" r="9.1" fill="#f4b4bb"/>
<circle cx="1572.9" cy="463.8" r="3.6" fill="#e08494"/>
<circle cx="1582.5" cy="461.5" r="9.0" fill="#f4b4bb"/>
<circle cx="1583.5" cy="462.5" r="3.6" fill="#e08494"/>
<circle cx="1594.7" cy="462.6" r="9.7" fill="#ee9ca6"/>
<circle cx="1595.7" cy="463.6" r="3.6" fill="#e08494"/>
<circle cx="1490.3" cy="473.0" r="8.8" fill="#f2a4ac"/>
<circle cx="1491.3" cy="474.0" r="3.6" fill="#e08494"/>
<circle cx="1506.4" cy="475.4" r="8.1" fill="#f4b4bb"/>
<circle cx="1507.4" cy="476.4" r="3.6" fill="#e08494"/>
<circle cx="1518.9" cy="476.1" r="9.9" fill="#f4b4bb"/>
<circle cx="1519.9" cy="477.1" r="3.6" fill="#e08494"/>
<circle cx="1531.4" cy="473.4" r="8.7" fill="#f0aab2"/>
<circle cx="1532.4" cy="474.4" r="3.6" fill="#e08494"/>
<circle cx="1550.5" cy="471.0" r="9.9" fill="#ee9ca6"/>
<circle cx="1551.5" cy="472.0" r="3.6" fill="#e08494"/>
<circle cx="1562.5" cy="470.5" r="8.4" fill="#ee9ca6"/>
<circle cx="1563.5" cy="471.5" r="3.6" fill="#e08494"/>
<circle cx="1577.8" cy="475.9" r="9.2" fill="#f2a4ac"/>
<circle cx="1578.8" cy="476.9" r="3.6" fill="#e08494"/>
<circle cx="1590.7" cy="475.1" r="10.0" fill="#f0aab2"/>
<circle cx="1591.7" cy="476.1" r="3.6" fill="#e08494"/>
<circle cx="1499.2" cy="486.5" r="9.9" fill="#ee9ca6"/>
<circle cx="1500.2" cy="487.5" r="3.6" fill="#e08494"/>
<circle cx="1515.1" cy="486.8" r="9.1" fill="#f2a4ac"/>
<circle cx="1516.1" cy="487.8" r="3.6" fill="#e08494"/>
<circle cx="1524.3" cy="485.8" r="9.1" fill="#f2a4ac"/>
<circle cx="1525.3" cy="486.8" r="3.6" fill="#e08494"/>
<circle cx="1543.1" cy="487.9" r="10.0" fill="#f0aab2"/>
<circle cx="1544.1" cy="488.9" r="3.6" fill="#e08494"/>
<circle cx="1556.9" cy="486.1" r="8.5" fill="#ee9ca6"/>
<circle cx="1557.9" cy="487.1" r="3.6" fill="#e08494"/>
<circle cx="1570.0" cy="486.9" r="8.3" fill="#f0aab2"/>
<circle cx="1571.0" cy="487.9" r="3.6" fill="#e08494"/>
<circle cx="1582.3" cy="487.3" r="8.3" fill="#f2a4ac"/>
<circle cx="1583.3" cy="488.3" r="3.6" fill="#e08494"/>
<circle cx="1506.2" cy="497.6" r="8.7" fill="#f2a4ac"/>
<circle cx="1507.2" cy="498.6" r="3.6" fill="#e08494"/>
<circle cx="1522.6" cy="499.3" r="9.1" fill="#f0aab2"/>
<circle cx="1523.6" cy="500.3" r="3.6" fill="#e08494"/>
<circle cx="1535.7" cy="499.3" r="8.0" fill="#f0aab2"/>
<circle cx="1536.7" cy="500.3" r="3.6" fill="#e08494"/>
<circle cx="1545.4" cy="501.9" r="8.2" fill="#f4b4bb"/>
<circle cx="1546.4" cy="502.9" r="3.6" fill="#e08494"/>
<circle cx="1563.6" cy="501.6" r="8.6" fill="#ee9ca6"/>
<circle cx="1564.6" cy="502.6" r="3.6" fill="#e08494"/>
</g>
<circle cx="1504" cy="429" r="6.5" fill="#8ac4f2"/><circle cx="1504" cy="429" r="3" fill="#6aa8d8"/>
<circle cx="1528" cy="425" r="9" fill="#8a7ad0" stroke="#9a8ae0" stroke-width="2.5" stroke-dasharray="1.5 1.5"/><circle cx="1528" cy="425" r="3.8" fill="#4a4a8a"/>
<circle cx="1550" cy="428" r="6.5" fill="#8ac4f2"/><circle cx="1550" cy="428" r="3" fill="#6aa8d8"/>
<circle cx="1565" cy="420" r="7" fill="#a898e0"/>
<circle cx="1497" cy="445" r="6.5" fill="#8a48b0" stroke="#9a5ac0" stroke-width="2.5" stroke-dasharray="1.2 1.8"/><circle cx="1497" cy="445" r="2.5" fill="#5a2a7a"/>
<circle cx="1545" cy="443" r="6" fill="#d8e6f8"/><circle cx="1545" cy="443" r="2.8" fill="#8aa8d8"/>
<circle cx="1532" cy="452" r="7" fill="#a898e0"/>
<circle cx="1509" cy="462" r="6.5" fill="#8ac4f2"/><circle cx="1509" cy="462" r="3" fill="#6aa8d8"/>
<circle cx="1591" cy="426" r="6.5" fill="#8a48b0" stroke="#9a5ac0" stroke-width="2.5" stroke-dasharray="1.2 1.8"/><circle cx="1591" cy="426" r="2.5" fill="#5a2a7a"/>
<circle cx="1564" cy="465" r="6.5" fill="#8ac4f2"/><circle cx="1564" cy="465" r="3" fill="#6aa8d8"/>
<circle cx="1585" cy="462" r="6.5" fill="#8ac4f2"/><circle cx="1585" cy="462" r="3" fill="#6aa8d8"/>
<circle cx="1597" cy="478" r="6.5" fill="#8ac4f2"/><circle cx="1597" cy="478" r="3" fill="#6aa8d8"/>
<circle cx="1505" cy="489" r="9" fill="#8a7ad0" stroke="#9a8ae0" stroke-width="2.5" stroke-dasharray="1.5 1.5"/><circle cx="1505" cy="489" r="3.8" fill="#4a4a8a"/>
<circle cx="1567" cy="482" r="9" fill="#8a7ad0" stroke="#9a8ae0" stroke-width="2.5" stroke-dasharray="1.5 1.5"/><circle cx="1567" cy="482" r="3.8" fill="#4a4a8a"/>
<circle cx="1538" cy="491" r="6.5" fill="#8a48b0" stroke="#9a5ac0" stroke-width="2.5" stroke-dasharray="1.2 1.8"/><circle cx="1538" cy="491" r="2.5" fill="#5a2a7a"/>
<circle cx="1553" cy="504" r="6.5" fill="#8ac4f2"/><circle cx="1553" cy="504" r="3" fill="#6aa8d8"/>
<circle cx="1590" cy="500" r="6" fill="#d8e6f8"/><circle cx="1590" cy="500" r="2.8" fill="#8aa8d8"/>
<circle cx="1510.5" cy="405.9" r="1.5" fill="#d84a6a" opacity="0.8"/>
<circle cx="1469.4" cy="431.2" r="1.7" fill="#d84a6a" opacity="0.8"/>
<circle cx="1571.0" cy="405.8" r="1.6" fill="#d84a6a" opacity="0.8"/>
<circle cx="1623.8" cy="439.0" r="1.2" fill="#d84a6a" opacity="0.8"/>
<circle cx="1477.5" cy="433.3" r="0.9" fill="#d84a6a" opacity="0.8"/>
<circle cx="1492.5" cy="412.4" r="1.4" fill="#d84a6a" opacity="0.8"/>
<circle cx="1604.9" cy="439.9" r="1.3" fill="#d84a6a" opacity="0.8"/>
<circle cx="1591.3" cy="424.2" r="1.4" fill="#d84a6a" opacity="0.8"/>
<circle cx="1532.1" cy="391.2" r="1.7" fill="#d84a6a" opacity="0.8"/>
<circle cx="1618.7" cy="426.3" r="0.8" fill="#d84a6a" opacity="0.8"/>
<circle cx="1527.6" cy="401.8" r="1.2" fill="#d84a6a" opacity="0.8"/>
<circle cx="1515.3" cy="404.7" r="1.4" fill="#d84a6a" opacity="0.8"/>
<circle cx="1562.4" cy="396.4" r="0.9" fill="#d84a6a" opacity="0.8"/>
<circle cx="1469.1" cy="418.6" r="1.2" fill="#d84a6a" opacity="0.8"/>
<circle cx="1609.7" cy="420.2" r="1.7" fill="#d84a6a" opacity="0.8"/>
<circle cx="1583.7" cy="415.8" r="1.5" fill="#d84a6a" opacity="0.8"/>
<circle cx="1510.1" cy="405.4" r="1.6" fill="#d84a6a" opacity="0.8"/>
<circle cx="1608.5" cy="447.6" r="0.9" fill="#d84a6a" opacity="0.8"/>
<circle cx="1573.5" cy="396.8" r="1.4" fill="#d84a6a" opacity="0.8"/>
<circle cx="1511.8" cy="406.4" r="0.9" fill="#d84a6a" opacity="0.8"/>
<circle cx="1504.3" cy="408.6" r="0.9" fill="#d84a6a" opacity="0.8"/>
<circle cx="1553.1" cy="395.3" r="1.1" fill="#d84a6a" opacity="0.8"/>
<circle cx="1538.9" cy="394.8" r="1.8" fill="#d84a6a" opacity="0.8"/>
<circle cx="1483.4" cy="426.7" r="1.6" fill="#d84a6a" opacity="0.8"/>
<circle cx="1528.6" cy="390.6" r="1.5" fill="#d84a6a" opacity="0.8"/>
<circle cx="1517.1" cy="410.5" r="1.5" fill="#d84a6a" opacity="0.8"/>
<circle cx="1623.4" cy="445.0" r="0.8" fill="#d84a6a" opacity="0.8"/>
<circle cx="1478.6" cy="433.1" r="1.4" fill="#d84a6a" opacity="0.8"/>
<circle cx="1507.0" cy="402.3" r="1.7" fill="#d84a6a" opacity="0.8"/>
<circle cx="1508.5" cy="408.4" r="1.7" fill="#d84a6a" opacity="0.8"/>
<circle cx="1495.1" cy="401.5" r="1.5" fill="#d84a6a" opacity="0.8"/>
<circle cx="1573.7" cy="406.6" r="1.3" fill="#d84a6a" opacity="0.8"/>
<circle cx="1603.1" cy="420.2" r="0.9" fill="#d84a6a" opacity="0.8"/>
<circle cx="1520.1" cy="394.2" r="0.9" fill="#d84a6a" opacity="0.8"/>
<circle cx="1623.0" cy="442.5" r="0.9" fill="#d84a6a" opacity="0.8"/>
<circle cx="1526.9" cy="390.4" r="1.5" fill="#d84a6a" opacity="0.8"/>
<circle cx="1538.9" cy="406.6" r="1.7" fill="#d84a6a" opacity="0.8"/>
<circle cx="1570.8" cy="396.0" r="1.5" fill="#d84a6a" opacity="0.8"/>
<circle cx="1519.9" cy="403.7" r="1.5" fill="#d84a6a" opacity="0.8"/>
<circle cx="1490.2" cy="424.9" r="1.2" fill="#d84a6a" opacity="0.8"/>
<path d="M1480,440 C1500,410 1540,400 1580,410 C1600,420 1610,440 1612,460 M1478,470 C1475,490 1485,505 1490,510" stroke="#e8a0a8" stroke-width="0.8" fill="none"/>
<rect x="1397" y="516" width="266" height="17" fill="#f0a8a8"/>
<path d="M1470,517 C1490,515 1505,508 1512,495 C1518,482 1516,460 1510,440 L1506,432 L1513,429 L1518,438 C1524,452 1527,466 1528,472 C1536,462 1548,452 1566,446 L1562,432 L1569,430 L1572,444 C1585,442 1600,441 1610,442 L1610,450 C1592,450 1568,455 1550,466 C1535,478 1525,495 1520,517 Z" fill="#7a1a1c" stroke="#f0a8a8" stroke-width="1.6"/>
<rect x="1397" y="519.5" width="266" height="10" fill="#7a1a1c"/>
<ellipse cx="1420" cy="525" rx="3" ry="2.2" fill="#d83a4a"/>
<ellipse cx="1448" cy="524" rx="3" ry="2.2" fill="#d83a4a"/>
<ellipse cx="1505" cy="523" rx="3" ry="2.2" fill="#d83a4a"/>
<ellipse cx="1545" cy="524" rx="3" ry="2.2" fill="#d83a4a"/>
<ellipse cx="1574" cy="524" rx="3" ry="2.2" fill="#d83a4a"/>
<ellipse cx="1622" cy="524" rx="3" ry="2.2" fill="#d83a4a"/>
<ellipse cx="1520" cy="478" rx="3" ry="2.2" fill="#d83a4a"/>
<ellipse cx="1513" cy="455" rx="3" ry="2.2" fill="#d83a4a"/>
<ellipse cx="1545" cy="464" rx="3" ry="2.2" fill="#d83a4a"/>
<path d="M1460,516 q8,-5 16,0 Z M1553,516 q10,-5 20,0 Z M1590,516 q9,-5 18,0 Z" fill="#e8c060"/>
<circle cx="1444" cy="373.4" r="24" fill="#eff1f3"/>
<circle cx="1631" cy="372" r="24" fill="#eff1f3"/>
<circle cx="1632" cy="561" r="24" fill="#eff1f3"/>
<g clip-path="url(#cRC1)"><path d="M1432,368 C1436,356 1452,352 1454,362 C1458,376 1450,388 1440,386 C1432,384 1430,376 1432,368 Z" fill="#f2d27a"/><circle cx="1446" cy="372" r="3.5" fill="#a84040"/><path d="M1428,360 C1436,370 1438,380 1430,392" stroke="#ddd" stroke-width="4" fill="none"/></g>
<g clip-path="url(#cRC2)"><path d="M1614,380 C1620,378 1626,384 1628,396 L1634,396 C1634,384 1640,378 1648,372 L1648,400 L1612,400 Z" fill="#fafafa" stroke="#e0e0e0" stroke-width="0.8"/><rect x="1628" y="370" width="4" height="30" fill="#f2b8b0"/><path d="M1624,366 C1630,360 1640,360 1642,366 C1638,372 1630,372 1624,366 Z" fill="#f0c060"/></g>
<g clip-path="url(#cRC3)"><path d="M1624,545 C1630,540 1640,540 1642,548 C1640,560 1636,570 1638,585 L1628,585 C1628,570 1626,560 1624,545 Z" fill="#ecdcbc"/><path d="M1628,560 L1634,565 L1630,572" stroke="#d08080" stroke-width="1.2" fill="none"/></g>
<circle cx="1444" cy="373.4" r="23.8" fill="none" stroke="#8c1c1e" stroke-width="3.8"/>
<circle cx="1631" cy="372" r="23.8" fill="none" stroke="#8c1c1e" stroke-width="3.8"/>
<circle cx="1632" cy="561" r="23.8" fill="none" stroke="#8c1c1e" stroke-width="3.8"/>
<rect x="1697" y="462.3" width="116" height="3.2" fill="url(#arrR)"/>
<path d="M1811,454 L1831,463.9 L1811,474 Z" fill="#4a7a2a"/>
<rect x="1709" y="480.8" width="116" height="3.2" fill="url(#arrL)"/>
<path d="M1711,472.5 L1691,482.4 L1711,492.3 Z" fill="#4a7a2a"/>
<ellipse cx="1728" cy="440" rx="25" ry="15" fill="#f4d890" stroke="#d0c8b0" stroke-width="1.2"/>
<ellipse cx="1728" cy="437" rx="22" ry="11" fill="#f0c870" stroke="#e8e0c8" stroke-width="0.8"/>
<circle cx="1719" cy="436" r="3.5" fill="#fae8ec" stroke="#e090a0" stroke-width="1"/>
<circle cx="1730" cy="431" r="3.5" fill="#fae8ec" stroke="#e090a0" stroke-width="1"/>
<circle cx="1731" cy="442" r="3.5" fill="#fae8ec" stroke="#e090a0" stroke-width="1"/>
<circle cx="1740" cy="437" r="3.5" fill="#fae8ec" stroke="#e090a0" stroke-width="1"/>
<path d="M1769,428 L1797,434 L1803,446 L1797,451 L1769,445 L1764,435 Z" fill="#e4e6ea" stroke="#b8bcc4" stroke-width="1"/>
<path d="M1772,436 L1796,444 M1770,432 l4,3 M1770,441 l4,-3 M1794,441 l3,3 M1794,448 l3,-3" stroke="#e05a6a" stroke-width="1" fill="none"/>
<path d="M1770,432 l-2,-2 M1797,449 l2,2" stroke="#4ab0d8" stroke-width="1" fill="none"/>
<circle cx="1845" cy="372" r="20" fill="#f2e4c4" opacity="0.9"/>
<circle cx="1836" cy="364" r="2.2" fill="#a8c0e8"/>
<circle cx="1852" cy="378" r="2.2" fill="#a8c0e8"/>
<circle cx="1840" cy="384" r="2.2" fill="#a8c0e8"/>
<circle cx="1856" cy="362" r="2.2" fill="#a8c0e8"/>
<circle cx="1830" cy="376" r="2.2" fill="#a8c0e8"/>
<ellipse cx="1828" cy="352" rx="3.2" ry="2.2" fill="#e8c870"/>
<ellipse cx="1862" cy="356" rx="3.2" ry="2.2" fill="#e8c870"/>
<ellipse cx="1826" cy="392" rx="3.2" ry="2.2" fill="#e8c870"/>
<ellipse cx="1862" cy="394" rx="3.2" ry="2.2" fill="#e8c870"/>
<ellipse cx="1818" cy="372" rx="3.2" ry="2.2" fill="#e8c870"/>
<ellipse cx="1872" cy="372" rx="3.2" ry="2.2" fill="#e8c870"/>
<ellipse cx="1846" cy="350" rx="3.2" ry="2.2" fill="#e8c870"/>
<path d="M1845,372 C1842,362 1836,352 1840,342 M1845,372 C1852,362 1856,352 1850,346 M1845,372 C1834,370 1822,366 1814,370 M1845,372 C1858,372 1868,378 1876,386 M1845,372 C1838,384 1828,392 1820,398 M1845,372 C1852,386 1856,396 1864,402" stroke="#6a3418" stroke-width="3.4" fill="none" stroke-linecap="round"/>
<path d="M1845,372 C1842,362 1836,352 1840,342 M1845,372 C1834,370 1822,366 1814,370 M1845,372 C1858,372 1868,378 1876,386 M1845,372 C1838,384 1828,392 1820,398" stroke="#b87a48" stroke-width="1" fill="none" stroke-linecap="round"/>
<path d="M1920.5,460.0 L1921.8,462.5 L1922.8,465.1 L1923.3,467.8 L1923.2,470.5 L1922.5,473.1 L1921.3,475.5 L1919.6,477.6 L1917.5,479.3 L1915.1,480.8 L1912.4,481.8 L1909.7,482.6 L1907.0,483.0 L1904.4,483.3 L1902.0,483.5 L1899.8,483.7 L1897.9,484.0 L1896.1,484.5 L1894.4,485.2 L1892.9,486.1 L1891.3,487.3 L1889.7,488.6 L1888.0,490.0 L1886.1,491.5 L1884.0,492.8 L1881.8,493.9 L1879.4,494.6 L1877.0,495.0 L1874.6,494.9 L1872.3,494.4 L1870.2,493.4 L1868.3,491.9 L1866.6,490.1 L1865.2,488.1 L1864.2,485.9 L1863.3,483.6 L1862.7,481.3 L1862.1,479.2 L1861.6,477.2 L1860.9,475.4 L1860.2,473.8 L1859.2,472.2 L1857.9,470.8 L1856.5,469.4 L1854.8,467.8 L1852.9,466.2 L1851.0,464.3 L1849.2,462.3 L1847.5,460.0 L1846.2,457.5 L1845.2,454.9 L1844.7,452.2 L1844.8,449.5 L1845.5,446.9 L1846.7,444.5 L1848.4,442.4 L1850.5,440.7 L1852.9,439.2 L1855.6,438.2 L1858.3,437.4 L1861.0,437.0 L1863.6,436.7 L1866.0,436.5 L1868.2,436.3 L1870.1,436.0 L1871.9,435.5 L1873.6,434.8 L1875.1,433.9 L1876.7,432.7 L1878.3,431.4 L1880.0,430.0 L1881.9,428.5 L1884.0,427.2 L1886.2,426.1 L1888.6,425.4 L1891.0,425.0 L1893.4,425.1 L1895.7,425.6 L1897.8,426.6 L1899.7,428.1 L1901.4,429.9 L1902.8,431.9 L1903.8,434.1 L1904.7,436.4 L1905.3,438.7 L1905.9,440.8 L1906.4,442.8 L1907.1,444.6 L1907.8,446.2 L1908.8,447.8 L1910.1,449.2 L1911.5,450.6 L1913.2,452.2 L1915.1,453.8 L1917.0,455.7 L1918.8,457.7 L1920.5,460.0Z" fill="none" stroke="#fdf3ec" stroke-width="13"/>
<path d="M1920.5,460.0 L1921.8,462.5 L1922.8,465.1 L1923.3,467.8 L1923.2,470.5 L1922.5,473.1 L1921.3,475.5 L1919.6,477.6 L1917.5,479.3 L1915.1,480.8 L1912.4,481.8 L1909.7,482.6 L1907.0,483.0 L1904.4,483.3 L1902.0,483.5 L1899.8,483.7 L1897.9,484.0 L1896.1,484.5 L1894.4,485.2 L1892.9,486.1 L1891.3,487.3 L1889.7,488.6 L1888.0,490.0 L1886.1,491.5 L1884.0,492.8 L1881.8,493.9 L1879.4,494.6 L1877.0,495.0 L1874.6,494.9 L1872.3,494.4 L1870.2,493.4 L1868.3,491.9 L1866.6,490.1 L1865.2,488.1 L1864.2,485.9 L1863.3,483.6 L1862.7,481.3 L1862.1,479.2 L1861.6,477.2 L1860.9,475.4 L1860.2,473.8 L1859.2,472.2 L1857.9,470.8 L1856.5,469.4 L1854.8,467.8 L1852.9,466.2 L1851.0,464.3 L1849.2,462.3 L1847.5,460.0 L1846.2,457.5 L1845.2,454.9 L1844.7,452.2 L1844.8,449.5 L1845.5,446.9 L1846.7,444.5 L1848.4,442.4 L1850.5,440.7 L1852.9,439.2 L1855.6,438.2 L1858.3,437.4 L1861.0,437.0 L1863.6,436.7 L1866.0,436.5 L1868.2,436.3 L1870.1,436.0 L1871.9,435.5 L1873.6,434.8 L1875.1,433.9 L1876.7,432.7 L1878.3,431.4 L1880.0,430.0 L1881.9,428.5 L1884.0,427.2 L1886.2,426.1 L1888.6,425.4 L1891.0,425.0 L1893.4,425.1 L1895.7,425.6 L1897.8,426.6 L1899.7,428.1 L1901.4,429.9 L1902.8,431.9 L1903.8,434.1 L1904.7,436.4 L1905.3,438.7 L1905.9,440.8 L1906.4,442.8 L1907.1,444.6 L1907.8,446.2 L1908.8,447.8 L1910.1,449.2 L1911.5,450.6 L1913.2,452.2 L1915.1,453.8 L1917.0,455.7 L1918.8,457.7 L1920.5,460.0Z" fill="none" stroke="#eca08a" stroke-width="11" stroke-dasharray="0.9 3" opacity="0.45"/>
<path d="M1920.5,460.0 L1921.8,462.5 L1922.8,465.1 L1923.3,467.8 L1923.2,470.5 L1922.5,473.1 L1921.3,475.5 L1919.6,477.6 L1917.5,479.3 L1915.1,480.8 L1912.4,481.8 L1909.7,482.6 L1907.0,483.0 L1904.4,483.3 L1902.0,483.5 L1899.8,483.7 L1897.9,484.0 L1896.1,484.5 L1894.4,485.2 L1892.9,486.1 L1891.3,487.3 L1889.7,488.6 L1888.0,490.0 L1886.1,491.5 L1884.0,492.8 L1881.8,493.9 L1879.4,494.6 L1877.0,495.0 L1874.6,494.9 L1872.3,494.4 L1870.2,493.4 L1868.3,491.9 L1866.6,490.1 L1865.2,488.1 L1864.2,485.9 L1863.3,483.6 L1862.7,481.3 L1862.1,479.2 L1861.6,477.2 L1860.9,475.4 L1860.2,473.8 L1859.2,472.2 L1857.9,470.8 L1856.5,469.4 L1854.8,467.8 L1852.9,466.2 L1851.0,464.3 L1849.2,462.3 L1847.5,460.0 L1846.2,457.5 L1845.2,454.9 L1844.7,452.2 L1844.8,449.5 L1845.5,446.9 L1846.7,444.5 L1848.4,442.4 L1850.5,440.7 L1852.9,439.2 L1855.6,438.2 L1858.3,437.4 L1861.0,437.0 L1863.6,436.7 L1866.0,436.5 L1868.2,436.3 L1870.1,436.0 L1871.9,435.5 L1873.6,434.8 L1875.1,433.9 L1876.7,432.7 L1878.3,431.4 L1880.0,430.0 L1881.9,428.5 L1884.0,427.2 L1886.2,426.1 L1888.6,425.4 L1891.0,425.0 L1893.4,425.1 L1895.7,425.6 L1897.8,426.6 L1899.7,428.1 L1901.4,429.9 L1902.8,431.9 L1903.8,434.1 L1904.7,436.4 L1905.3,438.7 L1905.9,440.8 L1906.4,442.8 L1907.1,444.6 L1907.8,446.2 L1908.8,447.8 L1910.1,449.2 L1911.5,450.6 L1913.2,452.2 L1915.1,453.8 L1917.0,455.7 L1918.8,457.7 L1920.5,460.0Z" fill="none" stroke="#f4d080" stroke-width="6" stroke-dasharray="0.9 3.5" opacity="0.5"/>
<path d="M1913.6,460.0 L1915.1,462.0 L1916.2,464.2 L1916.8,466.5 L1916.9,468.8 L1916.4,471.0 L1915.3,473.0 L1913.7,474.7 L1911.7,476.0 L1909.4,477.0 L1907.0,477.6 L1904.4,477.9 L1902.0,478.0 L1899.7,477.8 L1897.6,477.7 L1895.7,477.5 L1894.1,477.5 L1892.8,477.8 L1891.6,478.3 L1890.5,479.1 L1889.4,480.2 L1888.3,481.5 L1887.0,483.0 L1885.6,484.5 L1884.0,485.9 L1882.2,487.1 L1880.3,488.1 L1878.3,488.6 L1876.3,488.6 L1874.4,488.2 L1872.7,487.3 L1871.2,486.0 L1869.9,484.4 L1869.0,482.4 L1868.4,480.4 L1867.9,478.3 L1867.7,476.3 L1867.6,474.4 L1867.4,472.7 L1867.1,471.3 L1866.6,470.0 L1865.9,468.9 L1864.8,467.9 L1863.5,467.0 L1861.8,465.9 L1860.0,464.8 L1858.1,463.4 L1856.2,461.8 L1854.4,460.0 L1852.9,458.0 L1851.8,455.8 L1851.2,453.5 L1851.1,451.2 L1851.6,449.0 L1852.7,447.0 L1854.3,445.3 L1856.3,444.0 L1858.6,443.0 L1861.0,442.4 L1863.6,442.1 L1866.0,442.0 L1868.3,442.2 L1870.4,442.3 L1872.3,442.5 L1873.9,442.5 L1875.2,442.2 L1876.4,441.7 L1877.5,440.9 L1878.6,439.8 L1879.7,438.5 L1881.0,437.0 L1882.4,435.5 L1884.0,434.1 L1885.8,432.9 L1887.7,431.9 L1889.7,431.4 L1891.7,431.4 L1893.6,431.8 L1895.3,432.7 L1896.8,434.0 L1898.1,435.6 L1899.0,437.6 L1899.6,439.6 L1900.1,441.7 L1900.3,443.7 L1900.4,445.6 L1900.6,447.3 L1900.9,448.7 L1901.4,450.0 L1902.1,451.1 L1903.2,452.1 L1904.5,453.0 L1906.2,454.1 L1908.0,455.2 L1909.9,456.6 L1911.8,458.2 L1913.6,460.0Z" fill="none" stroke="#fefefe" stroke-width="8"/>
<path d="M1913.6,460.0 L1915.1,462.0 L1916.2,464.2 L1916.8,466.5 L1916.9,468.8 L1916.4,471.0 L1915.3,473.0 L1913.7,474.7 L1911.7,476.0 L1909.4,477.0 L1907.0,477.6 L1904.4,477.9 L1902.0,478.0 L1899.7,477.8 L1897.6,477.7 L1895.7,477.5 L1894.1,477.5 L1892.8,477.8 L1891.6,478.3 L1890.5,479.1 L1889.4,480.2 L1888.3,481.5 L1887.0,483.0 L1885.6,484.5 L1884.0,485.9 L1882.2,487.1 L1880.3,488.1 L1878.3,488.6 L1876.3,488.6 L1874.4,488.2 L1872.7,487.3 L1871.2,486.0 L1869.9,484.4 L1869.0,482.4 L1868.4,480.4 L1867.9,478.3 L1867.7,476.3 L1867.6,474.4 L1867.4,472.7 L1867.1,471.3 L1866.6,470.0 L1865.9,468.9 L1864.8,467.9 L1863.5,467.0 L1861.8,465.9 L1860.0,464.8 L1858.1,463.4 L1856.2,461.8 L1854.4,460.0 L1852.9,458.0 L1851.8,455.8 L1851.2,453.5 L1851.1,451.2 L1851.6,449.0 L1852.7,447.0 L1854.3,445.3 L1856.3,444.0 L1858.6,443.0 L1861.0,442.4 L1863.6,442.1 L1866.0,442.0 L1868.3,442.2 L1870.4,442.3 L1872.3,442.5 L1873.9,442.5 L1875.2,442.2 L1876.4,441.7 L1877.5,440.9 L1878.6,439.8 L1879.7,438.5 L1881.0,437.0 L1882.4,435.5 L1884.0,434.1 L1885.8,432.9 L1887.7,431.9 L1889.7,431.4 L1891.7,431.4 L1893.6,431.8 L1895.3,432.7 L1896.8,434.0 L1898.1,435.6 L1899.0,437.6 L1899.6,439.6 L1900.1,441.7 L1900.3,443.7 L1900.4,445.6 L1900.6,447.3 L1900.9,448.7 L1901.4,450.0 L1902.1,451.1 L1903.2,452.1 L1904.5,453.0 L1906.2,454.1 L1908.0,455.2 L1909.9,456.6 L1911.8,458.2 L1913.6,460.0Z" fill="none" stroke="#e0d0d4" stroke-width="5.5"/>
<circle cx="1916.9" cy="468.8" r="2.3" fill="#e890a8" opacity="0.85"/>
<circle cx="1895.7" cy="477.5" r="2.3" fill="#58b8c8" opacity="0.85"/>
<circle cx="1880.3" cy="488.1" r="2.3" fill="#6ab870" opacity="0.85"/>
<circle cx="1867.6" cy="474.4" r="2.3" fill="#4a80d0" opacity="0.85"/>
<circle cx="1854.4" cy="460.0" r="2.3" fill="#8a4ac0" opacity="0.85"/>
<circle cx="1863.6" cy="442.1" r="2.3" fill="#e890a8" opacity="0.85"/>
<circle cx="1881.0" cy="437.0" r="2.3" fill="#58b8c8" opacity="0.85"/>
<circle cx="1899.0" cy="437.6" r="2.3" fill="#8a4ac0" opacity="0.85"/>
<circle cx="1906.2" cy="454.1" r="2.3" fill="#4a80d0" opacity="0.85"/>
<rect x="1834.5" y="528.5" width="65" height="65" fill="#fefefe" stroke="#58aee8" stroke-width="1.6"/>
<circle cx="1866" cy="538" r="6" fill="#f2d690" stroke="#e6c27a" stroke-width="0.8"/>
<circle cx="1890" cy="549" r="7" fill="#f2d690" stroke="#e6c27a" stroke-width="0.8"/>
<circle cx="1889" cy="568" r="5" fill="#f2d690" stroke="#e6c27a" stroke-width="0.8"/>
<circle cx="1883" cy="581" r="5.5" fill="#f2d690" stroke="#e6c27a" stroke-width="0.8"/>
<circle cx="1866" cy="587" r="6" fill="#f2d690" stroke="#e6c27a" stroke-width="0.8"/>
<circle cx="1848" cy="579" r="5" fill="#f2d690" stroke="#e6c27a" stroke-width="0.8"/>
<circle cx="1842" cy="563" r="5.5" fill="#f2d690" stroke="#e6c27a" stroke-width="0.8"/>
<circle cx="1849" cy="545" r="5" fill="#f2d690" stroke="#e6c27a" stroke-width="0.8"/>
<circle cx="1866" cy="563" r="23" fill="#f2d690"/>
<circle cx="1866" cy="538" r="4.4" fill="#f6e2b0"/>
<circle cx="1890" cy="549" r="5.4" fill="#f6e2b0"/>
<circle cx="1889" cy="568" r="3.4" fill="#f6e2b0"/>
<circle cx="1883" cy="581" r="3.9" fill="#f6e2b0"/>
<circle cx="1866" cy="587" r="4.4" fill="#f6e2b0"/>
<circle cx="1848" cy="579" r="3.4" fill="#f6e2b0"/>
<circle cx="1842" cy="563" r="3.9" fill="#f6e2b0"/>
<circle cx="1849" cy="545" r="3.4" fill="#f6e2b0"/>
<circle cx="1866" cy="564" r="19.5" fill="#fbf4de"/>
<defs><filter id="blur6" x="-20%" y="-20%" width="140%" height="140%"><feGaussianBlur stdDeviation="6"/></filter><filter id="blur2" x="-20%" y="-20%" width="140%" height="140%"><feGaussianBlur stdDeviation="1.5"/></filter><linearGradient id="vesG" x1="0" y1="0" x2="1" y2="0"><stop offset="0" stop-color="#c8303c"/><stop offset="0.7" stop-color="#c83a44"/><stop offset="1" stop-color="#e8a0a4" stop-opacity="0.4"/></linearGradient><linearGradient id="fadeR" x1="0" y1="0" x2="1" y2="0"><stop offset="0" stop-color="#fefefe" stop-opacity="0"/><stop offset="1" stop-color="#fefefe" stop-opacity="1"/></linearGradient><linearGradient id="fadeL" x1="1" y1="0" x2="0" y2="0"><stop offset="0" stop-color="#fefefe" stop-opacity="0"/><stop offset="1" stop-color="#fefefe" stop-opacity="1"/></linearGradient><radialGradient id="bcellG" cx="0.45" cy="0.4" r="0.6"><stop offset="0" stop-color="#3f9aa6"/><stop offset="0.55" stop-color="#5ab0bc"/><stop offset="0.6" stop-color="#a8d8e4"/><stop offset="1" stop-color="#c8e8f0"/></radialGradient><linearGradient id="kneeMaskG" x1="0" y1="0" x2="0" y2="1"><stop offset="0" stop-color="#fff" stop-opacity="0.6"/><stop offset="0.15" stop-color="#fff"/><stop offset="0.8" stop-color="#fff"/><stop offset="1" stop-color="#fff" stop-opacity="0"/></linearGradient><linearGradient id="kneeMaskH" x1="0" y1="0" x2="1" y2="0"><stop offset="0" stop-color="#fff" stop-opacity="0"/><stop offset="0.25" stop-color="#fff"/><stop offset="1" stop-color="#fff"/></linearGradient><mask id="kneeMask" maskContentUnits="userSpaceOnUse"><rect x="-10" y="-8" width="80" height="130" fill="url(#kneeMaskG)"/></mask><radialGradient id="nkG" cx="0.55" cy="0.55" r="0.6"><stop offset="0" stop-color="#a888d8"/><stop offset="0.5" stop-color="#b898e0"/><stop offset="0.55" stop-color="#d0c0ec"/><stop offset="1" stop-color="#e0d4f2"/></radialGradient></defs>
<rect x="1450" y="808" width="185" height="142" rx="10" fill="#fdeff0" filter="url(#blur6)"/>
<rect x="1690" y="798" width="182" height="162" rx="10" fill="#d4eef8" filter="url(#blur6)"/>
<g transform="translate(1440,812) scale(1.0)"><g mask="url(#kneeMask)"><path d="M6,0 L33,1 C36,10 44,18 51,24 C55,30 55,40 52,46 C48,50 40,52 34,54 L4,54 C0,46 -1,30 1,16 Z" fill="#ead3a6"/><path d="M36,20 C44,26 50,32 52,42" stroke="#d8bc88" stroke-width="1.2" fill="none"/><path d="M2,66 C12,62 36,62 48,66 C50,74 44,82 38,88 C34,100 33,110 33,118 L12,118 C12,106 10,94 6,86 C2,80 0,72 2,66 Z" fill="#ead3a6"/><path d="M14,88 C18,96 18,108 16,118 M30,86 C26,94 26,104 28,118" stroke="#d8bc88" stroke-width="1.2" fill="none"/><path d="M6,34 C12,30 20,36 24,46 C26,54 22,58 16,56 C10,54 6,46 6,34 Z" fill="#96ccea" opacity="0.9"/><path d="M0,58 C14,56 34,56 50,60 L50,66 C34,63 14,63 0,64 Z" fill="#b0daf0"/><ellipse cx="22" cy="36" rx="12" ry="10" fill="#e6c996" stroke="#d2b07a" stroke-width="0.8"/></g></g>
<circle cx="1485" cy="874" r="21.5" fill="#fefefe" stroke="#a6bce4" stroke-width="2"/>
<path d="M1468,868 C1476,860 1488,862 1496,866 C1500,872 1494,878 1486,878 C1480,882 1484,890 1492,892 M1476,872 C1478,880 1482,886 1480,892 M1488,862 C1490,856 1494,856 1500,860 M1496,866 C1502,870 1504,876 1502,884" stroke="#d83a44" stroke-width="1.1" fill="none"/>
<line x1="1513" y1="882" x2="1560" y2="882" stroke="#222" stroke-width="1.6" stroke-dasharray="3.2 2.6"/>
<path d="M1559,877.5 L1566,882 L1559,886.5 Z" fill="#222"/>
<rect x="1575" y="822" width="70" height="8.5" fill="url(#vesG)" opacity="1"/>
<rect x="1575" y="878" width="70" height="8.5" fill="url(#vesG)" opacity="1"/>
<rect x="1575" y="955" width="70" height="8.5" fill="url(#vesG)" opacity="0.55"/>
<path d="M1601.0,822.0 Q1602.9,815.3 1602.4,810.1" stroke="#d8747c" stroke-width="2.6" fill="none" stroke-linecap="round"/>
<path d="M1602.4,810.1 Q1603.4,806.2 1607.5,802.4" stroke="#d8747c" stroke-width="1.9" fill="none" stroke-linecap="round"/>
<path d="M1607.5,802.4 Q1609.1,801.7 1613.6,799.9" stroke="#d8747c" stroke-width="1.3" fill="none" stroke-linecap="round"/>
<path d="M1607.5,802.4 Q1608.0,800.3 1608.5,795.5" stroke="#d8747c" stroke-width="1.3" fill="none" stroke-linecap="round"/>
<path d="M1602.4,810.1 Q1599.5,805.0 1599.0,803.2" stroke="#d8747c" stroke-width="1.9" fill="none" stroke-linecap="round"/>
<path d="M1599.0,803.2 Q1598.6,801.3 1598.8,797.8" stroke="#d8747c" stroke-width="1.3" fill="none" stroke-linecap="round"/>
<path d="M1599.0,803.2 Q1594.6,801.9 1593.6,800.8" stroke="#d8747c" stroke-width="1.3" fill="none" stroke-linecap="round"/>
<path d="M1603.0,812.0 Q1609.1,810.1 1615.6,805.9" stroke="#dc8088" stroke-width="2.0" fill="none" stroke-linecap="round"/>
<path d="M1615.6,805.9 Q1621.7,804.8 1624.3,807.2" stroke="#dc8088" stroke-width="1.4" fill="none" stroke-linecap="round"/>
<path d="M1624.3,807.2 Q1627.5,811.7 1628.7,812.5" stroke="#dc8088" stroke-width="1.0" fill="none" stroke-linecap="round"/>
<path d="M1624.3,807.2 Q1628.6,803.8 1629.3,804.1" stroke="#dc8088" stroke-width="1.0" fill="none" stroke-linecap="round"/>
<path d="M1615.6,805.9 Q1620.9,802.5 1622.9,797.5" stroke="#dc8088" stroke-width="1.4" fill="none" stroke-linecap="round"/>
<path d="M1622.9,797.5 Q1627.2,794.1 1629.8,793.9" stroke="#dc8088" stroke-width="1.0" fill="none" stroke-linecap="round"/>
<path d="M1622.9,797.5 Q1623.0,791.6 1622.5,789.1" stroke="#dc8088" stroke-width="1.0" fill="none" stroke-linecap="round"/>
<path d="M1600.0,878.0 Q1598.5,869.9 1600.9,865.0" stroke="#b02a36" stroke-width="2.8" fill="none" stroke-linecap="round"/>
<path d="M1600.9,865.0 Q1603.5,862.2 1606.9,859.6" stroke="#b02a36" stroke-width="2.0" fill="none" stroke-linecap="round"/>
<path d="M1606.9,859.6 Q1608.5,860.7 1612.0,859.7" stroke="#b02a36" stroke-width="1.5" fill="none" stroke-linecap="round"/>
<path d="M1606.9,859.6 Q1607.5,858.9 1609.0,854.3" stroke="#b02a36" stroke-width="1.5" fill="none" stroke-linecap="round"/>
<path d="M1600.9,865.0 Q1598.9,861.0 1596.0,858.6" stroke="#b02a36" stroke-width="2.0" fill="none" stroke-linecap="round"/>
<path d="M1596.0,858.6 Q1594.2,856.3 1595.0,853.2" stroke="#b02a36" stroke-width="1.5" fill="none" stroke-linecap="round"/>
<path d="M1596.0,858.6 Q1593.9,859.3 1590.4,857.7" stroke="#b02a36" stroke-width="1.5" fill="none" stroke-linecap="round"/>
<path d="M1602.0,866.0 Q1608.9,863.9 1615.8,860.2" stroke="#b83440" stroke-width="2.0" fill="none" stroke-linecap="round"/>
<path d="M1615.8,860.2 Q1621.7,861.3 1625.0,863.0" stroke="#b83440" stroke-width="1.4" fill="none" stroke-linecap="round"/>
<path d="M1625.0,863.0 Q1629.2,866.9 1630.4,868.0" stroke="#b83440" stroke-width="1.0" fill="none" stroke-linecap="round"/>
<path d="M1625.0,863.0 Q1628.4,862.5 1632.1,860.0" stroke="#b83440" stroke-width="1.0" fill="none" stroke-linecap="round"/>
<path d="M1615.8,860.2 Q1618.9,855.8 1620.0,850.9" stroke="#b83440" stroke-width="1.4" fill="none" stroke-linecap="round"/>
<path d="M1620.0,850.9 Q1621.3,850.1 1626.0,847.9" stroke="#b83440" stroke-width="1.0" fill="none" stroke-linecap="round"/>
<path d="M1620.0,850.9 Q1619.1,848.2 1617.7,844.1" stroke="#b83440" stroke-width="1.0" fill="none" stroke-linecap="round"/>
<path d="M1602,955 C1601,948 1598,943 1594,938" stroke="#c02a38" stroke-width="3" fill="none"/>
<path d="M1595.3,929.2 C1589.3,923.2 1591.3,913.2 1597.3,914.2 C1603.3,915.2 1601.3,923.2 1596.3,922.2 C1592.3,921.2 1597.3,927.2 1604.3,929.2" stroke="#c02a38" stroke-width="2.2" fill="none" opacity="1.0"/>
<path d="M1603.2,936.8 C1597.2,930.8 1599.2,920.8 1605.2,921.8 C1611.2,922.8 1609.2,930.8 1604.2,929.8 C1600.2,928.8 1605.2,934.8 1612.2,936.8" stroke="#c02a38" stroke-width="2.2" fill="none" opacity="1.0"/>
<path d="M1608.0,933.1 C1602.0,927.1 1604.0,917.1 1610.0,918.1 C1616.0,919.1 1614.0,927.1 1609.0,926.1 C1605.0,925.1 1610.0,931.1 1617.0,933.1" stroke="#c02a38" stroke-width="2.2" fill="none" opacity="1.0"/>
<path d="M1614.6,929.8 C1608.6,923.8 1610.6,913.8 1616.6,914.8 C1622.6,915.8 1620.6,923.8 1615.6,922.8 C1611.6,921.8 1616.6,927.8 1623.6,929.8" stroke="#c02a38" stroke-width="2.2" fill="none" opacity="1.0"/>
<path d="M1624.6,937.3 C1618.6,931.3 1620.6,921.3 1626.6,922.3 C1632.6,923.3 1630.6,931.3 1625.6,930.3 C1621.6,929.3 1626.6,935.3 1633.6,937.3" stroke="#c02a38" stroke-width="2.2" fill="none" opacity="0.55"/>
<path d="M1630.3,936.4 C1624.3,930.4 1626.3,920.4 1632.3,921.4 C1638.3,922.4 1636.3,930.4 1631.3,929.4 C1627.3,928.4 1632.3,934.4 1639.3,936.4" stroke="#c02a38" stroke-width="2.2" fill="none" opacity="0.55"/>
<path d="M1638.5,934.6 C1632.5,928.6 1634.5,918.6 1640.5,919.6 C1646.5,920.6 1644.5,928.6 1639.5,927.6 C1635.5,926.6 1640.5,932.6 1647.5,934.6" stroke="#c02a38" stroke-width="2.2" fill="none" opacity="0.55"/>
<path d="M1594,938 C1598,934 1606,936 1612,940 C1618,942 1628,940 1636,934" stroke="#c83a44" stroke-width="2" fill="none"/>
<rect x="1628" y="790" width="22" height="180" fill="url(#fadeR)"/>
<path d="M1579,956 L1648,956" stroke="#fdeff0" stroke-width="0" />
<g transform="translate(1686,823) scale(1.0)"><g mask="url(#kneeMask)"><path d="M6,0 L33,1 C36,10 44,18 51,24 C55,30 55,40 52,46 C48,50 40,52 34,54 L4,54 C0,46 -1,30 1,16 Z" fill="#ead3a6"/><path d="M36,20 C44,26 50,32 52,42" stroke="#d8bc88" stroke-width="1.2" fill="none"/><path d="M2,66 C12,62 36,62 48,66 C50,74 44,82 38,88 C34,100 33,110 33,118 L12,118 C12,106 10,94 6,86 C2,80 0,72 2,66 Z" fill="#ead3a6"/><path d="M14,88 C18,96 18,108 16,118 M30,86 C26,94 26,104 28,118" stroke="#d8bc88" stroke-width="1.2" fill="none"/><path d="M6,34 C12,30 20,36 24,46 C26,54 22,58 16,56 C10,54 6,46 6,34 Z" fill="#96ccea" opacity="0.9"/><path d="M0,58 C14,56 34,56 50,60 L50,66 C34,63 14,63 0,64 Z" fill="#b0daf0"/><ellipse cx="22" cy="36" rx="12" ry="10" fill="#e6c996" stroke="#d2b07a" stroke-width="0.8"/></g></g>
<circle cx="1737" cy="877.5" r="21" fill="#fefefe" stroke="#a6bce4" stroke-width="2"/>
<path d="M1720,876 L1728,872 L1732,866 L1738,870 L1748,866 L1746,872 L1756,876 L1746,880 L1750,888 L1740,884 L1732,890 L1730,882 Z" fill="#f07878"/>
<ellipse cx="1738" cy="876" rx="3.5" ry="2.5" fill="#c84a5a"/>
<line x1="1763" y1="878.5" x2="1806" y2="878.5" stroke="#222" stroke-width="1.6" stroke-dasharray="3.2 2.6"/>
<path d="M1805,874 L1813,878.5 L1805,883 Z" fill="#222"/>
<circle cx="1852" cy="813.5" r="21" fill="url(#bcellG)"/>
<circle cx="1852" cy="875.5" r="20" fill="url(#nkG)"/>
<circle cx="1855" cy="878" r="12.5" fill="#bca0e2"/>
<path d="M1873.0,940.0 L1874.4,942.7 L1873.1,945.1 L1870.5,946.8 L1869.3,948.8 L1869.4,951.8 L1868.6,954.6 L1865.8,955.4 L1862.8,955.3 L1860.8,956.5 L1859.1,959.1 L1856.7,960.4 L1854.0,959.0 L1851.7,957.3 L1849.3,957.6 L1846.3,958.6 L1843.8,957.7 L1842.7,954.7 L1841.7,952.3 L1839.3,951.3 L1836.3,950.2 L1835.4,947.7 L1836.4,944.7 L1836.7,942.3 L1835.0,940.0 L1833.6,937.3 L1834.9,934.9 L1837.5,933.2 L1838.7,931.2 L1838.6,928.2 L1839.4,925.4 L1842.2,924.6 L1845.2,924.7 L1847.2,923.5 L1848.9,920.9 L1851.3,919.6 L1854.0,921.0 L1856.3,922.7 L1858.7,922.4 L1861.7,921.4 L1864.2,922.3 L1865.3,925.3 L1866.3,927.7 L1868.7,928.7 L1871.7,929.8 L1872.6,932.3 L1871.6,935.3 L1871.3,937.7 L1873.0,940.0Z" fill="#d2c6ee"/>
<circle cx="1856" cy="942" r="8.5" fill="#b8a4e0"/>
<rect x="1866" y="790" width="20" height="190" fill="url(#fadeR)"/></svg>
<div class="t" style="left:-9.5px;top:151px;width:800px;text-align:center;font-size:52px;line-height:52px;color:#fff;font-weight:400;-webkit-text-stroke:0.8px #fff">微纳载体研究</div>
<div class="t" style="left:624.5px;top:151px;width:800px;text-align:center;font-size:52px;line-height:52px;color:#fff;font-weight:400;-webkit-text-stroke:0.8px #fff"><span style="display:inline-block;transform:scaleX(0.77);transform-origin:100% 50%;margin-left:-15px">3D</span>生物打印研究</div>
<div class="t" style="left:1258.5px;top:151px;width:800px;text-align:center;font-size:52px;line-height:52px;color:#fff;font-weight:400;-webkit-text-stroke:0.8px #fff">类器官研究</div>
<div class="t" style="left:-7.5px;top:274px;width:800px;text-align:center;font-size:33px;line-height:33px;color:#0a2a6e;font-weight:700;letter-spacing:1.8px;text-indent:1.8px">微纳递药系统构建</div>
<div class="t" style="left:-7.5px;top:650px;width:800px;text-align:center;font-size:33px;line-height:33px;color:#0a2a6e;font-weight:700;letter-spacing:1.8px;text-indent:1.8px">体内药物精准递送</div>
<div class="t" style="left:623.5px;top:274px;width:800px;text-align:center;font-size:33px;line-height:33px;color:#0a2a6e;font-weight:700;letter-spacing:1.8px;text-indent:1.8px">有机<span style="margin:0 2px">/</span>无机复合</div>
<div class="t" style="left:623.5px;top:650px;width:800px;text-align:center;font-size:33px;line-height:33px;color:#0a2a6e;font-weight:700;letter-spacing:1.8px;text-indent:1.8px">多打印技术协同</div>
<div class="t" style="left:1260.5px;top:274px;width:800px;text-align:center;font-size:33px;line-height:33px;color:#0a2a6e;font-weight:700;letter-spacing:1.8px;text-indent:1.8px">肿瘤类器官</div>
<div class="t" style="left:1260.5px;top:650px;width:800px;text-align:center;font-size:33px;line-height:33px;color:#0a2a6e;font-weight:700;letter-spacing:1.8px;text-indent:1.8px">骨类器官</div>
<div class="t" style="left:-5px;top:863px;width:800px;text-align:center;font-size:13px;line-height:13px;color:#3a3a3a;font-weight:700;">骨修复</div>
<div class="t" style="left:538px;top:711px;width:800px;text-align:center;font-size:30px;line-height:30px;color:#0a2466;font-weight:900;-webkit-text-stroke:0.8px #0a2466">挤出式</div>
<div class="t" style="left:1130px;top:712px;width:800px;text-align:center;font-size:41px;line-height:41px;color:#0a2466;font-weight:900;-webkit-text-stroke:1.3px #0a2466">血管化</div>
<div class="t" style="left:1384px;top:712px;width:800px;text-align:center;font-size:41px;line-height:41px;color:#0a2466;font-weight:900;-webkit-text-stroke:1.3px #0a2466">免疫化</div>
<div class="t" style="left:1151px;top:897px;width:800px;text-align:center;font-size:14px;line-height:14px;color:#d03a48;font-weight:400;">Vascularization</div>
<div class="t" style="left:1388px;top:890px;width:800px;text-align:center;font-size:13.5px;line-height:13.5px;color:#3a90d0;font-weight:400;">Immunization</div>
<div class="t" style="left:1456px;top:839px;width:800px;text-align:center;font-size:11px;line-height:11px;color:#333;font-weight:400;">B cells</div>
<div class="t" style="left:1455px;top:895px;width:800px;text-align:center;font-size:11px;line-height:11px;color:#333;font-weight:400;">NK cells</div>
<div class="t" style="left:1446px;top:968px;width:800px;text-align:center;font-size:11px;line-height:11px;color:#ddd;font-weight:400;">Macrophage</div>
<div class="t" style="left:1347px;top:362px;width:800px;text-align:center;font-size:40px;line-height:40px;color:#0a2466;font-weight:900;-webkit-text-stroke:1.3px #0a2466">构建</div>
<div class="t" style="left:1357px;top:502px;width:800px;text-align:center;font-size:20px;line-height:20px;color:#222;font-weight:400;">应用</div>
<div class="t" style="left:1360px;top:520px;width:800px;text-align:center;font-size:40px;line-height:40px;color:#0a2466;font-weight:900;-webkit-text-stroke:1.3px #0a2466">应用</div>
<div class="t" style="left:698px;top:711px;width:800px;text-align:center;font-size:30px;line-height:30px;color:#0a2466;font-weight:900;-webkit-text-stroke:0.8px #0a2466">投影式</div>
<div class="t" style="left:152.5px;top:837px;width:800px;text-align:center;font-size:12.5px;line-height:12.5px;color:#3a3a3a;font-weight:700;">骨</div>
<div class="t" style="left:152.5px;top:851px;width:800px;text-align:center;font-size:12.5px;line-height:12.5px;color:#3a3a3a;font-weight:700;">转</div>
<div class="t" style="left:152.5px;top:865px;width:800px;text-align:center;font-size:12.5px;line-height:12.5px;color:#3a3a3a;font-weight:700;">移</div></body></html>
